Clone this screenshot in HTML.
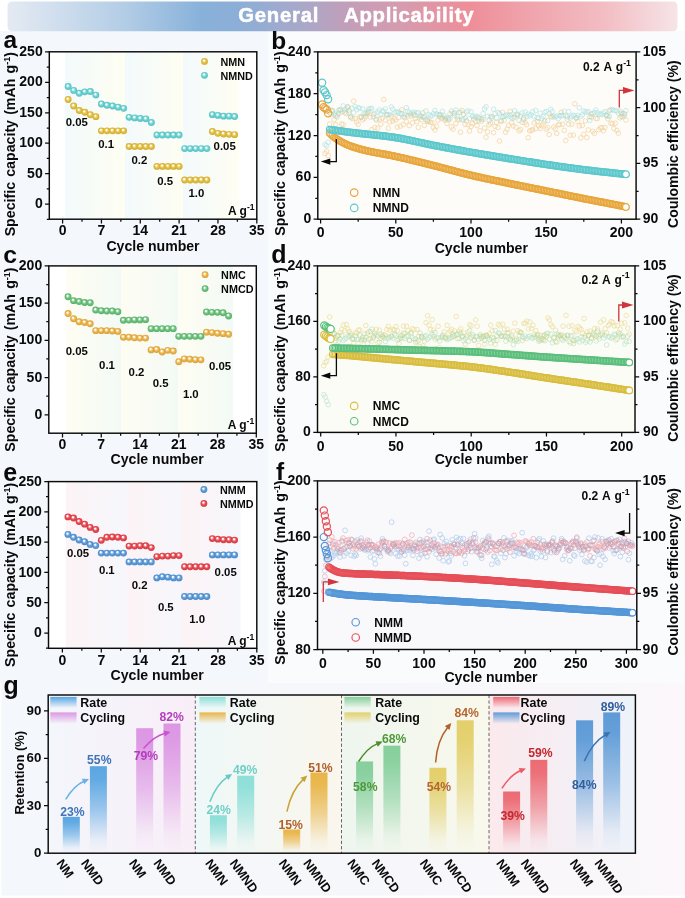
<!DOCTYPE html>
<html><head><meta charset="utf-8"><title>General Applicability</title>
<style>
html,body{margin:0;padding:0;background:#ffffff;}
body{width:685px;height:898px;overflow:hidden;}
svg{display:block;font-family:"Liberation Sans", sans-serif;font-weight:bold;will-change:transform;}
</style></head>
<body>
<svg width="685" height="898" viewBox="0 0 685 898">
<defs>
<linearGradient id="gbg" x1="0" y1="0" x2="1" y2="0"><stop offset="0" stop-color="#f4f7fb"/><stop offset="0.5" stop-color="#f6f7fb"/><stop offset="1" stop-color="#fbf7fa"/></linearGradient>
<linearGradient id="bnr" x1="8" y1="0" x2="677" y2="0" gradientUnits="userSpaceOnUse">
<stop offset="0" stop-color="#e4eaf3"/>
<stop offset="0.17" stop-color="#b4cee6"/>
<stop offset="0.29" stop-color="#88b1da"/>
<stop offset="0.35" stop-color="#8daed6"/>
<stop offset="0.44" stop-color="#a9a8c9"/>
<stop offset="0.51" stop-color="#c39eb9"/>
<stop offset="0.59" stop-color="#d69bae"/>
<stop offset="0.69" stop-color="#ee8e98"/>
<stop offset="0.78" stop-color="#f0a4ac"/>
<stop offset="0.89" stop-color="#f2bdc3"/>
<stop offset="1" stop-color="#f6e4e6"/>
</linearGradient>
<radialGradient id="sA1" cx="0.5" cy="0.5" r="0.55" fx="0.4" fy="0.34">
<stop offset="0" stop-color="#ffffff"/>
<stop offset="0.16" stop-color="#ffffff" stop-opacity="0.9"/>
<stop offset="0.3" stop-color="#f2dc8c"/>
<stop offset="0.55" stop-color="#e2c044"/>
<stop offset="1" stop-color="#cda62c"/>
</radialGradient>
<radialGradient id="sA2" cx="0.5" cy="0.5" r="0.55" fx="0.4" fy="0.34">
<stop offset="0" stop-color="#ffffff"/>
<stop offset="0.16" stop-color="#ffffff" stop-opacity="0.9"/>
<stop offset="0.3" stop-color="#aeeaea"/>
<stop offset="0.55" stop-color="#6dd0d1"/>
<stop offset="1" stop-color="#4fbdc0"/>
</radialGradient>
<linearGradient id="bA" x1="0" y1="0" x2="1" y2="0">
<stop offset="0" stop-color="#f3fafc"/><stop offset="1" stop-color="#fefef2"/></linearGradient>
<radialGradient id="sC1" cx="0.5" cy="0.5" r="0.55" fx="0.4" fy="0.34">
<stop offset="0" stop-color="#ffffff"/>
<stop offset="0.16" stop-color="#ffffff" stop-opacity="0.9"/>
<stop offset="0.3" stop-color="#f6d894"/>
<stop offset="0.55" stop-color="#eab44c"/>
<stop offset="1" stop-color="#d59c34"/>
</radialGradient>
<radialGradient id="sC2" cx="0.5" cy="0.5" r="0.55" fx="0.4" fy="0.34">
<stop offset="0" stop-color="#ffffff"/>
<stop offset="0.16" stop-color="#ffffff" stop-opacity="0.9"/>
<stop offset="0.3" stop-color="#aadeb4"/>
<stop offset="0.55" stop-color="#6dc27d"/>
<stop offset="1" stop-color="#52aa64"/>
</radialGradient>
<linearGradient id="bC" x1="0" y1="0" x2="1" y2="0">
<stop offset="0" stop-color="#fefdf3"/><stop offset="1" stop-color="#f3faf5"/></linearGradient>
<radialGradient id="sE1" cx="0.5" cy="0.5" r="0.55" fx="0.4" fy="0.34">
<stop offset="0" stop-color="#ffffff"/>
<stop offset="0.16" stop-color="#ffffff" stop-opacity="0.9"/>
<stop offset="0.3" stop-color="#a6caee"/>
<stop offset="0.55" stop-color="#5d9cd8"/>
<stop offset="1" stop-color="#4482c2"/>
</radialGradient>
<radialGradient id="sE2" cx="0.5" cy="0.5" r="0.55" fx="0.4" fy="0.34">
<stop offset="0" stop-color="#ffffff"/>
<stop offset="0.16" stop-color="#ffffff" stop-opacity="0.9"/>
<stop offset="0.3" stop-color="#f6a0a6"/>
<stop offset="0.55" stop-color="#e84a52"/>
<stop offset="1" stop-color="#cc343c"/>
</radialGradient>
<linearGradient id="bE" x1="0" y1="0" x2="1" y2="0">
<stop offset="0" stop-color="#fcf3f5"/><stop offset="1" stop-color="#f6f7fc"/></linearGradient>
<linearGradient id="gbg0" x1="0" y1="0" x2="1" y2="0">
<stop offset="0" stop-color="#f3f6fb"/><stop offset="1" stop-color="#f9eef7"/></linearGradient>
<linearGradient id="gbg1" x1="0" y1="0" x2="1" y2="0">
<stop offset="0" stop-color="#eef8f8"/><stop offset="1" stop-color="#faf6ed"/></linearGradient>
<linearGradient id="gbg2" x1="0" y1="0" x2="1" y2="0">
<stop offset="0" stop-color="#eef6ef"/><stop offset="1" stop-color="#f9f8ec"/></linearGradient>
<linearGradient id="gbg3" x1="0" y1="0" x2="1" y2="0">
<stop offset="0" stop-color="#fbe9ed"/><stop offset="1" stop-color="#eef3fa"/></linearGradient>
<linearGradient id="gb0rate" x1="0" y1="0" x2="0" y2="1"><stop offset="0" stop-color="#5aa6e2"/><stop offset="0.15" stop-color="#5aa6e2" stop-opacity="0.95"/><stop offset="0.5" stop-color="#5aa6e2" stop-opacity="0.58"/><stop offset="0.85" stop-color="#5aa6e2" stop-opacity="0.08"/><stop offset="1" stop-color="#5aa6e2" stop-opacity="0"/></linearGradient>
<linearGradient id="gb0cyc" x1="0" y1="0" x2="0" y2="1"><stop offset="0" stop-color="#dc97e3"/><stop offset="0.15" stop-color="#dc97e3" stop-opacity="0.95"/><stop offset="0.5" stop-color="#dc97e3" stop-opacity="0.58"/><stop offset="0.85" stop-color="#dc97e3" stop-opacity="0.08"/><stop offset="1" stop-color="#dc97e3" stop-opacity="0"/></linearGradient>
<linearGradient id="gl0rate" x1="0" y1="0" x2="0" y2="1"><stop offset="0" stop-color="#5aa6e2"/><stop offset="1" stop-color="#5aa6e2" stop-opacity="0.05"/></linearGradient>
<linearGradient id="gl0cyc" x1="0" y1="0" x2="0" y2="1"><stop offset="0" stop-color="#dc97e3"/><stop offset="1" stop-color="#dc97e3" stop-opacity="0.05"/></linearGradient>
<linearGradient id="gb1rate" x1="0" y1="0" x2="0" y2="1"><stop offset="0" stop-color="#8ddfd8"/><stop offset="0.15" stop-color="#8ddfd8" stop-opacity="0.95"/><stop offset="0.5" stop-color="#8ddfd8" stop-opacity="0.58"/><stop offset="0.85" stop-color="#8ddfd8" stop-opacity="0.08"/><stop offset="1" stop-color="#8ddfd8" stop-opacity="0"/></linearGradient>
<linearGradient id="gb1cyc" x1="0" y1="0" x2="0" y2="1"><stop offset="0" stop-color="#e9b548"/><stop offset="0.15" stop-color="#e9b548" stop-opacity="0.95"/><stop offset="0.5" stop-color="#e9b548" stop-opacity="0.58"/><stop offset="0.85" stop-color="#e9b548" stop-opacity="0.08"/><stop offset="1" stop-color="#e9b548" stop-opacity="0"/></linearGradient>
<linearGradient id="gl1rate" x1="0" y1="0" x2="0" y2="1"><stop offset="0" stop-color="#8ddfd8"/><stop offset="1" stop-color="#8ddfd8" stop-opacity="0.05"/></linearGradient>
<linearGradient id="gl1cyc" x1="0" y1="0" x2="0" y2="1"><stop offset="0" stop-color="#e9b548"/><stop offset="1" stop-color="#e9b548" stop-opacity="0.05"/></linearGradient>
<linearGradient id="gb2rate" x1="0" y1="0" x2="0" y2="1"><stop offset="0" stop-color="#86cf9c"/><stop offset="0.15" stop-color="#86cf9c" stop-opacity="0.95"/><stop offset="0.5" stop-color="#86cf9c" stop-opacity="0.58"/><stop offset="0.85" stop-color="#86cf9c" stop-opacity="0.08"/><stop offset="1" stop-color="#86cf9c" stop-opacity="0"/></linearGradient>
<linearGradient id="gb2cyc" x1="0" y1="0" x2="0" y2="1"><stop offset="0" stop-color="#e3cf6a"/><stop offset="0.15" stop-color="#e3cf6a" stop-opacity="0.95"/><stop offset="0.5" stop-color="#e3cf6a" stop-opacity="0.58"/><stop offset="0.85" stop-color="#e3cf6a" stop-opacity="0.08"/><stop offset="1" stop-color="#e3cf6a" stop-opacity="0"/></linearGradient>
<linearGradient id="gl2rate" x1="0" y1="0" x2="0" y2="1"><stop offset="0" stop-color="#86cf9c"/><stop offset="1" stop-color="#86cf9c" stop-opacity="0.05"/></linearGradient>
<linearGradient id="gl2cyc" x1="0" y1="0" x2="0" y2="1"><stop offset="0" stop-color="#e3cf6a"/><stop offset="1" stop-color="#e3cf6a" stop-opacity="0.05"/></linearGradient>
<linearGradient id="gb3rate" x1="0" y1="0" x2="0" y2="1"><stop offset="0" stop-color="#ec6b74"/><stop offset="0.15" stop-color="#ec6b74" stop-opacity="0.95"/><stop offset="0.5" stop-color="#ec6b74" stop-opacity="0.58"/><stop offset="0.85" stop-color="#ec6b74" stop-opacity="0.08"/><stop offset="1" stop-color="#ec6b74" stop-opacity="0"/></linearGradient>
<linearGradient id="gb3cyc" x1="0" y1="0" x2="0" y2="1"><stop offset="0" stop-color="#5e9bd7"/><stop offset="0.15" stop-color="#5e9bd7" stop-opacity="0.95"/><stop offset="0.5" stop-color="#5e9bd7" stop-opacity="0.58"/><stop offset="0.85" stop-color="#5e9bd7" stop-opacity="0.08"/><stop offset="1" stop-color="#5e9bd7" stop-opacity="0"/></linearGradient>
<linearGradient id="gl3rate" x1="0" y1="0" x2="0" y2="1"><stop offset="0" stop-color="#ec6b74"/><stop offset="1" stop-color="#ec6b74" stop-opacity="0.05"/></linearGradient>
<linearGradient id="gl3cyc" x1="0" y1="0" x2="0" y2="1"><stop offset="0" stop-color="#5e9bd7"/><stop offset="1" stop-color="#5e9bd7" stop-opacity="0.05"/></linearGradient>
</defs>
<rect x="0" y="0" width="685" height="898" fill="#ffffff"/>
<rect x="0" y="31" width="268" height="652" fill="#f4f7fb"/>
<rect x="268" y="31" width="417" height="652" fill="#fafbfc"/>
<rect x="0" y="683" width="685" height="212.5" fill="url(#gbg)"/>
<rect x="0" y="683" width="1.5" height="215" fill="#ffffff"/>
<rect x="7.5" y="1.5" width="670" height="29.7" rx="4.5" fill="url(#bnr)"/>
<g stroke="#ffffff" stroke-width="0.5">
<text x="238.3" y="21.9" font-size="20.3" text-anchor="start" fill="#ffffff" letter-spacing="0.75">General</text>
<text x="344" y="21.9" font-size="20.3" text-anchor="start" fill="#ffffff" letter-spacing="0.75">Applicability</text>
</g>
<rect x="49.3" y="51.8" width="207.5" height="167.4" fill="#ffffff"/>
<rect x="65" y="51.8" width="60" height="167.4" fill="url(#bA)"/>
<rect x="125" y="51.8" width="58" height="167.4" fill="url(#bA)"/>
<rect x="183" y="51.8" width="56" height="167.4" fill="url(#bA)"/>
<circle cx="68.15" cy="99.47" r="3.45" fill="url(#sA1)"/>
<circle cx="73.7" cy="105.99" r="3.45" fill="url(#sA1)"/>
<circle cx="79.25" cy="110.57" r="3.45" fill="url(#sA1)"/>
<circle cx="84.79" cy="112.27" r="3.45" fill="url(#sA1)"/>
<circle cx="90.34" cy="114.77" r="3.45" fill="url(#sA1)"/>
<circle cx="95.89" cy="116.66" r="3.45" fill="url(#sA1)"/>
<circle cx="101.44" cy="130.87" r="3.45" fill="url(#sA1)"/>
<circle cx="106.99" cy="130.87" r="3.45" fill="url(#sA1)"/>
<circle cx="112.54" cy="130.87" r="3.45" fill="url(#sA1)"/>
<circle cx="118.09" cy="130.87" r="3.45" fill="url(#sA1)"/>
<circle cx="123.63" cy="130.87" r="3.45" fill="url(#sA1)"/>
<circle cx="129.18" cy="146.53" r="3.45" fill="url(#sA1)"/>
<circle cx="134.73" cy="146.53" r="3.45" fill="url(#sA1)"/>
<circle cx="140.28" cy="146.53" r="3.45" fill="url(#sA1)"/>
<circle cx="145.83" cy="146.53" r="3.45" fill="url(#sA1)"/>
<circle cx="151.38" cy="146.53" r="3.45" fill="url(#sA1)"/>
<circle cx="156.93" cy="166.4" r="3.45" fill="url(#sA1)"/>
<circle cx="162.47" cy="166.4" r="3.45" fill="url(#sA1)"/>
<circle cx="168.02" cy="166.4" r="3.45" fill="url(#sA1)"/>
<circle cx="173.57" cy="166.4" r="3.45" fill="url(#sA1)"/>
<circle cx="179.12" cy="166.4" r="3.45" fill="url(#sA1)"/>
<circle cx="184.67" cy="180" r="3.45" fill="url(#sA1)"/>
<circle cx="190.22" cy="180" r="3.45" fill="url(#sA1)"/>
<circle cx="195.77" cy="180" r="3.45" fill="url(#sA1)"/>
<circle cx="201.31" cy="180" r="3.45" fill="url(#sA1)"/>
<circle cx="206.86" cy="180" r="3.45" fill="url(#sA1)"/>
<circle cx="212.41" cy="131.47" r="3.45" fill="url(#sA1)"/>
<circle cx="217.96" cy="133.36" r="3.45" fill="url(#sA1)"/>
<circle cx="223.51" cy="133.97" r="3.45" fill="url(#sA1)"/>
<circle cx="229.06" cy="134.34" r="3.45" fill="url(#sA1)"/>
<circle cx="234.61" cy="134.64" r="3.45" fill="url(#sA1)"/>
<circle cx="68.15" cy="86.49" r="3.45" fill="url(#sA2)"/>
<circle cx="73.7" cy="90.39" r="3.45" fill="url(#sA2)"/>
<circle cx="79.25" cy="93.25" r="3.45" fill="url(#sA2)"/>
<circle cx="84.79" cy="91.85" r="3.45" fill="url(#sA2)"/>
<circle cx="90.34" cy="91.55" r="3.45" fill="url(#sA2)"/>
<circle cx="95.89" cy="95.08" r="3.45" fill="url(#sA2)"/>
<circle cx="101.44" cy="103.98" r="3.45" fill="url(#sA2)"/>
<circle cx="106.99" cy="105.26" r="3.45" fill="url(#sA2)"/>
<circle cx="112.54" cy="106.05" r="3.45" fill="url(#sA2)"/>
<circle cx="118.09" cy="107.15" r="3.45" fill="url(#sA2)"/>
<circle cx="123.63" cy="108.37" r="3.45" fill="url(#sA2)"/>
<circle cx="129.18" cy="117.33" r="3.45" fill="url(#sA2)"/>
<circle cx="134.73" cy="117.88" r="3.45" fill="url(#sA2)"/>
<circle cx="140.28" cy="118.43" r="3.45" fill="url(#sA2)"/>
<circle cx="145.83" cy="118.86" r="3.45" fill="url(#sA2)"/>
<circle cx="151.38" cy="122.45" r="3.45" fill="url(#sA2)"/>
<circle cx="156.93" cy="135.07" r="3.45" fill="url(#sA2)"/>
<circle cx="162.47" cy="135.07" r="3.45" fill="url(#sA2)"/>
<circle cx="168.02" cy="135.07" r="3.45" fill="url(#sA2)"/>
<circle cx="173.57" cy="135.07" r="3.45" fill="url(#sA2)"/>
<circle cx="179.12" cy="135.07" r="3.45" fill="url(#sA2)"/>
<circle cx="184.67" cy="148.6" r="3.45" fill="url(#sA2)"/>
<circle cx="190.22" cy="148.6" r="3.45" fill="url(#sA2)"/>
<circle cx="195.77" cy="148.6" r="3.45" fill="url(#sA2)"/>
<circle cx="201.31" cy="148.6" r="3.45" fill="url(#sA2)"/>
<circle cx="206.86" cy="148.6" r="3.45" fill="url(#sA2)"/>
<circle cx="212.41" cy="114.65" r="3.45" fill="url(#sA2)"/>
<circle cx="217.96" cy="115.38" r="3.45" fill="url(#sA2)"/>
<circle cx="223.51" cy="116.17" r="3.45" fill="url(#sA2)"/>
<circle cx="229.06" cy="116.17" r="3.45" fill="url(#sA2)"/>
<circle cx="234.61" cy="116.54" r="3.45" fill="url(#sA2)"/>
<circle cx="204.5" cy="61.4" r="3.4" fill="url(#sA1)"/>
<text x="220.5" y="65.7" font-size="10.8" text-anchor="start" fill="#0a0a0a">NMN</text>
<circle cx="204.5" cy="75.3" r="3.4" fill="url(#sA2)"/>
<text x="220.5" y="79.6" font-size="10.8" text-anchor="start" fill="#0a0a0a">NMND</text>
<text x="76.8" y="126.1" font-size="11.4" text-anchor="middle" fill="#0a0a0a">0.05</text>
<text x="106.2" y="147.7" font-size="11.4" text-anchor="middle" fill="#0a0a0a">0.1</text>
<text x="139.4" y="164.1" font-size="11.4" text-anchor="middle" fill="#0a0a0a">0.2</text>
<text x="165.2" y="184.7" font-size="11.4" text-anchor="middle" fill="#0a0a0a">0.5</text>
<text x="196.4" y="196.6" font-size="11.4" text-anchor="middle" fill="#0a0a0a">1.0</text>
<text x="224.7" y="150.4" font-size="11.4" text-anchor="middle" fill="#0a0a0a">0.05</text>
<text x="254.6" y="214.7" font-size="12" text-anchor="end" fill="#0a0a0a">A g<tspan font-size="8.6" dy="-5">-1</tspan></text>
<rect x="49.3" y="51.8" width="207.5" height="167.4" fill="none" stroke="#0a0a0a" stroke-width="1.45"/>
<path d="M49.3 204.2h-4.2 M49.3 173.72h-4.2 M49.3 143.24h-4.2 M49.3 112.76h-4.2 M49.3 82.28h-4.2 M49.3 51.8h-4.2 M49.3 219.44h-2.5 M49.3 188.96h-2.5 M49.3 158.48h-2.5 M49.3 128h-2.5 M49.3 97.52h-2.5 M49.3 67.04h-2.5" stroke="#0a0a0a" stroke-width="1.25" fill="none"/>
<text x="42.7" y="208.26" font-size="14" text-anchor="end" fill="#0a0a0a">0</text>
<text x="42.7" y="177.78" font-size="14" text-anchor="end" fill="#0a0a0a">50</text>
<text x="42.7" y="147.3" font-size="14" text-anchor="end" fill="#0a0a0a">100</text>
<text x="42.7" y="116.82" font-size="14" text-anchor="end" fill="#0a0a0a">150</text>
<text x="42.7" y="86.34" font-size="14" text-anchor="end" fill="#0a0a0a">200</text>
<text x="42.7" y="55.86" font-size="14" text-anchor="end" fill="#0a0a0a">250</text>
<path d="M62.6 219.2v4.2 M101.44 219.2v4.2 M140.28 219.2v4.2 M179.12 219.2v4.2 M217.96 219.2v4.2 M256.8 219.2v4.2 M82.02 219.2v2.5 M120.86 219.2v2.5 M159.7 219.2v2.5 M198.54 219.2v2.5 M237.38 219.2v2.5" stroke="#0a0a0a" stroke-width="1.25" fill="none"/>
<text x="62.6" y="235.3" font-size="14" text-anchor="middle" fill="#0a0a0a">0</text>
<text x="101.44" y="235.3" font-size="14" text-anchor="middle" fill="#0a0a0a">7</text>
<text x="140.28" y="235.3" font-size="14" text-anchor="middle" fill="#0a0a0a">14</text>
<text x="179.12" y="235.3" font-size="14" text-anchor="middle" fill="#0a0a0a">21</text>
<text x="217.96" y="235.3" font-size="14" text-anchor="middle" fill="#0a0a0a">28</text>
<text x="256.8" y="235.3" font-size="14" text-anchor="middle" fill="#0a0a0a">35</text>
<text x="153" y="251" font-size="14.1" text-anchor="middle" fill="#0a0a0a">Cycle number</text>
<text x="0" y="0" font-size="14.2" text-anchor="middle" fill="#0a0a0a" word-spacing="1.2" transform="translate(15.4,144.2) rotate(-90)">Specific capacity (mAh g<tspan font-size="9" dy="-5.2">-1</tspan><tspan dy="5.2">)</tspan></text>
<text x="3.5" y="47.9" font-size="24.5" text-anchor="start" fill="#0a0a0a">a</text>
<rect x="48.8" y="265.9" width="207.5" height="167.3" fill="#ffffff"/>
<rect x="66.5" y="265.9" width="54.5" height="167.3" fill="url(#bC)"/>
<rect x="121" y="265.9" width="57" height="167.3" fill="url(#bC)"/>
<rect x="178" y="265.9" width="55" height="167.3" fill="url(#bC)"/>
<circle cx="68.04" cy="313.55" r="3.45" fill="url(#sC1)"/>
<circle cx="73.57" cy="318.76" r="3.45" fill="url(#sC1)"/>
<circle cx="79.11" cy="321.74" r="3.45" fill="url(#sC1)"/>
<circle cx="84.65" cy="322.48" r="3.45" fill="url(#sC1)"/>
<circle cx="90.19" cy="323.82" r="3.45" fill="url(#sC1)"/>
<circle cx="95.72" cy="330.67" r="3.45" fill="url(#sC1)"/>
<circle cx="101.26" cy="330.67" r="3.45" fill="url(#sC1)"/>
<circle cx="106.8" cy="330.67" r="3.45" fill="url(#sC1)"/>
<circle cx="112.33" cy="330.97" r="3.45" fill="url(#sC1)"/>
<circle cx="117.87" cy="331.42" r="3.45" fill="url(#sC1)"/>
<circle cx="123.41" cy="337.22" r="3.45" fill="url(#sC1)"/>
<circle cx="128.95" cy="337.22" r="3.45" fill="url(#sC1)"/>
<circle cx="134.48" cy="337.74" r="3.45" fill="url(#sC1)"/>
<circle cx="140.02" cy="338.12" r="3.45" fill="url(#sC1)"/>
<circle cx="145.56" cy="338.12" r="3.45" fill="url(#sC1)"/>
<circle cx="151.09" cy="349.88" r="3.45" fill="url(#sC1)"/>
<circle cx="156.63" cy="349.51" r="3.45" fill="url(#sC1)"/>
<circle cx="162.17" cy="351.96" r="3.45" fill="url(#sC1)"/>
<circle cx="167.71" cy="350.33" r="3.45" fill="url(#sC1)"/>
<circle cx="173.24" cy="351.07" r="3.45" fill="url(#sC1)"/>
<circle cx="178.78" cy="361.72" r="3.45" fill="url(#sC1)"/>
<circle cx="184.32" cy="358.89" r="3.45" fill="url(#sC1)"/>
<circle cx="189.85" cy="359.26" r="3.45" fill="url(#sC1)"/>
<circle cx="195.39" cy="359.71" r="3.45" fill="url(#sC1)"/>
<circle cx="200.93" cy="359.86" r="3.45" fill="url(#sC1)"/>
<circle cx="206.47" cy="332.16" r="3.45" fill="url(#sC1)"/>
<circle cx="212" cy="332.61" r="3.45" fill="url(#sC1)"/>
<circle cx="217.54" cy="333.28" r="3.45" fill="url(#sC1)"/>
<circle cx="223.08" cy="333.65" r="3.45" fill="url(#sC1)"/>
<circle cx="228.61" cy="334.25" r="3.45" fill="url(#sC1)"/>
<circle cx="68.04" cy="296.72" r="3.45" fill="url(#sC2)"/>
<circle cx="73.57" cy="300.67" r="3.45" fill="url(#sC2)"/>
<circle cx="79.11" cy="301.56" r="3.45" fill="url(#sC2)"/>
<circle cx="84.65" cy="302.45" r="3.45" fill="url(#sC2)"/>
<circle cx="90.19" cy="302.75" r="3.45" fill="url(#sC2)"/>
<circle cx="95.72" cy="310.05" r="3.45" fill="url(#sC2)"/>
<circle cx="101.26" cy="310.72" r="3.45" fill="url(#sC2)"/>
<circle cx="106.8" cy="311.02" r="3.45" fill="url(#sC2)"/>
<circle cx="112.33" cy="311.02" r="3.45" fill="url(#sC2)"/>
<circle cx="117.87" cy="311.69" r="3.45" fill="url(#sC2)"/>
<circle cx="123.41" cy="320.32" r="3.45" fill="url(#sC2)"/>
<circle cx="128.95" cy="320.1" r="3.45" fill="url(#sC2)"/>
<circle cx="134.48" cy="319.88" r="3.45" fill="url(#sC2)"/>
<circle cx="140.02" cy="319.88" r="3.45" fill="url(#sC2)"/>
<circle cx="145.56" cy="319.65" r="3.45" fill="url(#sC2)"/>
<circle cx="151.09" cy="328.66" r="3.45" fill="url(#sC2)"/>
<circle cx="156.63" cy="328.66" r="3.45" fill="url(#sC2)"/>
<circle cx="162.17" cy="328.66" r="3.45" fill="url(#sC2)"/>
<circle cx="167.71" cy="328.66" r="3.45" fill="url(#sC2)"/>
<circle cx="173.24" cy="328.66" r="3.45" fill="url(#sC2)"/>
<circle cx="178.78" cy="336.33" r="3.45" fill="url(#sC2)"/>
<circle cx="184.32" cy="336.33" r="3.45" fill="url(#sC2)"/>
<circle cx="189.85" cy="336.33" r="3.45" fill="url(#sC2)"/>
<circle cx="195.39" cy="336.33" r="3.45" fill="url(#sC2)"/>
<circle cx="200.93" cy="336.33" r="3.45" fill="url(#sC2)"/>
<circle cx="206.47" cy="311.98" r="3.45" fill="url(#sC2)"/>
<circle cx="212" cy="312.36" r="3.45" fill="url(#sC2)"/>
<circle cx="217.54" cy="312.36" r="3.45" fill="url(#sC2)"/>
<circle cx="223.08" cy="312.8" r="3.45" fill="url(#sC2)"/>
<circle cx="228.61" cy="315.93" r="3.45" fill="url(#sC2)"/>
<circle cx="205.1" cy="274.7" r="3.4" fill="url(#sC1)"/>
<text x="221.1" y="279" font-size="10.8" text-anchor="start" fill="#0a0a0a">NMC</text>
<circle cx="205.1" cy="288.6" r="3.4" fill="url(#sC2)"/>
<text x="221.1" y="292.9" font-size="10.8" text-anchor="start" fill="#0a0a0a">NMCD</text>
<text x="76.8" y="355.4" font-size="11.4" text-anchor="middle" fill="#0a0a0a">0.05</text>
<text x="107" y="368.5" font-size="11.4" text-anchor="middle" fill="#0a0a0a">0.1</text>
<text x="136.5" y="375.9" font-size="11.4" text-anchor="middle" fill="#0a0a0a">0.2</text>
<text x="160.6" y="386.9" font-size="11.4" text-anchor="middle" fill="#0a0a0a">0.5</text>
<text x="190.8" y="397.8" font-size="11.4" text-anchor="middle" fill="#0a0a0a">1.0</text>
<text x="220" y="370.3" font-size="11.4" text-anchor="middle" fill="#0a0a0a">0.05</text>
<text x="254.2" y="428.9" font-size="12" text-anchor="end" fill="#0a0a0a">A g<tspan font-size="8.6" dy="-5">-1</tspan></text>
<rect x="48.8" y="265.9" width="207.5" height="167.3" fill="none" stroke="#0a0a0a" stroke-width="1.45"/>
<path d="M48.8 414.8h-4.2 M48.8 377.57h-4.2 M48.8 340.35h-4.2 M48.8 303.12h-4.2 M48.8 265.9h-4.2 M48.8 396.19h-2.5 M48.8 358.96h-2.5 M48.8 321.74h-2.5 M48.8 284.51h-2.5" stroke="#0a0a0a" stroke-width="1.25" fill="none"/>
<text x="42.2" y="418.86" font-size="14" text-anchor="end" fill="#0a0a0a">0</text>
<text x="42.2" y="381.63" font-size="14" text-anchor="end" fill="#0a0a0a">50</text>
<text x="42.2" y="344.41" font-size="14" text-anchor="end" fill="#0a0a0a">100</text>
<text x="42.2" y="307.19" font-size="14" text-anchor="end" fill="#0a0a0a">150</text>
<text x="42.2" y="269.96" font-size="14" text-anchor="end" fill="#0a0a0a">200</text>
<path d="M62.5 433.2v4.2 M101.26 433.2v4.2 M140.02 433.2v4.2 M178.78 433.2v4.2 M217.54 433.2v4.2 M256.3 433.2v4.2 M81.88 433.2v2.5 M120.64 433.2v2.5 M159.4 433.2v2.5 M198.16 433.2v2.5 M236.92 433.2v2.5" stroke="#0a0a0a" stroke-width="1.25" fill="none"/>
<text x="62.5" y="449.3" font-size="14" text-anchor="middle" fill="#0a0a0a">0</text>
<text x="101.26" y="449.3" font-size="14" text-anchor="middle" fill="#0a0a0a">7</text>
<text x="140.02" y="449.3" font-size="14" text-anchor="middle" fill="#0a0a0a">14</text>
<text x="178.78" y="449.3" font-size="14" text-anchor="middle" fill="#0a0a0a">21</text>
<text x="217.54" y="449.3" font-size="14" text-anchor="middle" fill="#0a0a0a">28</text>
<text x="256.3" y="449.3" font-size="14" text-anchor="middle" fill="#0a0a0a">35</text>
<text x="157.2" y="464" font-size="14.1" text-anchor="middle" fill="#0a0a0a">Cycle number</text>
<text x="0" y="0" font-size="14.2" text-anchor="middle" fill="#0a0a0a" word-spacing="1.2" transform="translate(15.4,359.6) rotate(-90)">Specific capacity (mAh g<tspan font-size="9" dy="-5.2">-1</tspan><tspan dy="5.2">)</tspan></text>
<text x="3.3" y="262.85" font-size="24.8" text-anchor="start" fill="#0a0a0a">c</text>
<rect x="48.5" y="481.6" width="208.3" height="166.7" fill="#ffffff"/>
<rect x="66" y="481.6" width="60.5" height="166.7" fill="url(#bE)"/>
<rect x="126.5" y="481.6" width="54.5" height="166.7" fill="url(#bE)"/>
<rect x="181" y="481.6" width="59.5" height="166.7" fill="url(#bE)"/>
<circle cx="67.95" cy="534.41" r="3.45" fill="url(#sE1)"/>
<circle cx="73.51" cy="537.32" r="3.45" fill="url(#sE1)"/>
<circle cx="79.06" cy="539.98" r="3.45" fill="url(#sE1)"/>
<circle cx="84.62" cy="541.74" r="3.45" fill="url(#sE1)"/>
<circle cx="90.17" cy="544.4" r="3.45" fill="url(#sE1)"/>
<circle cx="95.73" cy="545.61" r="3.45" fill="url(#sE1)"/>
<circle cx="101.28" cy="553.12" r="3.45" fill="url(#sE1)"/>
<circle cx="106.83" cy="553.12" r="3.45" fill="url(#sE1)"/>
<circle cx="112.39" cy="553.12" r="3.45" fill="url(#sE1)"/>
<circle cx="117.94" cy="553.12" r="3.45" fill="url(#sE1)"/>
<circle cx="123.5" cy="553.12" r="3.45" fill="url(#sE1)"/>
<circle cx="129.05" cy="561.9" r="3.45" fill="url(#sE1)"/>
<circle cx="134.61" cy="561.9" r="3.45" fill="url(#sE1)"/>
<circle cx="140.16" cy="561.9" r="3.45" fill="url(#sE1)"/>
<circle cx="145.71" cy="561.9" r="3.45" fill="url(#sE1)"/>
<circle cx="151.27" cy="561.9" r="3.45" fill="url(#sE1)"/>
<circle cx="156.82" cy="577.89" r="3.45" fill="url(#sE1)"/>
<circle cx="162.38" cy="576.74" r="3.45" fill="url(#sE1)"/>
<circle cx="167.93" cy="577.16" r="3.45" fill="url(#sE1)"/>
<circle cx="173.49" cy="577.89" r="3.45" fill="url(#sE1)"/>
<circle cx="179.04" cy="577.89" r="3.45" fill="url(#sE1)"/>
<circle cx="184.59" cy="596.48" r="3.45" fill="url(#sE1)"/>
<circle cx="190.15" cy="596.48" r="3.45" fill="url(#sE1)"/>
<circle cx="195.7" cy="596.48" r="3.45" fill="url(#sE1)"/>
<circle cx="201.26" cy="596.48" r="3.45" fill="url(#sE1)"/>
<circle cx="206.81" cy="596.48" r="3.45" fill="url(#sE1)"/>
<circle cx="212.37" cy="554.88" r="3.45" fill="url(#sE1)"/>
<circle cx="217.92" cy="554.88" r="3.45" fill="url(#sE1)"/>
<circle cx="223.47" cy="554.88" r="3.45" fill="url(#sE1)"/>
<circle cx="229.03" cy="554.88" r="3.45" fill="url(#sE1)"/>
<circle cx="234.58" cy="554.88" r="3.45" fill="url(#sE1)"/>
<circle cx="67.95" cy="516.91" r="3.45" fill="url(#sE2)"/>
<circle cx="73.51" cy="518.06" r="3.45" fill="url(#sE2)"/>
<circle cx="79.06" cy="521.57" r="3.45" fill="url(#sE2)"/>
<circle cx="84.62" cy="524.17" r="3.45" fill="url(#sE2)"/>
<circle cx="90.17" cy="527.38" r="3.45" fill="url(#sE2)"/>
<circle cx="95.73" cy="529.5" r="3.45" fill="url(#sE2)"/>
<circle cx="101.28" cy="540.34" r="3.45" fill="url(#sE2)"/>
<circle cx="106.83" cy="537.32" r="3.45" fill="url(#sE2)"/>
<circle cx="112.39" cy="537.01" r="3.45" fill="url(#sE2)"/>
<circle cx="117.94" cy="537.32" r="3.45" fill="url(#sE2)"/>
<circle cx="123.5" cy="537.92" r="3.45" fill="url(#sE2)"/>
<circle cx="129.05" cy="546.1" r="3.45" fill="url(#sE2)"/>
<circle cx="134.61" cy="546.1" r="3.45" fill="url(#sE2)"/>
<circle cx="140.16" cy="545.79" r="3.45" fill="url(#sE2)"/>
<circle cx="145.71" cy="545.79" r="3.45" fill="url(#sE2)"/>
<circle cx="151.27" cy="547.61" r="3.45" fill="url(#sE2)"/>
<circle cx="156.82" cy="556.69" r="3.45" fill="url(#sE2)"/>
<circle cx="162.38" cy="556.09" r="3.45" fill="url(#sE2)"/>
<circle cx="167.93" cy="556.09" r="3.45" fill="url(#sE2)"/>
<circle cx="173.49" cy="555.6" r="3.45" fill="url(#sE2)"/>
<circle cx="179.04" cy="555.6" r="3.45" fill="url(#sE2)"/>
<circle cx="184.59" cy="566.81" r="3.45" fill="url(#sE2)"/>
<circle cx="190.15" cy="566.81" r="3.45" fill="url(#sE2)"/>
<circle cx="195.7" cy="566.81" r="3.45" fill="url(#sE2)"/>
<circle cx="201.26" cy="566.81" r="3.45" fill="url(#sE2)"/>
<circle cx="206.81" cy="566.81" r="3.45" fill="url(#sE2)"/>
<circle cx="212.37" cy="538.59" r="3.45" fill="url(#sE2)"/>
<circle cx="217.92" cy="539.13" r="3.45" fill="url(#sE2)"/>
<circle cx="223.47" cy="539.74" r="3.45" fill="url(#sE2)"/>
<circle cx="229.03" cy="539.74" r="3.45" fill="url(#sE2)"/>
<circle cx="234.58" cy="540.1" r="3.45" fill="url(#sE2)"/>
<circle cx="203.9" cy="489.5" r="3.4" fill="url(#sE1)"/>
<text x="219.9" y="493.8" font-size="10.8" text-anchor="start" fill="#0a0a0a">NMM</text>
<circle cx="203.9" cy="503.4" r="3.4" fill="url(#sE2)"/>
<text x="219.9" y="507.7" font-size="10.8" text-anchor="start" fill="#0a0a0a">NMMD</text>
<text x="78" y="556.7" font-size="11.4" text-anchor="middle" fill="#0a0a0a">0.05</text>
<text x="106.8" y="574.2" font-size="11.4" text-anchor="middle" fill="#0a0a0a">0.1</text>
<text x="139.6" y="589.1" font-size="11.4" text-anchor="middle" fill="#0a0a0a">0.2</text>
<text x="165.8" y="610.6" font-size="11.4" text-anchor="middle" fill="#0a0a0a">0.5</text>
<text x="197.1" y="622.7" font-size="11.4" text-anchor="middle" fill="#0a0a0a">1.0</text>
<text x="225.7" y="575.8" font-size="11.4" text-anchor="middle" fill="#0a0a0a">0.05</text>
<text x="254.2" y="645.1" font-size="12" text-anchor="end" fill="#0a0a0a">A g<tspan font-size="8.6" dy="-5">-1</tspan></text>
<rect x="48.5" y="481.6" width="208.3" height="166.7" fill="none" stroke="#0a0a0a" stroke-width="1.45"/>
<path d="M48.5 633h-4.2 M48.5 602.72h-4.2 M48.5 572.44h-4.2 M48.5 542.16h-4.2 M48.5 511.88h-4.2 M48.5 481.6h-4.2 M48.5 648.14h-2.5 M48.5 617.86h-2.5 M48.5 587.58h-2.5 M48.5 557.3h-2.5 M48.5 527.02h-2.5 M48.5 496.74h-2.5" stroke="#0a0a0a" stroke-width="1.25" fill="none"/>
<text x="41.9" y="637.06" font-size="14" text-anchor="end" fill="#0a0a0a">0</text>
<text x="41.9" y="606.78" font-size="14" text-anchor="end" fill="#0a0a0a">50</text>
<text x="41.9" y="576.5" font-size="14" text-anchor="end" fill="#0a0a0a">100</text>
<text x="41.9" y="546.22" font-size="14" text-anchor="end" fill="#0a0a0a">150</text>
<text x="41.9" y="515.94" font-size="14" text-anchor="end" fill="#0a0a0a">200</text>
<text x="41.9" y="485.66" font-size="14" text-anchor="end" fill="#0a0a0a">250</text>
<path d="M62.4 648.3v4.2 M101.28 648.3v4.2 M140.16 648.3v4.2 M179.04 648.3v4.2 M217.92 648.3v4.2 M256.8 648.3v4.2 M81.84 648.3v2.5 M120.72 648.3v2.5 M159.6 648.3v2.5 M198.48 648.3v2.5 M237.36 648.3v2.5" stroke="#0a0a0a" stroke-width="1.25" fill="none"/>
<text x="62.4" y="665.3" font-size="14" text-anchor="middle" fill="#0a0a0a">0</text>
<text x="101.28" y="665.3" font-size="14" text-anchor="middle" fill="#0a0a0a">7</text>
<text x="140.16" y="665.3" font-size="14" text-anchor="middle" fill="#0a0a0a">14</text>
<text x="179.04" y="665.3" font-size="14" text-anchor="middle" fill="#0a0a0a">21</text>
<text x="217.92" y="665.3" font-size="14" text-anchor="middle" fill="#0a0a0a">28</text>
<text x="256.8" y="665.3" font-size="14" text-anchor="middle" fill="#0a0a0a">35</text>
<text x="157.2" y="679.6" font-size="14.1" text-anchor="middle" fill="#0a0a0a">Cycle number</text>
<text x="0" y="0" font-size="14.2" text-anchor="middle" fill="#0a0a0a" word-spacing="1.2" transform="translate(15.4,574.8) rotate(-90)">Specific capacity (mAh g<tspan font-size="9" dy="-5.2">-1</tspan><tspan dy="5.2">)</tspan></text>
<text x="3.3" y="481.25" font-size="25" text-anchor="start" fill="#0a0a0a">e</text>
<rect x="317.8" y="51.9" width="318.3" height="167.3" fill="#fdfcf9"/>
<g opacity="0.45"><circle cx="325.11" cy="153.4" r="2.3" fill="none" stroke="#e8a63c" stroke-width="0.8"/><circle cx="326.62" cy="151.16" r="2.3" fill="none" stroke="#e8a63c" stroke-width="0.8"/><circle cx="328.12" cy="155.63" r="2.3" fill="none" stroke="#e8a63c" stroke-width="0.8"/><circle cx="329.62" cy="124.1" r="2.3" fill="none" stroke="#e8a63c" stroke-width="0.8"/><circle cx="331.13" cy="114.27" r="2.3" fill="none" stroke="#e8a63c" stroke-width="0.8"/><circle cx="332.63" cy="110.49" r="2.3" fill="none" stroke="#e8a63c" stroke-width="0.8"/><circle cx="334.14" cy="119.74" r="2.3" fill="none" stroke="#e8a63c" stroke-width="0.8"/><circle cx="335.64" cy="124.74" r="2.3" fill="none" stroke="#e8a63c" stroke-width="0.8"/><circle cx="337.14" cy="116.99" r="2.3" fill="none" stroke="#e8a63c" stroke-width="0.8"/><circle cx="338.65" cy="113.66" r="2.3" fill="none" stroke="#e8a63c" stroke-width="0.8"/><circle cx="340.15" cy="109.85" r="2.3" fill="none" stroke="#e8a63c" stroke-width="0.8"/><circle cx="341.66" cy="124.05" r="2.3" fill="none" stroke="#e8a63c" stroke-width="0.8"/><circle cx="343.16" cy="124.52" r="2.3" fill="none" stroke="#e8a63c" stroke-width="0.8"/><circle cx="344.66" cy="112.26" r="2.3" fill="none" stroke="#e8a63c" stroke-width="0.8"/><circle cx="346.17" cy="113.68" r="2.3" fill="none" stroke="#e8a63c" stroke-width="0.8"/><circle cx="347.67" cy="107.18" r="2.3" fill="none" stroke="#e8a63c" stroke-width="0.8"/><circle cx="349.18" cy="110.56" r="2.3" fill="none" stroke="#e8a63c" stroke-width="0.8"/><circle cx="350.68" cy="117.21" r="2.3" fill="none" stroke="#e8a63c" stroke-width="0.8"/><circle cx="352.18" cy="118.41" r="2.3" fill="none" stroke="#e8a63c" stroke-width="0.8"/><circle cx="353.69" cy="101.11" r="2.3" fill="none" stroke="#e8a63c" stroke-width="0.8"/><circle cx="355.19" cy="118.79" r="2.3" fill="none" stroke="#e8a63c" stroke-width="0.8"/><circle cx="356.7" cy="121.98" r="2.3" fill="none" stroke="#e8a63c" stroke-width="0.8"/><circle cx="358.2" cy="124.29" r="2.3" fill="none" stroke="#e8a63c" stroke-width="0.8"/><circle cx="359.7" cy="116.86" r="2.3" fill="none" stroke="#e8a63c" stroke-width="0.8"/><circle cx="361.21" cy="116.7" r="2.3" fill="none" stroke="#e8a63c" stroke-width="0.8"/><circle cx="362.71" cy="119.85" r="2.3" fill="none" stroke="#e8a63c" stroke-width="0.8"/><circle cx="364.22" cy="118.26" r="2.3" fill="none" stroke="#e8a63c" stroke-width="0.8"/><circle cx="365.72" cy="116.34" r="2.3" fill="none" stroke="#e8a63c" stroke-width="0.8"/><circle cx="367.22" cy="113.91" r="2.3" fill="none" stroke="#e8a63c" stroke-width="0.8"/><circle cx="368.73" cy="111.57" r="2.3" fill="none" stroke="#e8a63c" stroke-width="0.8"/><circle cx="370.23" cy="117.16" r="2.3" fill="none" stroke="#e8a63c" stroke-width="0.8"/><circle cx="371.74" cy="129.56" r="2.3" fill="none" stroke="#e8a63c" stroke-width="0.8"/><circle cx="373.24" cy="114.42" r="2.3" fill="none" stroke="#e8a63c" stroke-width="0.8"/><circle cx="374.74" cy="127.57" r="2.3" fill="none" stroke="#e8a63c" stroke-width="0.8"/><circle cx="376.25" cy="120.05" r="2.3" fill="none" stroke="#e8a63c" stroke-width="0.8"/><circle cx="377.75" cy="128.18" r="2.3" fill="none" stroke="#e8a63c" stroke-width="0.8"/><circle cx="379.26" cy="119.27" r="2.3" fill="none" stroke="#e8a63c" stroke-width="0.8"/><circle cx="380.76" cy="124.19" r="2.3" fill="none" stroke="#e8a63c" stroke-width="0.8"/><circle cx="382.26" cy="118.24" r="2.3" fill="none" stroke="#e8a63c" stroke-width="0.8"/><circle cx="383.77" cy="99.45" r="2.3" fill="none" stroke="#e8a63c" stroke-width="0.8"/><circle cx="385.27" cy="120.13" r="2.3" fill="none" stroke="#e8a63c" stroke-width="0.8"/><circle cx="386.78" cy="114.8" r="2.3" fill="none" stroke="#e8a63c" stroke-width="0.8"/><circle cx="388.28" cy="128.21" r="2.3" fill="none" stroke="#e8a63c" stroke-width="0.8"/><circle cx="389.78" cy="122" r="2.3" fill="none" stroke="#e8a63c" stroke-width="0.8"/><circle cx="391.29" cy="116.3" r="2.3" fill="none" stroke="#e8a63c" stroke-width="0.8"/><circle cx="392.79" cy="121.07" r="2.3" fill="none" stroke="#e8a63c" stroke-width="0.8"/><circle cx="394.3" cy="118.36" r="2.3" fill="none" stroke="#e8a63c" stroke-width="0.8"/><circle cx="395.8" cy="120.13" r="2.3" fill="none" stroke="#e8a63c" stroke-width="0.8"/><circle cx="397.3" cy="127.06" r="2.3" fill="none" stroke="#e8a63c" stroke-width="0.8"/><circle cx="398.81" cy="117.56" r="2.3" fill="none" stroke="#e8a63c" stroke-width="0.8"/><circle cx="400.31" cy="126.13" r="2.3" fill="none" stroke="#e8a63c" stroke-width="0.8"/><circle cx="401.82" cy="109.79" r="2.3" fill="none" stroke="#e8a63c" stroke-width="0.8"/><circle cx="403.32" cy="124.5" r="2.3" fill="none" stroke="#e8a63c" stroke-width="0.8"/><circle cx="404.82" cy="117.32" r="2.3" fill="none" stroke="#e8a63c" stroke-width="0.8"/><circle cx="406.33" cy="121.64" r="2.3" fill="none" stroke="#e8a63c" stroke-width="0.8"/><circle cx="407.83" cy="115.93" r="2.3" fill="none" stroke="#e8a63c" stroke-width="0.8"/><circle cx="409.34" cy="125.59" r="2.3" fill="none" stroke="#e8a63c" stroke-width="0.8"/><circle cx="410.84" cy="115.89" r="2.3" fill="none" stroke="#e8a63c" stroke-width="0.8"/><circle cx="412.34" cy="122.9" r="2.3" fill="none" stroke="#e8a63c" stroke-width="0.8"/><circle cx="413.85" cy="114.51" r="2.3" fill="none" stroke="#e8a63c" stroke-width="0.8"/><circle cx="415.35" cy="118.54" r="2.3" fill="none" stroke="#e8a63c" stroke-width="0.8"/><circle cx="416.86" cy="121.62" r="2.3" fill="none" stroke="#e8a63c" stroke-width="0.8"/><circle cx="418.36" cy="127.39" r="2.3" fill="none" stroke="#e8a63c" stroke-width="0.8"/><circle cx="419.86" cy="118.01" r="2.3" fill="none" stroke="#e8a63c" stroke-width="0.8"/><circle cx="421.37" cy="119.96" r="2.3" fill="none" stroke="#e8a63c" stroke-width="0.8"/><circle cx="422.87" cy="112.87" r="2.3" fill="none" stroke="#e8a63c" stroke-width="0.8"/><circle cx="424.38" cy="125.37" r="2.3" fill="none" stroke="#e8a63c" stroke-width="0.8"/><circle cx="425.88" cy="119.76" r="2.3" fill="none" stroke="#e8a63c" stroke-width="0.8"/><circle cx="427.38" cy="120.15" r="2.3" fill="none" stroke="#e8a63c" stroke-width="0.8"/><circle cx="428.89" cy="121.64" r="2.3" fill="none" stroke="#e8a63c" stroke-width="0.8"/><circle cx="430.39" cy="122.2" r="2.3" fill="none" stroke="#e8a63c" stroke-width="0.8"/><circle cx="431.9" cy="122.47" r="2.3" fill="none" stroke="#e8a63c" stroke-width="0.8"/><circle cx="433.4" cy="127.36" r="2.3" fill="none" stroke="#e8a63c" stroke-width="0.8"/><circle cx="434.9" cy="130.01" r="2.3" fill="none" stroke="#e8a63c" stroke-width="0.8"/><circle cx="436.41" cy="126.32" r="2.3" fill="none" stroke="#e8a63c" stroke-width="0.8"/><circle cx="437.91" cy="120.36" r="2.3" fill="none" stroke="#e8a63c" stroke-width="0.8"/><circle cx="439.42" cy="114.81" r="2.3" fill="none" stroke="#e8a63c" stroke-width="0.8"/><circle cx="440.92" cy="118.18" r="2.3" fill="none" stroke="#e8a63c" stroke-width="0.8"/><circle cx="442.42" cy="117.81" r="2.3" fill="none" stroke="#e8a63c" stroke-width="0.8"/><circle cx="443.93" cy="119.59" r="2.3" fill="none" stroke="#e8a63c" stroke-width="0.8"/><circle cx="445.43" cy="120.17" r="2.3" fill="none" stroke="#e8a63c" stroke-width="0.8"/><circle cx="446.94" cy="123.41" r="2.3" fill="none" stroke="#e8a63c" stroke-width="0.8"/><circle cx="448.44" cy="119.89" r="2.3" fill="none" stroke="#e8a63c" stroke-width="0.8"/><circle cx="449.94" cy="113.83" r="2.3" fill="none" stroke="#e8a63c" stroke-width="0.8"/><circle cx="451.45" cy="126.8" r="2.3" fill="none" stroke="#e8a63c" stroke-width="0.8"/><circle cx="452.95" cy="129.13" r="2.3" fill="none" stroke="#e8a63c" stroke-width="0.8"/><circle cx="454.46" cy="112.93" r="2.3" fill="none" stroke="#e8a63c" stroke-width="0.8"/><circle cx="455.96" cy="123.53" r="2.3" fill="none" stroke="#e8a63c" stroke-width="0.8"/><circle cx="457.46" cy="119.15" r="2.3" fill="none" stroke="#e8a63c" stroke-width="0.8"/><circle cx="458.97" cy="119.82" r="2.3" fill="none" stroke="#e8a63c" stroke-width="0.8"/><circle cx="460.47" cy="132.23" r="2.3" fill="none" stroke="#e8a63c" stroke-width="0.8"/><circle cx="461.98" cy="110.4" r="2.3" fill="none" stroke="#e8a63c" stroke-width="0.8"/><circle cx="463.48" cy="114.51" r="2.3" fill="none" stroke="#e8a63c" stroke-width="0.8"/><circle cx="464.98" cy="124.38" r="2.3" fill="none" stroke="#e8a63c" stroke-width="0.8"/><circle cx="466.49" cy="120.92" r="2.3" fill="none" stroke="#e8a63c" stroke-width="0.8"/><circle cx="467.99" cy="124.82" r="2.3" fill="none" stroke="#e8a63c" stroke-width="0.8"/><circle cx="469.5" cy="131.08" r="2.3" fill="none" stroke="#e8a63c" stroke-width="0.8"/><circle cx="471" cy="126.41" r="2.3" fill="none" stroke="#e8a63c" stroke-width="0.8"/><circle cx="472.5" cy="123.48" r="2.3" fill="none" stroke="#e8a63c" stroke-width="0.8"/><circle cx="474.01" cy="118.99" r="2.3" fill="none" stroke="#e8a63c" stroke-width="0.8"/><circle cx="475.51" cy="121.54" r="2.3" fill="none" stroke="#e8a63c" stroke-width="0.8"/><circle cx="477.02" cy="125.58" r="2.3" fill="none" stroke="#e8a63c" stroke-width="0.8"/><circle cx="478.52" cy="117.68" r="2.3" fill="none" stroke="#e8a63c" stroke-width="0.8"/><circle cx="480.02" cy="130.71" r="2.3" fill="none" stroke="#e8a63c" stroke-width="0.8"/><circle cx="481.53" cy="121.23" r="2.3" fill="none" stroke="#e8a63c" stroke-width="0.8"/><circle cx="483.03" cy="119.31" r="2.3" fill="none" stroke="#e8a63c" stroke-width="0.8"/><circle cx="484.54" cy="127.97" r="2.3" fill="none" stroke="#e8a63c" stroke-width="0.8"/><circle cx="486.04" cy="137.2" r="2.3" fill="none" stroke="#e8a63c" stroke-width="0.8"/><circle cx="487.54" cy="131.82" r="2.3" fill="none" stroke="#e8a63c" stroke-width="0.8"/><circle cx="489.05" cy="124.84" r="2.3" fill="none" stroke="#e8a63c" stroke-width="0.8"/><circle cx="490.55" cy="123.1" r="2.3" fill="none" stroke="#e8a63c" stroke-width="0.8"/><circle cx="492.06" cy="116.87" r="2.3" fill="none" stroke="#e8a63c" stroke-width="0.8"/><circle cx="493.56" cy="132.56" r="2.3" fill="none" stroke="#e8a63c" stroke-width="0.8"/><circle cx="495.06" cy="126.41" r="2.3" fill="none" stroke="#e8a63c" stroke-width="0.8"/><circle cx="496.57" cy="122.47" r="2.3" fill="none" stroke="#e8a63c" stroke-width="0.8"/><circle cx="498.07" cy="127.45" r="2.3" fill="none" stroke="#e8a63c" stroke-width="0.8"/><circle cx="499.58" cy="141.04" r="2.3" fill="none" stroke="#e8a63c" stroke-width="0.8"/><circle cx="501.08" cy="121.58" r="2.3" fill="none" stroke="#e8a63c" stroke-width="0.8"/><circle cx="502.58" cy="112.36" r="2.3" fill="none" stroke="#e8a63c" stroke-width="0.8"/><circle cx="504.09" cy="120.4" r="2.3" fill="none" stroke="#e8a63c" stroke-width="0.8"/><circle cx="505.59" cy="132.21" r="2.3" fill="none" stroke="#e8a63c" stroke-width="0.8"/><circle cx="507.1" cy="129.12" r="2.3" fill="none" stroke="#e8a63c" stroke-width="0.8"/><circle cx="508.6" cy="125.24" r="2.3" fill="none" stroke="#e8a63c" stroke-width="0.8"/><circle cx="510.1" cy="111.34" r="2.3" fill="none" stroke="#e8a63c" stroke-width="0.8"/><circle cx="511.61" cy="122.83" r="2.3" fill="none" stroke="#e8a63c" stroke-width="0.8"/><circle cx="513.11" cy="125.93" r="2.3" fill="none" stroke="#e8a63c" stroke-width="0.8"/><circle cx="514.62" cy="117.07" r="2.3" fill="none" stroke="#e8a63c" stroke-width="0.8"/><circle cx="516.12" cy="127.13" r="2.3" fill="none" stroke="#e8a63c" stroke-width="0.8"/><circle cx="517.62" cy="115.21" r="2.3" fill="none" stroke="#e8a63c" stroke-width="0.8"/><circle cx="519.13" cy="130.83" r="2.3" fill="none" stroke="#e8a63c" stroke-width="0.8"/><circle cx="520.63" cy="129.53" r="2.3" fill="none" stroke="#e8a63c" stroke-width="0.8"/><circle cx="522.14" cy="122.19" r="2.3" fill="none" stroke="#e8a63c" stroke-width="0.8"/><circle cx="523.64" cy="117.86" r="2.3" fill="none" stroke="#e8a63c" stroke-width="0.8"/><circle cx="525.14" cy="122.58" r="2.3" fill="none" stroke="#e8a63c" stroke-width="0.8"/><circle cx="526.65" cy="124.73" r="2.3" fill="none" stroke="#e8a63c" stroke-width="0.8"/><circle cx="528.15" cy="137.74" r="2.3" fill="none" stroke="#e8a63c" stroke-width="0.8"/><circle cx="529.66" cy="130.92" r="2.3" fill="none" stroke="#e8a63c" stroke-width="0.8"/><circle cx="531.16" cy="130.27" r="2.3" fill="none" stroke="#e8a63c" stroke-width="0.8"/><circle cx="532.66" cy="129.78" r="2.3" fill="none" stroke="#e8a63c" stroke-width="0.8"/><circle cx="534.17" cy="122.88" r="2.3" fill="none" stroke="#e8a63c" stroke-width="0.8"/><circle cx="535.67" cy="128.51" r="2.3" fill="none" stroke="#e8a63c" stroke-width="0.8"/><circle cx="537.18" cy="121.6" r="2.3" fill="none" stroke="#e8a63c" stroke-width="0.8"/><circle cx="538.68" cy="125.89" r="2.3" fill="none" stroke="#e8a63c" stroke-width="0.8"/><circle cx="540.18" cy="128.41" r="2.3" fill="none" stroke="#e8a63c" stroke-width="0.8"/><circle cx="541.69" cy="125.61" r="2.3" fill="none" stroke="#e8a63c" stroke-width="0.8"/><circle cx="543.19" cy="123.67" r="2.3" fill="none" stroke="#e8a63c" stroke-width="0.8"/><circle cx="544.7" cy="121" r="2.3" fill="none" stroke="#e8a63c" stroke-width="0.8"/><circle cx="546.2" cy="129.15" r="2.3" fill="none" stroke="#e8a63c" stroke-width="0.8"/><circle cx="547.7" cy="127.61" r="2.3" fill="none" stroke="#e8a63c" stroke-width="0.8"/><circle cx="549.21" cy="134.5" r="2.3" fill="none" stroke="#e8a63c" stroke-width="0.8"/><circle cx="550.71" cy="116.25" r="2.3" fill="none" stroke="#e8a63c" stroke-width="0.8"/><circle cx="552.22" cy="117.14" r="2.3" fill="none" stroke="#e8a63c" stroke-width="0.8"/><circle cx="553.72" cy="127.09" r="2.3" fill="none" stroke="#e8a63c" stroke-width="0.8"/><circle cx="555.22" cy="128.88" r="2.3" fill="none" stroke="#e8a63c" stroke-width="0.8"/><circle cx="556.73" cy="133.47" r="2.3" fill="none" stroke="#e8a63c" stroke-width="0.8"/><circle cx="558.23" cy="124.79" r="2.3" fill="none" stroke="#e8a63c" stroke-width="0.8"/><circle cx="559.74" cy="124.51" r="2.3" fill="none" stroke="#e8a63c" stroke-width="0.8"/><circle cx="561.24" cy="112.34" r="2.3" fill="none" stroke="#e8a63c" stroke-width="0.8"/><circle cx="562.74" cy="124.15" r="2.3" fill="none" stroke="#e8a63c" stroke-width="0.8"/><circle cx="564.25" cy="130.37" r="2.3" fill="none" stroke="#e8a63c" stroke-width="0.8"/><circle cx="565.75" cy="140.53" r="2.3" fill="none" stroke="#e8a63c" stroke-width="0.8"/><circle cx="567.26" cy="116.82" r="2.3" fill="none" stroke="#e8a63c" stroke-width="0.8"/><circle cx="568.76" cy="124.24" r="2.3" fill="none" stroke="#e8a63c" stroke-width="0.8"/><circle cx="570.26" cy="135.2" r="2.3" fill="none" stroke="#e8a63c" stroke-width="0.8"/><circle cx="571.77" cy="124.15" r="2.3" fill="none" stroke="#e8a63c" stroke-width="0.8"/><circle cx="573.27" cy="135.05" r="2.3" fill="none" stroke="#e8a63c" stroke-width="0.8"/><circle cx="574.78" cy="103.76" r="2.3" fill="none" stroke="#e8a63c" stroke-width="0.8"/><circle cx="576.28" cy="118.17" r="2.3" fill="none" stroke="#e8a63c" stroke-width="0.8"/><circle cx="577.78" cy="121.44" r="2.3" fill="none" stroke="#e8a63c" stroke-width="0.8"/><circle cx="579.29" cy="125.95" r="2.3" fill="none" stroke="#e8a63c" stroke-width="0.8"/><circle cx="580.79" cy="137.92" r="2.3" fill="none" stroke="#e8a63c" stroke-width="0.8"/><circle cx="582.3" cy="125.49" r="2.3" fill="none" stroke="#e8a63c" stroke-width="0.8"/><circle cx="583.8" cy="134.16" r="2.3" fill="none" stroke="#e8a63c" stroke-width="0.8"/><circle cx="585.3" cy="120.88" r="2.3" fill="none" stroke="#e8a63c" stroke-width="0.8"/><circle cx="586.81" cy="137.57" r="2.3" fill="none" stroke="#e8a63c" stroke-width="0.8"/><circle cx="588.31" cy="129.93" r="2.3" fill="none" stroke="#e8a63c" stroke-width="0.8"/><circle cx="589.82" cy="116.79" r="2.3" fill="none" stroke="#e8a63c" stroke-width="0.8"/><circle cx="591.32" cy="114.09" r="2.3" fill="none" stroke="#e8a63c" stroke-width="0.8"/><circle cx="592.82" cy="131.33" r="2.3" fill="none" stroke="#e8a63c" stroke-width="0.8"/><circle cx="594.33" cy="133.39" r="2.3" fill="none" stroke="#e8a63c" stroke-width="0.8"/><circle cx="595.83" cy="118.49" r="2.3" fill="none" stroke="#e8a63c" stroke-width="0.8"/><circle cx="597.34" cy="118.55" r="2.3" fill="none" stroke="#e8a63c" stroke-width="0.8"/><circle cx="598.84" cy="129.74" r="2.3" fill="none" stroke="#e8a63c" stroke-width="0.8"/><circle cx="600.34" cy="127.84" r="2.3" fill="none" stroke="#e8a63c" stroke-width="0.8"/><circle cx="601.85" cy="127.74" r="2.3" fill="none" stroke="#e8a63c" stroke-width="0.8"/><circle cx="603.35" cy="130.67" r="2.3" fill="none" stroke="#e8a63c" stroke-width="0.8"/><circle cx="604.86" cy="127.44" r="2.3" fill="none" stroke="#e8a63c" stroke-width="0.8"/><circle cx="606.36" cy="115.49" r="2.3" fill="none" stroke="#e8a63c" stroke-width="0.8"/><circle cx="607.86" cy="118.82" r="2.3" fill="none" stroke="#e8a63c" stroke-width="0.8"/><circle cx="609.37" cy="110.33" r="2.3" fill="none" stroke="#e8a63c" stroke-width="0.8"/><circle cx="610.87" cy="123.36" r="2.3" fill="none" stroke="#e8a63c" stroke-width="0.8"/><circle cx="612.38" cy="123.55" r="2.3" fill="none" stroke="#e8a63c" stroke-width="0.8"/><circle cx="613.88" cy="128.63" r="2.3" fill="none" stroke="#e8a63c" stroke-width="0.8"/><circle cx="615.38" cy="123.25" r="2.3" fill="none" stroke="#e8a63c" stroke-width="0.8"/><circle cx="616.89" cy="130.43" r="2.3" fill="none" stroke="#e8a63c" stroke-width="0.8"/><circle cx="618.39" cy="133.16" r="2.3" fill="none" stroke="#e8a63c" stroke-width="0.8"/><circle cx="619.9" cy="117.86" r="2.3" fill="none" stroke="#e8a63c" stroke-width="0.8"/><circle cx="621.4" cy="113.18" r="2.3" fill="none" stroke="#e8a63c" stroke-width="0.8"/><circle cx="622.9" cy="116.76" r="2.3" fill="none" stroke="#e8a63c" stroke-width="0.8"/><circle cx="624.41" cy="113.6" r="2.3" fill="none" stroke="#e8a63c" stroke-width="0.8"/><circle cx="625.91" cy="120.1" r="2.3" fill="none" stroke="#e8a63c" stroke-width="0.8"/></g>
<g opacity="0.42"><circle cx="325.11" cy="144.47" r="2.3" fill="none" stroke="#5cc8cc" stroke-width="0.8"/><circle cx="326.62" cy="145.59" r="2.3" fill="none" stroke="#5cc8cc" stroke-width="0.8"/><circle cx="328.12" cy="142.24" r="2.3" fill="none" stroke="#5cc8cc" stroke-width="0.8"/><circle cx="329.62" cy="112.7" r="2.3" fill="none" stroke="#5cc8cc" stroke-width="0.8"/><circle cx="331.13" cy="110.19" r="2.3" fill="none" stroke="#5cc8cc" stroke-width="0.8"/><circle cx="332.63" cy="111.62" r="2.3" fill="none" stroke="#5cc8cc" stroke-width="0.8"/><circle cx="334.14" cy="113.93" r="2.3" fill="none" stroke="#5cc8cc" stroke-width="0.8"/><circle cx="335.64" cy="115.74" r="2.3" fill="none" stroke="#5cc8cc" stroke-width="0.8"/><circle cx="337.14" cy="115.09" r="2.3" fill="none" stroke="#5cc8cc" stroke-width="0.8"/><circle cx="338.65" cy="110.47" r="2.3" fill="none" stroke="#5cc8cc" stroke-width="0.8"/><circle cx="340.15" cy="109.98" r="2.3" fill="none" stroke="#5cc8cc" stroke-width="0.8"/><circle cx="341.66" cy="111.94" r="2.3" fill="none" stroke="#5cc8cc" stroke-width="0.8"/><circle cx="343.16" cy="105.99" r="2.3" fill="none" stroke="#5cc8cc" stroke-width="0.8"/><circle cx="344.66" cy="109.9" r="2.3" fill="none" stroke="#5cc8cc" stroke-width="0.8"/><circle cx="346.17" cy="108.63" r="2.3" fill="none" stroke="#5cc8cc" stroke-width="0.8"/><circle cx="347.67" cy="106.65" r="2.3" fill="none" stroke="#5cc8cc" stroke-width="0.8"/><circle cx="349.18" cy="113.02" r="2.3" fill="none" stroke="#5cc8cc" stroke-width="0.8"/><circle cx="350.68" cy="116.61" r="2.3" fill="none" stroke="#5cc8cc" stroke-width="0.8"/><circle cx="352.18" cy="108.18" r="2.3" fill="none" stroke="#5cc8cc" stroke-width="0.8"/><circle cx="353.69" cy="112.75" r="2.3" fill="none" stroke="#5cc8cc" stroke-width="0.8"/><circle cx="355.19" cy="106.58" r="2.3" fill="none" stroke="#5cc8cc" stroke-width="0.8"/><circle cx="356.7" cy="109.69" r="2.3" fill="none" stroke="#5cc8cc" stroke-width="0.8"/><circle cx="358.2" cy="107.67" r="2.3" fill="none" stroke="#5cc8cc" stroke-width="0.8"/><circle cx="359.7" cy="108.5" r="2.3" fill="none" stroke="#5cc8cc" stroke-width="0.8"/><circle cx="361.21" cy="117.45" r="2.3" fill="none" stroke="#5cc8cc" stroke-width="0.8"/><circle cx="362.71" cy="108.78" r="2.3" fill="none" stroke="#5cc8cc" stroke-width="0.8"/><circle cx="364.22" cy="113.2" r="2.3" fill="none" stroke="#5cc8cc" stroke-width="0.8"/><circle cx="365.72" cy="113.53" r="2.3" fill="none" stroke="#5cc8cc" stroke-width="0.8"/><circle cx="367.22" cy="112.6" r="2.3" fill="none" stroke="#5cc8cc" stroke-width="0.8"/><circle cx="368.73" cy="108.91" r="2.3" fill="none" stroke="#5cc8cc" stroke-width="0.8"/><circle cx="370.23" cy="108.62" r="2.3" fill="none" stroke="#5cc8cc" stroke-width="0.8"/><circle cx="371.74" cy="108.29" r="2.3" fill="none" stroke="#5cc8cc" stroke-width="0.8"/><circle cx="373.24" cy="116.7" r="2.3" fill="none" stroke="#5cc8cc" stroke-width="0.8"/><circle cx="374.74" cy="113.44" r="2.3" fill="none" stroke="#5cc8cc" stroke-width="0.8"/><circle cx="376.25" cy="119.08" r="2.3" fill="none" stroke="#5cc8cc" stroke-width="0.8"/><circle cx="377.75" cy="112.05" r="2.3" fill="none" stroke="#5cc8cc" stroke-width="0.8"/><circle cx="379.26" cy="109.93" r="2.3" fill="none" stroke="#5cc8cc" stroke-width="0.8"/><circle cx="380.76" cy="114.25" r="2.3" fill="none" stroke="#5cc8cc" stroke-width="0.8"/><circle cx="382.26" cy="111.17" r="2.3" fill="none" stroke="#5cc8cc" stroke-width="0.8"/><circle cx="383.77" cy="111.28" r="2.3" fill="none" stroke="#5cc8cc" stroke-width="0.8"/><circle cx="385.27" cy="108.93" r="2.3" fill="none" stroke="#5cc8cc" stroke-width="0.8"/><circle cx="386.78" cy="114.71" r="2.3" fill="none" stroke="#5cc8cc" stroke-width="0.8"/><circle cx="388.28" cy="114.8" r="2.3" fill="none" stroke="#5cc8cc" stroke-width="0.8"/><circle cx="389.78" cy="114.66" r="2.3" fill="none" stroke="#5cc8cc" stroke-width="0.8"/><circle cx="391.29" cy="106.87" r="2.3" fill="none" stroke="#5cc8cc" stroke-width="0.8"/><circle cx="392.79" cy="109" r="2.3" fill="none" stroke="#5cc8cc" stroke-width="0.8"/><circle cx="394.3" cy="112.86" r="2.3" fill="none" stroke="#5cc8cc" stroke-width="0.8"/><circle cx="395.8" cy="111.84" r="2.3" fill="none" stroke="#5cc8cc" stroke-width="0.8"/><circle cx="397.3" cy="112.25" r="2.3" fill="none" stroke="#5cc8cc" stroke-width="0.8"/><circle cx="398.81" cy="112.04" r="2.3" fill="none" stroke="#5cc8cc" stroke-width="0.8"/><circle cx="400.31" cy="113.39" r="2.3" fill="none" stroke="#5cc8cc" stroke-width="0.8"/><circle cx="401.82" cy="113.84" r="2.3" fill="none" stroke="#5cc8cc" stroke-width="0.8"/><circle cx="403.32" cy="116.78" r="2.3" fill="none" stroke="#5cc8cc" stroke-width="0.8"/><circle cx="404.82" cy="114.93" r="2.3" fill="none" stroke="#5cc8cc" stroke-width="0.8"/><circle cx="406.33" cy="107.83" r="2.3" fill="none" stroke="#5cc8cc" stroke-width="0.8"/><circle cx="407.83" cy="111.37" r="2.3" fill="none" stroke="#5cc8cc" stroke-width="0.8"/><circle cx="409.34" cy="112.91" r="2.3" fill="none" stroke="#5cc8cc" stroke-width="0.8"/><circle cx="410.84" cy="113.84" r="2.3" fill="none" stroke="#5cc8cc" stroke-width="0.8"/><circle cx="412.34" cy="113.03" r="2.3" fill="none" stroke="#5cc8cc" stroke-width="0.8"/><circle cx="413.85" cy="112.18" r="2.3" fill="none" stroke="#5cc8cc" stroke-width="0.8"/><circle cx="415.35" cy="115.36" r="2.3" fill="none" stroke="#5cc8cc" stroke-width="0.8"/><circle cx="416.86" cy="112.79" r="2.3" fill="none" stroke="#5cc8cc" stroke-width="0.8"/><circle cx="418.36" cy="112.71" r="2.3" fill="none" stroke="#5cc8cc" stroke-width="0.8"/><circle cx="419.86" cy="115.86" r="2.3" fill="none" stroke="#5cc8cc" stroke-width="0.8"/><circle cx="421.37" cy="116.04" r="2.3" fill="none" stroke="#5cc8cc" stroke-width="0.8"/><circle cx="422.87" cy="116.75" r="2.3" fill="none" stroke="#5cc8cc" stroke-width="0.8"/><circle cx="424.38" cy="117.01" r="2.3" fill="none" stroke="#5cc8cc" stroke-width="0.8"/><circle cx="425.88" cy="110.96" r="2.3" fill="none" stroke="#5cc8cc" stroke-width="0.8"/><circle cx="427.38" cy="121.17" r="2.3" fill="none" stroke="#5cc8cc" stroke-width="0.8"/><circle cx="428.89" cy="114.68" r="2.3" fill="none" stroke="#5cc8cc" stroke-width="0.8"/><circle cx="430.39" cy="115.81" r="2.3" fill="none" stroke="#5cc8cc" stroke-width="0.8"/><circle cx="431.9" cy="115.89" r="2.3" fill="none" stroke="#5cc8cc" stroke-width="0.8"/><circle cx="433.4" cy="113.7" r="2.3" fill="none" stroke="#5cc8cc" stroke-width="0.8"/><circle cx="434.9" cy="110.53" r="2.3" fill="none" stroke="#5cc8cc" stroke-width="0.8"/><circle cx="436.41" cy="113.87" r="2.3" fill="none" stroke="#5cc8cc" stroke-width="0.8"/><circle cx="437.91" cy="114.59" r="2.3" fill="none" stroke="#5cc8cc" stroke-width="0.8"/><circle cx="439.42" cy="116.11" r="2.3" fill="none" stroke="#5cc8cc" stroke-width="0.8"/><circle cx="440.92" cy="114.65" r="2.3" fill="none" stroke="#5cc8cc" stroke-width="0.8"/><circle cx="442.42" cy="111.45" r="2.3" fill="none" stroke="#5cc8cc" stroke-width="0.8"/><circle cx="443.93" cy="115.57" r="2.3" fill="none" stroke="#5cc8cc" stroke-width="0.8"/><circle cx="445.43" cy="117.97" r="2.3" fill="none" stroke="#5cc8cc" stroke-width="0.8"/><circle cx="446.94" cy="118.38" r="2.3" fill="none" stroke="#5cc8cc" stroke-width="0.8"/><circle cx="448.44" cy="117.93" r="2.3" fill="none" stroke="#5cc8cc" stroke-width="0.8"/><circle cx="449.94" cy="118.86" r="2.3" fill="none" stroke="#5cc8cc" stroke-width="0.8"/><circle cx="451.45" cy="111.12" r="2.3" fill="none" stroke="#5cc8cc" stroke-width="0.8"/><circle cx="452.95" cy="113.49" r="2.3" fill="none" stroke="#5cc8cc" stroke-width="0.8"/><circle cx="454.46" cy="115.38" r="2.3" fill="none" stroke="#5cc8cc" stroke-width="0.8"/><circle cx="455.96" cy="110.12" r="2.3" fill="none" stroke="#5cc8cc" stroke-width="0.8"/><circle cx="457.46" cy="116.77" r="2.3" fill="none" stroke="#5cc8cc" stroke-width="0.8"/><circle cx="458.97" cy="112.4" r="2.3" fill="none" stroke="#5cc8cc" stroke-width="0.8"/><circle cx="460.47" cy="112.29" r="2.3" fill="none" stroke="#5cc8cc" stroke-width="0.8"/><circle cx="461.98" cy="119.65" r="2.3" fill="none" stroke="#5cc8cc" stroke-width="0.8"/><circle cx="463.48" cy="119.72" r="2.3" fill="none" stroke="#5cc8cc" stroke-width="0.8"/><circle cx="464.98" cy="117.79" r="2.3" fill="none" stroke="#5cc8cc" stroke-width="0.8"/><circle cx="466.49" cy="112.1" r="2.3" fill="none" stroke="#5cc8cc" stroke-width="0.8"/><circle cx="467.99" cy="110.91" r="2.3" fill="none" stroke="#5cc8cc" stroke-width="0.8"/><circle cx="469.5" cy="118.82" r="2.3" fill="none" stroke="#5cc8cc" stroke-width="0.8"/><circle cx="471" cy="111.75" r="2.3" fill="none" stroke="#5cc8cc" stroke-width="0.8"/><circle cx="472.5" cy="116.25" r="2.3" fill="none" stroke="#5cc8cc" stroke-width="0.8"/><circle cx="474.01" cy="116.31" r="2.3" fill="none" stroke="#5cc8cc" stroke-width="0.8"/><circle cx="475.51" cy="116.83" r="2.3" fill="none" stroke="#5cc8cc" stroke-width="0.8"/><circle cx="477.02" cy="116.14" r="2.3" fill="none" stroke="#5cc8cc" stroke-width="0.8"/><circle cx="478.52" cy="120.84" r="2.3" fill="none" stroke="#5cc8cc" stroke-width="0.8"/><circle cx="480.02" cy="118.31" r="2.3" fill="none" stroke="#5cc8cc" stroke-width="0.8"/><circle cx="481.53" cy="119.06" r="2.3" fill="none" stroke="#5cc8cc" stroke-width="0.8"/><circle cx="483.03" cy="113.7" r="2.3" fill="none" stroke="#5cc8cc" stroke-width="0.8"/><circle cx="484.54" cy="108.73" r="2.3" fill="none" stroke="#5cc8cc" stroke-width="0.8"/><circle cx="486.04" cy="106.74" r="2.3" fill="none" stroke="#5cc8cc" stroke-width="0.8"/><circle cx="487.54" cy="116.34" r="2.3" fill="none" stroke="#5cc8cc" stroke-width="0.8"/><circle cx="489.05" cy="120.68" r="2.3" fill="none" stroke="#5cc8cc" stroke-width="0.8"/><circle cx="490.55" cy="116.6" r="2.3" fill="none" stroke="#5cc8cc" stroke-width="0.8"/><circle cx="492.06" cy="118.28" r="2.3" fill="none" stroke="#5cc8cc" stroke-width="0.8"/><circle cx="493.56" cy="109.17" r="2.3" fill="none" stroke="#5cc8cc" stroke-width="0.8"/><circle cx="495.06" cy="113.59" r="2.3" fill="none" stroke="#5cc8cc" stroke-width="0.8"/><circle cx="496.57" cy="117.66" r="2.3" fill="none" stroke="#5cc8cc" stroke-width="0.8"/><circle cx="498.07" cy="112.48" r="2.3" fill="none" stroke="#5cc8cc" stroke-width="0.8"/><circle cx="499.58" cy="113.74" r="2.3" fill="none" stroke="#5cc8cc" stroke-width="0.8"/><circle cx="501.08" cy="120.5" r="2.3" fill="none" stroke="#5cc8cc" stroke-width="0.8"/><circle cx="502.58" cy="117.09" r="2.3" fill="none" stroke="#5cc8cc" stroke-width="0.8"/><circle cx="504.09" cy="116.19" r="2.3" fill="none" stroke="#5cc8cc" stroke-width="0.8"/><circle cx="505.59" cy="115.39" r="2.3" fill="none" stroke="#5cc8cc" stroke-width="0.8"/><circle cx="507.1" cy="115.04" r="2.3" fill="none" stroke="#5cc8cc" stroke-width="0.8"/><circle cx="508.6" cy="116.52" r="2.3" fill="none" stroke="#5cc8cc" stroke-width="0.8"/><circle cx="510.1" cy="114.87" r="2.3" fill="none" stroke="#5cc8cc" stroke-width="0.8"/><circle cx="511.61" cy="117.3" r="2.3" fill="none" stroke="#5cc8cc" stroke-width="0.8"/><circle cx="513.11" cy="118.27" r="2.3" fill="none" stroke="#5cc8cc" stroke-width="0.8"/><circle cx="514.62" cy="110.74" r="2.3" fill="none" stroke="#5cc8cc" stroke-width="0.8"/><circle cx="516.12" cy="114.35" r="2.3" fill="none" stroke="#5cc8cc" stroke-width="0.8"/><circle cx="517.62" cy="114.1" r="2.3" fill="none" stroke="#5cc8cc" stroke-width="0.8"/><circle cx="519.13" cy="120.45" r="2.3" fill="none" stroke="#5cc8cc" stroke-width="0.8"/><circle cx="520.63" cy="115.99" r="2.3" fill="none" stroke="#5cc8cc" stroke-width="0.8"/><circle cx="522.14" cy="112.91" r="2.3" fill="none" stroke="#5cc8cc" stroke-width="0.8"/><circle cx="523.64" cy="119.49" r="2.3" fill="none" stroke="#5cc8cc" stroke-width="0.8"/><circle cx="525.14" cy="112.03" r="2.3" fill="none" stroke="#5cc8cc" stroke-width="0.8"/><circle cx="526.65" cy="116.67" r="2.3" fill="none" stroke="#5cc8cc" stroke-width="0.8"/><circle cx="528.15" cy="114.18" r="2.3" fill="none" stroke="#5cc8cc" stroke-width="0.8"/><circle cx="529.66" cy="115.85" r="2.3" fill="none" stroke="#5cc8cc" stroke-width="0.8"/><circle cx="531.16" cy="114.74" r="2.3" fill="none" stroke="#5cc8cc" stroke-width="0.8"/><circle cx="532.66" cy="111.65" r="2.3" fill="none" stroke="#5cc8cc" stroke-width="0.8"/><circle cx="534.17" cy="116.66" r="2.3" fill="none" stroke="#5cc8cc" stroke-width="0.8"/><circle cx="535.67" cy="110.5" r="2.3" fill="none" stroke="#5cc8cc" stroke-width="0.8"/><circle cx="537.18" cy="117.82" r="2.3" fill="none" stroke="#5cc8cc" stroke-width="0.8"/><circle cx="538.68" cy="118.27" r="2.3" fill="none" stroke="#5cc8cc" stroke-width="0.8"/><circle cx="540.18" cy="113.12" r="2.3" fill="none" stroke="#5cc8cc" stroke-width="0.8"/><circle cx="541.69" cy="118.66" r="2.3" fill="none" stroke="#5cc8cc" stroke-width="0.8"/><circle cx="543.19" cy="116.47" r="2.3" fill="none" stroke="#5cc8cc" stroke-width="0.8"/><circle cx="544.7" cy="112.46" r="2.3" fill="none" stroke="#5cc8cc" stroke-width="0.8"/><circle cx="546.2" cy="111.49" r="2.3" fill="none" stroke="#5cc8cc" stroke-width="0.8"/><circle cx="547.7" cy="120.79" r="2.3" fill="none" stroke="#5cc8cc" stroke-width="0.8"/><circle cx="549.21" cy="113.65" r="2.3" fill="none" stroke="#5cc8cc" stroke-width="0.8"/><circle cx="550.71" cy="109.32" r="2.3" fill="none" stroke="#5cc8cc" stroke-width="0.8"/><circle cx="552.22" cy="111.45" r="2.3" fill="none" stroke="#5cc8cc" stroke-width="0.8"/><circle cx="553.72" cy="115.91" r="2.3" fill="none" stroke="#5cc8cc" stroke-width="0.8"/><circle cx="555.22" cy="117.01" r="2.3" fill="none" stroke="#5cc8cc" stroke-width="0.8"/><circle cx="556.73" cy="116.03" r="2.3" fill="none" stroke="#5cc8cc" stroke-width="0.8"/><circle cx="558.23" cy="118.68" r="2.3" fill="none" stroke="#5cc8cc" stroke-width="0.8"/><circle cx="559.74" cy="115.88" r="2.3" fill="none" stroke="#5cc8cc" stroke-width="0.8"/><circle cx="561.24" cy="115.61" r="2.3" fill="none" stroke="#5cc8cc" stroke-width="0.8"/><circle cx="562.74" cy="115.45" r="2.3" fill="none" stroke="#5cc8cc" stroke-width="0.8"/><circle cx="564.25" cy="111.27" r="2.3" fill="none" stroke="#5cc8cc" stroke-width="0.8"/><circle cx="565.75" cy="115.65" r="2.3" fill="none" stroke="#5cc8cc" stroke-width="0.8"/><circle cx="567.26" cy="119.45" r="2.3" fill="none" stroke="#5cc8cc" stroke-width="0.8"/><circle cx="568.76" cy="111.58" r="2.3" fill="none" stroke="#5cc8cc" stroke-width="0.8"/><circle cx="570.26" cy="118.18" r="2.3" fill="none" stroke="#5cc8cc" stroke-width="0.8"/><circle cx="571.77" cy="116.19" r="2.3" fill="none" stroke="#5cc8cc" stroke-width="0.8"/><circle cx="573.27" cy="115.17" r="2.3" fill="none" stroke="#5cc8cc" stroke-width="0.8"/><circle cx="574.78" cy="115.79" r="2.3" fill="none" stroke="#5cc8cc" stroke-width="0.8"/><circle cx="576.28" cy="117.81" r="2.3" fill="none" stroke="#5cc8cc" stroke-width="0.8"/><circle cx="577.78" cy="115.42" r="2.3" fill="none" stroke="#5cc8cc" stroke-width="0.8"/><circle cx="579.29" cy="107.78" r="2.3" fill="none" stroke="#5cc8cc" stroke-width="0.8"/><circle cx="580.79" cy="116.45" r="2.3" fill="none" stroke="#5cc8cc" stroke-width="0.8"/><circle cx="582.3" cy="114.94" r="2.3" fill="none" stroke="#5cc8cc" stroke-width="0.8"/><circle cx="583.8" cy="110.96" r="2.3" fill="none" stroke="#5cc8cc" stroke-width="0.8"/><circle cx="585.3" cy="112.1" r="2.3" fill="none" stroke="#5cc8cc" stroke-width="0.8"/><circle cx="586.81" cy="112" r="2.3" fill="none" stroke="#5cc8cc" stroke-width="0.8"/><circle cx="588.31" cy="111.65" r="2.3" fill="none" stroke="#5cc8cc" stroke-width="0.8"/><circle cx="589.82" cy="120.44" r="2.3" fill="none" stroke="#5cc8cc" stroke-width="0.8"/><circle cx="591.32" cy="116.95" r="2.3" fill="none" stroke="#5cc8cc" stroke-width="0.8"/><circle cx="592.82" cy="113.8" r="2.3" fill="none" stroke="#5cc8cc" stroke-width="0.8"/><circle cx="594.33" cy="112.59" r="2.3" fill="none" stroke="#5cc8cc" stroke-width="0.8"/><circle cx="595.83" cy="110.06" r="2.3" fill="none" stroke="#5cc8cc" stroke-width="0.8"/><circle cx="597.34" cy="112.59" r="2.3" fill="none" stroke="#5cc8cc" stroke-width="0.8"/><circle cx="598.84" cy="114.75" r="2.3" fill="none" stroke="#5cc8cc" stroke-width="0.8"/><circle cx="600.34" cy="113.83" r="2.3" fill="none" stroke="#5cc8cc" stroke-width="0.8"/><circle cx="601.85" cy="114.56" r="2.3" fill="none" stroke="#5cc8cc" stroke-width="0.8"/><circle cx="603.35" cy="113.08" r="2.3" fill="none" stroke="#5cc8cc" stroke-width="0.8"/><circle cx="604.86" cy="111.69" r="2.3" fill="none" stroke="#5cc8cc" stroke-width="0.8"/><circle cx="606.36" cy="114.8" r="2.3" fill="none" stroke="#5cc8cc" stroke-width="0.8"/><circle cx="607.86" cy="116.23" r="2.3" fill="none" stroke="#5cc8cc" stroke-width="0.8"/><circle cx="609.37" cy="116.3" r="2.3" fill="none" stroke="#5cc8cc" stroke-width="0.8"/><circle cx="610.87" cy="110.15" r="2.3" fill="none" stroke="#5cc8cc" stroke-width="0.8"/><circle cx="612.38" cy="109.52" r="2.3" fill="none" stroke="#5cc8cc" stroke-width="0.8"/><circle cx="613.88" cy="110.36" r="2.3" fill="none" stroke="#5cc8cc" stroke-width="0.8"/><circle cx="615.38" cy="110.73" r="2.3" fill="none" stroke="#5cc8cc" stroke-width="0.8"/><circle cx="616.89" cy="110.74" r="2.3" fill="none" stroke="#5cc8cc" stroke-width="0.8"/><circle cx="618.39" cy="113.3" r="2.3" fill="none" stroke="#5cc8cc" stroke-width="0.8"/><circle cx="619.9" cy="111.16" r="2.3" fill="none" stroke="#5cc8cc" stroke-width="0.8"/><circle cx="621.4" cy="116.45" r="2.3" fill="none" stroke="#5cc8cc" stroke-width="0.8"/><circle cx="622.9" cy="113.74" r="2.3" fill="none" stroke="#5cc8cc" stroke-width="0.8"/><circle cx="624.41" cy="115.34" r="2.3" fill="none" stroke="#5cc8cc" stroke-width="0.8"/><circle cx="625.91" cy="110.71" r="2.3" fill="none" stroke="#5cc8cc" stroke-width="0.8"/></g>
<circle cx="329.62" cy="133.11" r="3.3" fill="none" stroke="#e8a63c" stroke-width="1.05"/><circle cx="331.13" cy="134.48" r="3.3" fill="none" stroke="#e8a63c" stroke-width="1.05"/><circle cx="332.63" cy="135.88" r="3.3" fill="none" stroke="#e8a63c" stroke-width="1.05"/><circle cx="334.14" cy="137.21" r="3.3" fill="none" stroke="#e8a63c" stroke-width="1.05"/><circle cx="335.64" cy="138.34" r="3.3" fill="none" stroke="#e8a63c" stroke-width="1.05"/><circle cx="337.14" cy="139.31" r="3.3" fill="none" stroke="#e8a63c" stroke-width="1.05"/><circle cx="338.65" cy="140.26" r="3.3" fill="none" stroke="#e8a63c" stroke-width="1.05"/><circle cx="340.15" cy="141.16" r="3.3" fill="none" stroke="#e8a63c" stroke-width="1.05"/><circle cx="341.66" cy="142.03" r="3.3" fill="none" stroke="#e8a63c" stroke-width="1.05"/><circle cx="343.16" cy="142.84" r="3.3" fill="none" stroke="#e8a63c" stroke-width="1.05"/><circle cx="344.66" cy="143.61" r="3.3" fill="none" stroke="#e8a63c" stroke-width="1.05"/><circle cx="346.17" cy="144.32" r="3.3" fill="none" stroke="#e8a63c" stroke-width="1.05"/><circle cx="347.67" cy="144.96" r="3.3" fill="none" stroke="#e8a63c" stroke-width="1.05"/><circle cx="349.18" cy="145.56" r="3.3" fill="none" stroke="#e8a63c" stroke-width="1.05"/><circle cx="350.68" cy="146.12" r="3.3" fill="none" stroke="#e8a63c" stroke-width="1.05"/><circle cx="352.18" cy="146.66" r="3.3" fill="none" stroke="#e8a63c" stroke-width="1.05"/><circle cx="353.69" cy="147.17" r="3.3" fill="none" stroke="#e8a63c" stroke-width="1.05"/><circle cx="355.19" cy="147.66" r="3.3" fill="none" stroke="#e8a63c" stroke-width="1.05"/><circle cx="356.7" cy="148.12" r="3.3" fill="none" stroke="#e8a63c" stroke-width="1.05"/><circle cx="358.2" cy="148.57" r="3.3" fill="none" stroke="#e8a63c" stroke-width="1.05"/><circle cx="359.7" cy="148.99" r="3.3" fill="none" stroke="#e8a63c" stroke-width="1.05"/><circle cx="361.21" cy="149.4" r="3.3" fill="none" stroke="#e8a63c" stroke-width="1.05"/><circle cx="362.71" cy="149.79" r="3.3" fill="none" stroke="#e8a63c" stroke-width="1.05"/><circle cx="364.22" cy="150.17" r="3.3" fill="none" stroke="#e8a63c" stroke-width="1.05"/><circle cx="365.72" cy="150.54" r="3.3" fill="none" stroke="#e8a63c" stroke-width="1.05"/><circle cx="367.22" cy="150.89" r="3.3" fill="none" stroke="#e8a63c" stroke-width="1.05"/><circle cx="368.73" cy="151.23" r="3.3" fill="none" stroke="#e8a63c" stroke-width="1.05"/><circle cx="370.23" cy="151.55" r="3.3" fill="none" stroke="#e8a63c" stroke-width="1.05"/><circle cx="371.74" cy="151.86" r="3.3" fill="none" stroke="#e8a63c" stroke-width="1.05"/><circle cx="373.24" cy="152.16" r="3.3" fill="none" stroke="#e8a63c" stroke-width="1.05"/><circle cx="374.74" cy="152.45" r="3.3" fill="none" stroke="#e8a63c" stroke-width="1.05"/><circle cx="376.25" cy="152.74" r="3.3" fill="none" stroke="#e8a63c" stroke-width="1.05"/><circle cx="377.75" cy="153.02" r="3.3" fill="none" stroke="#e8a63c" stroke-width="1.05"/><circle cx="379.26" cy="153.29" r="3.3" fill="none" stroke="#e8a63c" stroke-width="1.05"/><circle cx="380.76" cy="153.57" r="3.3" fill="none" stroke="#e8a63c" stroke-width="1.05"/><circle cx="382.26" cy="153.84" r="3.3" fill="none" stroke="#e8a63c" stroke-width="1.05"/><circle cx="383.77" cy="154.11" r="3.3" fill="none" stroke="#e8a63c" stroke-width="1.05"/><circle cx="385.27" cy="154.38" r="3.3" fill="none" stroke="#e8a63c" stroke-width="1.05"/><circle cx="386.78" cy="154.66" r="3.3" fill="none" stroke="#e8a63c" stroke-width="1.05"/><circle cx="388.28" cy="154.94" r="3.3" fill="none" stroke="#e8a63c" stroke-width="1.05"/><circle cx="389.78" cy="155.22" r="3.3" fill="none" stroke="#e8a63c" stroke-width="1.05"/><circle cx="391.29" cy="155.52" r="3.3" fill="none" stroke="#e8a63c" stroke-width="1.05"/><circle cx="392.79" cy="155.82" r="3.3" fill="none" stroke="#e8a63c" stroke-width="1.05"/><circle cx="394.3" cy="156.14" r="3.3" fill="none" stroke="#e8a63c" stroke-width="1.05"/><circle cx="395.8" cy="156.46" r="3.3" fill="none" stroke="#e8a63c" stroke-width="1.05"/><circle cx="397.3" cy="156.8" r="3.3" fill="none" stroke="#e8a63c" stroke-width="1.05"/><circle cx="398.81" cy="157.14" r="3.3" fill="none" stroke="#e8a63c" stroke-width="1.05"/><circle cx="400.31" cy="157.48" r="3.3" fill="none" stroke="#e8a63c" stroke-width="1.05"/><circle cx="401.82" cy="157.82" r="3.3" fill="none" stroke="#e8a63c" stroke-width="1.05"/><circle cx="403.32" cy="158.17" r="3.3" fill="none" stroke="#e8a63c" stroke-width="1.05"/><circle cx="404.82" cy="158.52" r="3.3" fill="none" stroke="#e8a63c" stroke-width="1.05"/><circle cx="406.33" cy="158.87" r="3.3" fill="none" stroke="#e8a63c" stroke-width="1.05"/><circle cx="407.83" cy="159.23" r="3.3" fill="none" stroke="#e8a63c" stroke-width="1.05"/><circle cx="409.34" cy="159.59" r="3.3" fill="none" stroke="#e8a63c" stroke-width="1.05"/><circle cx="410.84" cy="159.95" r="3.3" fill="none" stroke="#e8a63c" stroke-width="1.05"/><circle cx="412.34" cy="160.31" r="3.3" fill="none" stroke="#e8a63c" stroke-width="1.05"/><circle cx="413.85" cy="160.68" r="3.3" fill="none" stroke="#e8a63c" stroke-width="1.05"/><circle cx="415.35" cy="161.04" r="3.3" fill="none" stroke="#e8a63c" stroke-width="1.05"/><circle cx="416.86" cy="161.41" r="3.3" fill="none" stroke="#e8a63c" stroke-width="1.05"/><circle cx="418.36" cy="161.78" r="3.3" fill="none" stroke="#e8a63c" stroke-width="1.05"/><circle cx="419.86" cy="162.15" r="3.3" fill="none" stroke="#e8a63c" stroke-width="1.05"/><circle cx="421.37" cy="162.52" r="3.3" fill="none" stroke="#e8a63c" stroke-width="1.05"/><circle cx="422.87" cy="162.9" r="3.3" fill="none" stroke="#e8a63c" stroke-width="1.05"/><circle cx="424.38" cy="163.27" r="3.3" fill="none" stroke="#e8a63c" stroke-width="1.05"/><circle cx="425.88" cy="163.64" r="3.3" fill="none" stroke="#e8a63c" stroke-width="1.05"/><circle cx="427.38" cy="164.02" r="3.3" fill="none" stroke="#e8a63c" stroke-width="1.05"/><circle cx="428.89" cy="164.4" r="3.3" fill="none" stroke="#e8a63c" stroke-width="1.05"/><circle cx="430.39" cy="164.77" r="3.3" fill="none" stroke="#e8a63c" stroke-width="1.05"/><circle cx="431.9" cy="165.15" r="3.3" fill="none" stroke="#e8a63c" stroke-width="1.05"/><circle cx="433.4" cy="165.52" r="3.3" fill="none" stroke="#e8a63c" stroke-width="1.05"/><circle cx="434.9" cy="165.9" r="3.3" fill="none" stroke="#e8a63c" stroke-width="1.05"/><circle cx="436.41" cy="166.29" r="3.3" fill="none" stroke="#e8a63c" stroke-width="1.05"/><circle cx="437.91" cy="166.67" r="3.3" fill="none" stroke="#e8a63c" stroke-width="1.05"/><circle cx="439.42" cy="167.07" r="3.3" fill="none" stroke="#e8a63c" stroke-width="1.05"/><circle cx="440.92" cy="167.46" r="3.3" fill="none" stroke="#e8a63c" stroke-width="1.05"/><circle cx="442.42" cy="167.86" r="3.3" fill="none" stroke="#e8a63c" stroke-width="1.05"/><circle cx="443.93" cy="168.26" r="3.3" fill="none" stroke="#e8a63c" stroke-width="1.05"/><circle cx="445.43" cy="168.66" r="3.3" fill="none" stroke="#e8a63c" stroke-width="1.05"/><circle cx="446.94" cy="169.06" r="3.3" fill="none" stroke="#e8a63c" stroke-width="1.05"/><circle cx="448.44" cy="169.46" r="3.3" fill="none" stroke="#e8a63c" stroke-width="1.05"/><circle cx="449.94" cy="169.86" r="3.3" fill="none" stroke="#e8a63c" stroke-width="1.05"/><circle cx="451.45" cy="170.27" r="3.3" fill="none" stroke="#e8a63c" stroke-width="1.05"/><circle cx="452.95" cy="170.67" r="3.3" fill="none" stroke="#e8a63c" stroke-width="1.05"/><circle cx="454.46" cy="171.07" r="3.3" fill="none" stroke="#e8a63c" stroke-width="1.05"/><circle cx="455.96" cy="171.47" r="3.3" fill="none" stroke="#e8a63c" stroke-width="1.05"/><circle cx="457.46" cy="171.87" r="3.3" fill="none" stroke="#e8a63c" stroke-width="1.05"/><circle cx="458.97" cy="172.27" r="3.3" fill="none" stroke="#e8a63c" stroke-width="1.05"/><circle cx="460.47" cy="172.66" r="3.3" fill="none" stroke="#e8a63c" stroke-width="1.05"/><circle cx="461.98" cy="173.05" r="3.3" fill="none" stroke="#e8a63c" stroke-width="1.05"/><circle cx="463.48" cy="173.43" r="3.3" fill="none" stroke="#e8a63c" stroke-width="1.05"/><circle cx="464.98" cy="173.81" r="3.3" fill="none" stroke="#e8a63c" stroke-width="1.05"/><circle cx="466.49" cy="174.19" r="3.3" fill="none" stroke="#e8a63c" stroke-width="1.05"/><circle cx="467.99" cy="174.56" r="3.3" fill="none" stroke="#e8a63c" stroke-width="1.05"/><circle cx="469.5" cy="174.92" r="3.3" fill="none" stroke="#e8a63c" stroke-width="1.05"/><circle cx="471" cy="175.28" r="3.3" fill="none" stroke="#e8a63c" stroke-width="1.05"/><circle cx="472.5" cy="175.64" r="3.3" fill="none" stroke="#e8a63c" stroke-width="1.05"/><circle cx="474.01" cy="175.99" r="3.3" fill="none" stroke="#e8a63c" stroke-width="1.05"/><circle cx="475.51" cy="176.33" r="3.3" fill="none" stroke="#e8a63c" stroke-width="1.05"/><circle cx="477.02" cy="176.67" r="3.3" fill="none" stroke="#e8a63c" stroke-width="1.05"/><circle cx="478.52" cy="177" r="3.3" fill="none" stroke="#e8a63c" stroke-width="1.05"/><circle cx="480.02" cy="177.34" r="3.3" fill="none" stroke="#e8a63c" stroke-width="1.05"/><circle cx="481.53" cy="177.66" r="3.3" fill="none" stroke="#e8a63c" stroke-width="1.05"/><circle cx="483.03" cy="177.99" r="3.3" fill="none" stroke="#e8a63c" stroke-width="1.05"/><circle cx="484.54" cy="178.31" r="3.3" fill="none" stroke="#e8a63c" stroke-width="1.05"/><circle cx="486.04" cy="178.63" r="3.3" fill="none" stroke="#e8a63c" stroke-width="1.05"/><circle cx="487.54" cy="178.95" r="3.3" fill="none" stroke="#e8a63c" stroke-width="1.05"/><circle cx="489.05" cy="179.27" r="3.3" fill="none" stroke="#e8a63c" stroke-width="1.05"/><circle cx="490.55" cy="179.58" r="3.3" fill="none" stroke="#e8a63c" stroke-width="1.05"/><circle cx="492.06" cy="179.89" r="3.3" fill="none" stroke="#e8a63c" stroke-width="1.05"/><circle cx="493.56" cy="180.2" r="3.3" fill="none" stroke="#e8a63c" stroke-width="1.05"/><circle cx="495.06" cy="180.51" r="3.3" fill="none" stroke="#e8a63c" stroke-width="1.05"/><circle cx="496.57" cy="180.82" r="3.3" fill="none" stroke="#e8a63c" stroke-width="1.05"/><circle cx="498.07" cy="181.13" r="3.3" fill="none" stroke="#e8a63c" stroke-width="1.05"/><circle cx="499.58" cy="181.44" r="3.3" fill="none" stroke="#e8a63c" stroke-width="1.05"/><circle cx="501.08" cy="181.75" r="3.3" fill="none" stroke="#e8a63c" stroke-width="1.05"/><circle cx="502.58" cy="182.06" r="3.3" fill="none" stroke="#e8a63c" stroke-width="1.05"/><circle cx="504.09" cy="182.37" r="3.3" fill="none" stroke="#e8a63c" stroke-width="1.05"/><circle cx="505.59" cy="182.68" r="3.3" fill="none" stroke="#e8a63c" stroke-width="1.05"/><circle cx="507.1" cy="182.99" r="3.3" fill="none" stroke="#e8a63c" stroke-width="1.05"/><circle cx="508.6" cy="183.3" r="3.3" fill="none" stroke="#e8a63c" stroke-width="1.05"/><circle cx="510.1" cy="183.61" r="3.3" fill="none" stroke="#e8a63c" stroke-width="1.05"/><circle cx="511.61" cy="183.93" r="3.3" fill="none" stroke="#e8a63c" stroke-width="1.05"/><circle cx="513.11" cy="184.24" r="3.3" fill="none" stroke="#e8a63c" stroke-width="1.05"/><circle cx="514.62" cy="184.55" r="3.3" fill="none" stroke="#e8a63c" stroke-width="1.05"/><circle cx="516.12" cy="184.86" r="3.3" fill="none" stroke="#e8a63c" stroke-width="1.05"/><circle cx="517.62" cy="185.16" r="3.3" fill="none" stroke="#e8a63c" stroke-width="1.05"/><circle cx="519.13" cy="185.47" r="3.3" fill="none" stroke="#e8a63c" stroke-width="1.05"/><circle cx="520.63" cy="185.78" r="3.3" fill="none" stroke="#e8a63c" stroke-width="1.05"/><circle cx="522.14" cy="186.09" r="3.3" fill="none" stroke="#e8a63c" stroke-width="1.05"/><circle cx="523.64" cy="186.39" r="3.3" fill="none" stroke="#e8a63c" stroke-width="1.05"/><circle cx="525.14" cy="186.7" r="3.3" fill="none" stroke="#e8a63c" stroke-width="1.05"/><circle cx="526.65" cy="187" r="3.3" fill="none" stroke="#e8a63c" stroke-width="1.05"/><circle cx="528.15" cy="187.31" r="3.3" fill="none" stroke="#e8a63c" stroke-width="1.05"/><circle cx="529.66" cy="187.61" r="3.3" fill="none" stroke="#e8a63c" stroke-width="1.05"/><circle cx="531.16" cy="187.92" r="3.3" fill="none" stroke="#e8a63c" stroke-width="1.05"/><circle cx="532.66" cy="188.22" r="3.3" fill="none" stroke="#e8a63c" stroke-width="1.05"/><circle cx="534.17" cy="188.53" r="3.3" fill="none" stroke="#e8a63c" stroke-width="1.05"/><circle cx="535.67" cy="188.83" r="3.3" fill="none" stroke="#e8a63c" stroke-width="1.05"/><circle cx="537.18" cy="189.14" r="3.3" fill="none" stroke="#e8a63c" stroke-width="1.05"/><circle cx="538.68" cy="189.44" r="3.3" fill="none" stroke="#e8a63c" stroke-width="1.05"/><circle cx="540.18" cy="189.75" r="3.3" fill="none" stroke="#e8a63c" stroke-width="1.05"/><circle cx="541.69" cy="190.05" r="3.3" fill="none" stroke="#e8a63c" stroke-width="1.05"/><circle cx="543.19" cy="190.36" r="3.3" fill="none" stroke="#e8a63c" stroke-width="1.05"/><circle cx="544.7" cy="190.66" r="3.3" fill="none" stroke="#e8a63c" stroke-width="1.05"/><circle cx="546.2" cy="190.97" r="3.3" fill="none" stroke="#e8a63c" stroke-width="1.05"/><circle cx="547.7" cy="191.28" r="3.3" fill="none" stroke="#e8a63c" stroke-width="1.05"/><circle cx="549.21" cy="191.58" r="3.3" fill="none" stroke="#e8a63c" stroke-width="1.05"/><circle cx="550.71" cy="191.89" r="3.3" fill="none" stroke="#e8a63c" stroke-width="1.05"/><circle cx="552.22" cy="192.2" r="3.3" fill="none" stroke="#e8a63c" stroke-width="1.05"/><circle cx="553.72" cy="192.51" r="3.3" fill="none" stroke="#e8a63c" stroke-width="1.05"/><circle cx="555.22" cy="192.82" r="3.3" fill="none" stroke="#e8a63c" stroke-width="1.05"/><circle cx="556.73" cy="193.12" r="3.3" fill="none" stroke="#e8a63c" stroke-width="1.05"/><circle cx="558.23" cy="193.43" r="3.3" fill="none" stroke="#e8a63c" stroke-width="1.05"/><circle cx="559.74" cy="193.74" r="3.3" fill="none" stroke="#e8a63c" stroke-width="1.05"/><circle cx="561.24" cy="194.05" r="3.3" fill="none" stroke="#e8a63c" stroke-width="1.05"/><circle cx="562.74" cy="194.36" r="3.3" fill="none" stroke="#e8a63c" stroke-width="1.05"/><circle cx="564.25" cy="194.67" r="3.3" fill="none" stroke="#e8a63c" stroke-width="1.05"/><circle cx="565.75" cy="194.98" r="3.3" fill="none" stroke="#e8a63c" stroke-width="1.05"/><circle cx="567.26" cy="195.29" r="3.3" fill="none" stroke="#e8a63c" stroke-width="1.05"/><circle cx="568.76" cy="195.59" r="3.3" fill="none" stroke="#e8a63c" stroke-width="1.05"/><circle cx="570.26" cy="195.9" r="3.3" fill="none" stroke="#e8a63c" stroke-width="1.05"/><circle cx="571.77" cy="196.21" r="3.3" fill="none" stroke="#e8a63c" stroke-width="1.05"/><circle cx="573.27" cy="196.51" r="3.3" fill="none" stroke="#e8a63c" stroke-width="1.05"/><circle cx="574.78" cy="196.82" r="3.3" fill="none" stroke="#e8a63c" stroke-width="1.05"/><circle cx="576.28" cy="197.12" r="3.3" fill="none" stroke="#e8a63c" stroke-width="1.05"/><circle cx="577.78" cy="197.43" r="3.3" fill="none" stroke="#e8a63c" stroke-width="1.05"/><circle cx="579.29" cy="197.73" r="3.3" fill="none" stroke="#e8a63c" stroke-width="1.05"/><circle cx="580.79" cy="198.03" r="3.3" fill="none" stroke="#e8a63c" stroke-width="1.05"/><circle cx="582.3" cy="198.34" r="3.3" fill="none" stroke="#e8a63c" stroke-width="1.05"/><circle cx="583.8" cy="198.64" r="3.3" fill="none" stroke="#e8a63c" stroke-width="1.05"/><circle cx="585.3" cy="198.93" r="3.3" fill="none" stroke="#e8a63c" stroke-width="1.05"/><circle cx="586.81" cy="199.23" r="3.3" fill="none" stroke="#e8a63c" stroke-width="1.05"/><circle cx="588.31" cy="199.53" r="3.3" fill="none" stroke="#e8a63c" stroke-width="1.05"/><circle cx="589.82" cy="199.82" r="3.3" fill="none" stroke="#e8a63c" stroke-width="1.05"/><circle cx="591.32" cy="200.11" r="3.3" fill="none" stroke="#e8a63c" stroke-width="1.05"/><circle cx="592.82" cy="200.41" r="3.3" fill="none" stroke="#e8a63c" stroke-width="1.05"/><circle cx="594.33" cy="200.7" r="3.3" fill="none" stroke="#e8a63c" stroke-width="1.05"/><circle cx="595.83" cy="200.99" r="3.3" fill="none" stroke="#e8a63c" stroke-width="1.05"/><circle cx="597.34" cy="201.28" r="3.3" fill="none" stroke="#e8a63c" stroke-width="1.05"/><circle cx="598.84" cy="201.57" r="3.3" fill="none" stroke="#e8a63c" stroke-width="1.05"/><circle cx="600.34" cy="201.86" r="3.3" fill="none" stroke="#e8a63c" stroke-width="1.05"/><circle cx="601.85" cy="202.14" r="3.3" fill="none" stroke="#e8a63c" stroke-width="1.05"/><circle cx="603.35" cy="202.43" r="3.3" fill="none" stroke="#e8a63c" stroke-width="1.05"/><circle cx="604.86" cy="202.72" r="3.3" fill="none" stroke="#e8a63c" stroke-width="1.05"/><circle cx="606.36" cy="203.01" r="3.3" fill="none" stroke="#e8a63c" stroke-width="1.05"/><circle cx="607.86" cy="203.3" r="3.3" fill="none" stroke="#e8a63c" stroke-width="1.05"/><circle cx="609.37" cy="203.59" r="3.3" fill="none" stroke="#e8a63c" stroke-width="1.05"/><circle cx="610.87" cy="203.88" r="3.3" fill="none" stroke="#e8a63c" stroke-width="1.05"/><circle cx="612.38" cy="204.17" r="3.3" fill="none" stroke="#e8a63c" stroke-width="1.05"/><circle cx="613.88" cy="204.47" r="3.3" fill="none" stroke="#e8a63c" stroke-width="1.05"/><circle cx="615.38" cy="204.76" r="3.3" fill="none" stroke="#e8a63c" stroke-width="1.05"/><circle cx="616.89" cy="205.06" r="3.3" fill="none" stroke="#e8a63c" stroke-width="1.05"/><circle cx="618.39" cy="205.36" r="3.3" fill="none" stroke="#e8a63c" stroke-width="1.05"/><circle cx="619.9" cy="205.65" r="3.3" fill="none" stroke="#e8a63c" stroke-width="1.05"/><circle cx="621.4" cy="205.96" r="3.3" fill="none" stroke="#e8a63c" stroke-width="1.05"/><circle cx="622.9" cy="206.27" r="3.3" fill="none" stroke="#e8a63c" stroke-width="1.05"/><circle cx="624.41" cy="206.62" r="3.3" fill="none" stroke="#e8a63c" stroke-width="1.05"/><circle cx="625.91" cy="206.98" r="3.3" fill="none" stroke="#e8a63c" stroke-width="1.05"/><circle cx="322.1" cy="104.46" r="3.6" fill="none" stroke="#e8a63c" stroke-width="1.2"/><circle cx="323.61" cy="107.25" r="3.6" fill="none" stroke="#e8a63c" stroke-width="1.2"/><circle cx="325.11" cy="108.36" r="3.6" fill="none" stroke="#e8a63c" stroke-width="1.2"/><circle cx="326.62" cy="109.41" r="3.6" fill="none" stroke="#e8a63c" stroke-width="1.2"/><circle cx="328.12" cy="113.31" r="3.6" fill="none" stroke="#e8a63c" stroke-width="1.2"/>
<circle cx="625.91" cy="206.98" r="3.3" fill="#ffffff" stroke="#e8a63c" stroke-width="1.1"/>
<circle cx="329.62" cy="129.62" r="3.3" fill="none" stroke="#5cc8cc" stroke-width="1.05"/><circle cx="331.13" cy="129.79" r="3.3" fill="none" stroke="#5cc8cc" stroke-width="1.05"/><circle cx="332.63" cy="129.96" r="3.3" fill="none" stroke="#5cc8cc" stroke-width="1.05"/><circle cx="334.14" cy="130.13" r="3.3" fill="none" stroke="#5cc8cc" stroke-width="1.05"/><circle cx="335.64" cy="130.32" r="3.3" fill="none" stroke="#5cc8cc" stroke-width="1.05"/><circle cx="337.14" cy="130.53" r="3.3" fill="none" stroke="#5cc8cc" stroke-width="1.05"/><circle cx="338.65" cy="130.74" r="3.3" fill="none" stroke="#5cc8cc" stroke-width="1.05"/><circle cx="340.15" cy="130.95" r="3.3" fill="none" stroke="#5cc8cc" stroke-width="1.05"/><circle cx="341.66" cy="131.17" r="3.3" fill="none" stroke="#5cc8cc" stroke-width="1.05"/><circle cx="343.16" cy="131.39" r="3.3" fill="none" stroke="#5cc8cc" stroke-width="1.05"/><circle cx="344.66" cy="131.6" r="3.3" fill="none" stroke="#5cc8cc" stroke-width="1.05"/><circle cx="346.17" cy="131.82" r="3.3" fill="none" stroke="#5cc8cc" stroke-width="1.05"/><circle cx="347.67" cy="132.03" r="3.3" fill="none" stroke="#5cc8cc" stroke-width="1.05"/><circle cx="349.18" cy="132.22" r="3.3" fill="none" stroke="#5cc8cc" stroke-width="1.05"/><circle cx="350.68" cy="132.41" r="3.3" fill="none" stroke="#5cc8cc" stroke-width="1.05"/><circle cx="352.18" cy="132.59" r="3.3" fill="none" stroke="#5cc8cc" stroke-width="1.05"/><circle cx="353.69" cy="132.77" r="3.3" fill="none" stroke="#5cc8cc" stroke-width="1.05"/><circle cx="355.19" cy="132.94" r="3.3" fill="none" stroke="#5cc8cc" stroke-width="1.05"/><circle cx="356.7" cy="133.11" r="3.3" fill="none" stroke="#5cc8cc" stroke-width="1.05"/><circle cx="358.2" cy="133.27" r="3.3" fill="none" stroke="#5cc8cc" stroke-width="1.05"/><circle cx="359.7" cy="133.43" r="3.3" fill="none" stroke="#5cc8cc" stroke-width="1.05"/><circle cx="361.21" cy="133.59" r="3.3" fill="none" stroke="#5cc8cc" stroke-width="1.05"/><circle cx="362.71" cy="133.75" r="3.3" fill="none" stroke="#5cc8cc" stroke-width="1.05"/><circle cx="364.22" cy="133.91" r="3.3" fill="none" stroke="#5cc8cc" stroke-width="1.05"/><circle cx="365.72" cy="134.06" r="3.3" fill="none" stroke="#5cc8cc" stroke-width="1.05"/><circle cx="367.22" cy="134.21" r="3.3" fill="none" stroke="#5cc8cc" stroke-width="1.05"/><circle cx="368.73" cy="134.37" r="3.3" fill="none" stroke="#5cc8cc" stroke-width="1.05"/><circle cx="370.23" cy="134.52" r="3.3" fill="none" stroke="#5cc8cc" stroke-width="1.05"/><circle cx="371.74" cy="134.68" r="3.3" fill="none" stroke="#5cc8cc" stroke-width="1.05"/><circle cx="373.24" cy="134.83" r="3.3" fill="none" stroke="#5cc8cc" stroke-width="1.05"/><circle cx="374.74" cy="134.99" r="3.3" fill="none" stroke="#5cc8cc" stroke-width="1.05"/><circle cx="376.25" cy="135.15" r="3.3" fill="none" stroke="#5cc8cc" stroke-width="1.05"/><circle cx="377.75" cy="135.32" r="3.3" fill="none" stroke="#5cc8cc" stroke-width="1.05"/><circle cx="379.26" cy="135.48" r="3.3" fill="none" stroke="#5cc8cc" stroke-width="1.05"/><circle cx="380.76" cy="135.65" r="3.3" fill="none" stroke="#5cc8cc" stroke-width="1.05"/><circle cx="382.26" cy="135.82" r="3.3" fill="none" stroke="#5cc8cc" stroke-width="1.05"/><circle cx="383.77" cy="136" r="3.3" fill="none" stroke="#5cc8cc" stroke-width="1.05"/><circle cx="385.27" cy="136.18" r="3.3" fill="none" stroke="#5cc8cc" stroke-width="1.05"/><circle cx="386.78" cy="136.37" r="3.3" fill="none" stroke="#5cc8cc" stroke-width="1.05"/><circle cx="388.28" cy="136.57" r="3.3" fill="none" stroke="#5cc8cc" stroke-width="1.05"/><circle cx="389.78" cy="136.77" r="3.3" fill="none" stroke="#5cc8cc" stroke-width="1.05"/><circle cx="391.29" cy="136.97" r="3.3" fill="none" stroke="#5cc8cc" stroke-width="1.05"/><circle cx="392.79" cy="137.19" r="3.3" fill="none" stroke="#5cc8cc" stroke-width="1.05"/><circle cx="394.3" cy="137.41" r="3.3" fill="none" stroke="#5cc8cc" stroke-width="1.05"/><circle cx="395.8" cy="137.64" r="3.3" fill="none" stroke="#5cc8cc" stroke-width="1.05"/><circle cx="397.3" cy="137.88" r="3.3" fill="none" stroke="#5cc8cc" stroke-width="1.05"/><circle cx="398.81" cy="138.13" r="3.3" fill="none" stroke="#5cc8cc" stroke-width="1.05"/><circle cx="400.31" cy="138.4" r="3.3" fill="none" stroke="#5cc8cc" stroke-width="1.05"/><circle cx="401.82" cy="138.67" r="3.3" fill="none" stroke="#5cc8cc" stroke-width="1.05"/><circle cx="403.32" cy="138.95" r="3.3" fill="none" stroke="#5cc8cc" stroke-width="1.05"/><circle cx="404.82" cy="139.25" r="3.3" fill="none" stroke="#5cc8cc" stroke-width="1.05"/><circle cx="406.33" cy="139.55" r="3.3" fill="none" stroke="#5cc8cc" stroke-width="1.05"/><circle cx="407.83" cy="139.85" r="3.3" fill="none" stroke="#5cc8cc" stroke-width="1.05"/><circle cx="409.34" cy="140.16" r="3.3" fill="none" stroke="#5cc8cc" stroke-width="1.05"/><circle cx="410.84" cy="140.48" r="3.3" fill="none" stroke="#5cc8cc" stroke-width="1.05"/><circle cx="412.34" cy="140.8" r="3.3" fill="none" stroke="#5cc8cc" stroke-width="1.05"/><circle cx="413.85" cy="141.13" r="3.3" fill="none" stroke="#5cc8cc" stroke-width="1.05"/><circle cx="415.35" cy="141.46" r="3.3" fill="none" stroke="#5cc8cc" stroke-width="1.05"/><circle cx="416.86" cy="141.79" r="3.3" fill="none" stroke="#5cc8cc" stroke-width="1.05"/><circle cx="418.36" cy="142.12" r="3.3" fill="none" stroke="#5cc8cc" stroke-width="1.05"/><circle cx="419.86" cy="142.45" r="3.3" fill="none" stroke="#5cc8cc" stroke-width="1.05"/><circle cx="421.37" cy="142.78" r="3.3" fill="none" stroke="#5cc8cc" stroke-width="1.05"/><circle cx="422.87" cy="143.11" r="3.3" fill="none" stroke="#5cc8cc" stroke-width="1.05"/><circle cx="424.38" cy="143.44" r="3.3" fill="none" stroke="#5cc8cc" stroke-width="1.05"/><circle cx="425.88" cy="143.76" r="3.3" fill="none" stroke="#5cc8cc" stroke-width="1.05"/><circle cx="427.38" cy="144.08" r="3.3" fill="none" stroke="#5cc8cc" stroke-width="1.05"/><circle cx="428.89" cy="144.4" r="3.3" fill="none" stroke="#5cc8cc" stroke-width="1.05"/><circle cx="430.39" cy="144.71" r="3.3" fill="none" stroke="#5cc8cc" stroke-width="1.05"/><circle cx="431.9" cy="145.01" r="3.3" fill="none" stroke="#5cc8cc" stroke-width="1.05"/><circle cx="433.4" cy="145.31" r="3.3" fill="none" stroke="#5cc8cc" stroke-width="1.05"/><circle cx="434.9" cy="145.6" r="3.3" fill="none" stroke="#5cc8cc" stroke-width="1.05"/><circle cx="436.41" cy="145.89" r="3.3" fill="none" stroke="#5cc8cc" stroke-width="1.05"/><circle cx="437.91" cy="146.18" r="3.3" fill="none" stroke="#5cc8cc" stroke-width="1.05"/><circle cx="439.42" cy="146.47" r="3.3" fill="none" stroke="#5cc8cc" stroke-width="1.05"/><circle cx="440.92" cy="146.76" r="3.3" fill="none" stroke="#5cc8cc" stroke-width="1.05"/><circle cx="442.42" cy="147.05" r="3.3" fill="none" stroke="#5cc8cc" stroke-width="1.05"/><circle cx="443.93" cy="147.33" r="3.3" fill="none" stroke="#5cc8cc" stroke-width="1.05"/><circle cx="445.43" cy="147.62" r="3.3" fill="none" stroke="#5cc8cc" stroke-width="1.05"/><circle cx="446.94" cy="147.9" r="3.3" fill="none" stroke="#5cc8cc" stroke-width="1.05"/><circle cx="448.44" cy="148.18" r="3.3" fill="none" stroke="#5cc8cc" stroke-width="1.05"/><circle cx="449.94" cy="148.46" r="3.3" fill="none" stroke="#5cc8cc" stroke-width="1.05"/><circle cx="451.45" cy="148.74" r="3.3" fill="none" stroke="#5cc8cc" stroke-width="1.05"/><circle cx="452.95" cy="149.02" r="3.3" fill="none" stroke="#5cc8cc" stroke-width="1.05"/><circle cx="454.46" cy="149.3" r="3.3" fill="none" stroke="#5cc8cc" stroke-width="1.05"/><circle cx="455.96" cy="149.58" r="3.3" fill="none" stroke="#5cc8cc" stroke-width="1.05"/><circle cx="457.46" cy="149.85" r="3.3" fill="none" stroke="#5cc8cc" stroke-width="1.05"/><circle cx="458.97" cy="150.13" r="3.3" fill="none" stroke="#5cc8cc" stroke-width="1.05"/><circle cx="460.47" cy="150.4" r="3.3" fill="none" stroke="#5cc8cc" stroke-width="1.05"/><circle cx="461.98" cy="150.67" r="3.3" fill="none" stroke="#5cc8cc" stroke-width="1.05"/><circle cx="463.48" cy="150.94" r="3.3" fill="none" stroke="#5cc8cc" stroke-width="1.05"/><circle cx="464.98" cy="151.21" r="3.3" fill="none" stroke="#5cc8cc" stroke-width="1.05"/><circle cx="466.49" cy="151.48" r="3.3" fill="none" stroke="#5cc8cc" stroke-width="1.05"/><circle cx="467.99" cy="151.75" r="3.3" fill="none" stroke="#5cc8cc" stroke-width="1.05"/><circle cx="469.5" cy="152.01" r="3.3" fill="none" stroke="#5cc8cc" stroke-width="1.05"/><circle cx="471" cy="152.28" r="3.3" fill="none" stroke="#5cc8cc" stroke-width="1.05"/><circle cx="472.5" cy="152.54" r="3.3" fill="none" stroke="#5cc8cc" stroke-width="1.05"/><circle cx="474.01" cy="152.81" r="3.3" fill="none" stroke="#5cc8cc" stroke-width="1.05"/><circle cx="475.51" cy="153.07" r="3.3" fill="none" stroke="#5cc8cc" stroke-width="1.05"/><circle cx="477.02" cy="153.33" r="3.3" fill="none" stroke="#5cc8cc" stroke-width="1.05"/><circle cx="478.52" cy="153.58" r="3.3" fill="none" stroke="#5cc8cc" stroke-width="1.05"/><circle cx="480.02" cy="153.84" r="3.3" fill="none" stroke="#5cc8cc" stroke-width="1.05"/><circle cx="481.53" cy="154.1" r="3.3" fill="none" stroke="#5cc8cc" stroke-width="1.05"/><circle cx="483.03" cy="154.35" r="3.3" fill="none" stroke="#5cc8cc" stroke-width="1.05"/><circle cx="484.54" cy="154.6" r="3.3" fill="none" stroke="#5cc8cc" stroke-width="1.05"/><circle cx="486.04" cy="154.86" r="3.3" fill="none" stroke="#5cc8cc" stroke-width="1.05"/><circle cx="487.54" cy="155.11" r="3.3" fill="none" stroke="#5cc8cc" stroke-width="1.05"/><circle cx="489.05" cy="155.36" r="3.3" fill="none" stroke="#5cc8cc" stroke-width="1.05"/><circle cx="490.55" cy="155.61" r="3.3" fill="none" stroke="#5cc8cc" stroke-width="1.05"/><circle cx="492.06" cy="155.86" r="3.3" fill="none" stroke="#5cc8cc" stroke-width="1.05"/><circle cx="493.56" cy="156.1" r="3.3" fill="none" stroke="#5cc8cc" stroke-width="1.05"/><circle cx="495.06" cy="156.35" r="3.3" fill="none" stroke="#5cc8cc" stroke-width="1.05"/><circle cx="496.57" cy="156.6" r="3.3" fill="none" stroke="#5cc8cc" stroke-width="1.05"/><circle cx="498.07" cy="156.84" r="3.3" fill="none" stroke="#5cc8cc" stroke-width="1.05"/><circle cx="499.58" cy="157.09" r="3.3" fill="none" stroke="#5cc8cc" stroke-width="1.05"/><circle cx="501.08" cy="157.33" r="3.3" fill="none" stroke="#5cc8cc" stroke-width="1.05"/><circle cx="502.58" cy="157.58" r="3.3" fill="none" stroke="#5cc8cc" stroke-width="1.05"/><circle cx="504.09" cy="157.82" r="3.3" fill="none" stroke="#5cc8cc" stroke-width="1.05"/><circle cx="505.59" cy="158.07" r="3.3" fill="none" stroke="#5cc8cc" stroke-width="1.05"/><circle cx="507.1" cy="158.31" r="3.3" fill="none" stroke="#5cc8cc" stroke-width="1.05"/><circle cx="508.6" cy="158.55" r="3.3" fill="none" stroke="#5cc8cc" stroke-width="1.05"/><circle cx="510.1" cy="158.8" r="3.3" fill="none" stroke="#5cc8cc" stroke-width="1.05"/><circle cx="511.61" cy="159.04" r="3.3" fill="none" stroke="#5cc8cc" stroke-width="1.05"/><circle cx="513.11" cy="159.29" r="3.3" fill="none" stroke="#5cc8cc" stroke-width="1.05"/><circle cx="514.62" cy="159.53" r="3.3" fill="none" stroke="#5cc8cc" stroke-width="1.05"/><circle cx="516.12" cy="159.77" r="3.3" fill="none" stroke="#5cc8cc" stroke-width="1.05"/><circle cx="517.62" cy="160.02" r="3.3" fill="none" stroke="#5cc8cc" stroke-width="1.05"/><circle cx="519.13" cy="160.26" r="3.3" fill="none" stroke="#5cc8cc" stroke-width="1.05"/><circle cx="520.63" cy="160.5" r="3.3" fill="none" stroke="#5cc8cc" stroke-width="1.05"/><circle cx="522.14" cy="160.74" r="3.3" fill="none" stroke="#5cc8cc" stroke-width="1.05"/><circle cx="523.64" cy="160.98" r="3.3" fill="none" stroke="#5cc8cc" stroke-width="1.05"/><circle cx="525.14" cy="161.22" r="3.3" fill="none" stroke="#5cc8cc" stroke-width="1.05"/><circle cx="526.65" cy="161.46" r="3.3" fill="none" stroke="#5cc8cc" stroke-width="1.05"/><circle cx="528.15" cy="161.7" r="3.3" fill="none" stroke="#5cc8cc" stroke-width="1.05"/><circle cx="529.66" cy="161.94" r="3.3" fill="none" stroke="#5cc8cc" stroke-width="1.05"/><circle cx="531.16" cy="162.18" r="3.3" fill="none" stroke="#5cc8cc" stroke-width="1.05"/><circle cx="532.66" cy="162.41" r="3.3" fill="none" stroke="#5cc8cc" stroke-width="1.05"/><circle cx="534.17" cy="162.65" r="3.3" fill="none" stroke="#5cc8cc" stroke-width="1.05"/><circle cx="535.67" cy="162.88" r="3.3" fill="none" stroke="#5cc8cc" stroke-width="1.05"/><circle cx="537.18" cy="163.11" r="3.3" fill="none" stroke="#5cc8cc" stroke-width="1.05"/><circle cx="538.68" cy="163.34" r="3.3" fill="none" stroke="#5cc8cc" stroke-width="1.05"/><circle cx="540.18" cy="163.57" r="3.3" fill="none" stroke="#5cc8cc" stroke-width="1.05"/><circle cx="541.69" cy="163.8" r="3.3" fill="none" stroke="#5cc8cc" stroke-width="1.05"/><circle cx="543.19" cy="164.03" r="3.3" fill="none" stroke="#5cc8cc" stroke-width="1.05"/><circle cx="544.7" cy="164.26" r="3.3" fill="none" stroke="#5cc8cc" stroke-width="1.05"/><circle cx="546.2" cy="164.48" r="3.3" fill="none" stroke="#5cc8cc" stroke-width="1.05"/><circle cx="547.7" cy="164.7" r="3.3" fill="none" stroke="#5cc8cc" stroke-width="1.05"/><circle cx="549.21" cy="164.92" r="3.3" fill="none" stroke="#5cc8cc" stroke-width="1.05"/><circle cx="550.71" cy="165.15" r="3.3" fill="none" stroke="#5cc8cc" stroke-width="1.05"/><circle cx="552.22" cy="165.37" r="3.3" fill="none" stroke="#5cc8cc" stroke-width="1.05"/><circle cx="553.72" cy="165.59" r="3.3" fill="none" stroke="#5cc8cc" stroke-width="1.05"/><circle cx="555.22" cy="165.8" r="3.3" fill="none" stroke="#5cc8cc" stroke-width="1.05"/><circle cx="556.73" cy="166.02" r="3.3" fill="none" stroke="#5cc8cc" stroke-width="1.05"/><circle cx="558.23" cy="166.24" r="3.3" fill="none" stroke="#5cc8cc" stroke-width="1.05"/><circle cx="559.74" cy="166.46" r="3.3" fill="none" stroke="#5cc8cc" stroke-width="1.05"/><circle cx="561.24" cy="166.67" r="3.3" fill="none" stroke="#5cc8cc" stroke-width="1.05"/><circle cx="562.74" cy="166.88" r="3.3" fill="none" stroke="#5cc8cc" stroke-width="1.05"/><circle cx="564.25" cy="167.1" r="3.3" fill="none" stroke="#5cc8cc" stroke-width="1.05"/><circle cx="565.75" cy="167.31" r="3.3" fill="none" stroke="#5cc8cc" stroke-width="1.05"/><circle cx="567.26" cy="167.52" r="3.3" fill="none" stroke="#5cc8cc" stroke-width="1.05"/><circle cx="568.76" cy="167.72" r="3.3" fill="none" stroke="#5cc8cc" stroke-width="1.05"/><circle cx="570.26" cy="167.93" r="3.3" fill="none" stroke="#5cc8cc" stroke-width="1.05"/><circle cx="571.77" cy="168.14" r="3.3" fill="none" stroke="#5cc8cc" stroke-width="1.05"/><circle cx="573.27" cy="168.34" r="3.3" fill="none" stroke="#5cc8cc" stroke-width="1.05"/><circle cx="574.78" cy="168.54" r="3.3" fill="none" stroke="#5cc8cc" stroke-width="1.05"/><circle cx="576.28" cy="168.74" r="3.3" fill="none" stroke="#5cc8cc" stroke-width="1.05"/><circle cx="577.78" cy="168.94" r="3.3" fill="none" stroke="#5cc8cc" stroke-width="1.05"/><circle cx="579.29" cy="169.13" r="3.3" fill="none" stroke="#5cc8cc" stroke-width="1.05"/><circle cx="580.79" cy="169.33" r="3.3" fill="none" stroke="#5cc8cc" stroke-width="1.05"/><circle cx="582.3" cy="169.52" r="3.3" fill="none" stroke="#5cc8cc" stroke-width="1.05"/><circle cx="583.8" cy="169.71" r="3.3" fill="none" stroke="#5cc8cc" stroke-width="1.05"/><circle cx="585.3" cy="169.89" r="3.3" fill="none" stroke="#5cc8cc" stroke-width="1.05"/><circle cx="586.81" cy="170.08" r="3.3" fill="none" stroke="#5cc8cc" stroke-width="1.05"/><circle cx="588.31" cy="170.26" r="3.3" fill="none" stroke="#5cc8cc" stroke-width="1.05"/><circle cx="589.82" cy="170.44" r="3.3" fill="none" stroke="#5cc8cc" stroke-width="1.05"/><circle cx="591.32" cy="170.61" r="3.3" fill="none" stroke="#5cc8cc" stroke-width="1.05"/><circle cx="592.82" cy="170.79" r="3.3" fill="none" stroke="#5cc8cc" stroke-width="1.05"/><circle cx="594.33" cy="170.96" r="3.3" fill="none" stroke="#5cc8cc" stroke-width="1.05"/><circle cx="595.83" cy="171.13" r="3.3" fill="none" stroke="#5cc8cc" stroke-width="1.05"/><circle cx="597.34" cy="171.3" r="3.3" fill="none" stroke="#5cc8cc" stroke-width="1.05"/><circle cx="598.84" cy="171.47" r="3.3" fill="none" stroke="#5cc8cc" stroke-width="1.05"/><circle cx="600.34" cy="171.63" r="3.3" fill="none" stroke="#5cc8cc" stroke-width="1.05"/><circle cx="601.85" cy="171.8" r="3.3" fill="none" stroke="#5cc8cc" stroke-width="1.05"/><circle cx="603.35" cy="171.96" r="3.3" fill="none" stroke="#5cc8cc" stroke-width="1.05"/><circle cx="604.86" cy="172.12" r="3.3" fill="none" stroke="#5cc8cc" stroke-width="1.05"/><circle cx="606.36" cy="172.28" r="3.3" fill="none" stroke="#5cc8cc" stroke-width="1.05"/><circle cx="607.86" cy="172.44" r="3.3" fill="none" stroke="#5cc8cc" stroke-width="1.05"/><circle cx="609.37" cy="172.6" r="3.3" fill="none" stroke="#5cc8cc" stroke-width="1.05"/><circle cx="610.87" cy="172.76" r="3.3" fill="none" stroke="#5cc8cc" stroke-width="1.05"/><circle cx="612.38" cy="172.92" r="3.3" fill="none" stroke="#5cc8cc" stroke-width="1.05"/><circle cx="613.88" cy="173.08" r="3.3" fill="none" stroke="#5cc8cc" stroke-width="1.05"/><circle cx="615.38" cy="173.24" r="3.3" fill="none" stroke="#5cc8cc" stroke-width="1.05"/><circle cx="616.89" cy="173.41" r="3.3" fill="none" stroke="#5cc8cc" stroke-width="1.05"/><circle cx="618.39" cy="173.57" r="3.3" fill="none" stroke="#5cc8cc" stroke-width="1.05"/><circle cx="619.9" cy="173.73" r="3.3" fill="none" stroke="#5cc8cc" stroke-width="1.05"/><circle cx="621.4" cy="173.89" r="3.3" fill="none" stroke="#5cc8cc" stroke-width="1.05"/><circle cx="622.9" cy="174.04" r="3.3" fill="none" stroke="#5cc8cc" stroke-width="1.05"/><circle cx="624.41" cy="174.19" r="3.3" fill="none" stroke="#5cc8cc" stroke-width="1.05"/><circle cx="625.91" cy="174.32" r="3.3" fill="none" stroke="#5cc8cc" stroke-width="1.05"/><circle cx="322.1" cy="82.71" r="3.6" fill="none" stroke="#5cc8cc" stroke-width="1.2"/><circle cx="323.61" cy="90.24" r="3.6" fill="none" stroke="#5cc8cc" stroke-width="1.2"/><circle cx="325.11" cy="92.33" r="3.6" fill="none" stroke="#5cc8cc" stroke-width="1.2"/><circle cx="326.62" cy="95.12" r="3.6" fill="none" stroke="#5cc8cc" stroke-width="1.2"/><circle cx="328.12" cy="99.3" r="3.6" fill="none" stroke="#5cc8cc" stroke-width="1.2"/>
<circle cx="625.91" cy="174.32" r="3.3" fill="#ffffff" stroke="#5cc8cc" stroke-width="1.1"/>
<circle cx="354.2" cy="192.6" r="3.75" fill="none" stroke="#e8a63c" stroke-width="1.15"/>
<text x="372.8" y="197" font-size="12" text-anchor="start" fill="#0a0a0a">NMN</text>
<circle cx="354.2" cy="207.9" r="3.75" fill="none" stroke="#5cc8cc" stroke-width="1.15"/>
<text x="372.8" y="212.3" font-size="12" text-anchor="start" fill="#0a0a0a">NMND</text>
<text x="631" y="70.9" font-size="12" text-anchor="end" fill="#0a0a0a" word-spacing="0.9">0.2 A g<tspan font-size="8.8" dy="-5.2">-1</tspan></text>
<path d="M336.3 139V161.6H328.8" fill="none" stroke="#0a0a0a" stroke-width="1.3"/><path d="M320.8 161.6l9.5 -3.1v6.2z" fill="#0a0a0a"/>
<path d="M619.3 107.6V90.4H626.5" fill="none" stroke="#d1343c" stroke-width="1.3"/><path d="M634.5 90.4l-11.5 -3.4v6.8z" fill="#d1343c"/>
<rect x="317.8" y="51.9" width="318.3" height="167.3" fill="none" stroke="#0a0a0a" stroke-width="1.45"/>
<path d="M317.8 219.2h-4.2 M317.8 177.38h-4.2 M317.8 135.55h-4.2 M317.8 93.72h-4.2 M317.8 51.9h-4.2 M317.8 198.29h-2.5 M317.8 156.46h-2.5 M317.8 114.64h-2.5 M317.8 72.81h-2.5" stroke="#0a0a0a" stroke-width="1.25" fill="none"/>
<text x="311.2" y="223.26" font-size="14" text-anchor="end" fill="#0a0a0a">0</text>
<text x="311.2" y="181.44" font-size="14" text-anchor="end" fill="#0a0a0a">60</text>
<text x="311.2" y="139.61" font-size="14" text-anchor="end" fill="#0a0a0a">120</text>
<text x="311.2" y="97.78" font-size="14" text-anchor="end" fill="#0a0a0a">180</text>
<text x="311.2" y="55.96" font-size="14" text-anchor="end" fill="#0a0a0a">240</text>
<path d="M636.1 219.2h4.2 M636.1 163.43h4.2 M636.1 107.67h4.2 M636.1 51.9h4.2 M636.1 191.32h2.5 M636.1 135.55h2.5 M636.1 79.78h2.5" stroke="#0a0a0a" stroke-width="1.25" fill="none"/>
<text x="642.7" y="223.26" font-size="14" text-anchor="start" fill="#0a0a0a">90</text>
<text x="642.7" y="167.49" font-size="14" text-anchor="start" fill="#0a0a0a">95</text>
<text x="642.7" y="111.73" font-size="14" text-anchor="start" fill="#0a0a0a">100</text>
<text x="642.7" y="55.96" font-size="14" text-anchor="start" fill="#0a0a0a">105</text>
<path d="M320.6 219.2v4.2 M395.8 219.2v4.2 M471 219.2v4.2 M546.2 219.2v4.2 M621.4 219.2v4.2 M358.2 219.2v2.5 M433.4 219.2v2.5 M508.6 219.2v2.5 M583.8 219.2v2.5" stroke="#0a0a0a" stroke-width="1.25" fill="none"/>
<text x="320.6" y="236.8" font-size="14" text-anchor="middle" fill="#0a0a0a">0</text>
<text x="395.8" y="236.8" font-size="14" text-anchor="middle" fill="#0a0a0a">50</text>
<text x="471" y="236.8" font-size="14" text-anchor="middle" fill="#0a0a0a">100</text>
<text x="546.2" y="236.8" font-size="14" text-anchor="middle" fill="#0a0a0a">150</text>
<text x="621.4" y="236.8" font-size="14" text-anchor="middle" fill="#0a0a0a">200</text>
<text x="481.3" y="252.6" font-size="14.1" text-anchor="middle" fill="#0a0a0a">Cycle number</text>
<text x="0" y="0" font-size="14.2" text-anchor="middle" fill="#0a0a0a" word-spacing="1.2" transform="translate(285,143.5) rotate(-90)">Specific capacity (mAh g<tspan font-size="9" dy="-5.2">-1</tspan><tspan dy="5.2">)</tspan></text>
<text x="0" y="0" font-size="14.1" text-anchor="middle" fill="#0a0a0a" transform="translate(677.6,144.1) rotate(-90)">Coulombic efficiency (%)</text>
<text x="271.3" y="49.15" font-size="24.5" text-anchor="start" fill="#0a0a0a">b</text>
<rect x="317.5" y="265.9" width="317.5" height="166.5" fill="#fcfcf7"/>
<g opacity="0.45"><circle cx="323.71" cy="365.8" r="2.3" fill="none" stroke="#d9bd3e" stroke-width="0.8"/><circle cx="325.21" cy="362.47" r="2.3" fill="none" stroke="#d9bd3e" stroke-width="0.8"/><circle cx="326.72" cy="361.36" r="2.3" fill="none" stroke="#d9bd3e" stroke-width="0.8"/><circle cx="328.22" cy="356.92" r="2.3" fill="none" stroke="#d9bd3e" stroke-width="0.8"/><circle cx="329.73" cy="317.01" r="2.3" fill="none" stroke="#d9bd3e" stroke-width="0.8"/><circle cx="331.24" cy="339.57" r="2.3" fill="none" stroke="#d9bd3e" stroke-width="0.8"/><circle cx="332.74" cy="329.7" r="2.3" fill="none" stroke="#d9bd3e" stroke-width="0.8"/><circle cx="334.25" cy="333.74" r="2.3" fill="none" stroke="#d9bd3e" stroke-width="0.8"/><circle cx="335.75" cy="338" r="2.3" fill="none" stroke="#d9bd3e" stroke-width="0.8"/><circle cx="337.25" cy="335.89" r="2.3" fill="none" stroke="#d9bd3e" stroke-width="0.8"/><circle cx="338.76" cy="335.52" r="2.3" fill="none" stroke="#d9bd3e" stroke-width="0.8"/><circle cx="340.26" cy="332.63" r="2.3" fill="none" stroke="#d9bd3e" stroke-width="0.8"/><circle cx="341.77" cy="329.28" r="2.3" fill="none" stroke="#d9bd3e" stroke-width="0.8"/><circle cx="343.27" cy="324.97" r="2.3" fill="none" stroke="#d9bd3e" stroke-width="0.8"/><circle cx="344.78" cy="330.57" r="2.3" fill="none" stroke="#d9bd3e" stroke-width="0.8"/><circle cx="346.28" cy="324.49" r="2.3" fill="none" stroke="#d9bd3e" stroke-width="0.8"/><circle cx="347.79" cy="329.07" r="2.3" fill="none" stroke="#d9bd3e" stroke-width="0.8"/><circle cx="349.3" cy="331.49" r="2.3" fill="none" stroke="#d9bd3e" stroke-width="0.8"/><circle cx="350.8" cy="333.73" r="2.3" fill="none" stroke="#d9bd3e" stroke-width="0.8"/><circle cx="352.31" cy="338.92" r="2.3" fill="none" stroke="#d9bd3e" stroke-width="0.8"/><circle cx="353.81" cy="343.11" r="2.3" fill="none" stroke="#d9bd3e" stroke-width="0.8"/><circle cx="355.31" cy="332.83" r="2.3" fill="none" stroke="#d9bd3e" stroke-width="0.8"/><circle cx="356.82" cy="333.44" r="2.3" fill="none" stroke="#d9bd3e" stroke-width="0.8"/><circle cx="358.32" cy="330.11" r="2.3" fill="none" stroke="#d9bd3e" stroke-width="0.8"/><circle cx="359.83" cy="330.05" r="2.3" fill="none" stroke="#d9bd3e" stroke-width="0.8"/><circle cx="361.33" cy="340.93" r="2.3" fill="none" stroke="#d9bd3e" stroke-width="0.8"/><circle cx="362.84" cy="337.19" r="2.3" fill="none" stroke="#d9bd3e" stroke-width="0.8"/><circle cx="364.35" cy="339.97" r="2.3" fill="none" stroke="#d9bd3e" stroke-width="0.8"/><circle cx="365.85" cy="325.52" r="2.3" fill="none" stroke="#d9bd3e" stroke-width="0.8"/><circle cx="367.36" cy="333.14" r="2.3" fill="none" stroke="#d9bd3e" stroke-width="0.8"/><circle cx="368.86" cy="331.54" r="2.3" fill="none" stroke="#d9bd3e" stroke-width="0.8"/><circle cx="370.37" cy="338.53" r="2.3" fill="none" stroke="#d9bd3e" stroke-width="0.8"/><circle cx="371.87" cy="341.04" r="2.3" fill="none" stroke="#d9bd3e" stroke-width="0.8"/><circle cx="373.38" cy="336.37" r="2.3" fill="none" stroke="#d9bd3e" stroke-width="0.8"/><circle cx="374.88" cy="333.09" r="2.3" fill="none" stroke="#d9bd3e" stroke-width="0.8"/><circle cx="376.38" cy="329.27" r="2.3" fill="none" stroke="#d9bd3e" stroke-width="0.8"/><circle cx="377.89" cy="342.75" r="2.3" fill="none" stroke="#d9bd3e" stroke-width="0.8"/><circle cx="379.39" cy="330.17" r="2.3" fill="none" stroke="#d9bd3e" stroke-width="0.8"/><circle cx="380.9" cy="338.26" r="2.3" fill="none" stroke="#d9bd3e" stroke-width="0.8"/><circle cx="382.4" cy="335.99" r="2.3" fill="none" stroke="#d9bd3e" stroke-width="0.8"/><circle cx="383.91" cy="334.68" r="2.3" fill="none" stroke="#d9bd3e" stroke-width="0.8"/><circle cx="385.42" cy="335.35" r="2.3" fill="none" stroke="#d9bd3e" stroke-width="0.8"/><circle cx="386.92" cy="329.3" r="2.3" fill="none" stroke="#d9bd3e" stroke-width="0.8"/><circle cx="388.43" cy="326.46" r="2.3" fill="none" stroke="#d9bd3e" stroke-width="0.8"/><circle cx="389.93" cy="330.12" r="2.3" fill="none" stroke="#d9bd3e" stroke-width="0.8"/><circle cx="391.44" cy="336.1" r="2.3" fill="none" stroke="#d9bd3e" stroke-width="0.8"/><circle cx="392.94" cy="329.58" r="2.3" fill="none" stroke="#d9bd3e" stroke-width="0.8"/><circle cx="394.44" cy="329.88" r="2.3" fill="none" stroke="#d9bd3e" stroke-width="0.8"/><circle cx="395.95" cy="326.58" r="2.3" fill="none" stroke="#d9bd3e" stroke-width="0.8"/><circle cx="397.46" cy="330.61" r="2.3" fill="none" stroke="#d9bd3e" stroke-width="0.8"/><circle cx="398.96" cy="343.39" r="2.3" fill="none" stroke="#d9bd3e" stroke-width="0.8"/><circle cx="400.47" cy="337.58" r="2.3" fill="none" stroke="#d9bd3e" stroke-width="0.8"/><circle cx="401.97" cy="335.16" r="2.3" fill="none" stroke="#d9bd3e" stroke-width="0.8"/><circle cx="403.48" cy="326.17" r="2.3" fill="none" stroke="#d9bd3e" stroke-width="0.8"/><circle cx="404.98" cy="333.35" r="2.3" fill="none" stroke="#d9bd3e" stroke-width="0.8"/><circle cx="406.49" cy="326.25" r="2.3" fill="none" stroke="#d9bd3e" stroke-width="0.8"/><circle cx="407.99" cy="330.45" r="2.3" fill="none" stroke="#d9bd3e" stroke-width="0.8"/><circle cx="409.5" cy="340.5" r="2.3" fill="none" stroke="#d9bd3e" stroke-width="0.8"/><circle cx="411" cy="332.12" r="2.3" fill="none" stroke="#d9bd3e" stroke-width="0.8"/><circle cx="412.5" cy="328.67" r="2.3" fill="none" stroke="#d9bd3e" stroke-width="0.8"/><circle cx="414.01" cy="329.67" r="2.3" fill="none" stroke="#d9bd3e" stroke-width="0.8"/><circle cx="415.51" cy="342.49" r="2.3" fill="none" stroke="#d9bd3e" stroke-width="0.8"/><circle cx="417.02" cy="329.54" r="2.3" fill="none" stroke="#d9bd3e" stroke-width="0.8"/><circle cx="418.52" cy="336.41" r="2.3" fill="none" stroke="#d9bd3e" stroke-width="0.8"/><circle cx="420.03" cy="346.74" r="2.3" fill="none" stroke="#d9bd3e" stroke-width="0.8"/><circle cx="421.54" cy="336.29" r="2.3" fill="none" stroke="#d9bd3e" stroke-width="0.8"/><circle cx="423.04" cy="345.81" r="2.3" fill="none" stroke="#d9bd3e" stroke-width="0.8"/><circle cx="424.55" cy="341.08" r="2.3" fill="none" stroke="#d9bd3e" stroke-width="0.8"/><circle cx="426.05" cy="322.66" r="2.3" fill="none" stroke="#d9bd3e" stroke-width="0.8"/><circle cx="427.56" cy="315.72" r="2.3" fill="none" stroke="#d9bd3e" stroke-width="0.8"/><circle cx="429.06" cy="325.24" r="2.3" fill="none" stroke="#d9bd3e" stroke-width="0.8"/><circle cx="430.56" cy="329.49" r="2.3" fill="none" stroke="#d9bd3e" stroke-width="0.8"/><circle cx="432.07" cy="319.55" r="2.3" fill="none" stroke="#d9bd3e" stroke-width="0.8"/><circle cx="433.58" cy="330.11" r="2.3" fill="none" stroke="#d9bd3e" stroke-width="0.8"/><circle cx="435.08" cy="339.08" r="2.3" fill="none" stroke="#d9bd3e" stroke-width="0.8"/><circle cx="436.59" cy="349.09" r="2.3" fill="none" stroke="#d9bd3e" stroke-width="0.8"/><circle cx="438.09" cy="326.26" r="2.3" fill="none" stroke="#d9bd3e" stroke-width="0.8"/><circle cx="439.6" cy="347.73" r="2.3" fill="none" stroke="#d9bd3e" stroke-width="0.8"/><circle cx="441.1" cy="351.86" r="2.3" fill="none" stroke="#d9bd3e" stroke-width="0.8"/><circle cx="442.61" cy="336.87" r="2.3" fill="none" stroke="#d9bd3e" stroke-width="0.8"/><circle cx="444.11" cy="331.98" r="2.3" fill="none" stroke="#d9bd3e" stroke-width="0.8"/><circle cx="445.62" cy="338.29" r="2.3" fill="none" stroke="#d9bd3e" stroke-width="0.8"/><circle cx="447.12" cy="325.34" r="2.3" fill="none" stroke="#d9bd3e" stroke-width="0.8"/><circle cx="448.62" cy="333.02" r="2.3" fill="none" stroke="#d9bd3e" stroke-width="0.8"/><circle cx="450.13" cy="330.99" r="2.3" fill="none" stroke="#d9bd3e" stroke-width="0.8"/><circle cx="451.63" cy="329.38" r="2.3" fill="none" stroke="#d9bd3e" stroke-width="0.8"/><circle cx="453.14" cy="336.4" r="2.3" fill="none" stroke="#d9bd3e" stroke-width="0.8"/><circle cx="454.64" cy="330.98" r="2.3" fill="none" stroke="#d9bd3e" stroke-width="0.8"/><circle cx="456.15" cy="316.52" r="2.3" fill="none" stroke="#d9bd3e" stroke-width="0.8"/><circle cx="457.66" cy="338.78" r="2.3" fill="none" stroke="#d9bd3e" stroke-width="0.8"/><circle cx="459.16" cy="331.26" r="2.3" fill="none" stroke="#d9bd3e" stroke-width="0.8"/><circle cx="460.67" cy="328.8" r="2.3" fill="none" stroke="#d9bd3e" stroke-width="0.8"/><circle cx="462.17" cy="336.07" r="2.3" fill="none" stroke="#d9bd3e" stroke-width="0.8"/><circle cx="463.68" cy="332.7" r="2.3" fill="none" stroke="#d9bd3e" stroke-width="0.8"/><circle cx="465.18" cy="344.07" r="2.3" fill="none" stroke="#d9bd3e" stroke-width="0.8"/><circle cx="466.69" cy="335.36" r="2.3" fill="none" stroke="#d9bd3e" stroke-width="0.8"/><circle cx="468.19" cy="332.08" r="2.3" fill="none" stroke="#d9bd3e" stroke-width="0.8"/><circle cx="469.7" cy="324.74" r="2.3" fill="none" stroke="#d9bd3e" stroke-width="0.8"/><circle cx="471.2" cy="325.88" r="2.3" fill="none" stroke="#d9bd3e" stroke-width="0.8"/><circle cx="472.71" cy="336.3" r="2.3" fill="none" stroke="#d9bd3e" stroke-width="0.8"/><circle cx="474.21" cy="339.94" r="2.3" fill="none" stroke="#d9bd3e" stroke-width="0.8"/><circle cx="475.72" cy="319.81" r="2.3" fill="none" stroke="#d9bd3e" stroke-width="0.8"/><circle cx="477.22" cy="326.24" r="2.3" fill="none" stroke="#d9bd3e" stroke-width="0.8"/><circle cx="478.73" cy="345.4" r="2.3" fill="none" stroke="#d9bd3e" stroke-width="0.8"/><circle cx="480.23" cy="334.65" r="2.3" fill="none" stroke="#d9bd3e" stroke-width="0.8"/><circle cx="481.74" cy="338.51" r="2.3" fill="none" stroke="#d9bd3e" stroke-width="0.8"/><circle cx="483.24" cy="336.48" r="2.3" fill="none" stroke="#d9bd3e" stroke-width="0.8"/><circle cx="484.75" cy="344.08" r="2.3" fill="none" stroke="#d9bd3e" stroke-width="0.8"/><circle cx="486.25" cy="335.19" r="2.3" fill="none" stroke="#d9bd3e" stroke-width="0.8"/><circle cx="487.75" cy="335.85" r="2.3" fill="none" stroke="#d9bd3e" stroke-width="0.8"/><circle cx="489.26" cy="333.93" r="2.3" fill="none" stroke="#d9bd3e" stroke-width="0.8"/><circle cx="490.76" cy="325.16" r="2.3" fill="none" stroke="#d9bd3e" stroke-width="0.8"/><circle cx="492.27" cy="330.75" r="2.3" fill="none" stroke="#d9bd3e" stroke-width="0.8"/><circle cx="493.78" cy="340.65" r="2.3" fill="none" stroke="#d9bd3e" stroke-width="0.8"/><circle cx="495.28" cy="344.2" r="2.3" fill="none" stroke="#d9bd3e" stroke-width="0.8"/><circle cx="496.79" cy="335.92" r="2.3" fill="none" stroke="#d9bd3e" stroke-width="0.8"/><circle cx="498.29" cy="324.39" r="2.3" fill="none" stroke="#d9bd3e" stroke-width="0.8"/><circle cx="499.8" cy="325.82" r="2.3" fill="none" stroke="#d9bd3e" stroke-width="0.8"/><circle cx="501.3" cy="336.31" r="2.3" fill="none" stroke="#d9bd3e" stroke-width="0.8"/><circle cx="502.81" cy="324.29" r="2.3" fill="none" stroke="#d9bd3e" stroke-width="0.8"/><circle cx="504.31" cy="329.29" r="2.3" fill="none" stroke="#d9bd3e" stroke-width="0.8"/><circle cx="505.82" cy="336.42" r="2.3" fill="none" stroke="#d9bd3e" stroke-width="0.8"/><circle cx="507.32" cy="329.29" r="2.3" fill="none" stroke="#d9bd3e" stroke-width="0.8"/><circle cx="508.83" cy="332.78" r="2.3" fill="none" stroke="#d9bd3e" stroke-width="0.8"/><circle cx="510.33" cy="339.9" r="2.3" fill="none" stroke="#d9bd3e" stroke-width="0.8"/><circle cx="511.84" cy="335.21" r="2.3" fill="none" stroke="#d9bd3e" stroke-width="0.8"/><circle cx="513.34" cy="331.12" r="2.3" fill="none" stroke="#d9bd3e" stroke-width="0.8"/><circle cx="514.85" cy="323.15" r="2.3" fill="none" stroke="#d9bd3e" stroke-width="0.8"/><circle cx="516.35" cy="339.34" r="2.3" fill="none" stroke="#d9bd3e" stroke-width="0.8"/><circle cx="517.86" cy="330.57" r="2.3" fill="none" stroke="#d9bd3e" stroke-width="0.8"/><circle cx="519.36" cy="332.07" r="2.3" fill="none" stroke="#d9bd3e" stroke-width="0.8"/><circle cx="520.87" cy="332.54" r="2.3" fill="none" stroke="#d9bd3e" stroke-width="0.8"/><circle cx="522.37" cy="340.6" r="2.3" fill="none" stroke="#d9bd3e" stroke-width="0.8"/><circle cx="523.88" cy="323.52" r="2.3" fill="none" stroke="#d9bd3e" stroke-width="0.8"/><circle cx="525.38" cy="323.25" r="2.3" fill="none" stroke="#d9bd3e" stroke-width="0.8"/><circle cx="526.88" cy="321.18" r="2.3" fill="none" stroke="#d9bd3e" stroke-width="0.8"/><circle cx="528.39" cy="328.95" r="2.3" fill="none" stroke="#d9bd3e" stroke-width="0.8"/><circle cx="529.89" cy="321.98" r="2.3" fill="none" stroke="#d9bd3e" stroke-width="0.8"/><circle cx="531.4" cy="328.46" r="2.3" fill="none" stroke="#d9bd3e" stroke-width="0.8"/><circle cx="532.9" cy="325.29" r="2.3" fill="none" stroke="#d9bd3e" stroke-width="0.8"/><circle cx="534.41" cy="334.46" r="2.3" fill="none" stroke="#d9bd3e" stroke-width="0.8"/><circle cx="535.92" cy="330.62" r="2.3" fill="none" stroke="#d9bd3e" stroke-width="0.8"/><circle cx="537.42" cy="334.4" r="2.3" fill="none" stroke="#d9bd3e" stroke-width="0.8"/><circle cx="538.93" cy="339.43" r="2.3" fill="none" stroke="#d9bd3e" stroke-width="0.8"/><circle cx="540.43" cy="335.15" r="2.3" fill="none" stroke="#d9bd3e" stroke-width="0.8"/><circle cx="541.94" cy="339.89" r="2.3" fill="none" stroke="#d9bd3e" stroke-width="0.8"/><circle cx="543.44" cy="339.84" r="2.3" fill="none" stroke="#d9bd3e" stroke-width="0.8"/><circle cx="544.95" cy="334.84" r="2.3" fill="none" stroke="#d9bd3e" stroke-width="0.8"/><circle cx="546.45" cy="336.3" r="2.3" fill="none" stroke="#d9bd3e" stroke-width="0.8"/><circle cx="547.96" cy="317.88" r="2.3" fill="none" stroke="#d9bd3e" stroke-width="0.8"/><circle cx="549.46" cy="319.89" r="2.3" fill="none" stroke="#d9bd3e" stroke-width="0.8"/><circle cx="550.97" cy="324.67" r="2.3" fill="none" stroke="#d9bd3e" stroke-width="0.8"/><circle cx="552.47" cy="326.66" r="2.3" fill="none" stroke="#d9bd3e" stroke-width="0.8"/><circle cx="553.98" cy="338.06" r="2.3" fill="none" stroke="#d9bd3e" stroke-width="0.8"/><circle cx="555.48" cy="330.21" r="2.3" fill="none" stroke="#d9bd3e" stroke-width="0.8"/><circle cx="556.99" cy="342.09" r="2.3" fill="none" stroke="#d9bd3e" stroke-width="0.8"/><circle cx="558.49" cy="336.46" r="2.3" fill="none" stroke="#d9bd3e" stroke-width="0.8"/><circle cx="560" cy="335.45" r="2.3" fill="none" stroke="#d9bd3e" stroke-width="0.8"/><circle cx="561.5" cy="334.65" r="2.3" fill="none" stroke="#d9bd3e" stroke-width="0.8"/><circle cx="563.01" cy="326.17" r="2.3" fill="none" stroke="#d9bd3e" stroke-width="0.8"/><circle cx="564.51" cy="337.56" r="2.3" fill="none" stroke="#d9bd3e" stroke-width="0.8"/><circle cx="566.02" cy="315.43" r="2.3" fill="none" stroke="#d9bd3e" stroke-width="0.8"/><circle cx="567.52" cy="335.64" r="2.3" fill="none" stroke="#d9bd3e" stroke-width="0.8"/><circle cx="569.03" cy="326.22" r="2.3" fill="none" stroke="#d9bd3e" stroke-width="0.8"/><circle cx="570.53" cy="343.03" r="2.3" fill="none" stroke="#d9bd3e" stroke-width="0.8"/><circle cx="572.04" cy="325.81" r="2.3" fill="none" stroke="#d9bd3e" stroke-width="0.8"/><circle cx="573.54" cy="340.6" r="2.3" fill="none" stroke="#d9bd3e" stroke-width="0.8"/><circle cx="575.05" cy="330.73" r="2.3" fill="none" stroke="#d9bd3e" stroke-width="0.8"/><circle cx="576.55" cy="332.14" r="2.3" fill="none" stroke="#d9bd3e" stroke-width="0.8"/><circle cx="578.06" cy="326.39" r="2.3" fill="none" stroke="#d9bd3e" stroke-width="0.8"/><circle cx="579.56" cy="327.86" r="2.3" fill="none" stroke="#d9bd3e" stroke-width="0.8"/><circle cx="581.07" cy="329.39" r="2.3" fill="none" stroke="#d9bd3e" stroke-width="0.8"/><circle cx="582.57" cy="333.12" r="2.3" fill="none" stroke="#d9bd3e" stroke-width="0.8"/><circle cx="584.08" cy="318.54" r="2.3" fill="none" stroke="#d9bd3e" stroke-width="0.8"/><circle cx="585.58" cy="335.27" r="2.3" fill="none" stroke="#d9bd3e" stroke-width="0.8"/><circle cx="587.09" cy="332" r="2.3" fill="none" stroke="#d9bd3e" stroke-width="0.8"/><circle cx="588.59" cy="335.34" r="2.3" fill="none" stroke="#d9bd3e" stroke-width="0.8"/><circle cx="590.1" cy="331.13" r="2.3" fill="none" stroke="#d9bd3e" stroke-width="0.8"/><circle cx="591.6" cy="338.75" r="2.3" fill="none" stroke="#d9bd3e" stroke-width="0.8"/><circle cx="593.11" cy="334.94" r="2.3" fill="none" stroke="#d9bd3e" stroke-width="0.8"/><circle cx="594.61" cy="328.59" r="2.3" fill="none" stroke="#d9bd3e" stroke-width="0.8"/><circle cx="596.12" cy="336.09" r="2.3" fill="none" stroke="#d9bd3e" stroke-width="0.8"/><circle cx="597.62" cy="328.87" r="2.3" fill="none" stroke="#d9bd3e" stroke-width="0.8"/><circle cx="599.12" cy="336.13" r="2.3" fill="none" stroke="#d9bd3e" stroke-width="0.8"/><circle cx="600.63" cy="322.24" r="2.3" fill="none" stroke="#d9bd3e" stroke-width="0.8"/><circle cx="602.13" cy="333.01" r="2.3" fill="none" stroke="#d9bd3e" stroke-width="0.8"/><circle cx="603.64" cy="319.9" r="2.3" fill="none" stroke="#d9bd3e" stroke-width="0.8"/><circle cx="605.14" cy="328.64" r="2.3" fill="none" stroke="#d9bd3e" stroke-width="0.8"/><circle cx="606.65" cy="332.99" r="2.3" fill="none" stroke="#d9bd3e" stroke-width="0.8"/><circle cx="608.15" cy="325.5" r="2.3" fill="none" stroke="#d9bd3e" stroke-width="0.8"/><circle cx="609.66" cy="324.01" r="2.3" fill="none" stroke="#d9bd3e" stroke-width="0.8"/><circle cx="611.17" cy="321.5" r="2.3" fill="none" stroke="#d9bd3e" stroke-width="0.8"/><circle cx="612.67" cy="322.45" r="2.3" fill="none" stroke="#d9bd3e" stroke-width="0.8"/><circle cx="614.18" cy="325.88" r="2.3" fill="none" stroke="#d9bd3e" stroke-width="0.8"/><circle cx="615.68" cy="340.18" r="2.3" fill="none" stroke="#d9bd3e" stroke-width="0.8"/><circle cx="617.19" cy="325.62" r="2.3" fill="none" stroke="#d9bd3e" stroke-width="0.8"/><circle cx="618.69" cy="332.69" r="2.3" fill="none" stroke="#d9bd3e" stroke-width="0.8"/><circle cx="620.2" cy="329.27" r="2.3" fill="none" stroke="#d9bd3e" stroke-width="0.8"/><circle cx="621.7" cy="323.3" r="2.3" fill="none" stroke="#d9bd3e" stroke-width="0.8"/><circle cx="623.21" cy="337.04" r="2.3" fill="none" stroke="#d9bd3e" stroke-width="0.8"/><circle cx="624.71" cy="322.85" r="2.3" fill="none" stroke="#d9bd3e" stroke-width="0.8"/><circle cx="626.22" cy="315.47" r="2.3" fill="none" stroke="#d9bd3e" stroke-width="0.8"/><circle cx="627.72" cy="328.23" r="2.3" fill="none" stroke="#d9bd3e" stroke-width="0.8"/><circle cx="629.23" cy="334.24" r="2.3" fill="none" stroke="#d9bd3e" stroke-width="0.8"/></g>
<g opacity="0.35"><circle cx="323.71" cy="394.66" r="2.3" fill="none" stroke="#5bbf7c" stroke-width="0.8"/><circle cx="325.21" cy="396.88" r="2.3" fill="none" stroke="#5bbf7c" stroke-width="0.8"/><circle cx="326.72" cy="401.32" r="2.3" fill="none" stroke="#5bbf7c" stroke-width="0.8"/><circle cx="328.22" cy="404.65" r="2.3" fill="none" stroke="#5bbf7c" stroke-width="0.8"/><circle cx="329.73" cy="333.15" r="2.3" fill="none" stroke="#5bbf7c" stroke-width="0.8"/><circle cx="331.24" cy="336.48" r="2.3" fill="none" stroke="#5bbf7c" stroke-width="0.8"/><circle cx="332.74" cy="334.05" r="2.3" fill="none" stroke="#5bbf7c" stroke-width="0.8"/><circle cx="334.25" cy="333.49" r="2.3" fill="none" stroke="#5bbf7c" stroke-width="0.8"/><circle cx="335.75" cy="341.22" r="2.3" fill="none" stroke="#5bbf7c" stroke-width="0.8"/><circle cx="337.25" cy="336.09" r="2.3" fill="none" stroke="#5bbf7c" stroke-width="0.8"/><circle cx="338.76" cy="341.25" r="2.3" fill="none" stroke="#5bbf7c" stroke-width="0.8"/><circle cx="340.26" cy="338.96" r="2.3" fill="none" stroke="#5bbf7c" stroke-width="0.8"/><circle cx="341.77" cy="335.3" r="2.3" fill="none" stroke="#5bbf7c" stroke-width="0.8"/><circle cx="343.27" cy="340.34" r="2.3" fill="none" stroke="#5bbf7c" stroke-width="0.8"/><circle cx="344.78" cy="339.01" r="2.3" fill="none" stroke="#5bbf7c" stroke-width="0.8"/><circle cx="346.28" cy="338.28" r="2.3" fill="none" stroke="#5bbf7c" stroke-width="0.8"/><circle cx="347.79" cy="336.13" r="2.3" fill="none" stroke="#5bbf7c" stroke-width="0.8"/><circle cx="349.3" cy="336.03" r="2.3" fill="none" stroke="#5bbf7c" stroke-width="0.8"/><circle cx="350.8" cy="335.77" r="2.3" fill="none" stroke="#5bbf7c" stroke-width="0.8"/><circle cx="352.31" cy="338.42" r="2.3" fill="none" stroke="#5bbf7c" stroke-width="0.8"/><circle cx="353.81" cy="339.11" r="2.3" fill="none" stroke="#5bbf7c" stroke-width="0.8"/><circle cx="355.31" cy="335.86" r="2.3" fill="none" stroke="#5bbf7c" stroke-width="0.8"/><circle cx="356.82" cy="339.44" r="2.3" fill="none" stroke="#5bbf7c" stroke-width="0.8"/><circle cx="358.32" cy="339.28" r="2.3" fill="none" stroke="#5bbf7c" stroke-width="0.8"/><circle cx="359.83" cy="335.06" r="2.3" fill="none" stroke="#5bbf7c" stroke-width="0.8"/><circle cx="361.33" cy="339.24" r="2.3" fill="none" stroke="#5bbf7c" stroke-width="0.8"/><circle cx="362.84" cy="339.54" r="2.3" fill="none" stroke="#5bbf7c" stroke-width="0.8"/><circle cx="364.35" cy="333.87" r="2.3" fill="none" stroke="#5bbf7c" stroke-width="0.8"/><circle cx="365.85" cy="337.15" r="2.3" fill="none" stroke="#5bbf7c" stroke-width="0.8"/><circle cx="367.36" cy="343.26" r="2.3" fill="none" stroke="#5bbf7c" stroke-width="0.8"/><circle cx="368.86" cy="339.13" r="2.3" fill="none" stroke="#5bbf7c" stroke-width="0.8"/><circle cx="370.37" cy="331.58" r="2.3" fill="none" stroke="#5bbf7c" stroke-width="0.8"/><circle cx="371.87" cy="329.11" r="2.3" fill="none" stroke="#5bbf7c" stroke-width="0.8"/><circle cx="373.38" cy="337.86" r="2.3" fill="none" stroke="#5bbf7c" stroke-width="0.8"/><circle cx="374.88" cy="335.07" r="2.3" fill="none" stroke="#5bbf7c" stroke-width="0.8"/><circle cx="376.38" cy="334.97" r="2.3" fill="none" stroke="#5bbf7c" stroke-width="0.8"/><circle cx="377.89" cy="336.15" r="2.3" fill="none" stroke="#5bbf7c" stroke-width="0.8"/><circle cx="379.39" cy="342.11" r="2.3" fill="none" stroke="#5bbf7c" stroke-width="0.8"/><circle cx="380.9" cy="334.24" r="2.3" fill="none" stroke="#5bbf7c" stroke-width="0.8"/><circle cx="382.4" cy="336.26" r="2.3" fill="none" stroke="#5bbf7c" stroke-width="0.8"/><circle cx="383.91" cy="337.7" r="2.3" fill="none" stroke="#5bbf7c" stroke-width="0.8"/><circle cx="385.42" cy="341.55" r="2.3" fill="none" stroke="#5bbf7c" stroke-width="0.8"/><circle cx="386.92" cy="338.8" r="2.3" fill="none" stroke="#5bbf7c" stroke-width="0.8"/><circle cx="388.43" cy="337.36" r="2.3" fill="none" stroke="#5bbf7c" stroke-width="0.8"/><circle cx="389.93" cy="337.74" r="2.3" fill="none" stroke="#5bbf7c" stroke-width="0.8"/><circle cx="391.44" cy="336.41" r="2.3" fill="none" stroke="#5bbf7c" stroke-width="0.8"/><circle cx="392.94" cy="338.12" r="2.3" fill="none" stroke="#5bbf7c" stroke-width="0.8"/><circle cx="394.44" cy="334.26" r="2.3" fill="none" stroke="#5bbf7c" stroke-width="0.8"/><circle cx="395.95" cy="335.3" r="2.3" fill="none" stroke="#5bbf7c" stroke-width="0.8"/><circle cx="397.46" cy="340.26" r="2.3" fill="none" stroke="#5bbf7c" stroke-width="0.8"/><circle cx="398.96" cy="338.73" r="2.3" fill="none" stroke="#5bbf7c" stroke-width="0.8"/><circle cx="400.47" cy="335.87" r="2.3" fill="none" stroke="#5bbf7c" stroke-width="0.8"/><circle cx="401.97" cy="338.59" r="2.3" fill="none" stroke="#5bbf7c" stroke-width="0.8"/><circle cx="403.48" cy="333.15" r="2.3" fill="none" stroke="#5bbf7c" stroke-width="0.8"/><circle cx="404.98" cy="338.55" r="2.3" fill="none" stroke="#5bbf7c" stroke-width="0.8"/><circle cx="406.49" cy="336.37" r="2.3" fill="none" stroke="#5bbf7c" stroke-width="0.8"/><circle cx="407.99" cy="335.36" r="2.3" fill="none" stroke="#5bbf7c" stroke-width="0.8"/><circle cx="409.5" cy="340.21" r="2.3" fill="none" stroke="#5bbf7c" stroke-width="0.8"/><circle cx="411" cy="333.57" r="2.3" fill="none" stroke="#5bbf7c" stroke-width="0.8"/><circle cx="412.5" cy="337.64" r="2.3" fill="none" stroke="#5bbf7c" stroke-width="0.8"/><circle cx="414.01" cy="339.04" r="2.3" fill="none" stroke="#5bbf7c" stroke-width="0.8"/><circle cx="415.51" cy="338.99" r="2.3" fill="none" stroke="#5bbf7c" stroke-width="0.8"/><circle cx="417.02" cy="341.77" r="2.3" fill="none" stroke="#5bbf7c" stroke-width="0.8"/><circle cx="418.52" cy="340.85" r="2.3" fill="none" stroke="#5bbf7c" stroke-width="0.8"/><circle cx="420.03" cy="332.89" r="2.3" fill="none" stroke="#5bbf7c" stroke-width="0.8"/><circle cx="421.54" cy="337.42" r="2.3" fill="none" stroke="#5bbf7c" stroke-width="0.8"/><circle cx="423.04" cy="337.84" r="2.3" fill="none" stroke="#5bbf7c" stroke-width="0.8"/><circle cx="424.55" cy="336.52" r="2.3" fill="none" stroke="#5bbf7c" stroke-width="0.8"/><circle cx="426.05" cy="335.46" r="2.3" fill="none" stroke="#5bbf7c" stroke-width="0.8"/><circle cx="427.56" cy="339.27" r="2.3" fill="none" stroke="#5bbf7c" stroke-width="0.8"/><circle cx="429.06" cy="337.64" r="2.3" fill="none" stroke="#5bbf7c" stroke-width="0.8"/><circle cx="430.56" cy="336.3" r="2.3" fill="none" stroke="#5bbf7c" stroke-width="0.8"/><circle cx="432.07" cy="334.24" r="2.3" fill="none" stroke="#5bbf7c" stroke-width="0.8"/><circle cx="433.58" cy="336.35" r="2.3" fill="none" stroke="#5bbf7c" stroke-width="0.8"/><circle cx="435.08" cy="332.44" r="2.3" fill="none" stroke="#5bbf7c" stroke-width="0.8"/><circle cx="436.59" cy="337.66" r="2.3" fill="none" stroke="#5bbf7c" stroke-width="0.8"/><circle cx="438.09" cy="338" r="2.3" fill="none" stroke="#5bbf7c" stroke-width="0.8"/><circle cx="439.6" cy="340.93" r="2.3" fill="none" stroke="#5bbf7c" stroke-width="0.8"/><circle cx="441.1" cy="337.18" r="2.3" fill="none" stroke="#5bbf7c" stroke-width="0.8"/><circle cx="442.61" cy="335.27" r="2.3" fill="none" stroke="#5bbf7c" stroke-width="0.8"/><circle cx="444.11" cy="337.74" r="2.3" fill="none" stroke="#5bbf7c" stroke-width="0.8"/><circle cx="445.62" cy="337.54" r="2.3" fill="none" stroke="#5bbf7c" stroke-width="0.8"/><circle cx="447.12" cy="339.78" r="2.3" fill="none" stroke="#5bbf7c" stroke-width="0.8"/><circle cx="448.62" cy="338.69" r="2.3" fill="none" stroke="#5bbf7c" stroke-width="0.8"/><circle cx="450.13" cy="338.3" r="2.3" fill="none" stroke="#5bbf7c" stroke-width="0.8"/><circle cx="451.63" cy="337.31" r="2.3" fill="none" stroke="#5bbf7c" stroke-width="0.8"/><circle cx="453.14" cy="334.08" r="2.3" fill="none" stroke="#5bbf7c" stroke-width="0.8"/><circle cx="454.64" cy="335.65" r="2.3" fill="none" stroke="#5bbf7c" stroke-width="0.8"/><circle cx="456.15" cy="334.52" r="2.3" fill="none" stroke="#5bbf7c" stroke-width="0.8"/><circle cx="457.66" cy="333.79" r="2.3" fill="none" stroke="#5bbf7c" stroke-width="0.8"/><circle cx="459.16" cy="338.35" r="2.3" fill="none" stroke="#5bbf7c" stroke-width="0.8"/><circle cx="460.67" cy="333.34" r="2.3" fill="none" stroke="#5bbf7c" stroke-width="0.8"/><circle cx="462.17" cy="336.93" r="2.3" fill="none" stroke="#5bbf7c" stroke-width="0.8"/><circle cx="463.68" cy="340.73" r="2.3" fill="none" stroke="#5bbf7c" stroke-width="0.8"/><circle cx="465.18" cy="338.74" r="2.3" fill="none" stroke="#5bbf7c" stroke-width="0.8"/><circle cx="466.69" cy="337.3" r="2.3" fill="none" stroke="#5bbf7c" stroke-width="0.8"/><circle cx="468.19" cy="341.33" r="2.3" fill="none" stroke="#5bbf7c" stroke-width="0.8"/><circle cx="469.7" cy="330.66" r="2.3" fill="none" stroke="#5bbf7c" stroke-width="0.8"/><circle cx="471.2" cy="337.2" r="2.3" fill="none" stroke="#5bbf7c" stroke-width="0.8"/><circle cx="472.71" cy="334.69" r="2.3" fill="none" stroke="#5bbf7c" stroke-width="0.8"/><circle cx="474.21" cy="340.42" r="2.3" fill="none" stroke="#5bbf7c" stroke-width="0.8"/><circle cx="475.72" cy="336.79" r="2.3" fill="none" stroke="#5bbf7c" stroke-width="0.8"/><circle cx="477.22" cy="336.35" r="2.3" fill="none" stroke="#5bbf7c" stroke-width="0.8"/><circle cx="478.73" cy="339.19" r="2.3" fill="none" stroke="#5bbf7c" stroke-width="0.8"/><circle cx="480.23" cy="336.37" r="2.3" fill="none" stroke="#5bbf7c" stroke-width="0.8"/><circle cx="481.74" cy="337.08" r="2.3" fill="none" stroke="#5bbf7c" stroke-width="0.8"/><circle cx="483.24" cy="336.04" r="2.3" fill="none" stroke="#5bbf7c" stroke-width="0.8"/><circle cx="484.75" cy="340.43" r="2.3" fill="none" stroke="#5bbf7c" stroke-width="0.8"/><circle cx="486.25" cy="335.64" r="2.3" fill="none" stroke="#5bbf7c" stroke-width="0.8"/><circle cx="487.75" cy="337.87" r="2.3" fill="none" stroke="#5bbf7c" stroke-width="0.8"/><circle cx="489.26" cy="339.45" r="2.3" fill="none" stroke="#5bbf7c" stroke-width="0.8"/><circle cx="490.76" cy="343.19" r="2.3" fill="none" stroke="#5bbf7c" stroke-width="0.8"/><circle cx="492.27" cy="337.61" r="2.3" fill="none" stroke="#5bbf7c" stroke-width="0.8"/><circle cx="493.78" cy="338.12" r="2.3" fill="none" stroke="#5bbf7c" stroke-width="0.8"/><circle cx="495.28" cy="330.49" r="2.3" fill="none" stroke="#5bbf7c" stroke-width="0.8"/><circle cx="496.79" cy="340.44" r="2.3" fill="none" stroke="#5bbf7c" stroke-width="0.8"/><circle cx="498.29" cy="332.95" r="2.3" fill="none" stroke="#5bbf7c" stroke-width="0.8"/><circle cx="499.8" cy="333.6" r="2.3" fill="none" stroke="#5bbf7c" stroke-width="0.8"/><circle cx="501.3" cy="335.94" r="2.3" fill="none" stroke="#5bbf7c" stroke-width="0.8"/><circle cx="502.81" cy="336.39" r="2.3" fill="none" stroke="#5bbf7c" stroke-width="0.8"/><circle cx="504.31" cy="335.69" r="2.3" fill="none" stroke="#5bbf7c" stroke-width="0.8"/><circle cx="505.82" cy="341.19" r="2.3" fill="none" stroke="#5bbf7c" stroke-width="0.8"/><circle cx="507.32" cy="333.16" r="2.3" fill="none" stroke="#5bbf7c" stroke-width="0.8"/><circle cx="508.83" cy="337.98" r="2.3" fill="none" stroke="#5bbf7c" stroke-width="0.8"/><circle cx="510.33" cy="339.15" r="2.3" fill="none" stroke="#5bbf7c" stroke-width="0.8"/><circle cx="511.84" cy="337.1" r="2.3" fill="none" stroke="#5bbf7c" stroke-width="0.8"/><circle cx="513.34" cy="344.72" r="2.3" fill="none" stroke="#5bbf7c" stroke-width="0.8"/><circle cx="514.85" cy="340.77" r="2.3" fill="none" stroke="#5bbf7c" stroke-width="0.8"/><circle cx="516.35" cy="340.37" r="2.3" fill="none" stroke="#5bbf7c" stroke-width="0.8"/><circle cx="517.86" cy="341.45" r="2.3" fill="none" stroke="#5bbf7c" stroke-width="0.8"/><circle cx="519.36" cy="335.47" r="2.3" fill="none" stroke="#5bbf7c" stroke-width="0.8"/><circle cx="520.87" cy="332.66" r="2.3" fill="none" stroke="#5bbf7c" stroke-width="0.8"/><circle cx="522.37" cy="337.06" r="2.3" fill="none" stroke="#5bbf7c" stroke-width="0.8"/><circle cx="523.88" cy="338" r="2.3" fill="none" stroke="#5bbf7c" stroke-width="0.8"/><circle cx="525.38" cy="336.2" r="2.3" fill="none" stroke="#5bbf7c" stroke-width="0.8"/><circle cx="526.88" cy="338.5" r="2.3" fill="none" stroke="#5bbf7c" stroke-width="0.8"/><circle cx="528.39" cy="336.74" r="2.3" fill="none" stroke="#5bbf7c" stroke-width="0.8"/><circle cx="529.89" cy="335.97" r="2.3" fill="none" stroke="#5bbf7c" stroke-width="0.8"/><circle cx="531.4" cy="337.74" r="2.3" fill="none" stroke="#5bbf7c" stroke-width="0.8"/><circle cx="532.9" cy="338.25" r="2.3" fill="none" stroke="#5bbf7c" stroke-width="0.8"/><circle cx="534.41" cy="336.92" r="2.3" fill="none" stroke="#5bbf7c" stroke-width="0.8"/><circle cx="535.92" cy="336.94" r="2.3" fill="none" stroke="#5bbf7c" stroke-width="0.8"/><circle cx="537.42" cy="335.23" r="2.3" fill="none" stroke="#5bbf7c" stroke-width="0.8"/><circle cx="538.93" cy="341.3" r="2.3" fill="none" stroke="#5bbf7c" stroke-width="0.8"/><circle cx="540.43" cy="340.22" r="2.3" fill="none" stroke="#5bbf7c" stroke-width="0.8"/><circle cx="541.94" cy="338.46" r="2.3" fill="none" stroke="#5bbf7c" stroke-width="0.8"/><circle cx="543.44" cy="335.77" r="2.3" fill="none" stroke="#5bbf7c" stroke-width="0.8"/><circle cx="544.95" cy="340.71" r="2.3" fill="none" stroke="#5bbf7c" stroke-width="0.8"/><circle cx="546.45" cy="333.77" r="2.3" fill="none" stroke="#5bbf7c" stroke-width="0.8"/><circle cx="547.96" cy="333.14" r="2.3" fill="none" stroke="#5bbf7c" stroke-width="0.8"/><circle cx="549.46" cy="339.17" r="2.3" fill="none" stroke="#5bbf7c" stroke-width="0.8"/><circle cx="550.97" cy="334.02" r="2.3" fill="none" stroke="#5bbf7c" stroke-width="0.8"/><circle cx="552.47" cy="342.93" r="2.3" fill="none" stroke="#5bbf7c" stroke-width="0.8"/><circle cx="553.98" cy="337.41" r="2.3" fill="none" stroke="#5bbf7c" stroke-width="0.8"/><circle cx="555.48" cy="341.61" r="2.3" fill="none" stroke="#5bbf7c" stroke-width="0.8"/><circle cx="556.99" cy="334.15" r="2.3" fill="none" stroke="#5bbf7c" stroke-width="0.8"/><circle cx="558.49" cy="334.79" r="2.3" fill="none" stroke="#5bbf7c" stroke-width="0.8"/><circle cx="560" cy="335.73" r="2.3" fill="none" stroke="#5bbf7c" stroke-width="0.8"/><circle cx="561.5" cy="338.77" r="2.3" fill="none" stroke="#5bbf7c" stroke-width="0.8"/><circle cx="563.01" cy="340.29" r="2.3" fill="none" stroke="#5bbf7c" stroke-width="0.8"/><circle cx="564.51" cy="336" r="2.3" fill="none" stroke="#5bbf7c" stroke-width="0.8"/><circle cx="566.02" cy="338.59" r="2.3" fill="none" stroke="#5bbf7c" stroke-width="0.8"/><circle cx="567.52" cy="335.29" r="2.3" fill="none" stroke="#5bbf7c" stroke-width="0.8"/><circle cx="569.03" cy="341.6" r="2.3" fill="none" stroke="#5bbf7c" stroke-width="0.8"/><circle cx="570.53" cy="335.99" r="2.3" fill="none" stroke="#5bbf7c" stroke-width="0.8"/><circle cx="572.04" cy="335.75" r="2.3" fill="none" stroke="#5bbf7c" stroke-width="0.8"/><circle cx="573.54" cy="343.49" r="2.3" fill="none" stroke="#5bbf7c" stroke-width="0.8"/><circle cx="575.05" cy="340.72" r="2.3" fill="none" stroke="#5bbf7c" stroke-width="0.8"/><circle cx="576.55" cy="339.16" r="2.3" fill="none" stroke="#5bbf7c" stroke-width="0.8"/><circle cx="578.06" cy="338.86" r="2.3" fill="none" stroke="#5bbf7c" stroke-width="0.8"/><circle cx="579.56" cy="341.99" r="2.3" fill="none" stroke="#5bbf7c" stroke-width="0.8"/><circle cx="581.07" cy="337.16" r="2.3" fill="none" stroke="#5bbf7c" stroke-width="0.8"/><circle cx="582.57" cy="340.35" r="2.3" fill="none" stroke="#5bbf7c" stroke-width="0.8"/><circle cx="584.08" cy="337.42" r="2.3" fill="none" stroke="#5bbf7c" stroke-width="0.8"/><circle cx="585.58" cy="342.3" r="2.3" fill="none" stroke="#5bbf7c" stroke-width="0.8"/><circle cx="587.09" cy="340.5" r="2.3" fill="none" stroke="#5bbf7c" stroke-width="0.8"/><circle cx="588.59" cy="335.29" r="2.3" fill="none" stroke="#5bbf7c" stroke-width="0.8"/><circle cx="590.1" cy="341.98" r="2.3" fill="none" stroke="#5bbf7c" stroke-width="0.8"/><circle cx="591.6" cy="337.32" r="2.3" fill="none" stroke="#5bbf7c" stroke-width="0.8"/><circle cx="593.11" cy="333.2" r="2.3" fill="none" stroke="#5bbf7c" stroke-width="0.8"/><circle cx="594.61" cy="334.98" r="2.3" fill="none" stroke="#5bbf7c" stroke-width="0.8"/><circle cx="596.12" cy="340.9" r="2.3" fill="none" stroke="#5bbf7c" stroke-width="0.8"/><circle cx="597.62" cy="331.06" r="2.3" fill="none" stroke="#5bbf7c" stroke-width="0.8"/><circle cx="599.12" cy="338.78" r="2.3" fill="none" stroke="#5bbf7c" stroke-width="0.8"/><circle cx="600.63" cy="334.64" r="2.3" fill="none" stroke="#5bbf7c" stroke-width="0.8"/><circle cx="602.13" cy="334.56" r="2.3" fill="none" stroke="#5bbf7c" stroke-width="0.8"/><circle cx="603.64" cy="338.12" r="2.3" fill="none" stroke="#5bbf7c" stroke-width="0.8"/><circle cx="605.14" cy="335.47" r="2.3" fill="none" stroke="#5bbf7c" stroke-width="0.8"/><circle cx="606.65" cy="344.9" r="2.3" fill="none" stroke="#5bbf7c" stroke-width="0.8"/><circle cx="608.15" cy="336.98" r="2.3" fill="none" stroke="#5bbf7c" stroke-width="0.8"/><circle cx="609.66" cy="336.79" r="2.3" fill="none" stroke="#5bbf7c" stroke-width="0.8"/><circle cx="611.17" cy="338.2" r="2.3" fill="none" stroke="#5bbf7c" stroke-width="0.8"/><circle cx="612.67" cy="336.9" r="2.3" fill="none" stroke="#5bbf7c" stroke-width="0.8"/><circle cx="614.18" cy="334.27" r="2.3" fill="none" stroke="#5bbf7c" stroke-width="0.8"/><circle cx="615.68" cy="334.63" r="2.3" fill="none" stroke="#5bbf7c" stroke-width="0.8"/><circle cx="617.19" cy="338.97" r="2.3" fill="none" stroke="#5bbf7c" stroke-width="0.8"/><circle cx="618.69" cy="335.05" r="2.3" fill="none" stroke="#5bbf7c" stroke-width="0.8"/><circle cx="620.2" cy="333.98" r="2.3" fill="none" stroke="#5bbf7c" stroke-width="0.8"/><circle cx="621.7" cy="336.93" r="2.3" fill="none" stroke="#5bbf7c" stroke-width="0.8"/><circle cx="623.21" cy="336.16" r="2.3" fill="none" stroke="#5bbf7c" stroke-width="0.8"/><circle cx="624.71" cy="344.04" r="2.3" fill="none" stroke="#5bbf7c" stroke-width="0.8"/><circle cx="626.22" cy="341.62" r="2.3" fill="none" stroke="#5bbf7c" stroke-width="0.8"/><circle cx="627.72" cy="336.21" r="2.3" fill="none" stroke="#5bbf7c" stroke-width="0.8"/><circle cx="629.23" cy="341.41" r="2.3" fill="none" stroke="#5bbf7c" stroke-width="0.8"/></g>
<circle cx="332.74" cy="354.37" r="3.3" fill="none" stroke="#d9bd3e" stroke-width="1.05"/><circle cx="334.25" cy="354.48" r="3.3" fill="none" stroke="#d9bd3e" stroke-width="1.05"/><circle cx="335.75" cy="354.59" r="3.3" fill="none" stroke="#d9bd3e" stroke-width="1.05"/><circle cx="337.25" cy="354.7" r="3.3" fill="none" stroke="#d9bd3e" stroke-width="1.05"/><circle cx="338.76" cy="354.81" r="3.3" fill="none" stroke="#d9bd3e" stroke-width="1.05"/><circle cx="340.26" cy="354.92" r="3.3" fill="none" stroke="#d9bd3e" stroke-width="1.05"/><circle cx="341.77" cy="355.03" r="3.3" fill="none" stroke="#d9bd3e" stroke-width="1.05"/><circle cx="343.27" cy="355.14" r="3.3" fill="none" stroke="#d9bd3e" stroke-width="1.05"/><circle cx="344.78" cy="355.25" r="3.3" fill="none" stroke="#d9bd3e" stroke-width="1.05"/><circle cx="346.28" cy="355.37" r="3.3" fill="none" stroke="#d9bd3e" stroke-width="1.05"/><circle cx="347.79" cy="355.49" r="3.3" fill="none" stroke="#d9bd3e" stroke-width="1.05"/><circle cx="349.3" cy="355.61" r="3.3" fill="none" stroke="#d9bd3e" stroke-width="1.05"/><circle cx="350.8" cy="355.74" r="3.3" fill="none" stroke="#d9bd3e" stroke-width="1.05"/><circle cx="352.31" cy="355.87" r="3.3" fill="none" stroke="#d9bd3e" stroke-width="1.05"/><circle cx="353.81" cy="356" r="3.3" fill="none" stroke="#d9bd3e" stroke-width="1.05"/><circle cx="355.31" cy="356.13" r="3.3" fill="none" stroke="#d9bd3e" stroke-width="1.05"/><circle cx="356.82" cy="356.27" r="3.3" fill="none" stroke="#d9bd3e" stroke-width="1.05"/><circle cx="358.32" cy="356.41" r="3.3" fill="none" stroke="#d9bd3e" stroke-width="1.05"/><circle cx="359.83" cy="356.54" r="3.3" fill="none" stroke="#d9bd3e" stroke-width="1.05"/><circle cx="361.33" cy="356.68" r="3.3" fill="none" stroke="#d9bd3e" stroke-width="1.05"/><circle cx="362.84" cy="356.82" r="3.3" fill="none" stroke="#d9bd3e" stroke-width="1.05"/><circle cx="364.35" cy="356.96" r="3.3" fill="none" stroke="#d9bd3e" stroke-width="1.05"/><circle cx="365.85" cy="357.1" r="3.3" fill="none" stroke="#d9bd3e" stroke-width="1.05"/><circle cx="367.36" cy="357.24" r="3.3" fill="none" stroke="#d9bd3e" stroke-width="1.05"/><circle cx="368.86" cy="357.39" r="3.3" fill="none" stroke="#d9bd3e" stroke-width="1.05"/><circle cx="370.37" cy="357.53" r="3.3" fill="none" stroke="#d9bd3e" stroke-width="1.05"/><circle cx="371.87" cy="357.67" r="3.3" fill="none" stroke="#d9bd3e" stroke-width="1.05"/><circle cx="373.38" cy="357.81" r="3.3" fill="none" stroke="#d9bd3e" stroke-width="1.05"/><circle cx="374.88" cy="357.95" r="3.3" fill="none" stroke="#d9bd3e" stroke-width="1.05"/><circle cx="376.38" cy="358.1" r="3.3" fill="none" stroke="#d9bd3e" stroke-width="1.05"/><circle cx="377.89" cy="358.24" r="3.3" fill="none" stroke="#d9bd3e" stroke-width="1.05"/><circle cx="379.39" cy="358.38" r="3.3" fill="none" stroke="#d9bd3e" stroke-width="1.05"/><circle cx="380.9" cy="358.52" r="3.3" fill="none" stroke="#d9bd3e" stroke-width="1.05"/><circle cx="382.4" cy="358.65" r="3.3" fill="none" stroke="#d9bd3e" stroke-width="1.05"/><circle cx="383.91" cy="358.79" r="3.3" fill="none" stroke="#d9bd3e" stroke-width="1.05"/><circle cx="385.42" cy="358.93" r="3.3" fill="none" stroke="#d9bd3e" stroke-width="1.05"/><circle cx="386.92" cy="359.07" r="3.3" fill="none" stroke="#d9bd3e" stroke-width="1.05"/><circle cx="388.43" cy="359.21" r="3.3" fill="none" stroke="#d9bd3e" stroke-width="1.05"/><circle cx="389.93" cy="359.35" r="3.3" fill="none" stroke="#d9bd3e" stroke-width="1.05"/><circle cx="391.44" cy="359.49" r="3.3" fill="none" stroke="#d9bd3e" stroke-width="1.05"/><circle cx="392.94" cy="359.63" r="3.3" fill="none" stroke="#d9bd3e" stroke-width="1.05"/><circle cx="394.44" cy="359.76" r="3.3" fill="none" stroke="#d9bd3e" stroke-width="1.05"/><circle cx="395.95" cy="359.9" r="3.3" fill="none" stroke="#d9bd3e" stroke-width="1.05"/><circle cx="397.46" cy="360.04" r="3.3" fill="none" stroke="#d9bd3e" stroke-width="1.05"/><circle cx="398.96" cy="360.18" r="3.3" fill="none" stroke="#d9bd3e" stroke-width="1.05"/><circle cx="400.47" cy="360.32" r="3.3" fill="none" stroke="#d9bd3e" stroke-width="1.05"/><circle cx="401.97" cy="360.46" r="3.3" fill="none" stroke="#d9bd3e" stroke-width="1.05"/><circle cx="403.48" cy="360.6" r="3.3" fill="none" stroke="#d9bd3e" stroke-width="1.05"/><circle cx="404.98" cy="360.74" r="3.3" fill="none" stroke="#d9bd3e" stroke-width="1.05"/><circle cx="406.49" cy="360.87" r="3.3" fill="none" stroke="#d9bd3e" stroke-width="1.05"/><circle cx="407.99" cy="361.01" r="3.3" fill="none" stroke="#d9bd3e" stroke-width="1.05"/><circle cx="409.5" cy="361.15" r="3.3" fill="none" stroke="#d9bd3e" stroke-width="1.05"/><circle cx="411" cy="361.29" r="3.3" fill="none" stroke="#d9bd3e" stroke-width="1.05"/><circle cx="412.5" cy="361.43" r="3.3" fill="none" stroke="#d9bd3e" stroke-width="1.05"/><circle cx="414.01" cy="361.57" r="3.3" fill="none" stroke="#d9bd3e" stroke-width="1.05"/><circle cx="415.51" cy="361.71" r="3.3" fill="none" stroke="#d9bd3e" stroke-width="1.05"/><circle cx="417.02" cy="361.85" r="3.3" fill="none" stroke="#d9bd3e" stroke-width="1.05"/><circle cx="418.52" cy="361.98" r="3.3" fill="none" stroke="#d9bd3e" stroke-width="1.05"/><circle cx="420.03" cy="362.12" r="3.3" fill="none" stroke="#d9bd3e" stroke-width="1.05"/><circle cx="421.54" cy="362.26" r="3.3" fill="none" stroke="#d9bd3e" stroke-width="1.05"/><circle cx="423.04" cy="362.39" r="3.3" fill="none" stroke="#d9bd3e" stroke-width="1.05"/><circle cx="424.55" cy="362.53" r="3.3" fill="none" stroke="#d9bd3e" stroke-width="1.05"/><circle cx="426.05" cy="362.66" r="3.3" fill="none" stroke="#d9bd3e" stroke-width="1.05"/><circle cx="427.56" cy="362.79" r="3.3" fill="none" stroke="#d9bd3e" stroke-width="1.05"/><circle cx="429.06" cy="362.92" r="3.3" fill="none" stroke="#d9bd3e" stroke-width="1.05"/><circle cx="430.56" cy="363.05" r="3.3" fill="none" stroke="#d9bd3e" stroke-width="1.05"/><circle cx="432.07" cy="363.18" r="3.3" fill="none" stroke="#d9bd3e" stroke-width="1.05"/><circle cx="433.58" cy="363.31" r="3.3" fill="none" stroke="#d9bd3e" stroke-width="1.05"/><circle cx="435.08" cy="363.44" r="3.3" fill="none" stroke="#d9bd3e" stroke-width="1.05"/><circle cx="436.59" cy="363.57" r="3.3" fill="none" stroke="#d9bd3e" stroke-width="1.05"/><circle cx="438.09" cy="363.7" r="3.3" fill="none" stroke="#d9bd3e" stroke-width="1.05"/><circle cx="439.6" cy="363.83" r="3.3" fill="none" stroke="#d9bd3e" stroke-width="1.05"/><circle cx="441.1" cy="363.96" r="3.3" fill="none" stroke="#d9bd3e" stroke-width="1.05"/><circle cx="442.61" cy="364.09" r="3.3" fill="none" stroke="#d9bd3e" stroke-width="1.05"/><circle cx="444.11" cy="364.22" r="3.3" fill="none" stroke="#d9bd3e" stroke-width="1.05"/><circle cx="445.62" cy="364.35" r="3.3" fill="none" stroke="#d9bd3e" stroke-width="1.05"/><circle cx="447.12" cy="364.48" r="3.3" fill="none" stroke="#d9bd3e" stroke-width="1.05"/><circle cx="448.62" cy="364.62" r="3.3" fill="none" stroke="#d9bd3e" stroke-width="1.05"/><circle cx="450.13" cy="364.75" r="3.3" fill="none" stroke="#d9bd3e" stroke-width="1.05"/><circle cx="451.63" cy="364.89" r="3.3" fill="none" stroke="#d9bd3e" stroke-width="1.05"/><circle cx="453.14" cy="365.03" r="3.3" fill="none" stroke="#d9bd3e" stroke-width="1.05"/><circle cx="454.64" cy="365.16" r="3.3" fill="none" stroke="#d9bd3e" stroke-width="1.05"/><circle cx="456.15" cy="365.31" r="3.3" fill="none" stroke="#d9bd3e" stroke-width="1.05"/><circle cx="457.66" cy="365.45" r="3.3" fill="none" stroke="#d9bd3e" stroke-width="1.05"/><circle cx="459.16" cy="365.59" r="3.3" fill="none" stroke="#d9bd3e" stroke-width="1.05"/><circle cx="460.67" cy="365.74" r="3.3" fill="none" stroke="#d9bd3e" stroke-width="1.05"/><circle cx="462.17" cy="365.89" r="3.3" fill="none" stroke="#d9bd3e" stroke-width="1.05"/><circle cx="463.68" cy="366.04" r="3.3" fill="none" stroke="#d9bd3e" stroke-width="1.05"/><circle cx="465.18" cy="366.19" r="3.3" fill="none" stroke="#d9bd3e" stroke-width="1.05"/><circle cx="466.69" cy="366.35" r="3.3" fill="none" stroke="#d9bd3e" stroke-width="1.05"/><circle cx="468.19" cy="366.51" r="3.3" fill="none" stroke="#d9bd3e" stroke-width="1.05"/><circle cx="469.7" cy="366.67" r="3.3" fill="none" stroke="#d9bd3e" stroke-width="1.05"/><circle cx="471.2" cy="366.84" r="3.3" fill="none" stroke="#d9bd3e" stroke-width="1.05"/><circle cx="472.71" cy="367.01" r="3.3" fill="none" stroke="#d9bd3e" stroke-width="1.05"/><circle cx="474.21" cy="367.19" r="3.3" fill="none" stroke="#d9bd3e" stroke-width="1.05"/><circle cx="475.72" cy="367.37" r="3.3" fill="none" stroke="#d9bd3e" stroke-width="1.05"/><circle cx="477.22" cy="367.55" r="3.3" fill="none" stroke="#d9bd3e" stroke-width="1.05"/><circle cx="478.73" cy="367.74" r="3.3" fill="none" stroke="#d9bd3e" stroke-width="1.05"/><circle cx="480.23" cy="367.93" r="3.3" fill="none" stroke="#d9bd3e" stroke-width="1.05"/><circle cx="481.74" cy="368.13" r="3.3" fill="none" stroke="#d9bd3e" stroke-width="1.05"/><circle cx="483.24" cy="368.33" r="3.3" fill="none" stroke="#d9bd3e" stroke-width="1.05"/><circle cx="484.75" cy="368.54" r="3.3" fill="none" stroke="#d9bd3e" stroke-width="1.05"/><circle cx="486.25" cy="368.74" r="3.3" fill="none" stroke="#d9bd3e" stroke-width="1.05"/><circle cx="487.75" cy="368.95" r="3.3" fill="none" stroke="#d9bd3e" stroke-width="1.05"/><circle cx="489.26" cy="369.17" r="3.3" fill="none" stroke="#d9bd3e" stroke-width="1.05"/><circle cx="490.76" cy="369.38" r="3.3" fill="none" stroke="#d9bd3e" stroke-width="1.05"/><circle cx="492.27" cy="369.6" r="3.3" fill="none" stroke="#d9bd3e" stroke-width="1.05"/><circle cx="493.78" cy="369.82" r="3.3" fill="none" stroke="#d9bd3e" stroke-width="1.05"/><circle cx="495.28" cy="370.04" r="3.3" fill="none" stroke="#d9bd3e" stroke-width="1.05"/><circle cx="496.79" cy="370.26" r="3.3" fill="none" stroke="#d9bd3e" stroke-width="1.05"/><circle cx="498.29" cy="370.48" r="3.3" fill="none" stroke="#d9bd3e" stroke-width="1.05"/><circle cx="499.8" cy="370.7" r="3.3" fill="none" stroke="#d9bd3e" stroke-width="1.05"/><circle cx="501.3" cy="370.93" r="3.3" fill="none" stroke="#d9bd3e" stroke-width="1.05"/><circle cx="502.81" cy="371.15" r="3.3" fill="none" stroke="#d9bd3e" stroke-width="1.05"/><circle cx="504.31" cy="371.37" r="3.3" fill="none" stroke="#d9bd3e" stroke-width="1.05"/><circle cx="505.82" cy="371.6" r="3.3" fill="none" stroke="#d9bd3e" stroke-width="1.05"/><circle cx="507.32" cy="371.82" r="3.3" fill="none" stroke="#d9bd3e" stroke-width="1.05"/><circle cx="508.83" cy="372.04" r="3.3" fill="none" stroke="#d9bd3e" stroke-width="1.05"/><circle cx="510.33" cy="372.27" r="3.3" fill="none" stroke="#d9bd3e" stroke-width="1.05"/><circle cx="511.84" cy="372.49" r="3.3" fill="none" stroke="#d9bd3e" stroke-width="1.05"/><circle cx="513.34" cy="372.72" r="3.3" fill="none" stroke="#d9bd3e" stroke-width="1.05"/><circle cx="514.85" cy="372.95" r="3.3" fill="none" stroke="#d9bd3e" stroke-width="1.05"/><circle cx="516.35" cy="373.18" r="3.3" fill="none" stroke="#d9bd3e" stroke-width="1.05"/><circle cx="517.86" cy="373.42" r="3.3" fill="none" stroke="#d9bd3e" stroke-width="1.05"/><circle cx="519.36" cy="373.65" r="3.3" fill="none" stroke="#d9bd3e" stroke-width="1.05"/><circle cx="520.87" cy="373.89" r="3.3" fill="none" stroke="#d9bd3e" stroke-width="1.05"/><circle cx="522.37" cy="374.13" r="3.3" fill="none" stroke="#d9bd3e" stroke-width="1.05"/><circle cx="523.88" cy="374.37" r="3.3" fill="none" stroke="#d9bd3e" stroke-width="1.05"/><circle cx="525.38" cy="374.61" r="3.3" fill="none" stroke="#d9bd3e" stroke-width="1.05"/><circle cx="526.88" cy="374.85" r="3.3" fill="none" stroke="#d9bd3e" stroke-width="1.05"/><circle cx="528.39" cy="375.09" r="3.3" fill="none" stroke="#d9bd3e" stroke-width="1.05"/><circle cx="529.89" cy="375.33" r="3.3" fill="none" stroke="#d9bd3e" stroke-width="1.05"/><circle cx="531.4" cy="375.57" r="3.3" fill="none" stroke="#d9bd3e" stroke-width="1.05"/><circle cx="532.9" cy="375.81" r="3.3" fill="none" stroke="#d9bd3e" stroke-width="1.05"/><circle cx="534.41" cy="376.06" r="3.3" fill="none" stroke="#d9bd3e" stroke-width="1.05"/><circle cx="535.92" cy="376.3" r="3.3" fill="none" stroke="#d9bd3e" stroke-width="1.05"/><circle cx="537.42" cy="376.53" r="3.3" fill="none" stroke="#d9bd3e" stroke-width="1.05"/><circle cx="538.93" cy="376.77" r="3.3" fill="none" stroke="#d9bd3e" stroke-width="1.05"/><circle cx="540.43" cy="377.01" r="3.3" fill="none" stroke="#d9bd3e" stroke-width="1.05"/><circle cx="541.94" cy="377.24" r="3.3" fill="none" stroke="#d9bd3e" stroke-width="1.05"/><circle cx="543.44" cy="377.48" r="3.3" fill="none" stroke="#d9bd3e" stroke-width="1.05"/><circle cx="544.95" cy="377.71" r="3.3" fill="none" stroke="#d9bd3e" stroke-width="1.05"/><circle cx="546.45" cy="377.94" r="3.3" fill="none" stroke="#d9bd3e" stroke-width="1.05"/><circle cx="547.96" cy="378.17" r="3.3" fill="none" stroke="#d9bd3e" stroke-width="1.05"/><circle cx="549.46" cy="378.4" r="3.3" fill="none" stroke="#d9bd3e" stroke-width="1.05"/><circle cx="550.97" cy="378.62" r="3.3" fill="none" stroke="#d9bd3e" stroke-width="1.05"/><circle cx="552.47" cy="378.85" r="3.3" fill="none" stroke="#d9bd3e" stroke-width="1.05"/><circle cx="553.98" cy="379.07" r="3.3" fill="none" stroke="#d9bd3e" stroke-width="1.05"/><circle cx="555.48" cy="379.29" r="3.3" fill="none" stroke="#d9bd3e" stroke-width="1.05"/><circle cx="556.99" cy="379.51" r="3.3" fill="none" stroke="#d9bd3e" stroke-width="1.05"/><circle cx="558.49" cy="379.73" r="3.3" fill="none" stroke="#d9bd3e" stroke-width="1.05"/><circle cx="560" cy="379.95" r="3.3" fill="none" stroke="#d9bd3e" stroke-width="1.05"/><circle cx="561.5" cy="380.17" r="3.3" fill="none" stroke="#d9bd3e" stroke-width="1.05"/><circle cx="563.01" cy="380.39" r="3.3" fill="none" stroke="#d9bd3e" stroke-width="1.05"/><circle cx="564.51" cy="380.61" r="3.3" fill="none" stroke="#d9bd3e" stroke-width="1.05"/><circle cx="566.02" cy="380.83" r="3.3" fill="none" stroke="#d9bd3e" stroke-width="1.05"/><circle cx="567.52" cy="381.05" r="3.3" fill="none" stroke="#d9bd3e" stroke-width="1.05"/><circle cx="569.03" cy="381.27" r="3.3" fill="none" stroke="#d9bd3e" stroke-width="1.05"/><circle cx="570.53" cy="381.49" r="3.3" fill="none" stroke="#d9bd3e" stroke-width="1.05"/><circle cx="572.04" cy="381.71" r="3.3" fill="none" stroke="#d9bd3e" stroke-width="1.05"/><circle cx="573.54" cy="381.93" r="3.3" fill="none" stroke="#d9bd3e" stroke-width="1.05"/><circle cx="575.05" cy="382.15" r="3.3" fill="none" stroke="#d9bd3e" stroke-width="1.05"/><circle cx="576.55" cy="382.37" r="3.3" fill="none" stroke="#d9bd3e" stroke-width="1.05"/><circle cx="578.06" cy="382.59" r="3.3" fill="none" stroke="#d9bd3e" stroke-width="1.05"/><circle cx="579.56" cy="382.82" r="3.3" fill="none" stroke="#d9bd3e" stroke-width="1.05"/><circle cx="581.07" cy="383.04" r="3.3" fill="none" stroke="#d9bd3e" stroke-width="1.05"/><circle cx="582.57" cy="383.26" r="3.3" fill="none" stroke="#d9bd3e" stroke-width="1.05"/><circle cx="584.08" cy="383.49" r="3.3" fill="none" stroke="#d9bd3e" stroke-width="1.05"/><circle cx="585.58" cy="383.72" r="3.3" fill="none" stroke="#d9bd3e" stroke-width="1.05"/><circle cx="587.09" cy="383.95" r="3.3" fill="none" stroke="#d9bd3e" stroke-width="1.05"/><circle cx="588.59" cy="384.17" r="3.3" fill="none" stroke="#d9bd3e" stroke-width="1.05"/><circle cx="590.1" cy="384.4" r="3.3" fill="none" stroke="#d9bd3e" stroke-width="1.05"/><circle cx="591.6" cy="384.63" r="3.3" fill="none" stroke="#d9bd3e" stroke-width="1.05"/><circle cx="593.11" cy="384.86" r="3.3" fill="none" stroke="#d9bd3e" stroke-width="1.05"/><circle cx="594.61" cy="385.09" r="3.3" fill="none" stroke="#d9bd3e" stroke-width="1.05"/><circle cx="596.12" cy="385.32" r="3.3" fill="none" stroke="#d9bd3e" stroke-width="1.05"/><circle cx="597.62" cy="385.55" r="3.3" fill="none" stroke="#d9bd3e" stroke-width="1.05"/><circle cx="599.12" cy="385.78" r="3.3" fill="none" stroke="#d9bd3e" stroke-width="1.05"/><circle cx="600.63" cy="386.02" r="3.3" fill="none" stroke="#d9bd3e" stroke-width="1.05"/><circle cx="602.13" cy="386.25" r="3.3" fill="none" stroke="#d9bd3e" stroke-width="1.05"/><circle cx="603.64" cy="386.48" r="3.3" fill="none" stroke="#d9bd3e" stroke-width="1.05"/><circle cx="605.14" cy="386.71" r="3.3" fill="none" stroke="#d9bd3e" stroke-width="1.05"/><circle cx="606.65" cy="386.94" r="3.3" fill="none" stroke="#d9bd3e" stroke-width="1.05"/><circle cx="608.15" cy="387.18" r="3.3" fill="none" stroke="#d9bd3e" stroke-width="1.05"/><circle cx="609.66" cy="387.41" r="3.3" fill="none" stroke="#d9bd3e" stroke-width="1.05"/><circle cx="611.17" cy="387.64" r="3.3" fill="none" stroke="#d9bd3e" stroke-width="1.05"/><circle cx="612.67" cy="387.87" r="3.3" fill="none" stroke="#d9bd3e" stroke-width="1.05"/><circle cx="614.18" cy="388.11" r="3.3" fill="none" stroke="#d9bd3e" stroke-width="1.05"/><circle cx="615.68" cy="388.34" r="3.3" fill="none" stroke="#d9bd3e" stroke-width="1.05"/><circle cx="617.19" cy="388.57" r="3.3" fill="none" stroke="#d9bd3e" stroke-width="1.05"/><circle cx="618.69" cy="388.8" r="3.3" fill="none" stroke="#d9bd3e" stroke-width="1.05"/><circle cx="620.2" cy="389.04" r="3.3" fill="none" stroke="#d9bd3e" stroke-width="1.05"/><circle cx="621.7" cy="389.27" r="3.3" fill="none" stroke="#d9bd3e" stroke-width="1.05"/><circle cx="623.21" cy="389.5" r="3.3" fill="none" stroke="#d9bd3e" stroke-width="1.05"/><circle cx="624.71" cy="389.73" r="3.3" fill="none" stroke="#d9bd3e" stroke-width="1.05"/><circle cx="626.22" cy="389.97" r="3.3" fill="none" stroke="#d9bd3e" stroke-width="1.05"/><circle cx="627.72" cy="390.2" r="3.3" fill="none" stroke="#d9bd3e" stroke-width="1.05"/><circle cx="629.23" cy="390.43" r="3.3" fill="none" stroke="#d9bd3e" stroke-width="1.05"/><circle cx="324.31" cy="334.79" r="3.6" fill="none" stroke="#d9bd3e" stroke-width="1.2"/><circle cx="325.97" cy="335.97" r="3.6" fill="none" stroke="#d9bd3e" stroke-width="1.2"/><circle cx="327.47" cy="337.22" r="3.6" fill="none" stroke="#d9bd3e" stroke-width="1.2"/><circle cx="329.13" cy="338.19" r="3.6" fill="none" stroke="#d9bd3e" stroke-width="1.2"/><circle cx="330.63" cy="338.88" r="3.6" fill="#ffffff" stroke="#d9bd3e" stroke-width="1.2"/>
<circle cx="629.23" cy="390.43" r="3.3" fill="#ffffff" stroke="#d9bd3e" stroke-width="1.1"/>
<circle cx="332.74" cy="348.04" r="3.3" fill="none" stroke="#5bbf7c" stroke-width="1.05"/><circle cx="334.25" cy="348.07" r="3.3" fill="none" stroke="#5bbf7c" stroke-width="1.05"/><circle cx="335.75" cy="348.11" r="3.3" fill="none" stroke="#5bbf7c" stroke-width="1.05"/><circle cx="337.25" cy="348.14" r="3.3" fill="none" stroke="#5bbf7c" stroke-width="1.05"/><circle cx="338.76" cy="348.17" r="3.3" fill="none" stroke="#5bbf7c" stroke-width="1.05"/><circle cx="340.26" cy="348.21" r="3.3" fill="none" stroke="#5bbf7c" stroke-width="1.05"/><circle cx="341.77" cy="348.24" r="3.3" fill="none" stroke="#5bbf7c" stroke-width="1.05"/><circle cx="343.27" cy="348.27" r="3.3" fill="none" stroke="#5bbf7c" stroke-width="1.05"/><circle cx="344.78" cy="348.31" r="3.3" fill="none" stroke="#5bbf7c" stroke-width="1.05"/><circle cx="346.28" cy="348.34" r="3.3" fill="none" stroke="#5bbf7c" stroke-width="1.05"/><circle cx="347.79" cy="348.38" r="3.3" fill="none" stroke="#5bbf7c" stroke-width="1.05"/><circle cx="349.3" cy="348.41" r="3.3" fill="none" stroke="#5bbf7c" stroke-width="1.05"/><circle cx="350.8" cy="348.44" r="3.3" fill="none" stroke="#5bbf7c" stroke-width="1.05"/><circle cx="352.31" cy="348.48" r="3.3" fill="none" stroke="#5bbf7c" stroke-width="1.05"/><circle cx="353.81" cy="348.51" r="3.3" fill="none" stroke="#5bbf7c" stroke-width="1.05"/><circle cx="355.31" cy="348.55" r="3.3" fill="none" stroke="#5bbf7c" stroke-width="1.05"/><circle cx="356.82" cy="348.58" r="3.3" fill="none" stroke="#5bbf7c" stroke-width="1.05"/><circle cx="358.32" cy="348.62" r="3.3" fill="none" stroke="#5bbf7c" stroke-width="1.05"/><circle cx="359.83" cy="348.65" r="3.3" fill="none" stroke="#5bbf7c" stroke-width="1.05"/><circle cx="361.33" cy="348.69" r="3.3" fill="none" stroke="#5bbf7c" stroke-width="1.05"/><circle cx="362.84" cy="348.73" r="3.3" fill="none" stroke="#5bbf7c" stroke-width="1.05"/><circle cx="364.35" cy="348.76" r="3.3" fill="none" stroke="#5bbf7c" stroke-width="1.05"/><circle cx="365.85" cy="348.8" r="3.3" fill="none" stroke="#5bbf7c" stroke-width="1.05"/><circle cx="367.36" cy="348.84" r="3.3" fill="none" stroke="#5bbf7c" stroke-width="1.05"/><circle cx="368.86" cy="348.88" r="3.3" fill="none" stroke="#5bbf7c" stroke-width="1.05"/><circle cx="370.37" cy="348.92" r="3.3" fill="none" stroke="#5bbf7c" stroke-width="1.05"/><circle cx="371.87" cy="348.96" r="3.3" fill="none" stroke="#5bbf7c" stroke-width="1.05"/><circle cx="373.38" cy="349" r="3.3" fill="none" stroke="#5bbf7c" stroke-width="1.05"/><circle cx="374.88" cy="349.04" r="3.3" fill="none" stroke="#5bbf7c" stroke-width="1.05"/><circle cx="376.38" cy="349.08" r="3.3" fill="none" stroke="#5bbf7c" stroke-width="1.05"/><circle cx="377.89" cy="349.12" r="3.3" fill="none" stroke="#5bbf7c" stroke-width="1.05"/><circle cx="379.39" cy="349.16" r="3.3" fill="none" stroke="#5bbf7c" stroke-width="1.05"/><circle cx="380.9" cy="349.2" r="3.3" fill="none" stroke="#5bbf7c" stroke-width="1.05"/><circle cx="382.4" cy="349.24" r="3.3" fill="none" stroke="#5bbf7c" stroke-width="1.05"/><circle cx="383.91" cy="349.29" r="3.3" fill="none" stroke="#5bbf7c" stroke-width="1.05"/><circle cx="385.42" cy="349.33" r="3.3" fill="none" stroke="#5bbf7c" stroke-width="1.05"/><circle cx="386.92" cy="349.37" r="3.3" fill="none" stroke="#5bbf7c" stroke-width="1.05"/><circle cx="388.43" cy="349.41" r="3.3" fill="none" stroke="#5bbf7c" stroke-width="1.05"/><circle cx="389.93" cy="349.45" r="3.3" fill="none" stroke="#5bbf7c" stroke-width="1.05"/><circle cx="391.44" cy="349.5" r="3.3" fill="none" stroke="#5bbf7c" stroke-width="1.05"/><circle cx="392.94" cy="349.54" r="3.3" fill="none" stroke="#5bbf7c" stroke-width="1.05"/><circle cx="394.44" cy="349.58" r="3.3" fill="none" stroke="#5bbf7c" stroke-width="1.05"/><circle cx="395.95" cy="349.62" r="3.3" fill="none" stroke="#5bbf7c" stroke-width="1.05"/><circle cx="397.46" cy="349.67" r="3.3" fill="none" stroke="#5bbf7c" stroke-width="1.05"/><circle cx="398.96" cy="349.71" r="3.3" fill="none" stroke="#5bbf7c" stroke-width="1.05"/><circle cx="400.47" cy="349.75" r="3.3" fill="none" stroke="#5bbf7c" stroke-width="1.05"/><circle cx="401.97" cy="349.8" r="3.3" fill="none" stroke="#5bbf7c" stroke-width="1.05"/><circle cx="403.48" cy="349.84" r="3.3" fill="none" stroke="#5bbf7c" stroke-width="1.05"/><circle cx="404.98" cy="349.88" r="3.3" fill="none" stroke="#5bbf7c" stroke-width="1.05"/><circle cx="406.49" cy="349.92" r="3.3" fill="none" stroke="#5bbf7c" stroke-width="1.05"/><circle cx="407.99" cy="349.97" r="3.3" fill="none" stroke="#5bbf7c" stroke-width="1.05"/><circle cx="409.5" cy="350.01" r="3.3" fill="none" stroke="#5bbf7c" stroke-width="1.05"/><circle cx="411" cy="350.05" r="3.3" fill="none" stroke="#5bbf7c" stroke-width="1.05"/><circle cx="412.5" cy="350.09" r="3.3" fill="none" stroke="#5bbf7c" stroke-width="1.05"/><circle cx="414.01" cy="350.14" r="3.3" fill="none" stroke="#5bbf7c" stroke-width="1.05"/><circle cx="415.51" cy="350.18" r="3.3" fill="none" stroke="#5bbf7c" stroke-width="1.05"/><circle cx="417.02" cy="350.21" r="3.3" fill="none" stroke="#5bbf7c" stroke-width="1.05"/><circle cx="418.52" cy="350.25" r="3.3" fill="none" stroke="#5bbf7c" stroke-width="1.05"/><circle cx="420.03" cy="350.29" r="3.3" fill="none" stroke="#5bbf7c" stroke-width="1.05"/><circle cx="421.54" cy="350.33" r="3.3" fill="none" stroke="#5bbf7c" stroke-width="1.05"/><circle cx="423.04" cy="350.37" r="3.3" fill="none" stroke="#5bbf7c" stroke-width="1.05"/><circle cx="424.55" cy="350.4" r="3.3" fill="none" stroke="#5bbf7c" stroke-width="1.05"/><circle cx="426.05" cy="350.44" r="3.3" fill="none" stroke="#5bbf7c" stroke-width="1.05"/><circle cx="427.56" cy="350.47" r="3.3" fill="none" stroke="#5bbf7c" stroke-width="1.05"/><circle cx="429.06" cy="350.51" r="3.3" fill="none" stroke="#5bbf7c" stroke-width="1.05"/><circle cx="430.56" cy="350.55" r="3.3" fill="none" stroke="#5bbf7c" stroke-width="1.05"/><circle cx="432.07" cy="350.58" r="3.3" fill="none" stroke="#5bbf7c" stroke-width="1.05"/><circle cx="433.58" cy="350.62" r="3.3" fill="none" stroke="#5bbf7c" stroke-width="1.05"/><circle cx="435.08" cy="350.65" r="3.3" fill="none" stroke="#5bbf7c" stroke-width="1.05"/><circle cx="436.59" cy="350.69" r="3.3" fill="none" stroke="#5bbf7c" stroke-width="1.05"/><circle cx="438.09" cy="350.73" r="3.3" fill="none" stroke="#5bbf7c" stroke-width="1.05"/><circle cx="439.6" cy="350.76" r="3.3" fill="none" stroke="#5bbf7c" stroke-width="1.05"/><circle cx="441.1" cy="350.8" r="3.3" fill="none" stroke="#5bbf7c" stroke-width="1.05"/><circle cx="442.61" cy="350.84" r="3.3" fill="none" stroke="#5bbf7c" stroke-width="1.05"/><circle cx="444.11" cy="350.88" r="3.3" fill="none" stroke="#5bbf7c" stroke-width="1.05"/><circle cx="445.62" cy="350.92" r="3.3" fill="none" stroke="#5bbf7c" stroke-width="1.05"/><circle cx="447.12" cy="350.96" r="3.3" fill="none" stroke="#5bbf7c" stroke-width="1.05"/><circle cx="448.62" cy="351" r="3.3" fill="none" stroke="#5bbf7c" stroke-width="1.05"/><circle cx="450.13" cy="351.04" r="3.3" fill="none" stroke="#5bbf7c" stroke-width="1.05"/><circle cx="451.63" cy="351.09" r="3.3" fill="none" stroke="#5bbf7c" stroke-width="1.05"/><circle cx="453.14" cy="351.13" r="3.3" fill="none" stroke="#5bbf7c" stroke-width="1.05"/><circle cx="454.64" cy="351.18" r="3.3" fill="none" stroke="#5bbf7c" stroke-width="1.05"/><circle cx="456.15" cy="351.22" r="3.3" fill="none" stroke="#5bbf7c" stroke-width="1.05"/><circle cx="457.66" cy="351.27" r="3.3" fill="none" stroke="#5bbf7c" stroke-width="1.05"/><circle cx="459.16" cy="351.32" r="3.3" fill="none" stroke="#5bbf7c" stroke-width="1.05"/><circle cx="460.67" cy="351.37" r="3.3" fill="none" stroke="#5bbf7c" stroke-width="1.05"/><circle cx="462.17" cy="351.43" r="3.3" fill="none" stroke="#5bbf7c" stroke-width="1.05"/><circle cx="463.68" cy="351.48" r="3.3" fill="none" stroke="#5bbf7c" stroke-width="1.05"/><circle cx="465.18" cy="351.54" r="3.3" fill="none" stroke="#5bbf7c" stroke-width="1.05"/><circle cx="466.69" cy="351.6" r="3.3" fill="none" stroke="#5bbf7c" stroke-width="1.05"/><circle cx="468.19" cy="351.66" r="3.3" fill="none" stroke="#5bbf7c" stroke-width="1.05"/><circle cx="469.7" cy="351.72" r="3.3" fill="none" stroke="#5bbf7c" stroke-width="1.05"/><circle cx="471.2" cy="351.79" r="3.3" fill="none" stroke="#5bbf7c" stroke-width="1.05"/><circle cx="472.71" cy="351.86" r="3.3" fill="none" stroke="#5bbf7c" stroke-width="1.05"/><circle cx="474.21" cy="351.93" r="3.3" fill="none" stroke="#5bbf7c" stroke-width="1.05"/><circle cx="475.72" cy="352.01" r="3.3" fill="none" stroke="#5bbf7c" stroke-width="1.05"/><circle cx="477.22" cy="352.09" r="3.3" fill="none" stroke="#5bbf7c" stroke-width="1.05"/><circle cx="478.73" cy="352.18" r="3.3" fill="none" stroke="#5bbf7c" stroke-width="1.05"/><circle cx="480.23" cy="352.27" r="3.3" fill="none" stroke="#5bbf7c" stroke-width="1.05"/><circle cx="481.74" cy="352.37" r="3.3" fill="none" stroke="#5bbf7c" stroke-width="1.05"/><circle cx="483.24" cy="352.47" r="3.3" fill="none" stroke="#5bbf7c" stroke-width="1.05"/><circle cx="484.75" cy="352.57" r="3.3" fill="none" stroke="#5bbf7c" stroke-width="1.05"/><circle cx="486.25" cy="352.67" r="3.3" fill="none" stroke="#5bbf7c" stroke-width="1.05"/><circle cx="487.75" cy="352.78" r="3.3" fill="none" stroke="#5bbf7c" stroke-width="1.05"/><circle cx="489.26" cy="352.89" r="3.3" fill="none" stroke="#5bbf7c" stroke-width="1.05"/><circle cx="490.76" cy="353" r="3.3" fill="none" stroke="#5bbf7c" stroke-width="1.05"/><circle cx="492.27" cy="353.11" r="3.3" fill="none" stroke="#5bbf7c" stroke-width="1.05"/><circle cx="493.78" cy="353.22" r="3.3" fill="none" stroke="#5bbf7c" stroke-width="1.05"/><circle cx="495.28" cy="353.34" r="3.3" fill="none" stroke="#5bbf7c" stroke-width="1.05"/><circle cx="496.79" cy="353.45" r="3.3" fill="none" stroke="#5bbf7c" stroke-width="1.05"/><circle cx="498.29" cy="353.57" r="3.3" fill="none" stroke="#5bbf7c" stroke-width="1.05"/><circle cx="499.8" cy="353.68" r="3.3" fill="none" stroke="#5bbf7c" stroke-width="1.05"/><circle cx="501.3" cy="353.8" r="3.3" fill="none" stroke="#5bbf7c" stroke-width="1.05"/><circle cx="502.81" cy="353.91" r="3.3" fill="none" stroke="#5bbf7c" stroke-width="1.05"/><circle cx="504.31" cy="354.02" r="3.3" fill="none" stroke="#5bbf7c" stroke-width="1.05"/><circle cx="505.82" cy="354.14" r="3.3" fill="none" stroke="#5bbf7c" stroke-width="1.05"/><circle cx="507.32" cy="354.25" r="3.3" fill="none" stroke="#5bbf7c" stroke-width="1.05"/><circle cx="508.83" cy="354.35" r="3.3" fill="none" stroke="#5bbf7c" stroke-width="1.05"/><circle cx="510.33" cy="354.46" r="3.3" fill="none" stroke="#5bbf7c" stroke-width="1.05"/><circle cx="511.84" cy="354.57" r="3.3" fill="none" stroke="#5bbf7c" stroke-width="1.05"/><circle cx="513.34" cy="354.68" r="3.3" fill="none" stroke="#5bbf7c" stroke-width="1.05"/><circle cx="514.85" cy="354.79" r="3.3" fill="none" stroke="#5bbf7c" stroke-width="1.05"/><circle cx="516.35" cy="354.9" r="3.3" fill="none" stroke="#5bbf7c" stroke-width="1.05"/><circle cx="517.86" cy="355.01" r="3.3" fill="none" stroke="#5bbf7c" stroke-width="1.05"/><circle cx="519.36" cy="355.12" r="3.3" fill="none" stroke="#5bbf7c" stroke-width="1.05"/><circle cx="520.87" cy="355.24" r="3.3" fill="none" stroke="#5bbf7c" stroke-width="1.05"/><circle cx="522.37" cy="355.35" r="3.3" fill="none" stroke="#5bbf7c" stroke-width="1.05"/><circle cx="523.88" cy="355.46" r="3.3" fill="none" stroke="#5bbf7c" stroke-width="1.05"/><circle cx="525.38" cy="355.58" r="3.3" fill="none" stroke="#5bbf7c" stroke-width="1.05"/><circle cx="526.88" cy="355.69" r="3.3" fill="none" stroke="#5bbf7c" stroke-width="1.05"/><circle cx="528.39" cy="355.81" r="3.3" fill="none" stroke="#5bbf7c" stroke-width="1.05"/><circle cx="529.89" cy="355.92" r="3.3" fill="none" stroke="#5bbf7c" stroke-width="1.05"/><circle cx="531.4" cy="356.03" r="3.3" fill="none" stroke="#5bbf7c" stroke-width="1.05"/><circle cx="532.9" cy="356.15" r="3.3" fill="none" stroke="#5bbf7c" stroke-width="1.05"/><circle cx="534.41" cy="356.26" r="3.3" fill="none" stroke="#5bbf7c" stroke-width="1.05"/><circle cx="535.92" cy="356.37" r="3.3" fill="none" stroke="#5bbf7c" stroke-width="1.05"/><circle cx="537.42" cy="356.48" r="3.3" fill="none" stroke="#5bbf7c" stroke-width="1.05"/><circle cx="538.93" cy="356.59" r="3.3" fill="none" stroke="#5bbf7c" stroke-width="1.05"/><circle cx="540.43" cy="356.7" r="3.3" fill="none" stroke="#5bbf7c" stroke-width="1.05"/><circle cx="541.94" cy="356.81" r="3.3" fill="none" stroke="#5bbf7c" stroke-width="1.05"/><circle cx="543.44" cy="356.92" r="3.3" fill="none" stroke="#5bbf7c" stroke-width="1.05"/><circle cx="544.95" cy="357.02" r="3.3" fill="none" stroke="#5bbf7c" stroke-width="1.05"/><circle cx="546.45" cy="357.13" r="3.3" fill="none" stroke="#5bbf7c" stroke-width="1.05"/><circle cx="547.96" cy="357.23" r="3.3" fill="none" stroke="#5bbf7c" stroke-width="1.05"/><circle cx="549.46" cy="357.33" r="3.3" fill="none" stroke="#5bbf7c" stroke-width="1.05"/><circle cx="550.97" cy="357.44" r="3.3" fill="none" stroke="#5bbf7c" stroke-width="1.05"/><circle cx="552.47" cy="357.54" r="3.3" fill="none" stroke="#5bbf7c" stroke-width="1.05"/><circle cx="553.98" cy="357.64" r="3.3" fill="none" stroke="#5bbf7c" stroke-width="1.05"/><circle cx="555.48" cy="357.73" r="3.3" fill="none" stroke="#5bbf7c" stroke-width="1.05"/><circle cx="556.99" cy="357.83" r="3.3" fill="none" stroke="#5bbf7c" stroke-width="1.05"/><circle cx="558.49" cy="357.93" r="3.3" fill="none" stroke="#5bbf7c" stroke-width="1.05"/><circle cx="560" cy="358.03" r="3.3" fill="none" stroke="#5bbf7c" stroke-width="1.05"/><circle cx="561.5" cy="358.12" r="3.3" fill="none" stroke="#5bbf7c" stroke-width="1.05"/><circle cx="563.01" cy="358.22" r="3.3" fill="none" stroke="#5bbf7c" stroke-width="1.05"/><circle cx="564.51" cy="358.32" r="3.3" fill="none" stroke="#5bbf7c" stroke-width="1.05"/><circle cx="566.02" cy="358.41" r="3.3" fill="none" stroke="#5bbf7c" stroke-width="1.05"/><circle cx="567.52" cy="358.51" r="3.3" fill="none" stroke="#5bbf7c" stroke-width="1.05"/><circle cx="569.03" cy="358.6" r="3.3" fill="none" stroke="#5bbf7c" stroke-width="1.05"/><circle cx="570.53" cy="358.7" r="3.3" fill="none" stroke="#5bbf7c" stroke-width="1.05"/><circle cx="572.04" cy="358.79" r="3.3" fill="none" stroke="#5bbf7c" stroke-width="1.05"/><circle cx="573.54" cy="358.89" r="3.3" fill="none" stroke="#5bbf7c" stroke-width="1.05"/><circle cx="575.05" cy="358.98" r="3.3" fill="none" stroke="#5bbf7c" stroke-width="1.05"/><circle cx="576.55" cy="359.08" r="3.3" fill="none" stroke="#5bbf7c" stroke-width="1.05"/><circle cx="578.06" cy="359.17" r="3.3" fill="none" stroke="#5bbf7c" stroke-width="1.05"/><circle cx="579.56" cy="359.27" r="3.3" fill="none" stroke="#5bbf7c" stroke-width="1.05"/><circle cx="581.07" cy="359.36" r="3.3" fill="none" stroke="#5bbf7c" stroke-width="1.05"/><circle cx="582.57" cy="359.46" r="3.3" fill="none" stroke="#5bbf7c" stroke-width="1.05"/><circle cx="584.08" cy="359.56" r="3.3" fill="none" stroke="#5bbf7c" stroke-width="1.05"/><circle cx="585.58" cy="359.65" r="3.3" fill="none" stroke="#5bbf7c" stroke-width="1.05"/><circle cx="587.09" cy="359.75" r="3.3" fill="none" stroke="#5bbf7c" stroke-width="1.05"/><circle cx="588.59" cy="359.85" r="3.3" fill="none" stroke="#5bbf7c" stroke-width="1.05"/><circle cx="590.1" cy="359.94" r="3.3" fill="none" stroke="#5bbf7c" stroke-width="1.05"/><circle cx="591.6" cy="360.04" r="3.3" fill="none" stroke="#5bbf7c" stroke-width="1.05"/><circle cx="593.11" cy="360.14" r="3.3" fill="none" stroke="#5bbf7c" stroke-width="1.05"/><circle cx="594.61" cy="360.24" r="3.3" fill="none" stroke="#5bbf7c" stroke-width="1.05"/><circle cx="596.12" cy="360.33" r="3.3" fill="none" stroke="#5bbf7c" stroke-width="1.05"/><circle cx="597.62" cy="360.43" r="3.3" fill="none" stroke="#5bbf7c" stroke-width="1.05"/><circle cx="599.12" cy="360.53" r="3.3" fill="none" stroke="#5bbf7c" stroke-width="1.05"/><circle cx="600.63" cy="360.62" r="3.3" fill="none" stroke="#5bbf7c" stroke-width="1.05"/><circle cx="602.13" cy="360.72" r="3.3" fill="none" stroke="#5bbf7c" stroke-width="1.05"/><circle cx="603.64" cy="360.82" r="3.3" fill="none" stroke="#5bbf7c" stroke-width="1.05"/><circle cx="605.14" cy="360.92" r="3.3" fill="none" stroke="#5bbf7c" stroke-width="1.05"/><circle cx="606.65" cy="361.01" r="3.3" fill="none" stroke="#5bbf7c" stroke-width="1.05"/><circle cx="608.15" cy="361.11" r="3.3" fill="none" stroke="#5bbf7c" stroke-width="1.05"/><circle cx="609.66" cy="361.21" r="3.3" fill="none" stroke="#5bbf7c" stroke-width="1.05"/><circle cx="611.17" cy="361.3" r="3.3" fill="none" stroke="#5bbf7c" stroke-width="1.05"/><circle cx="612.67" cy="361.4" r="3.3" fill="none" stroke="#5bbf7c" stroke-width="1.05"/><circle cx="614.18" cy="361.5" r="3.3" fill="none" stroke="#5bbf7c" stroke-width="1.05"/><circle cx="615.68" cy="361.6" r="3.3" fill="none" stroke="#5bbf7c" stroke-width="1.05"/><circle cx="617.19" cy="361.69" r="3.3" fill="none" stroke="#5bbf7c" stroke-width="1.05"/><circle cx="618.69" cy="361.79" r="3.3" fill="none" stroke="#5bbf7c" stroke-width="1.05"/><circle cx="620.2" cy="361.89" r="3.3" fill="none" stroke="#5bbf7c" stroke-width="1.05"/><circle cx="621.7" cy="361.98" r="3.3" fill="none" stroke="#5bbf7c" stroke-width="1.05"/><circle cx="623.21" cy="362.08" r="3.3" fill="none" stroke="#5bbf7c" stroke-width="1.05"/><circle cx="624.71" cy="362.18" r="3.3" fill="none" stroke="#5bbf7c" stroke-width="1.05"/><circle cx="626.22" cy="362.28" r="3.3" fill="none" stroke="#5bbf7c" stroke-width="1.05"/><circle cx="627.72" cy="362.37" r="3.3" fill="none" stroke="#5bbf7c" stroke-width="1.05"/><circle cx="629.23" cy="362.47" r="3.3" fill="none" stroke="#5bbf7c" stroke-width="1.05"/><circle cx="324.31" cy="325.56" r="3.6" fill="none" stroke="#5bbf7c" stroke-width="1.2"/><circle cx="325.97" cy="326.6" r="3.6" fill="none" stroke="#5bbf7c" stroke-width="1.2"/><circle cx="327.47" cy="327.64" r="3.6" fill="none" stroke="#5bbf7c" stroke-width="1.2"/><circle cx="329.13" cy="328.34" r="3.6" fill="none" stroke="#5bbf7c" stroke-width="1.2"/><circle cx="330.63" cy="328.89" r="3.6" fill="#ffffff" stroke="#5bbf7c" stroke-width="1.2"/>
<circle cx="629.23" cy="362.47" r="3.3" fill="#ffffff" stroke="#5bbf7c" stroke-width="1.1"/>
<circle cx="354.2" cy="405.9" r="3.75" fill="none" stroke="#d9bd3e" stroke-width="1.15"/>
<text x="372.8" y="410.3" font-size="12" text-anchor="start" fill="#0a0a0a">NMC</text>
<circle cx="354.2" cy="421.2" r="3.75" fill="none" stroke="#5bbf7c" stroke-width="1.15"/>
<text x="372.8" y="425.6" font-size="12" text-anchor="start" fill="#0a0a0a">NMCD</text>
<text x="629.6" y="283.6" font-size="12" text-anchor="end" fill="#0a0a0a" word-spacing="0.9">0.2 A g<tspan font-size="8.8" dy="-5.2">-1</tspan></text>
<path d="M336.4 353.3V375.7H328.8" fill="none" stroke="#0a0a0a" stroke-width="1.3"/><path d="M320.8 375.7l9.5 -3.1v6.2z" fill="#0a0a0a"/>
<path d="M618.8 321.4V305H625.5" fill="none" stroke="#d1343c" stroke-width="1.3"/><path d="M633.5 305l-11.5 -3.4v6.8z" fill="#d1343c"/>
<rect x="317.5" y="265.9" width="317.5" height="166.5" fill="none" stroke="#0a0a0a" stroke-width="1.45"/>
<path d="M317.5 432.4h-4.2 M317.5 376.9h-4.2 M317.5 321.4h-4.2 M317.5 265.9h-4.2 M317.5 404.65h-2.5 M317.5 349.15h-2.5 M317.5 293.65h-2.5" stroke="#0a0a0a" stroke-width="1.25" fill="none"/>
<text x="310.9" y="436.46" font-size="14" text-anchor="end" fill="#0a0a0a">0</text>
<text x="310.9" y="380.96" font-size="14" text-anchor="end" fill="#0a0a0a">80</text>
<text x="310.9" y="325.46" font-size="14" text-anchor="end" fill="#0a0a0a">160</text>
<text x="310.9" y="269.96" font-size="14" text-anchor="end" fill="#0a0a0a">240</text>
<path d="M635 432.4h4.2 M635 376.9h4.2 M635 321.4h4.2 M635 265.9h4.2 M635 404.65h2.5 M635 349.15h2.5 M635 293.65h2.5" stroke="#0a0a0a" stroke-width="1.25" fill="none"/>
<text x="642.9" y="436.46" font-size="14" text-anchor="start" fill="#0a0a0a">90</text>
<text x="642.9" y="380.96" font-size="14" text-anchor="start" fill="#0a0a0a">95</text>
<text x="642.9" y="325.46" font-size="14" text-anchor="start" fill="#0a0a0a">100</text>
<text x="642.9" y="269.96" font-size="14" text-anchor="start" fill="#0a0a0a">105</text>
<path d="M320.7 432.4v4.2 M395.95 432.4v4.2 M471.2 432.4v4.2 M546.45 432.4v4.2 M621.7 432.4v4.2 M358.32 432.4v2.5 M433.58 432.4v2.5 M508.83 432.4v2.5 M584.08 432.4v2.5" stroke="#0a0a0a" stroke-width="1.25" fill="none"/>
<text x="320.7" y="450.6" font-size="14" text-anchor="middle" fill="#0a0a0a">0</text>
<text x="395.95" y="450.6" font-size="14" text-anchor="middle" fill="#0a0a0a">50</text>
<text x="471.2" y="450.6" font-size="14" text-anchor="middle" fill="#0a0a0a">100</text>
<text x="546.45" y="450.6" font-size="14" text-anchor="middle" fill="#0a0a0a">150</text>
<text x="621.7" y="450.6" font-size="14" text-anchor="middle" fill="#0a0a0a">200</text>
<text x="481.3" y="464.1" font-size="14.1" text-anchor="middle" fill="#0a0a0a">Cycle number</text>
<text x="0" y="0" font-size="14.2" text-anchor="middle" fill="#0a0a0a" word-spacing="1.2" transform="translate(285,359.5) rotate(-90)">Specific capacity (mAh g<tspan font-size="9" dy="-5.2">-1</tspan><tspan dy="5.2">)</tspan></text>
<text x="0" y="0" font-size="14.1" text-anchor="middle" fill="#0a0a0a" transform="translate(677.6,358) rotate(-90)">Coulombic efficiency (%)</text>
<text x="271.2" y="263.15" font-size="25" text-anchor="start" fill="#0a0a0a">d</text>
<rect x="317.5" y="480.9" width="319.3" height="168.6" fill="#f9f8fb"/>
<g opacity="0.42"><circle cx="323.81" cy="582.06" r="2.4" fill="none" stroke="#5b9ad6" stroke-width="0.8"/><circle cx="324.82" cy="570.82" r="2.4" fill="none" stroke="#5b9ad6" stroke-width="0.8"/><circle cx="325.84" cy="559.58" r="2.4" fill="none" stroke="#5b9ad6" stroke-width="0.8"/><circle cx="326.85" cy="556.21" r="2.4" fill="none" stroke="#5b9ad6" stroke-width="0.8"/><circle cx="327.86" cy="552.84" r="2.4" fill="none" stroke="#5b9ad6" stroke-width="0.8"/><circle cx="328.87" cy="549.61" r="2.4" fill="none" stroke="#5b9ad6" stroke-width="0.8"/><circle cx="329.88" cy="551.12" r="2.4" fill="none" stroke="#5b9ad6" stroke-width="0.8"/><circle cx="330.9" cy="558.22" r="2.4" fill="none" stroke="#5b9ad6" stroke-width="0.8"/><circle cx="331.91" cy="557.37" r="2.4" fill="none" stroke="#5b9ad6" stroke-width="0.8"/><circle cx="332.92" cy="544.09" r="2.4" fill="none" stroke="#5b9ad6" stroke-width="0.8"/><circle cx="333.93" cy="555.57" r="2.4" fill="none" stroke="#5b9ad6" stroke-width="0.8"/><circle cx="334.94" cy="552.89" r="2.4" fill="none" stroke="#5b9ad6" stroke-width="0.8"/><circle cx="335.96" cy="553.25" r="2.4" fill="none" stroke="#5b9ad6" stroke-width="0.8"/><circle cx="336.97" cy="551.62" r="2.4" fill="none" stroke="#5b9ad6" stroke-width="0.8"/><circle cx="337.98" cy="548.92" r="2.4" fill="none" stroke="#5b9ad6" stroke-width="0.8"/><circle cx="338.99" cy="552.2" r="2.4" fill="none" stroke="#5b9ad6" stroke-width="0.8"/><circle cx="340" cy="556.96" r="2.4" fill="none" stroke="#5b9ad6" stroke-width="0.8"/><circle cx="341.02" cy="549.69" r="2.4" fill="none" stroke="#5b9ad6" stroke-width="0.8"/><circle cx="342.03" cy="541.68" r="2.4" fill="none" stroke="#5b9ad6" stroke-width="0.8"/><circle cx="343.04" cy="549" r="2.4" fill="none" stroke="#5b9ad6" stroke-width="0.8"/><circle cx="344.05" cy="555.86" r="2.4" fill="none" stroke="#5b9ad6" stroke-width="0.8"/><circle cx="345.06" cy="530.37" r="2.4" fill="none" stroke="#5b9ad6" stroke-width="0.8"/><circle cx="346.08" cy="553" r="2.4" fill="none" stroke="#5b9ad6" stroke-width="0.8"/><circle cx="347.09" cy="546.74" r="2.4" fill="none" stroke="#5b9ad6" stroke-width="0.8"/><circle cx="348.1" cy="550.93" r="2.4" fill="none" stroke="#5b9ad6" stroke-width="0.8"/><circle cx="349.11" cy="543.22" r="2.4" fill="none" stroke="#5b9ad6" stroke-width="0.8"/><circle cx="350.12" cy="545.72" r="2.4" fill="none" stroke="#5b9ad6" stroke-width="0.8"/><circle cx="351.14" cy="555.34" r="2.4" fill="none" stroke="#5b9ad6" stroke-width="0.8"/><circle cx="352.15" cy="540" r="2.4" fill="none" stroke="#5b9ad6" stroke-width="0.8"/><circle cx="353.16" cy="544.18" r="2.4" fill="none" stroke="#5b9ad6" stroke-width="0.8"/><circle cx="354.17" cy="556.28" r="2.4" fill="none" stroke="#5b9ad6" stroke-width="0.8"/><circle cx="355.18" cy="554.17" r="2.4" fill="none" stroke="#5b9ad6" stroke-width="0.8"/><circle cx="356.2" cy="555.32" r="2.4" fill="none" stroke="#5b9ad6" stroke-width="0.8"/><circle cx="357.21" cy="540.01" r="2.4" fill="none" stroke="#5b9ad6" stroke-width="0.8"/><circle cx="358.22" cy="546.53" r="2.4" fill="none" stroke="#5b9ad6" stroke-width="0.8"/><circle cx="359.23" cy="546.68" r="2.4" fill="none" stroke="#5b9ad6" stroke-width="0.8"/><circle cx="360.24" cy="541.29" r="2.4" fill="none" stroke="#5b9ad6" stroke-width="0.8"/><circle cx="361.26" cy="538.18" r="2.4" fill="none" stroke="#5b9ad6" stroke-width="0.8"/><circle cx="362.27" cy="547.78" r="2.4" fill="none" stroke="#5b9ad6" stroke-width="0.8"/><circle cx="363.28" cy="546.12" r="2.4" fill="none" stroke="#5b9ad6" stroke-width="0.8"/><circle cx="364.29" cy="549.74" r="2.4" fill="none" stroke="#5b9ad6" stroke-width="0.8"/><circle cx="365.3" cy="549.67" r="2.4" fill="none" stroke="#5b9ad6" stroke-width="0.8"/><circle cx="366.32" cy="549.07" r="2.4" fill="none" stroke="#5b9ad6" stroke-width="0.8"/><circle cx="367.33" cy="550.79" r="2.4" fill="none" stroke="#5b9ad6" stroke-width="0.8"/><circle cx="368.34" cy="545.05" r="2.4" fill="none" stroke="#5b9ad6" stroke-width="0.8"/><circle cx="369.35" cy="541.14" r="2.4" fill="none" stroke="#5b9ad6" stroke-width="0.8"/><circle cx="370.36" cy="556.98" r="2.4" fill="none" stroke="#5b9ad6" stroke-width="0.8"/><circle cx="371.38" cy="544.45" r="2.4" fill="none" stroke="#5b9ad6" stroke-width="0.8"/><circle cx="372.39" cy="551.3" r="2.4" fill="none" stroke="#5b9ad6" stroke-width="0.8"/><circle cx="373.4" cy="550.44" r="2.4" fill="none" stroke="#5b9ad6" stroke-width="0.8"/><circle cx="374.41" cy="558.94" r="2.4" fill="none" stroke="#5b9ad6" stroke-width="0.8"/><circle cx="375.42" cy="563.82" r="2.4" fill="none" stroke="#5b9ad6" stroke-width="0.8"/><circle cx="376.44" cy="549.38" r="2.4" fill="none" stroke="#5b9ad6" stroke-width="0.8"/><circle cx="377.45" cy="552.36" r="2.4" fill="none" stroke="#5b9ad6" stroke-width="0.8"/><circle cx="378.46" cy="552.36" r="2.4" fill="none" stroke="#5b9ad6" stroke-width="0.8"/><circle cx="379.47" cy="549.98" r="2.4" fill="none" stroke="#5b9ad6" stroke-width="0.8"/><circle cx="380.48" cy="556.15" r="2.4" fill="none" stroke="#5b9ad6" stroke-width="0.8"/><circle cx="381.5" cy="546.12" r="2.4" fill="none" stroke="#5b9ad6" stroke-width="0.8"/><circle cx="382.51" cy="538.93" r="2.4" fill="none" stroke="#5b9ad6" stroke-width="0.8"/><circle cx="383.52" cy="541.08" r="2.4" fill="none" stroke="#5b9ad6" stroke-width="0.8"/><circle cx="384.53" cy="546.07" r="2.4" fill="none" stroke="#5b9ad6" stroke-width="0.8"/><circle cx="385.54" cy="548.81" r="2.4" fill="none" stroke="#5b9ad6" stroke-width="0.8"/><circle cx="386.56" cy="548.51" r="2.4" fill="none" stroke="#5b9ad6" stroke-width="0.8"/><circle cx="387.57" cy="550.12" r="2.4" fill="none" stroke="#5b9ad6" stroke-width="0.8"/><circle cx="388.58" cy="550.75" r="2.4" fill="none" stroke="#5b9ad6" stroke-width="0.8"/><circle cx="389.59" cy="552.09" r="2.4" fill="none" stroke="#5b9ad6" stroke-width="0.8"/><circle cx="390.6" cy="553.48" r="2.4" fill="none" stroke="#5b9ad6" stroke-width="0.8"/><circle cx="391.62" cy="522.15" r="2.4" fill="none" stroke="#5b9ad6" stroke-width="0.8"/><circle cx="392.63" cy="543.44" r="2.4" fill="none" stroke="#5b9ad6" stroke-width="0.8"/><circle cx="393.64" cy="544.6" r="2.4" fill="none" stroke="#5b9ad6" stroke-width="0.8"/><circle cx="394.65" cy="546.75" r="2.4" fill="none" stroke="#5b9ad6" stroke-width="0.8"/><circle cx="395.66" cy="553.56" r="2.4" fill="none" stroke="#5b9ad6" stroke-width="0.8"/><circle cx="396.68" cy="548.53" r="2.4" fill="none" stroke="#5b9ad6" stroke-width="0.8"/><circle cx="397.69" cy="556.1" r="2.4" fill="none" stroke="#5b9ad6" stroke-width="0.8"/><circle cx="398.7" cy="549.84" r="2.4" fill="none" stroke="#5b9ad6" stroke-width="0.8"/><circle cx="399.71" cy="556.08" r="2.4" fill="none" stroke="#5b9ad6" stroke-width="0.8"/><circle cx="400.72" cy="552.38" r="2.4" fill="none" stroke="#5b9ad6" stroke-width="0.8"/><circle cx="401.74" cy="549.66" r="2.4" fill="none" stroke="#5b9ad6" stroke-width="0.8"/><circle cx="402.75" cy="543.72" r="2.4" fill="none" stroke="#5b9ad6" stroke-width="0.8"/><circle cx="403.76" cy="550.86" r="2.4" fill="none" stroke="#5b9ad6" stroke-width="0.8"/><circle cx="404.77" cy="555.27" r="2.4" fill="none" stroke="#5b9ad6" stroke-width="0.8"/><circle cx="405.78" cy="563.72" r="2.4" fill="none" stroke="#5b9ad6" stroke-width="0.8"/><circle cx="406.8" cy="550.33" r="2.4" fill="none" stroke="#5b9ad6" stroke-width="0.8"/><circle cx="407.81" cy="542.73" r="2.4" fill="none" stroke="#5b9ad6" stroke-width="0.8"/><circle cx="408.82" cy="548.04" r="2.4" fill="none" stroke="#5b9ad6" stroke-width="0.8"/><circle cx="409.83" cy="550.48" r="2.4" fill="none" stroke="#5b9ad6" stroke-width="0.8"/><circle cx="410.84" cy="549.24" r="2.4" fill="none" stroke="#5b9ad6" stroke-width="0.8"/><circle cx="411.86" cy="548.16" r="2.4" fill="none" stroke="#5b9ad6" stroke-width="0.8"/><circle cx="412.87" cy="555.4" r="2.4" fill="none" stroke="#5b9ad6" stroke-width="0.8"/><circle cx="413.88" cy="550.2" r="2.4" fill="none" stroke="#5b9ad6" stroke-width="0.8"/><circle cx="414.89" cy="544.15" r="2.4" fill="none" stroke="#5b9ad6" stroke-width="0.8"/><circle cx="415.9" cy="546.23" r="2.4" fill="none" stroke="#5b9ad6" stroke-width="0.8"/><circle cx="416.92" cy="548.79" r="2.4" fill="none" stroke="#5b9ad6" stroke-width="0.8"/><circle cx="417.93" cy="543.62" r="2.4" fill="none" stroke="#5b9ad6" stroke-width="0.8"/><circle cx="418.94" cy="558.14" r="2.4" fill="none" stroke="#5b9ad6" stroke-width="0.8"/><circle cx="419.95" cy="539.68" r="2.4" fill="none" stroke="#5b9ad6" stroke-width="0.8"/><circle cx="420.96" cy="554.84" r="2.4" fill="none" stroke="#5b9ad6" stroke-width="0.8"/><circle cx="421.98" cy="553.38" r="2.4" fill="none" stroke="#5b9ad6" stroke-width="0.8"/><circle cx="422.99" cy="541.12" r="2.4" fill="none" stroke="#5b9ad6" stroke-width="0.8"/><circle cx="424" cy="546.57" r="2.4" fill="none" stroke="#5b9ad6" stroke-width="0.8"/><circle cx="425.01" cy="549.29" r="2.4" fill="none" stroke="#5b9ad6" stroke-width="0.8"/><circle cx="426.02" cy="542.21" r="2.4" fill="none" stroke="#5b9ad6" stroke-width="0.8"/><circle cx="427.04" cy="556.78" r="2.4" fill="none" stroke="#5b9ad6" stroke-width="0.8"/><circle cx="428.05" cy="542.38" r="2.4" fill="none" stroke="#5b9ad6" stroke-width="0.8"/><circle cx="429.06" cy="531.16" r="2.4" fill="none" stroke="#5b9ad6" stroke-width="0.8"/><circle cx="430.07" cy="548.54" r="2.4" fill="none" stroke="#5b9ad6" stroke-width="0.8"/><circle cx="431.08" cy="547.71" r="2.4" fill="none" stroke="#5b9ad6" stroke-width="0.8"/><circle cx="432.1" cy="549.26" r="2.4" fill="none" stroke="#5b9ad6" stroke-width="0.8"/><circle cx="433.11" cy="540.01" r="2.4" fill="none" stroke="#5b9ad6" stroke-width="0.8"/><circle cx="434.12" cy="539.15" r="2.4" fill="none" stroke="#5b9ad6" stroke-width="0.8"/><circle cx="435.13" cy="546.72" r="2.4" fill="none" stroke="#5b9ad6" stroke-width="0.8"/><circle cx="436.14" cy="554.23" r="2.4" fill="none" stroke="#5b9ad6" stroke-width="0.8"/><circle cx="437.16" cy="546.2" r="2.4" fill="none" stroke="#5b9ad6" stroke-width="0.8"/><circle cx="438.17" cy="548" r="2.4" fill="none" stroke="#5b9ad6" stroke-width="0.8"/><circle cx="439.18" cy="558.01" r="2.4" fill="none" stroke="#5b9ad6" stroke-width="0.8"/><circle cx="440.19" cy="534.6" r="2.4" fill="none" stroke="#5b9ad6" stroke-width="0.8"/><circle cx="441.2" cy="551.38" r="2.4" fill="none" stroke="#5b9ad6" stroke-width="0.8"/><circle cx="442.22" cy="538" r="2.4" fill="none" stroke="#5b9ad6" stroke-width="0.8"/><circle cx="443.23" cy="560.82" r="2.4" fill="none" stroke="#5b9ad6" stroke-width="0.8"/><circle cx="444.24" cy="543.61" r="2.4" fill="none" stroke="#5b9ad6" stroke-width="0.8"/><circle cx="445.25" cy="554.85" r="2.4" fill="none" stroke="#5b9ad6" stroke-width="0.8"/><circle cx="446.26" cy="541.44" r="2.4" fill="none" stroke="#5b9ad6" stroke-width="0.8"/><circle cx="447.28" cy="545.18" r="2.4" fill="none" stroke="#5b9ad6" stroke-width="0.8"/><circle cx="448.29" cy="561.79" r="2.4" fill="none" stroke="#5b9ad6" stroke-width="0.8"/><circle cx="449.3" cy="560.9" r="2.4" fill="none" stroke="#5b9ad6" stroke-width="0.8"/><circle cx="450.31" cy="553.51" r="2.4" fill="none" stroke="#5b9ad6" stroke-width="0.8"/><circle cx="451.32" cy="555.84" r="2.4" fill="none" stroke="#5b9ad6" stroke-width="0.8"/><circle cx="452.34" cy="539.68" r="2.4" fill="none" stroke="#5b9ad6" stroke-width="0.8"/><circle cx="453.35" cy="543.13" r="2.4" fill="none" stroke="#5b9ad6" stroke-width="0.8"/><circle cx="454.36" cy="544.57" r="2.4" fill="none" stroke="#5b9ad6" stroke-width="0.8"/><circle cx="455.37" cy="547.45" r="2.4" fill="none" stroke="#5b9ad6" stroke-width="0.8"/><circle cx="456.38" cy="537.43" r="2.4" fill="none" stroke="#5b9ad6" stroke-width="0.8"/><circle cx="457.4" cy="545.3" r="2.4" fill="none" stroke="#5b9ad6" stroke-width="0.8"/><circle cx="458.41" cy="539.61" r="2.4" fill="none" stroke="#5b9ad6" stroke-width="0.8"/><circle cx="459.42" cy="551.71" r="2.4" fill="none" stroke="#5b9ad6" stroke-width="0.8"/><circle cx="460.43" cy="538.6" r="2.4" fill="none" stroke="#5b9ad6" stroke-width="0.8"/><circle cx="461.44" cy="542.37" r="2.4" fill="none" stroke="#5b9ad6" stroke-width="0.8"/><circle cx="462.46" cy="543.33" r="2.4" fill="none" stroke="#5b9ad6" stroke-width="0.8"/><circle cx="463.47" cy="538.6" r="2.4" fill="none" stroke="#5b9ad6" stroke-width="0.8"/><circle cx="464.48" cy="555.82" r="2.4" fill="none" stroke="#5b9ad6" stroke-width="0.8"/><circle cx="465.49" cy="563.35" r="2.4" fill="none" stroke="#5b9ad6" stroke-width="0.8"/><circle cx="466.5" cy="545.77" r="2.4" fill="none" stroke="#5b9ad6" stroke-width="0.8"/><circle cx="467.52" cy="543.96" r="2.4" fill="none" stroke="#5b9ad6" stroke-width="0.8"/><circle cx="468.53" cy="549.51" r="2.4" fill="none" stroke="#5b9ad6" stroke-width="0.8"/><circle cx="469.54" cy="545.82" r="2.4" fill="none" stroke="#5b9ad6" stroke-width="0.8"/><circle cx="470.55" cy="539.18" r="2.4" fill="none" stroke="#5b9ad6" stroke-width="0.8"/><circle cx="471.56" cy="551.61" r="2.4" fill="none" stroke="#5b9ad6" stroke-width="0.8"/><circle cx="472.58" cy="542.1" r="2.4" fill="none" stroke="#5b9ad6" stroke-width="0.8"/><circle cx="473.59" cy="543.42" r="2.4" fill="none" stroke="#5b9ad6" stroke-width="0.8"/><circle cx="474.6" cy="533.74" r="2.4" fill="none" stroke="#5b9ad6" stroke-width="0.8"/><circle cx="475.61" cy="537.91" r="2.4" fill="none" stroke="#5b9ad6" stroke-width="0.8"/><circle cx="476.62" cy="548.66" r="2.4" fill="none" stroke="#5b9ad6" stroke-width="0.8"/><circle cx="477.64" cy="547.96" r="2.4" fill="none" stroke="#5b9ad6" stroke-width="0.8"/><circle cx="478.65" cy="548.72" r="2.4" fill="none" stroke="#5b9ad6" stroke-width="0.8"/><circle cx="479.66" cy="554.57" r="2.4" fill="none" stroke="#5b9ad6" stroke-width="0.8"/><circle cx="480.67" cy="555.52" r="2.4" fill="none" stroke="#5b9ad6" stroke-width="0.8"/><circle cx="481.68" cy="558.17" r="2.4" fill="none" stroke="#5b9ad6" stroke-width="0.8"/><circle cx="482.7" cy="540.53" r="2.4" fill="none" stroke="#5b9ad6" stroke-width="0.8"/><circle cx="483.71" cy="544.37" r="2.4" fill="none" stroke="#5b9ad6" stroke-width="0.8"/><circle cx="484.72" cy="543.58" r="2.4" fill="none" stroke="#5b9ad6" stroke-width="0.8"/><circle cx="485.73" cy="549.88" r="2.4" fill="none" stroke="#5b9ad6" stroke-width="0.8"/><circle cx="486.74" cy="548.3" r="2.4" fill="none" stroke="#5b9ad6" stroke-width="0.8"/><circle cx="487.76" cy="537.91" r="2.4" fill="none" stroke="#5b9ad6" stroke-width="0.8"/><circle cx="488.77" cy="536.28" r="2.4" fill="none" stroke="#5b9ad6" stroke-width="0.8"/><circle cx="489.78" cy="543.76" r="2.4" fill="none" stroke="#5b9ad6" stroke-width="0.8"/><circle cx="490.79" cy="542.92" r="2.4" fill="none" stroke="#5b9ad6" stroke-width="0.8"/><circle cx="491.8" cy="564.31" r="2.4" fill="none" stroke="#5b9ad6" stroke-width="0.8"/><circle cx="492.82" cy="543.75" r="2.4" fill="none" stroke="#5b9ad6" stroke-width="0.8"/><circle cx="493.83" cy="556.3" r="2.4" fill="none" stroke="#5b9ad6" stroke-width="0.8"/><circle cx="494.84" cy="556.71" r="2.4" fill="none" stroke="#5b9ad6" stroke-width="0.8"/><circle cx="495.85" cy="546.2" r="2.4" fill="none" stroke="#5b9ad6" stroke-width="0.8"/><circle cx="496.86" cy="560.88" r="2.4" fill="none" stroke="#5b9ad6" stroke-width="0.8"/><circle cx="497.88" cy="562.75" r="2.4" fill="none" stroke="#5b9ad6" stroke-width="0.8"/><circle cx="498.89" cy="543.65" r="2.4" fill="none" stroke="#5b9ad6" stroke-width="0.8"/><circle cx="499.9" cy="541.68" r="2.4" fill="none" stroke="#5b9ad6" stroke-width="0.8"/><circle cx="500.91" cy="553.32" r="2.4" fill="none" stroke="#5b9ad6" stroke-width="0.8"/><circle cx="501.92" cy="546.72" r="2.4" fill="none" stroke="#5b9ad6" stroke-width="0.8"/><circle cx="502.94" cy="542.06" r="2.4" fill="none" stroke="#5b9ad6" stroke-width="0.8"/><circle cx="503.95" cy="537.89" r="2.4" fill="none" stroke="#5b9ad6" stroke-width="0.8"/><circle cx="504.96" cy="557.51" r="2.4" fill="none" stroke="#5b9ad6" stroke-width="0.8"/><circle cx="505.97" cy="553.76" r="2.4" fill="none" stroke="#5b9ad6" stroke-width="0.8"/><circle cx="506.98" cy="548.7" r="2.4" fill="none" stroke="#5b9ad6" stroke-width="0.8"/><circle cx="508" cy="540.38" r="2.4" fill="none" stroke="#5b9ad6" stroke-width="0.8"/><circle cx="509.01" cy="546.18" r="2.4" fill="none" stroke="#5b9ad6" stroke-width="0.8"/><circle cx="510.02" cy="544.97" r="2.4" fill="none" stroke="#5b9ad6" stroke-width="0.8"/><circle cx="511.03" cy="541.66" r="2.4" fill="none" stroke="#5b9ad6" stroke-width="0.8"/><circle cx="512.04" cy="540.78" r="2.4" fill="none" stroke="#5b9ad6" stroke-width="0.8"/><circle cx="513.06" cy="543.12" r="2.4" fill="none" stroke="#5b9ad6" stroke-width="0.8"/><circle cx="514.07" cy="555.76" r="2.4" fill="none" stroke="#5b9ad6" stroke-width="0.8"/><circle cx="515.08" cy="547.81" r="2.4" fill="none" stroke="#5b9ad6" stroke-width="0.8"/><circle cx="516.09" cy="551.11" r="2.4" fill="none" stroke="#5b9ad6" stroke-width="0.8"/><circle cx="517.1" cy="552.14" r="2.4" fill="none" stroke="#5b9ad6" stroke-width="0.8"/><circle cx="518.12" cy="548.78" r="2.4" fill="none" stroke="#5b9ad6" stroke-width="0.8"/><circle cx="519.13" cy="553.55" r="2.4" fill="none" stroke="#5b9ad6" stroke-width="0.8"/><circle cx="520.14" cy="549.16" r="2.4" fill="none" stroke="#5b9ad6" stroke-width="0.8"/><circle cx="521.15" cy="548.71" r="2.4" fill="none" stroke="#5b9ad6" stroke-width="0.8"/><circle cx="522.16" cy="532.73" r="2.4" fill="none" stroke="#5b9ad6" stroke-width="0.8"/><circle cx="523.18" cy="553.3" r="2.4" fill="none" stroke="#5b9ad6" stroke-width="0.8"/><circle cx="524.19" cy="549.9" r="2.4" fill="none" stroke="#5b9ad6" stroke-width="0.8"/><circle cx="525.2" cy="554.03" r="2.4" fill="none" stroke="#5b9ad6" stroke-width="0.8"/><circle cx="526.21" cy="547.99" r="2.4" fill="none" stroke="#5b9ad6" stroke-width="0.8"/><circle cx="527.22" cy="546.38" r="2.4" fill="none" stroke="#5b9ad6" stroke-width="0.8"/><circle cx="528.24" cy="555.08" r="2.4" fill="none" stroke="#5b9ad6" stroke-width="0.8"/><circle cx="529.25" cy="543.21" r="2.4" fill="none" stroke="#5b9ad6" stroke-width="0.8"/><circle cx="530.26" cy="556.17" r="2.4" fill="none" stroke="#5b9ad6" stroke-width="0.8"/><circle cx="531.27" cy="553.88" r="2.4" fill="none" stroke="#5b9ad6" stroke-width="0.8"/><circle cx="532.28" cy="556.11" r="2.4" fill="none" stroke="#5b9ad6" stroke-width="0.8"/><circle cx="533.3" cy="550.49" r="2.4" fill="none" stroke="#5b9ad6" stroke-width="0.8"/><circle cx="534.31" cy="549.63" r="2.4" fill="none" stroke="#5b9ad6" stroke-width="0.8"/><circle cx="535.32" cy="545.93" r="2.4" fill="none" stroke="#5b9ad6" stroke-width="0.8"/><circle cx="536.33" cy="557.65" r="2.4" fill="none" stroke="#5b9ad6" stroke-width="0.8"/><circle cx="537.34" cy="547.01" r="2.4" fill="none" stroke="#5b9ad6" stroke-width="0.8"/><circle cx="538.36" cy="540.28" r="2.4" fill="none" stroke="#5b9ad6" stroke-width="0.8"/><circle cx="539.37" cy="538.67" r="2.4" fill="none" stroke="#5b9ad6" stroke-width="0.8"/><circle cx="540.38" cy="551.41" r="2.4" fill="none" stroke="#5b9ad6" stroke-width="0.8"/><circle cx="541.39" cy="556.45" r="2.4" fill="none" stroke="#5b9ad6" stroke-width="0.8"/><circle cx="542.4" cy="551.1" r="2.4" fill="none" stroke="#5b9ad6" stroke-width="0.8"/><circle cx="543.42" cy="540.94" r="2.4" fill="none" stroke="#5b9ad6" stroke-width="0.8"/><circle cx="544.43" cy="544.9" r="2.4" fill="none" stroke="#5b9ad6" stroke-width="0.8"/><circle cx="545.44" cy="557.46" r="2.4" fill="none" stroke="#5b9ad6" stroke-width="0.8"/><circle cx="546.45" cy="544.25" r="2.4" fill="none" stroke="#5b9ad6" stroke-width="0.8"/><circle cx="547.46" cy="550.86" r="2.4" fill="none" stroke="#5b9ad6" stroke-width="0.8"/><circle cx="548.48" cy="545.38" r="2.4" fill="none" stroke="#5b9ad6" stroke-width="0.8"/><circle cx="549.49" cy="545.27" r="2.4" fill="none" stroke="#5b9ad6" stroke-width="0.8"/><circle cx="550.5" cy="552.62" r="2.4" fill="none" stroke="#5b9ad6" stroke-width="0.8"/><circle cx="551.51" cy="547.2" r="2.4" fill="none" stroke="#5b9ad6" stroke-width="0.8"/><circle cx="552.52" cy="540.98" r="2.4" fill="none" stroke="#5b9ad6" stroke-width="0.8"/><circle cx="553.54" cy="538.2" r="2.4" fill="none" stroke="#5b9ad6" stroke-width="0.8"/><circle cx="554.55" cy="552.07" r="2.4" fill="none" stroke="#5b9ad6" stroke-width="0.8"/><circle cx="555.56" cy="546.37" r="2.4" fill="none" stroke="#5b9ad6" stroke-width="0.8"/><circle cx="556.57" cy="545.92" r="2.4" fill="none" stroke="#5b9ad6" stroke-width="0.8"/><circle cx="557.58" cy="550.83" r="2.4" fill="none" stroke="#5b9ad6" stroke-width="0.8"/><circle cx="558.6" cy="548.35" r="2.4" fill="none" stroke="#5b9ad6" stroke-width="0.8"/><circle cx="559.61" cy="547.86" r="2.4" fill="none" stroke="#5b9ad6" stroke-width="0.8"/><circle cx="560.62" cy="544.96" r="2.4" fill="none" stroke="#5b9ad6" stroke-width="0.8"/><circle cx="561.63" cy="538.8" r="2.4" fill="none" stroke="#5b9ad6" stroke-width="0.8"/><circle cx="562.64" cy="559.28" r="2.4" fill="none" stroke="#5b9ad6" stroke-width="0.8"/><circle cx="563.66" cy="541.44" r="2.4" fill="none" stroke="#5b9ad6" stroke-width="0.8"/><circle cx="564.67" cy="555.79" r="2.4" fill="none" stroke="#5b9ad6" stroke-width="0.8"/><circle cx="565.68" cy="542.92" r="2.4" fill="none" stroke="#5b9ad6" stroke-width="0.8"/><circle cx="566.69" cy="546.96" r="2.4" fill="none" stroke="#5b9ad6" stroke-width="0.8"/><circle cx="567.7" cy="547.39" r="2.4" fill="none" stroke="#5b9ad6" stroke-width="0.8"/><circle cx="568.72" cy="550.11" r="2.4" fill="none" stroke="#5b9ad6" stroke-width="0.8"/><circle cx="569.73" cy="560.77" r="2.4" fill="none" stroke="#5b9ad6" stroke-width="0.8"/><circle cx="570.74" cy="548.21" r="2.4" fill="none" stroke="#5b9ad6" stroke-width="0.8"/><circle cx="571.75" cy="548.6" r="2.4" fill="none" stroke="#5b9ad6" stroke-width="0.8"/><circle cx="572.76" cy="541.91" r="2.4" fill="none" stroke="#5b9ad6" stroke-width="0.8"/><circle cx="573.78" cy="555.03" r="2.4" fill="none" stroke="#5b9ad6" stroke-width="0.8"/><circle cx="574.79" cy="556" r="2.4" fill="none" stroke="#5b9ad6" stroke-width="0.8"/><circle cx="575.8" cy="541.3" r="2.4" fill="none" stroke="#5b9ad6" stroke-width="0.8"/><circle cx="576.81" cy="538.23" r="2.4" fill="none" stroke="#5b9ad6" stroke-width="0.8"/><circle cx="577.82" cy="544.76" r="2.4" fill="none" stroke="#5b9ad6" stroke-width="0.8"/><circle cx="578.84" cy="546.29" r="2.4" fill="none" stroke="#5b9ad6" stroke-width="0.8"/><circle cx="579.85" cy="550.19" r="2.4" fill="none" stroke="#5b9ad6" stroke-width="0.8"/><circle cx="580.86" cy="544.06" r="2.4" fill="none" stroke="#5b9ad6" stroke-width="0.8"/><circle cx="581.87" cy="554.58" r="2.4" fill="none" stroke="#5b9ad6" stroke-width="0.8"/><circle cx="582.88" cy="546.56" r="2.4" fill="none" stroke="#5b9ad6" stroke-width="0.8"/><circle cx="583.9" cy="550.26" r="2.4" fill="none" stroke="#5b9ad6" stroke-width="0.8"/><circle cx="584.91" cy="561.03" r="2.4" fill="none" stroke="#5b9ad6" stroke-width="0.8"/><circle cx="585.92" cy="546.46" r="2.4" fill="none" stroke="#5b9ad6" stroke-width="0.8"/><circle cx="586.93" cy="561.99" r="2.4" fill="none" stroke="#5b9ad6" stroke-width="0.8"/><circle cx="587.94" cy="548.51" r="2.4" fill="none" stroke="#5b9ad6" stroke-width="0.8"/><circle cx="588.96" cy="538.15" r="2.4" fill="none" stroke="#5b9ad6" stroke-width="0.8"/><circle cx="589.97" cy="545.15" r="2.4" fill="none" stroke="#5b9ad6" stroke-width="0.8"/><circle cx="590.98" cy="561.24" r="2.4" fill="none" stroke="#5b9ad6" stroke-width="0.8"/><circle cx="591.99" cy="561.38" r="2.4" fill="none" stroke="#5b9ad6" stroke-width="0.8"/><circle cx="593" cy="541.27" r="2.4" fill="none" stroke="#5b9ad6" stroke-width="0.8"/><circle cx="594.02" cy="557.61" r="2.4" fill="none" stroke="#5b9ad6" stroke-width="0.8"/><circle cx="595.03" cy="537.02" r="2.4" fill="none" stroke="#5b9ad6" stroke-width="0.8"/><circle cx="596.04" cy="549.55" r="2.4" fill="none" stroke="#5b9ad6" stroke-width="0.8"/><circle cx="597.05" cy="550.58" r="2.4" fill="none" stroke="#5b9ad6" stroke-width="0.8"/><circle cx="598.06" cy="537.93" r="2.4" fill="none" stroke="#5b9ad6" stroke-width="0.8"/><circle cx="599.08" cy="554.33" r="2.4" fill="none" stroke="#5b9ad6" stroke-width="0.8"/><circle cx="600.09" cy="565.15" r="2.4" fill="none" stroke="#5b9ad6" stroke-width="0.8"/><circle cx="601.1" cy="553.27" r="2.4" fill="none" stroke="#5b9ad6" stroke-width="0.8"/><circle cx="602.11" cy="538.9" r="2.4" fill="none" stroke="#5b9ad6" stroke-width="0.8"/><circle cx="603.12" cy="556.59" r="2.4" fill="none" stroke="#5b9ad6" stroke-width="0.8"/><circle cx="604.14" cy="547.38" r="2.4" fill="none" stroke="#5b9ad6" stroke-width="0.8"/><circle cx="605.15" cy="559.38" r="2.4" fill="none" stroke="#5b9ad6" stroke-width="0.8"/><circle cx="606.16" cy="541.45" r="2.4" fill="none" stroke="#5b9ad6" stroke-width="0.8"/><circle cx="607.17" cy="542.16" r="2.4" fill="none" stroke="#5b9ad6" stroke-width="0.8"/><circle cx="608.18" cy="540.06" r="2.4" fill="none" stroke="#5b9ad6" stroke-width="0.8"/><circle cx="609.2" cy="548.01" r="2.4" fill="none" stroke="#5b9ad6" stroke-width="0.8"/><circle cx="610.21" cy="543.29" r="2.4" fill="none" stroke="#5b9ad6" stroke-width="0.8"/><circle cx="611.22" cy="538.73" r="2.4" fill="none" stroke="#5b9ad6" stroke-width="0.8"/><circle cx="612.23" cy="544.28" r="2.4" fill="none" stroke="#5b9ad6" stroke-width="0.8"/><circle cx="613.24" cy="550.74" r="2.4" fill="none" stroke="#5b9ad6" stroke-width="0.8"/><circle cx="614.26" cy="553.65" r="2.4" fill="none" stroke="#5b9ad6" stroke-width="0.8"/><circle cx="615.27" cy="550.49" r="2.4" fill="none" stroke="#5b9ad6" stroke-width="0.8"/><circle cx="616.28" cy="540.28" r="2.4" fill="none" stroke="#5b9ad6" stroke-width="0.8"/><circle cx="617.29" cy="549.54" r="2.4" fill="none" stroke="#5b9ad6" stroke-width="0.8"/><circle cx="618.3" cy="543.72" r="2.4" fill="none" stroke="#5b9ad6" stroke-width="0.8"/><circle cx="619.32" cy="539.49" r="2.4" fill="none" stroke="#5b9ad6" stroke-width="0.8"/><circle cx="620.33" cy="556.57" r="2.4" fill="none" stroke="#5b9ad6" stroke-width="0.8"/><circle cx="621.34" cy="546.57" r="2.4" fill="none" stroke="#5b9ad6" stroke-width="0.8"/><circle cx="622.35" cy="552.21" r="2.4" fill="none" stroke="#5b9ad6" stroke-width="0.8"/><circle cx="623.36" cy="547.07" r="2.4" fill="none" stroke="#5b9ad6" stroke-width="0.8"/><circle cx="624.38" cy="541.41" r="2.4" fill="none" stroke="#5b9ad6" stroke-width="0.8"/><circle cx="625.39" cy="541.91" r="2.4" fill="none" stroke="#5b9ad6" stroke-width="0.8"/><circle cx="626.4" cy="543.58" r="2.4" fill="none" stroke="#5b9ad6" stroke-width="0.8"/><circle cx="627.41" cy="543.34" r="2.4" fill="none" stroke="#5b9ad6" stroke-width="0.8"/><circle cx="628.42" cy="559.64" r="2.4" fill="none" stroke="#5b9ad6" stroke-width="0.8"/><circle cx="629.44" cy="553.22" r="2.4" fill="none" stroke="#5b9ad6" stroke-width="0.8"/><circle cx="630.45" cy="544.56" r="2.4" fill="none" stroke="#5b9ad6" stroke-width="0.8"/><circle cx="631.46" cy="542.69" r="2.4" fill="none" stroke="#5b9ad6" stroke-width="0.8"/><circle cx="632.47" cy="544.45" r="2.4" fill="none" stroke="#5b9ad6" stroke-width="0.8"/></g>
<g opacity="0.42"><circle cx="323.81" cy="591.05" r="2.4" fill="none" stroke="#e5535b" stroke-width="0.8"/><circle cx="324.82" cy="576.44" r="2.4" fill="none" stroke="#e5535b" stroke-width="0.8"/><circle cx="325.84" cy="565.2" r="2.4" fill="none" stroke="#e5535b" stroke-width="0.8"/><circle cx="326.85" cy="557.33" r="2.4" fill="none" stroke="#e5535b" stroke-width="0.8"/><circle cx="327.86" cy="552.84" r="2.4" fill="none" stroke="#e5535b" stroke-width="0.8"/><circle cx="328.87" cy="543.9" r="2.4" fill="none" stroke="#e5535b" stroke-width="0.8"/><circle cx="329.88" cy="540.18" r="2.4" fill="none" stroke="#e5535b" stroke-width="0.8"/><circle cx="330.9" cy="546.65" r="2.4" fill="none" stroke="#e5535b" stroke-width="0.8"/><circle cx="331.91" cy="536.81" r="2.4" fill="none" stroke="#e5535b" stroke-width="0.8"/><circle cx="332.92" cy="541.54" r="2.4" fill="none" stroke="#e5535b" stroke-width="0.8"/><circle cx="333.93" cy="547.78" r="2.4" fill="none" stroke="#e5535b" stroke-width="0.8"/><circle cx="334.94" cy="541.77" r="2.4" fill="none" stroke="#e5535b" stroke-width="0.8"/><circle cx="335.96" cy="544.94" r="2.4" fill="none" stroke="#e5535b" stroke-width="0.8"/><circle cx="336.97" cy="547.84" r="2.4" fill="none" stroke="#e5535b" stroke-width="0.8"/><circle cx="337.98" cy="546.21" r="2.4" fill="none" stroke="#e5535b" stroke-width="0.8"/><circle cx="338.99" cy="542.67" r="2.4" fill="none" stroke="#e5535b" stroke-width="0.8"/><circle cx="340" cy="552.81" r="2.4" fill="none" stroke="#e5535b" stroke-width="0.8"/><circle cx="341.02" cy="550.76" r="2.4" fill="none" stroke="#e5535b" stroke-width="0.8"/><circle cx="342.03" cy="540.57" r="2.4" fill="none" stroke="#e5535b" stroke-width="0.8"/><circle cx="343.04" cy="538.09" r="2.4" fill="none" stroke="#e5535b" stroke-width="0.8"/><circle cx="344.05" cy="548.91" r="2.4" fill="none" stroke="#e5535b" stroke-width="0.8"/><circle cx="345.06" cy="547.24" r="2.4" fill="none" stroke="#e5535b" stroke-width="0.8"/><circle cx="346.08" cy="540.73" r="2.4" fill="none" stroke="#e5535b" stroke-width="0.8"/><circle cx="347.09" cy="543.19" r="2.4" fill="none" stroke="#e5535b" stroke-width="0.8"/><circle cx="348.1" cy="539.79" r="2.4" fill="none" stroke="#e5535b" stroke-width="0.8"/><circle cx="349.11" cy="542.5" r="2.4" fill="none" stroke="#e5535b" stroke-width="0.8"/><circle cx="350.12" cy="546.35" r="2.4" fill="none" stroke="#e5535b" stroke-width="0.8"/><circle cx="351.14" cy="539.36" r="2.4" fill="none" stroke="#e5535b" stroke-width="0.8"/><circle cx="352.15" cy="545.47" r="2.4" fill="none" stroke="#e5535b" stroke-width="0.8"/><circle cx="353.16" cy="548.77" r="2.4" fill="none" stroke="#e5535b" stroke-width="0.8"/><circle cx="354.17" cy="546.58" r="2.4" fill="none" stroke="#e5535b" stroke-width="0.8"/><circle cx="355.18" cy="541.29" r="2.4" fill="none" stroke="#e5535b" stroke-width="0.8"/><circle cx="356.2" cy="548.9" r="2.4" fill="none" stroke="#e5535b" stroke-width="0.8"/><circle cx="357.21" cy="544.76" r="2.4" fill="none" stroke="#e5535b" stroke-width="0.8"/><circle cx="358.22" cy="542.45" r="2.4" fill="none" stroke="#e5535b" stroke-width="0.8"/><circle cx="359.23" cy="545.67" r="2.4" fill="none" stroke="#e5535b" stroke-width="0.8"/><circle cx="360.24" cy="548.8" r="2.4" fill="none" stroke="#e5535b" stroke-width="0.8"/><circle cx="361.26" cy="541.03" r="2.4" fill="none" stroke="#e5535b" stroke-width="0.8"/><circle cx="362.27" cy="547.99" r="2.4" fill="none" stroke="#e5535b" stroke-width="0.8"/><circle cx="363.28" cy="544.66" r="2.4" fill="none" stroke="#e5535b" stroke-width="0.8"/><circle cx="364.29" cy="546.99" r="2.4" fill="none" stroke="#e5535b" stroke-width="0.8"/><circle cx="365.3" cy="544.71" r="2.4" fill="none" stroke="#e5535b" stroke-width="0.8"/><circle cx="366.32" cy="542.39" r="2.4" fill="none" stroke="#e5535b" stroke-width="0.8"/><circle cx="367.33" cy="540.17" r="2.4" fill="none" stroke="#e5535b" stroke-width="0.8"/><circle cx="368.34" cy="549.15" r="2.4" fill="none" stroke="#e5535b" stroke-width="0.8"/><circle cx="369.35" cy="544.77" r="2.4" fill="none" stroke="#e5535b" stroke-width="0.8"/><circle cx="370.36" cy="547.58" r="2.4" fill="none" stroke="#e5535b" stroke-width="0.8"/><circle cx="371.38" cy="544.91" r="2.4" fill="none" stroke="#e5535b" stroke-width="0.8"/><circle cx="372.39" cy="545.15" r="2.4" fill="none" stroke="#e5535b" stroke-width="0.8"/><circle cx="373.4" cy="545.17" r="2.4" fill="none" stroke="#e5535b" stroke-width="0.8"/><circle cx="374.41" cy="547.95" r="2.4" fill="none" stroke="#e5535b" stroke-width="0.8"/><circle cx="375.42" cy="547.12" r="2.4" fill="none" stroke="#e5535b" stroke-width="0.8"/><circle cx="376.44" cy="546.92" r="2.4" fill="none" stroke="#e5535b" stroke-width="0.8"/><circle cx="377.45" cy="548.14" r="2.4" fill="none" stroke="#e5535b" stroke-width="0.8"/><circle cx="378.46" cy="544.07" r="2.4" fill="none" stroke="#e5535b" stroke-width="0.8"/><circle cx="379.47" cy="553.14" r="2.4" fill="none" stroke="#e5535b" stroke-width="0.8"/><circle cx="380.48" cy="548.79" r="2.4" fill="none" stroke="#e5535b" stroke-width="0.8"/><circle cx="381.5" cy="542.15" r="2.4" fill="none" stroke="#e5535b" stroke-width="0.8"/><circle cx="382.51" cy="543.26" r="2.4" fill="none" stroke="#e5535b" stroke-width="0.8"/><circle cx="383.52" cy="541.58" r="2.4" fill="none" stroke="#e5535b" stroke-width="0.8"/><circle cx="384.53" cy="546.3" r="2.4" fill="none" stroke="#e5535b" stroke-width="0.8"/><circle cx="385.54" cy="541.93" r="2.4" fill="none" stroke="#e5535b" stroke-width="0.8"/><circle cx="386.56" cy="542.48" r="2.4" fill="none" stroke="#e5535b" stroke-width="0.8"/><circle cx="387.57" cy="551.63" r="2.4" fill="none" stroke="#e5535b" stroke-width="0.8"/><circle cx="388.58" cy="549.92" r="2.4" fill="none" stroke="#e5535b" stroke-width="0.8"/><circle cx="389.59" cy="542.97" r="2.4" fill="none" stroke="#e5535b" stroke-width="0.8"/><circle cx="390.6" cy="548.68" r="2.4" fill="none" stroke="#e5535b" stroke-width="0.8"/><circle cx="391.62" cy="546.59" r="2.4" fill="none" stroke="#e5535b" stroke-width="0.8"/><circle cx="392.63" cy="544.58" r="2.4" fill="none" stroke="#e5535b" stroke-width="0.8"/><circle cx="393.64" cy="544.98" r="2.4" fill="none" stroke="#e5535b" stroke-width="0.8"/><circle cx="394.65" cy="543.39" r="2.4" fill="none" stroke="#e5535b" stroke-width="0.8"/><circle cx="395.66" cy="542.74" r="2.4" fill="none" stroke="#e5535b" stroke-width="0.8"/><circle cx="396.68" cy="546.1" r="2.4" fill="none" stroke="#e5535b" stroke-width="0.8"/><circle cx="397.69" cy="543.43" r="2.4" fill="none" stroke="#e5535b" stroke-width="0.8"/><circle cx="398.7" cy="546.38" r="2.4" fill="none" stroke="#e5535b" stroke-width="0.8"/><circle cx="399.71" cy="542.57" r="2.4" fill="none" stroke="#e5535b" stroke-width="0.8"/><circle cx="400.72" cy="545.12" r="2.4" fill="none" stroke="#e5535b" stroke-width="0.8"/><circle cx="401.74" cy="551.62" r="2.4" fill="none" stroke="#e5535b" stroke-width="0.8"/><circle cx="402.75" cy="544.34" r="2.4" fill="none" stroke="#e5535b" stroke-width="0.8"/><circle cx="403.76" cy="549.72" r="2.4" fill="none" stroke="#e5535b" stroke-width="0.8"/><circle cx="404.77" cy="539.46" r="2.4" fill="none" stroke="#e5535b" stroke-width="0.8"/><circle cx="405.78" cy="543.85" r="2.4" fill="none" stroke="#e5535b" stroke-width="0.8"/><circle cx="406.8" cy="545.18" r="2.4" fill="none" stroke="#e5535b" stroke-width="0.8"/><circle cx="407.81" cy="547.17" r="2.4" fill="none" stroke="#e5535b" stroke-width="0.8"/><circle cx="408.82" cy="545.35" r="2.4" fill="none" stroke="#e5535b" stroke-width="0.8"/><circle cx="409.83" cy="541.86" r="2.4" fill="none" stroke="#e5535b" stroke-width="0.8"/><circle cx="410.84" cy="542.96" r="2.4" fill="none" stroke="#e5535b" stroke-width="0.8"/><circle cx="411.86" cy="535.15" r="2.4" fill="none" stroke="#e5535b" stroke-width="0.8"/><circle cx="412.87" cy="548.61" r="2.4" fill="none" stroke="#e5535b" stroke-width="0.8"/><circle cx="413.88" cy="548.81" r="2.4" fill="none" stroke="#e5535b" stroke-width="0.8"/><circle cx="414.89" cy="545.59" r="2.4" fill="none" stroke="#e5535b" stroke-width="0.8"/><circle cx="415.9" cy="542.28" r="2.4" fill="none" stroke="#e5535b" stroke-width="0.8"/><circle cx="416.92" cy="551.25" r="2.4" fill="none" stroke="#e5535b" stroke-width="0.8"/><circle cx="417.93" cy="547.45" r="2.4" fill="none" stroke="#e5535b" stroke-width="0.8"/><circle cx="418.94" cy="547.66" r="2.4" fill="none" stroke="#e5535b" stroke-width="0.8"/><circle cx="419.95" cy="542.84" r="2.4" fill="none" stroke="#e5535b" stroke-width="0.8"/><circle cx="420.96" cy="547.84" r="2.4" fill="none" stroke="#e5535b" stroke-width="0.8"/><circle cx="421.98" cy="542.58" r="2.4" fill="none" stroke="#e5535b" stroke-width="0.8"/><circle cx="422.99" cy="547.09" r="2.4" fill="none" stroke="#e5535b" stroke-width="0.8"/><circle cx="424" cy="543.82" r="2.4" fill="none" stroke="#e5535b" stroke-width="0.8"/><circle cx="425.01" cy="552.96" r="2.4" fill="none" stroke="#e5535b" stroke-width="0.8"/><circle cx="426.02" cy="549.04" r="2.4" fill="none" stroke="#e5535b" stroke-width="0.8"/><circle cx="427.04" cy="538.65" r="2.4" fill="none" stroke="#e5535b" stroke-width="0.8"/><circle cx="428.05" cy="548.93" r="2.4" fill="none" stroke="#e5535b" stroke-width="0.8"/><circle cx="429.06" cy="551.73" r="2.4" fill="none" stroke="#e5535b" stroke-width="0.8"/><circle cx="430.07" cy="540.18" r="2.4" fill="none" stroke="#e5535b" stroke-width="0.8"/><circle cx="431.08" cy="545.2" r="2.4" fill="none" stroke="#e5535b" stroke-width="0.8"/><circle cx="432.1" cy="545.2" r="2.4" fill="none" stroke="#e5535b" stroke-width="0.8"/><circle cx="433.11" cy="546.19" r="2.4" fill="none" stroke="#e5535b" stroke-width="0.8"/><circle cx="434.12" cy="542.92" r="2.4" fill="none" stroke="#e5535b" stroke-width="0.8"/><circle cx="435.13" cy="547.78" r="2.4" fill="none" stroke="#e5535b" stroke-width="0.8"/><circle cx="436.14" cy="545.05" r="2.4" fill="none" stroke="#e5535b" stroke-width="0.8"/><circle cx="437.16" cy="544.26" r="2.4" fill="none" stroke="#e5535b" stroke-width="0.8"/><circle cx="438.17" cy="544.68" r="2.4" fill="none" stroke="#e5535b" stroke-width="0.8"/><circle cx="439.18" cy="550.96" r="2.4" fill="none" stroke="#e5535b" stroke-width="0.8"/><circle cx="440.19" cy="551.34" r="2.4" fill="none" stroke="#e5535b" stroke-width="0.8"/><circle cx="441.2" cy="553.75" r="2.4" fill="none" stroke="#e5535b" stroke-width="0.8"/><circle cx="442.22" cy="553.56" r="2.4" fill="none" stroke="#e5535b" stroke-width="0.8"/><circle cx="443.23" cy="546.77" r="2.4" fill="none" stroke="#e5535b" stroke-width="0.8"/><circle cx="444.24" cy="549.8" r="2.4" fill="none" stroke="#e5535b" stroke-width="0.8"/><circle cx="445.25" cy="546.44" r="2.4" fill="none" stroke="#e5535b" stroke-width="0.8"/><circle cx="446.26" cy="553.09" r="2.4" fill="none" stroke="#e5535b" stroke-width="0.8"/><circle cx="447.28" cy="549.85" r="2.4" fill="none" stroke="#e5535b" stroke-width="0.8"/><circle cx="448.29" cy="551.3" r="2.4" fill="none" stroke="#e5535b" stroke-width="0.8"/><circle cx="449.3" cy="546.28" r="2.4" fill="none" stroke="#e5535b" stroke-width="0.8"/><circle cx="450.31" cy="550.14" r="2.4" fill="none" stroke="#e5535b" stroke-width="0.8"/><circle cx="451.32" cy="546.06" r="2.4" fill="none" stroke="#e5535b" stroke-width="0.8"/><circle cx="452.34" cy="547.05" r="2.4" fill="none" stroke="#e5535b" stroke-width="0.8"/><circle cx="453.35" cy="551.78" r="2.4" fill="none" stroke="#e5535b" stroke-width="0.8"/><circle cx="454.36" cy="544.35" r="2.4" fill="none" stroke="#e5535b" stroke-width="0.8"/><circle cx="455.37" cy="553.24" r="2.4" fill="none" stroke="#e5535b" stroke-width="0.8"/><circle cx="456.38" cy="553.55" r="2.4" fill="none" stroke="#e5535b" stroke-width="0.8"/><circle cx="457.4" cy="544.66" r="2.4" fill="none" stroke="#e5535b" stroke-width="0.8"/><circle cx="458.41" cy="552.87" r="2.4" fill="none" stroke="#e5535b" stroke-width="0.8"/><circle cx="459.42" cy="551.15" r="2.4" fill="none" stroke="#e5535b" stroke-width="0.8"/><circle cx="460.43" cy="545.28" r="2.4" fill="none" stroke="#e5535b" stroke-width="0.8"/><circle cx="461.44" cy="553.32" r="2.4" fill="none" stroke="#e5535b" stroke-width="0.8"/><circle cx="462.46" cy="547.81" r="2.4" fill="none" stroke="#e5535b" stroke-width="0.8"/><circle cx="463.47" cy="551.13" r="2.4" fill="none" stroke="#e5535b" stroke-width="0.8"/><circle cx="464.48" cy="550.37" r="2.4" fill="none" stroke="#e5535b" stroke-width="0.8"/><circle cx="465.49" cy="549.32" r="2.4" fill="none" stroke="#e5535b" stroke-width="0.8"/><circle cx="466.5" cy="543.78" r="2.4" fill="none" stroke="#e5535b" stroke-width="0.8"/><circle cx="467.52" cy="551.48" r="2.4" fill="none" stroke="#e5535b" stroke-width="0.8"/><circle cx="468.53" cy="542.92" r="2.4" fill="none" stroke="#e5535b" stroke-width="0.8"/><circle cx="469.54" cy="541.78" r="2.4" fill="none" stroke="#e5535b" stroke-width="0.8"/><circle cx="470.55" cy="547.91" r="2.4" fill="none" stroke="#e5535b" stroke-width="0.8"/><circle cx="471.56" cy="548.04" r="2.4" fill="none" stroke="#e5535b" stroke-width="0.8"/><circle cx="472.58" cy="544.23" r="2.4" fill="none" stroke="#e5535b" stroke-width="0.8"/><circle cx="473.59" cy="538.07" r="2.4" fill="none" stroke="#e5535b" stroke-width="0.8"/><circle cx="474.6" cy="547.32" r="2.4" fill="none" stroke="#e5535b" stroke-width="0.8"/><circle cx="475.61" cy="542.34" r="2.4" fill="none" stroke="#e5535b" stroke-width="0.8"/><circle cx="476.62" cy="551.93" r="2.4" fill="none" stroke="#e5535b" stroke-width="0.8"/><circle cx="477.64" cy="551.18" r="2.4" fill="none" stroke="#e5535b" stroke-width="0.8"/><circle cx="478.65" cy="547.45" r="2.4" fill="none" stroke="#e5535b" stroke-width="0.8"/><circle cx="479.66" cy="546.73" r="2.4" fill="none" stroke="#e5535b" stroke-width="0.8"/><circle cx="480.67" cy="545.74" r="2.4" fill="none" stroke="#e5535b" stroke-width="0.8"/><circle cx="481.68" cy="555.08" r="2.4" fill="none" stroke="#e5535b" stroke-width="0.8"/><circle cx="482.7" cy="548" r="2.4" fill="none" stroke="#e5535b" stroke-width="0.8"/><circle cx="483.71" cy="549.26" r="2.4" fill="none" stroke="#e5535b" stroke-width="0.8"/><circle cx="484.72" cy="542.09" r="2.4" fill="none" stroke="#e5535b" stroke-width="0.8"/><circle cx="485.73" cy="542.16" r="2.4" fill="none" stroke="#e5535b" stroke-width="0.8"/><circle cx="486.74" cy="542" r="2.4" fill="none" stroke="#e5535b" stroke-width="0.8"/><circle cx="487.76" cy="552.03" r="2.4" fill="none" stroke="#e5535b" stroke-width="0.8"/><circle cx="488.77" cy="539.2" r="2.4" fill="none" stroke="#e5535b" stroke-width="0.8"/><circle cx="489.78" cy="550.66" r="2.4" fill="none" stroke="#e5535b" stroke-width="0.8"/><circle cx="490.79" cy="546.32" r="2.4" fill="none" stroke="#e5535b" stroke-width="0.8"/><circle cx="491.8" cy="547" r="2.4" fill="none" stroke="#e5535b" stroke-width="0.8"/><circle cx="492.82" cy="542.84" r="2.4" fill="none" stroke="#e5535b" stroke-width="0.8"/><circle cx="493.83" cy="544.59" r="2.4" fill="none" stroke="#e5535b" stroke-width="0.8"/><circle cx="494.84" cy="549.42" r="2.4" fill="none" stroke="#e5535b" stroke-width="0.8"/><circle cx="495.85" cy="550.48" r="2.4" fill="none" stroke="#e5535b" stroke-width="0.8"/><circle cx="496.86" cy="550.46" r="2.4" fill="none" stroke="#e5535b" stroke-width="0.8"/><circle cx="497.88" cy="543.06" r="2.4" fill="none" stroke="#e5535b" stroke-width="0.8"/><circle cx="498.89" cy="543.56" r="2.4" fill="none" stroke="#e5535b" stroke-width="0.8"/><circle cx="499.9" cy="541.7" r="2.4" fill="none" stroke="#e5535b" stroke-width="0.8"/><circle cx="500.91" cy="548.64" r="2.4" fill="none" stroke="#e5535b" stroke-width="0.8"/><circle cx="501.92" cy="544" r="2.4" fill="none" stroke="#e5535b" stroke-width="0.8"/><circle cx="502.94" cy="550" r="2.4" fill="none" stroke="#e5535b" stroke-width="0.8"/><circle cx="503.95" cy="545.7" r="2.4" fill="none" stroke="#e5535b" stroke-width="0.8"/><circle cx="504.96" cy="546.86" r="2.4" fill="none" stroke="#e5535b" stroke-width="0.8"/><circle cx="505.97" cy="541.03" r="2.4" fill="none" stroke="#e5535b" stroke-width="0.8"/><circle cx="506.98" cy="541.98" r="2.4" fill="none" stroke="#e5535b" stroke-width="0.8"/><circle cx="508" cy="545.9" r="2.4" fill="none" stroke="#e5535b" stroke-width="0.8"/><circle cx="509.01" cy="548.41" r="2.4" fill="none" stroke="#e5535b" stroke-width="0.8"/><circle cx="510.02" cy="552.07" r="2.4" fill="none" stroke="#e5535b" stroke-width="0.8"/><circle cx="511.03" cy="543.46" r="2.4" fill="none" stroke="#e5535b" stroke-width="0.8"/><circle cx="512.04" cy="543.5" r="2.4" fill="none" stroke="#e5535b" stroke-width="0.8"/><circle cx="513.06" cy="547.04" r="2.4" fill="none" stroke="#e5535b" stroke-width="0.8"/><circle cx="514.07" cy="535.37" r="2.4" fill="none" stroke="#e5535b" stroke-width="0.8"/><circle cx="515.08" cy="546.33" r="2.4" fill="none" stroke="#e5535b" stroke-width="0.8"/><circle cx="516.09" cy="548.01" r="2.4" fill="none" stroke="#e5535b" stroke-width="0.8"/><circle cx="517.1" cy="542.29" r="2.4" fill="none" stroke="#e5535b" stroke-width="0.8"/><circle cx="518.12" cy="543.79" r="2.4" fill="none" stroke="#e5535b" stroke-width="0.8"/><circle cx="519.13" cy="542.41" r="2.4" fill="none" stroke="#e5535b" stroke-width="0.8"/><circle cx="520.14" cy="544.69" r="2.4" fill="none" stroke="#e5535b" stroke-width="0.8"/><circle cx="521.15" cy="542.94" r="2.4" fill="none" stroke="#e5535b" stroke-width="0.8"/><circle cx="522.16" cy="549.51" r="2.4" fill="none" stroke="#e5535b" stroke-width="0.8"/><circle cx="523.18" cy="550.47" r="2.4" fill="none" stroke="#e5535b" stroke-width="0.8"/><circle cx="524.19" cy="553.74" r="2.4" fill="none" stroke="#e5535b" stroke-width="0.8"/><circle cx="525.2" cy="540.96" r="2.4" fill="none" stroke="#e5535b" stroke-width="0.8"/><circle cx="526.21" cy="541.31" r="2.4" fill="none" stroke="#e5535b" stroke-width="0.8"/><circle cx="527.22" cy="542.69" r="2.4" fill="none" stroke="#e5535b" stroke-width="0.8"/><circle cx="528.24" cy="543.84" r="2.4" fill="none" stroke="#e5535b" stroke-width="0.8"/><circle cx="529.25" cy="545.56" r="2.4" fill="none" stroke="#e5535b" stroke-width="0.8"/><circle cx="530.26" cy="544.82" r="2.4" fill="none" stroke="#e5535b" stroke-width="0.8"/><circle cx="531.27" cy="541.9" r="2.4" fill="none" stroke="#e5535b" stroke-width="0.8"/><circle cx="532.28" cy="545.23" r="2.4" fill="none" stroke="#e5535b" stroke-width="0.8"/><circle cx="533.3" cy="538.79" r="2.4" fill="none" stroke="#e5535b" stroke-width="0.8"/><circle cx="534.31" cy="545.82" r="2.4" fill="none" stroke="#e5535b" stroke-width="0.8"/><circle cx="535.32" cy="545.57" r="2.4" fill="none" stroke="#e5535b" stroke-width="0.8"/><circle cx="536.33" cy="547.12" r="2.4" fill="none" stroke="#e5535b" stroke-width="0.8"/><circle cx="537.34" cy="542.45" r="2.4" fill="none" stroke="#e5535b" stroke-width="0.8"/><circle cx="538.36" cy="547.14" r="2.4" fill="none" stroke="#e5535b" stroke-width="0.8"/><circle cx="539.37" cy="547.16" r="2.4" fill="none" stroke="#e5535b" stroke-width="0.8"/><circle cx="540.38" cy="544.93" r="2.4" fill="none" stroke="#e5535b" stroke-width="0.8"/><circle cx="541.39" cy="548.98" r="2.4" fill="none" stroke="#e5535b" stroke-width="0.8"/><circle cx="542.4" cy="548.64" r="2.4" fill="none" stroke="#e5535b" stroke-width="0.8"/><circle cx="543.42" cy="547.44" r="2.4" fill="none" stroke="#e5535b" stroke-width="0.8"/><circle cx="544.43" cy="544.34" r="2.4" fill="none" stroke="#e5535b" stroke-width="0.8"/><circle cx="545.44" cy="546.11" r="2.4" fill="none" stroke="#e5535b" stroke-width="0.8"/><circle cx="546.45" cy="545.94" r="2.4" fill="none" stroke="#e5535b" stroke-width="0.8"/><circle cx="547.46" cy="551.91" r="2.4" fill="none" stroke="#e5535b" stroke-width="0.8"/><circle cx="548.48" cy="544.71" r="2.4" fill="none" stroke="#e5535b" stroke-width="0.8"/><circle cx="549.49" cy="545.74" r="2.4" fill="none" stroke="#e5535b" stroke-width="0.8"/><circle cx="550.5" cy="544.67" r="2.4" fill="none" stroke="#e5535b" stroke-width="0.8"/><circle cx="551.51" cy="542.5" r="2.4" fill="none" stroke="#e5535b" stroke-width="0.8"/><circle cx="552.52" cy="542.14" r="2.4" fill="none" stroke="#e5535b" stroke-width="0.8"/><circle cx="553.54" cy="549.34" r="2.4" fill="none" stroke="#e5535b" stroke-width="0.8"/><circle cx="554.55" cy="550.35" r="2.4" fill="none" stroke="#e5535b" stroke-width="0.8"/><circle cx="555.56" cy="544.86" r="2.4" fill="none" stroke="#e5535b" stroke-width="0.8"/><circle cx="556.57" cy="552.45" r="2.4" fill="none" stroke="#e5535b" stroke-width="0.8"/><circle cx="557.58" cy="546.14" r="2.4" fill="none" stroke="#e5535b" stroke-width="0.8"/><circle cx="558.6" cy="548.96" r="2.4" fill="none" stroke="#e5535b" stroke-width="0.8"/><circle cx="559.61" cy="544.93" r="2.4" fill="none" stroke="#e5535b" stroke-width="0.8"/><circle cx="560.62" cy="543.14" r="2.4" fill="none" stroke="#e5535b" stroke-width="0.8"/><circle cx="561.63" cy="540.8" r="2.4" fill="none" stroke="#e5535b" stroke-width="0.8"/><circle cx="562.64" cy="542.56" r="2.4" fill="none" stroke="#e5535b" stroke-width="0.8"/><circle cx="563.66" cy="543.16" r="2.4" fill="none" stroke="#e5535b" stroke-width="0.8"/><circle cx="564.67" cy="542.34" r="2.4" fill="none" stroke="#e5535b" stroke-width="0.8"/><circle cx="565.68" cy="543.19" r="2.4" fill="none" stroke="#e5535b" stroke-width="0.8"/><circle cx="566.69" cy="549.34" r="2.4" fill="none" stroke="#e5535b" stroke-width="0.8"/><circle cx="567.7" cy="550.82" r="2.4" fill="none" stroke="#e5535b" stroke-width="0.8"/><circle cx="568.72" cy="549.99" r="2.4" fill="none" stroke="#e5535b" stroke-width="0.8"/><circle cx="569.73" cy="548.31" r="2.4" fill="none" stroke="#e5535b" stroke-width="0.8"/><circle cx="570.74" cy="543.65" r="2.4" fill="none" stroke="#e5535b" stroke-width="0.8"/><circle cx="571.75" cy="542.81" r="2.4" fill="none" stroke="#e5535b" stroke-width="0.8"/><circle cx="572.76" cy="541.41" r="2.4" fill="none" stroke="#e5535b" stroke-width="0.8"/><circle cx="573.78" cy="544.78" r="2.4" fill="none" stroke="#e5535b" stroke-width="0.8"/><circle cx="574.79" cy="548.24" r="2.4" fill="none" stroke="#e5535b" stroke-width="0.8"/><circle cx="575.8" cy="542.46" r="2.4" fill="none" stroke="#e5535b" stroke-width="0.8"/><circle cx="576.81" cy="537.1" r="2.4" fill="none" stroke="#e5535b" stroke-width="0.8"/><circle cx="577.82" cy="543.2" r="2.4" fill="none" stroke="#e5535b" stroke-width="0.8"/><circle cx="578.84" cy="544.32" r="2.4" fill="none" stroke="#e5535b" stroke-width="0.8"/><circle cx="579.85" cy="547.34" r="2.4" fill="none" stroke="#e5535b" stroke-width="0.8"/><circle cx="580.86" cy="542.99" r="2.4" fill="none" stroke="#e5535b" stroke-width="0.8"/><circle cx="581.87" cy="549.16" r="2.4" fill="none" stroke="#e5535b" stroke-width="0.8"/><circle cx="582.88" cy="546.87" r="2.4" fill="none" stroke="#e5535b" stroke-width="0.8"/><circle cx="583.9" cy="549.6" r="2.4" fill="none" stroke="#e5535b" stroke-width="0.8"/><circle cx="584.91" cy="543.89" r="2.4" fill="none" stroke="#e5535b" stroke-width="0.8"/><circle cx="585.92" cy="546.06" r="2.4" fill="none" stroke="#e5535b" stroke-width="0.8"/><circle cx="586.93" cy="541.99" r="2.4" fill="none" stroke="#e5535b" stroke-width="0.8"/><circle cx="587.94" cy="549.85" r="2.4" fill="none" stroke="#e5535b" stroke-width="0.8"/><circle cx="588.96" cy="548.76" r="2.4" fill="none" stroke="#e5535b" stroke-width="0.8"/><circle cx="589.97" cy="555.84" r="2.4" fill="none" stroke="#e5535b" stroke-width="0.8"/><circle cx="590.98" cy="545.23" r="2.4" fill="none" stroke="#e5535b" stroke-width="0.8"/><circle cx="591.99" cy="545.62" r="2.4" fill="none" stroke="#e5535b" stroke-width="0.8"/><circle cx="593" cy="545.37" r="2.4" fill="none" stroke="#e5535b" stroke-width="0.8"/><circle cx="594.02" cy="540.39" r="2.4" fill="none" stroke="#e5535b" stroke-width="0.8"/><circle cx="595.03" cy="549.24" r="2.4" fill="none" stroke="#e5535b" stroke-width="0.8"/><circle cx="596.04" cy="547.86" r="2.4" fill="none" stroke="#e5535b" stroke-width="0.8"/><circle cx="597.05" cy="550.77" r="2.4" fill="none" stroke="#e5535b" stroke-width="0.8"/><circle cx="598.06" cy="546.87" r="2.4" fill="none" stroke="#e5535b" stroke-width="0.8"/><circle cx="599.08" cy="543.82" r="2.4" fill="none" stroke="#e5535b" stroke-width="0.8"/><circle cx="600.09" cy="544.07" r="2.4" fill="none" stroke="#e5535b" stroke-width="0.8"/><circle cx="601.1" cy="546.21" r="2.4" fill="none" stroke="#e5535b" stroke-width="0.8"/><circle cx="602.11" cy="541.66" r="2.4" fill="none" stroke="#e5535b" stroke-width="0.8"/><circle cx="603.12" cy="548.93" r="2.4" fill="none" stroke="#e5535b" stroke-width="0.8"/><circle cx="604.14" cy="546.61" r="2.4" fill="none" stroke="#e5535b" stroke-width="0.8"/><circle cx="605.15" cy="548.15" r="2.4" fill="none" stroke="#e5535b" stroke-width="0.8"/><circle cx="606.16" cy="541.6" r="2.4" fill="none" stroke="#e5535b" stroke-width="0.8"/><circle cx="607.17" cy="543.79" r="2.4" fill="none" stroke="#e5535b" stroke-width="0.8"/><circle cx="608.18" cy="543.99" r="2.4" fill="none" stroke="#e5535b" stroke-width="0.8"/><circle cx="609.2" cy="540.31" r="2.4" fill="none" stroke="#e5535b" stroke-width="0.8"/><circle cx="610.21" cy="546.14" r="2.4" fill="none" stroke="#e5535b" stroke-width="0.8"/><circle cx="611.22" cy="544.2" r="2.4" fill="none" stroke="#e5535b" stroke-width="0.8"/><circle cx="612.23" cy="542.35" r="2.4" fill="none" stroke="#e5535b" stroke-width="0.8"/><circle cx="613.24" cy="546.68" r="2.4" fill="none" stroke="#e5535b" stroke-width="0.8"/><circle cx="614.26" cy="541.88" r="2.4" fill="none" stroke="#e5535b" stroke-width="0.8"/><circle cx="615.27" cy="541.89" r="2.4" fill="none" stroke="#e5535b" stroke-width="0.8"/><circle cx="616.28" cy="550.25" r="2.4" fill="none" stroke="#e5535b" stroke-width="0.8"/><circle cx="617.29" cy="540.69" r="2.4" fill="none" stroke="#e5535b" stroke-width="0.8"/><circle cx="618.3" cy="544.88" r="2.4" fill="none" stroke="#e5535b" stroke-width="0.8"/><circle cx="619.32" cy="542.21" r="2.4" fill="none" stroke="#e5535b" stroke-width="0.8"/><circle cx="620.33" cy="546.55" r="2.4" fill="none" stroke="#e5535b" stroke-width="0.8"/><circle cx="621.34" cy="546.5" r="2.4" fill="none" stroke="#e5535b" stroke-width="0.8"/><circle cx="622.35" cy="543.68" r="2.4" fill="none" stroke="#e5535b" stroke-width="0.8"/><circle cx="623.36" cy="548.23" r="2.4" fill="none" stroke="#e5535b" stroke-width="0.8"/><circle cx="624.38" cy="538.39" r="2.4" fill="none" stroke="#e5535b" stroke-width="0.8"/><circle cx="625.39" cy="546.76" r="2.4" fill="none" stroke="#e5535b" stroke-width="0.8"/><circle cx="626.4" cy="543.31" r="2.4" fill="none" stroke="#e5535b" stroke-width="0.8"/><circle cx="627.41" cy="551.37" r="2.4" fill="none" stroke="#e5535b" stroke-width="0.8"/><circle cx="628.42" cy="541.26" r="2.4" fill="none" stroke="#e5535b" stroke-width="0.8"/><circle cx="629.44" cy="545.46" r="2.4" fill="none" stroke="#e5535b" stroke-width="0.8"/><circle cx="630.45" cy="545.53" r="2.4" fill="none" stroke="#e5535b" stroke-width="0.8"/><circle cx="631.46" cy="545.86" r="2.4" fill="none" stroke="#e5535b" stroke-width="0.8"/><circle cx="632.47" cy="546.39" r="2.4" fill="none" stroke="#e5535b" stroke-width="0.8"/></g>
<circle cx="328.87" cy="592.18" r="3.2" fill="none" stroke="#5597d8" stroke-width="1.05"/><circle cx="329.88" cy="592.37" r="3.2" fill="none" stroke="#5597d8" stroke-width="1.05"/><circle cx="330.9" cy="592.57" r="3.2" fill="none" stroke="#5597d8" stroke-width="1.05"/><circle cx="331.91" cy="592.77" r="3.2" fill="none" stroke="#5597d8" stroke-width="1.05"/><circle cx="332.92" cy="592.96" r="3.2" fill="none" stroke="#5597d8" stroke-width="1.05"/><circle cx="333.93" cy="593.14" r="3.2" fill="none" stroke="#5597d8" stroke-width="1.05"/><circle cx="334.94" cy="593.3" r="3.2" fill="none" stroke="#5597d8" stroke-width="1.05"/><circle cx="335.96" cy="593.45" r="3.2" fill="none" stroke="#5597d8" stroke-width="1.05"/><circle cx="336.97" cy="593.6" r="3.2" fill="none" stroke="#5597d8" stroke-width="1.05"/><circle cx="337.98" cy="593.75" r="3.2" fill="none" stroke="#5597d8" stroke-width="1.05"/><circle cx="338.99" cy="593.89" r="3.2" fill="none" stroke="#5597d8" stroke-width="1.05"/><circle cx="340" cy="594.04" r="3.2" fill="none" stroke="#5597d8" stroke-width="1.05"/><circle cx="341.02" cy="594.18" r="3.2" fill="none" stroke="#5597d8" stroke-width="1.05"/><circle cx="342.03" cy="594.32" r="3.2" fill="none" stroke="#5597d8" stroke-width="1.05"/><circle cx="343.04" cy="594.45" r="3.2" fill="none" stroke="#5597d8" stroke-width="1.05"/><circle cx="344.05" cy="594.57" r="3.2" fill="none" stroke="#5597d8" stroke-width="1.05"/><circle cx="345.06" cy="594.69" r="3.2" fill="none" stroke="#5597d8" stroke-width="1.05"/><circle cx="346.08" cy="594.8" r="3.2" fill="none" stroke="#5597d8" stroke-width="1.05"/><circle cx="347.09" cy="594.9" r="3.2" fill="none" stroke="#5597d8" stroke-width="1.05"/><circle cx="348.1" cy="594.99" r="3.2" fill="none" stroke="#5597d8" stroke-width="1.05"/><circle cx="349.11" cy="595.07" r="3.2" fill="none" stroke="#5597d8" stroke-width="1.05"/><circle cx="350.12" cy="595.15" r="3.2" fill="none" stroke="#5597d8" stroke-width="1.05"/><circle cx="351.14" cy="595.22" r="3.2" fill="none" stroke="#5597d8" stroke-width="1.05"/><circle cx="352.15" cy="595.3" r="3.2" fill="none" stroke="#5597d8" stroke-width="1.05"/><circle cx="353.16" cy="595.37" r="3.2" fill="none" stroke="#5597d8" stroke-width="1.05"/><circle cx="354.17" cy="595.45" r="3.2" fill="none" stroke="#5597d8" stroke-width="1.05"/><circle cx="355.18" cy="595.52" r="3.2" fill="none" stroke="#5597d8" stroke-width="1.05"/><circle cx="356.2" cy="595.59" r="3.2" fill="none" stroke="#5597d8" stroke-width="1.05"/><circle cx="357.21" cy="595.66" r="3.2" fill="none" stroke="#5597d8" stroke-width="1.05"/><circle cx="358.22" cy="595.73" r="3.2" fill="none" stroke="#5597d8" stroke-width="1.05"/><circle cx="359.23" cy="595.79" r="3.2" fill="none" stroke="#5597d8" stroke-width="1.05"/><circle cx="360.24" cy="595.86" r="3.2" fill="none" stroke="#5597d8" stroke-width="1.05"/><circle cx="361.26" cy="595.92" r="3.2" fill="none" stroke="#5597d8" stroke-width="1.05"/><circle cx="362.27" cy="595.99" r="3.2" fill="none" stroke="#5597d8" stroke-width="1.05"/><circle cx="363.28" cy="596.05" r="3.2" fill="none" stroke="#5597d8" stroke-width="1.05"/><circle cx="364.29" cy="596.11" r="3.2" fill="none" stroke="#5597d8" stroke-width="1.05"/><circle cx="365.3" cy="596.17" r="3.2" fill="none" stroke="#5597d8" stroke-width="1.05"/><circle cx="366.32" cy="596.24" r="3.2" fill="none" stroke="#5597d8" stroke-width="1.05"/><circle cx="367.33" cy="596.3" r="3.2" fill="none" stroke="#5597d8" stroke-width="1.05"/><circle cx="368.34" cy="596.36" r="3.2" fill="none" stroke="#5597d8" stroke-width="1.05"/><circle cx="369.35" cy="596.41" r="3.2" fill="none" stroke="#5597d8" stroke-width="1.05"/><circle cx="370.36" cy="596.47" r="3.2" fill="none" stroke="#5597d8" stroke-width="1.05"/><circle cx="371.38" cy="596.53" r="3.2" fill="none" stroke="#5597d8" stroke-width="1.05"/><circle cx="372.39" cy="596.59" r="3.2" fill="none" stroke="#5597d8" stroke-width="1.05"/><circle cx="373.4" cy="596.65" r="3.2" fill="none" stroke="#5597d8" stroke-width="1.05"/><circle cx="374.41" cy="596.71" r="3.2" fill="none" stroke="#5597d8" stroke-width="1.05"/><circle cx="375.42" cy="596.76" r="3.2" fill="none" stroke="#5597d8" stroke-width="1.05"/><circle cx="376.44" cy="596.82" r="3.2" fill="none" stroke="#5597d8" stroke-width="1.05"/><circle cx="377.45" cy="596.88" r="3.2" fill="none" stroke="#5597d8" stroke-width="1.05"/><circle cx="378.46" cy="596.94" r="3.2" fill="none" stroke="#5597d8" stroke-width="1.05"/><circle cx="379.47" cy="597" r="3.2" fill="none" stroke="#5597d8" stroke-width="1.05"/><circle cx="380.48" cy="597.06" r="3.2" fill="none" stroke="#5597d8" stroke-width="1.05"/><circle cx="381.5" cy="597.11" r="3.2" fill="none" stroke="#5597d8" stroke-width="1.05"/><circle cx="382.51" cy="597.17" r="3.2" fill="none" stroke="#5597d8" stroke-width="1.05"/><circle cx="383.52" cy="597.23" r="3.2" fill="none" stroke="#5597d8" stroke-width="1.05"/><circle cx="384.53" cy="597.29" r="3.2" fill="none" stroke="#5597d8" stroke-width="1.05"/><circle cx="385.54" cy="597.35" r="3.2" fill="none" stroke="#5597d8" stroke-width="1.05"/><circle cx="386.56" cy="597.41" r="3.2" fill="none" stroke="#5597d8" stroke-width="1.05"/><circle cx="387.57" cy="597.47" r="3.2" fill="none" stroke="#5597d8" stroke-width="1.05"/><circle cx="388.58" cy="597.53" r="3.2" fill="none" stroke="#5597d8" stroke-width="1.05"/><circle cx="389.59" cy="597.59" r="3.2" fill="none" stroke="#5597d8" stroke-width="1.05"/><circle cx="390.6" cy="597.64" r="3.2" fill="none" stroke="#5597d8" stroke-width="1.05"/><circle cx="391.62" cy="597.7" r="3.2" fill="none" stroke="#5597d8" stroke-width="1.05"/><circle cx="392.63" cy="597.76" r="3.2" fill="none" stroke="#5597d8" stroke-width="1.05"/><circle cx="393.64" cy="597.81" r="3.2" fill="none" stroke="#5597d8" stroke-width="1.05"/><circle cx="394.65" cy="597.87" r="3.2" fill="none" stroke="#5597d8" stroke-width="1.05"/><circle cx="395.66" cy="597.92" r="3.2" fill="none" stroke="#5597d8" stroke-width="1.05"/><circle cx="396.68" cy="597.98" r="3.2" fill="none" stroke="#5597d8" stroke-width="1.05"/><circle cx="397.69" cy="598.04" r="3.2" fill="none" stroke="#5597d8" stroke-width="1.05"/><circle cx="398.7" cy="598.09" r="3.2" fill="none" stroke="#5597d8" stroke-width="1.05"/><circle cx="399.71" cy="598.15" r="3.2" fill="none" stroke="#5597d8" stroke-width="1.05"/><circle cx="400.72" cy="598.2" r="3.2" fill="none" stroke="#5597d8" stroke-width="1.05"/><circle cx="401.74" cy="598.26" r="3.2" fill="none" stroke="#5597d8" stroke-width="1.05"/><circle cx="402.75" cy="598.31" r="3.2" fill="none" stroke="#5597d8" stroke-width="1.05"/><circle cx="403.76" cy="598.37" r="3.2" fill="none" stroke="#5597d8" stroke-width="1.05"/><circle cx="404.77" cy="598.42" r="3.2" fill="none" stroke="#5597d8" stroke-width="1.05"/><circle cx="405.78" cy="598.47" r="3.2" fill="none" stroke="#5597d8" stroke-width="1.05"/><circle cx="406.8" cy="598.53" r="3.2" fill="none" stroke="#5597d8" stroke-width="1.05"/><circle cx="407.81" cy="598.58" r="3.2" fill="none" stroke="#5597d8" stroke-width="1.05"/><circle cx="408.82" cy="598.64" r="3.2" fill="none" stroke="#5597d8" stroke-width="1.05"/><circle cx="409.83" cy="598.69" r="3.2" fill="none" stroke="#5597d8" stroke-width="1.05"/><circle cx="410.84" cy="598.75" r="3.2" fill="none" stroke="#5597d8" stroke-width="1.05"/><circle cx="411.86" cy="598.81" r="3.2" fill="none" stroke="#5597d8" stroke-width="1.05"/><circle cx="412.87" cy="598.86" r="3.2" fill="none" stroke="#5597d8" stroke-width="1.05"/><circle cx="413.88" cy="598.92" r="3.2" fill="none" stroke="#5597d8" stroke-width="1.05"/><circle cx="414.89" cy="598.97" r="3.2" fill="none" stroke="#5597d8" stroke-width="1.05"/><circle cx="415.9" cy="599.03" r="3.2" fill="none" stroke="#5597d8" stroke-width="1.05"/><circle cx="416.92" cy="599.09" r="3.2" fill="none" stroke="#5597d8" stroke-width="1.05"/><circle cx="417.93" cy="599.14" r="3.2" fill="none" stroke="#5597d8" stroke-width="1.05"/><circle cx="418.94" cy="599.2" r="3.2" fill="none" stroke="#5597d8" stroke-width="1.05"/><circle cx="419.95" cy="599.26" r="3.2" fill="none" stroke="#5597d8" stroke-width="1.05"/><circle cx="420.96" cy="599.32" r="3.2" fill="none" stroke="#5597d8" stroke-width="1.05"/><circle cx="421.98" cy="599.37" r="3.2" fill="none" stroke="#5597d8" stroke-width="1.05"/><circle cx="422.99" cy="599.43" r="3.2" fill="none" stroke="#5597d8" stroke-width="1.05"/><circle cx="424" cy="599.49" r="3.2" fill="none" stroke="#5597d8" stroke-width="1.05"/><circle cx="425.01" cy="599.55" r="3.2" fill="none" stroke="#5597d8" stroke-width="1.05"/><circle cx="426.02" cy="599.6" r="3.2" fill="none" stroke="#5597d8" stroke-width="1.05"/><circle cx="427.04" cy="599.66" r="3.2" fill="none" stroke="#5597d8" stroke-width="1.05"/><circle cx="428.05" cy="599.72" r="3.2" fill="none" stroke="#5597d8" stroke-width="1.05"/><circle cx="429.06" cy="599.78" r="3.2" fill="none" stroke="#5597d8" stroke-width="1.05"/><circle cx="430.07" cy="599.84" r="3.2" fill="none" stroke="#5597d8" stroke-width="1.05"/><circle cx="431.08" cy="599.89" r="3.2" fill="none" stroke="#5597d8" stroke-width="1.05"/><circle cx="432.1" cy="599.95" r="3.2" fill="none" stroke="#5597d8" stroke-width="1.05"/><circle cx="433.11" cy="600.01" r="3.2" fill="none" stroke="#5597d8" stroke-width="1.05"/><circle cx="434.12" cy="600.07" r="3.2" fill="none" stroke="#5597d8" stroke-width="1.05"/><circle cx="435.13" cy="600.12" r="3.2" fill="none" stroke="#5597d8" stroke-width="1.05"/><circle cx="436.14" cy="600.18" r="3.2" fill="none" stroke="#5597d8" stroke-width="1.05"/><circle cx="437.16" cy="600.24" r="3.2" fill="none" stroke="#5597d8" stroke-width="1.05"/><circle cx="438.17" cy="600.3" r="3.2" fill="none" stroke="#5597d8" stroke-width="1.05"/><circle cx="439.18" cy="600.36" r="3.2" fill="none" stroke="#5597d8" stroke-width="1.05"/><circle cx="440.19" cy="600.41" r="3.2" fill="none" stroke="#5597d8" stroke-width="1.05"/><circle cx="441.2" cy="600.47" r="3.2" fill="none" stroke="#5597d8" stroke-width="1.05"/><circle cx="442.22" cy="600.53" r="3.2" fill="none" stroke="#5597d8" stroke-width="1.05"/><circle cx="443.23" cy="600.59" r="3.2" fill="none" stroke="#5597d8" stroke-width="1.05"/><circle cx="444.24" cy="600.65" r="3.2" fill="none" stroke="#5597d8" stroke-width="1.05"/><circle cx="445.25" cy="600.7" r="3.2" fill="none" stroke="#5597d8" stroke-width="1.05"/><circle cx="446.26" cy="600.76" r="3.2" fill="none" stroke="#5597d8" stroke-width="1.05"/><circle cx="447.28" cy="600.82" r="3.2" fill="none" stroke="#5597d8" stroke-width="1.05"/><circle cx="448.29" cy="600.88" r="3.2" fill="none" stroke="#5597d8" stroke-width="1.05"/><circle cx="449.3" cy="600.94" r="3.2" fill="none" stroke="#5597d8" stroke-width="1.05"/><circle cx="450.31" cy="601" r="3.2" fill="none" stroke="#5597d8" stroke-width="1.05"/><circle cx="451.32" cy="601.05" r="3.2" fill="none" stroke="#5597d8" stroke-width="1.05"/><circle cx="452.34" cy="601.11" r="3.2" fill="none" stroke="#5597d8" stroke-width="1.05"/><circle cx="453.35" cy="601.17" r="3.2" fill="none" stroke="#5597d8" stroke-width="1.05"/><circle cx="454.36" cy="601.23" r="3.2" fill="none" stroke="#5597d8" stroke-width="1.05"/><circle cx="455.37" cy="601.29" r="3.2" fill="none" stroke="#5597d8" stroke-width="1.05"/><circle cx="456.38" cy="601.35" r="3.2" fill="none" stroke="#5597d8" stroke-width="1.05"/><circle cx="457.4" cy="601.41" r="3.2" fill="none" stroke="#5597d8" stroke-width="1.05"/><circle cx="458.41" cy="601.47" r="3.2" fill="none" stroke="#5597d8" stroke-width="1.05"/><circle cx="459.42" cy="601.53" r="3.2" fill="none" stroke="#5597d8" stroke-width="1.05"/><circle cx="460.43" cy="601.59" r="3.2" fill="none" stroke="#5597d8" stroke-width="1.05"/><circle cx="461.44" cy="601.65" r="3.2" fill="none" stroke="#5597d8" stroke-width="1.05"/><circle cx="462.46" cy="601.7" r="3.2" fill="none" stroke="#5597d8" stroke-width="1.05"/><circle cx="463.47" cy="601.76" r="3.2" fill="none" stroke="#5597d8" stroke-width="1.05"/><circle cx="464.48" cy="601.82" r="3.2" fill="none" stroke="#5597d8" stroke-width="1.05"/><circle cx="465.49" cy="601.88" r="3.2" fill="none" stroke="#5597d8" stroke-width="1.05"/><circle cx="466.5" cy="601.95" r="3.2" fill="none" stroke="#5597d8" stroke-width="1.05"/><circle cx="467.52" cy="602.01" r="3.2" fill="none" stroke="#5597d8" stroke-width="1.05"/><circle cx="468.53" cy="602.07" r="3.2" fill="none" stroke="#5597d8" stroke-width="1.05"/><circle cx="469.54" cy="602.13" r="3.2" fill="none" stroke="#5597d8" stroke-width="1.05"/><circle cx="470.55" cy="602.19" r="3.2" fill="none" stroke="#5597d8" stroke-width="1.05"/><circle cx="471.56" cy="602.25" r="3.2" fill="none" stroke="#5597d8" stroke-width="1.05"/><circle cx="472.58" cy="602.31" r="3.2" fill="none" stroke="#5597d8" stroke-width="1.05"/><circle cx="473.59" cy="602.37" r="3.2" fill="none" stroke="#5597d8" stroke-width="1.05"/><circle cx="474.6" cy="602.43" r="3.2" fill="none" stroke="#5597d8" stroke-width="1.05"/><circle cx="475.61" cy="602.49" r="3.2" fill="none" stroke="#5597d8" stroke-width="1.05"/><circle cx="476.62" cy="602.56" r="3.2" fill="none" stroke="#5597d8" stroke-width="1.05"/><circle cx="477.64" cy="602.62" r="3.2" fill="none" stroke="#5597d8" stroke-width="1.05"/><circle cx="478.65" cy="602.68" r="3.2" fill="none" stroke="#5597d8" stroke-width="1.05"/><circle cx="479.66" cy="602.74" r="3.2" fill="none" stroke="#5597d8" stroke-width="1.05"/><circle cx="480.67" cy="602.8" r="3.2" fill="none" stroke="#5597d8" stroke-width="1.05"/><circle cx="481.68" cy="602.87" r="3.2" fill="none" stroke="#5597d8" stroke-width="1.05"/><circle cx="482.7" cy="602.93" r="3.2" fill="none" stroke="#5597d8" stroke-width="1.05"/><circle cx="483.71" cy="602.99" r="3.2" fill="none" stroke="#5597d8" stroke-width="1.05"/><circle cx="484.72" cy="603.05" r="3.2" fill="none" stroke="#5597d8" stroke-width="1.05"/><circle cx="485.73" cy="603.12" r="3.2" fill="none" stroke="#5597d8" stroke-width="1.05"/><circle cx="486.74" cy="603.18" r="3.2" fill="none" stroke="#5597d8" stroke-width="1.05"/><circle cx="487.76" cy="603.24" r="3.2" fill="none" stroke="#5597d8" stroke-width="1.05"/><circle cx="488.77" cy="603.31" r="3.2" fill="none" stroke="#5597d8" stroke-width="1.05"/><circle cx="489.78" cy="603.37" r="3.2" fill="none" stroke="#5597d8" stroke-width="1.05"/><circle cx="490.79" cy="603.43" r="3.2" fill="none" stroke="#5597d8" stroke-width="1.05"/><circle cx="491.8" cy="603.5" r="3.2" fill="none" stroke="#5597d8" stroke-width="1.05"/><circle cx="492.82" cy="603.56" r="3.2" fill="none" stroke="#5597d8" stroke-width="1.05"/><circle cx="493.83" cy="603.63" r="3.2" fill="none" stroke="#5597d8" stroke-width="1.05"/><circle cx="494.84" cy="603.69" r="3.2" fill="none" stroke="#5597d8" stroke-width="1.05"/><circle cx="495.85" cy="603.75" r="3.2" fill="none" stroke="#5597d8" stroke-width="1.05"/><circle cx="496.86" cy="603.82" r="3.2" fill="none" stroke="#5597d8" stroke-width="1.05"/><circle cx="497.88" cy="603.88" r="3.2" fill="none" stroke="#5597d8" stroke-width="1.05"/><circle cx="498.89" cy="603.95" r="3.2" fill="none" stroke="#5597d8" stroke-width="1.05"/><circle cx="499.9" cy="604.01" r="3.2" fill="none" stroke="#5597d8" stroke-width="1.05"/><circle cx="500.91" cy="604.08" r="3.2" fill="none" stroke="#5597d8" stroke-width="1.05"/><circle cx="501.92" cy="604.14" r="3.2" fill="none" stroke="#5597d8" stroke-width="1.05"/><circle cx="502.94" cy="604.21" r="3.2" fill="none" stroke="#5597d8" stroke-width="1.05"/><circle cx="503.95" cy="604.27" r="3.2" fill="none" stroke="#5597d8" stroke-width="1.05"/><circle cx="504.96" cy="604.34" r="3.2" fill="none" stroke="#5597d8" stroke-width="1.05"/><circle cx="505.97" cy="604.4" r="3.2" fill="none" stroke="#5597d8" stroke-width="1.05"/><circle cx="506.98" cy="604.47" r="3.2" fill="none" stroke="#5597d8" stroke-width="1.05"/><circle cx="508" cy="604.53" r="3.2" fill="none" stroke="#5597d8" stroke-width="1.05"/><circle cx="509.01" cy="604.6" r="3.2" fill="none" stroke="#5597d8" stroke-width="1.05"/><circle cx="510.02" cy="604.66" r="3.2" fill="none" stroke="#5597d8" stroke-width="1.05"/><circle cx="511.03" cy="604.73" r="3.2" fill="none" stroke="#5597d8" stroke-width="1.05"/><circle cx="512.04" cy="604.8" r="3.2" fill="none" stroke="#5597d8" stroke-width="1.05"/><circle cx="513.06" cy="604.86" r="3.2" fill="none" stroke="#5597d8" stroke-width="1.05"/><circle cx="514.07" cy="604.93" r="3.2" fill="none" stroke="#5597d8" stroke-width="1.05"/><circle cx="515.08" cy="604.99" r="3.2" fill="none" stroke="#5597d8" stroke-width="1.05"/><circle cx="516.09" cy="605.06" r="3.2" fill="none" stroke="#5597d8" stroke-width="1.05"/><circle cx="517.1" cy="605.13" r="3.2" fill="none" stroke="#5597d8" stroke-width="1.05"/><circle cx="518.12" cy="605.19" r="3.2" fill="none" stroke="#5597d8" stroke-width="1.05"/><circle cx="519.13" cy="605.26" r="3.2" fill="none" stroke="#5597d8" stroke-width="1.05"/><circle cx="520.14" cy="605.33" r="3.2" fill="none" stroke="#5597d8" stroke-width="1.05"/><circle cx="521.15" cy="605.4" r="3.2" fill="none" stroke="#5597d8" stroke-width="1.05"/><circle cx="522.16" cy="605.46" r="3.2" fill="none" stroke="#5597d8" stroke-width="1.05"/><circle cx="523.18" cy="605.53" r="3.2" fill="none" stroke="#5597d8" stroke-width="1.05"/><circle cx="524.19" cy="605.6" r="3.2" fill="none" stroke="#5597d8" stroke-width="1.05"/><circle cx="525.2" cy="605.66" r="3.2" fill="none" stroke="#5597d8" stroke-width="1.05"/><circle cx="526.21" cy="605.73" r="3.2" fill="none" stroke="#5597d8" stroke-width="1.05"/><circle cx="527.22" cy="605.8" r="3.2" fill="none" stroke="#5597d8" stroke-width="1.05"/><circle cx="528.24" cy="605.87" r="3.2" fill="none" stroke="#5597d8" stroke-width="1.05"/><circle cx="529.25" cy="605.94" r="3.2" fill="none" stroke="#5597d8" stroke-width="1.05"/><circle cx="530.26" cy="606.01" r="3.2" fill="none" stroke="#5597d8" stroke-width="1.05"/><circle cx="531.27" cy="606.07" r="3.2" fill="none" stroke="#5597d8" stroke-width="1.05"/><circle cx="532.28" cy="606.14" r="3.2" fill="none" stroke="#5597d8" stroke-width="1.05"/><circle cx="533.3" cy="606.21" r="3.2" fill="none" stroke="#5597d8" stroke-width="1.05"/><circle cx="534.31" cy="606.28" r="3.2" fill="none" stroke="#5597d8" stroke-width="1.05"/><circle cx="535.32" cy="606.35" r="3.2" fill="none" stroke="#5597d8" stroke-width="1.05"/><circle cx="536.33" cy="606.43" r="3.2" fill="none" stroke="#5597d8" stroke-width="1.05"/><circle cx="537.34" cy="606.5" r="3.2" fill="none" stroke="#5597d8" stroke-width="1.05"/><circle cx="538.36" cy="606.57" r="3.2" fill="none" stroke="#5597d8" stroke-width="1.05"/><circle cx="539.37" cy="606.64" r="3.2" fill="none" stroke="#5597d8" stroke-width="1.05"/><circle cx="540.38" cy="606.71" r="3.2" fill="none" stroke="#5597d8" stroke-width="1.05"/><circle cx="541.39" cy="606.78" r="3.2" fill="none" stroke="#5597d8" stroke-width="1.05"/><circle cx="542.4" cy="606.85" r="3.2" fill="none" stroke="#5597d8" stroke-width="1.05"/><circle cx="543.42" cy="606.92" r="3.2" fill="none" stroke="#5597d8" stroke-width="1.05"/><circle cx="544.43" cy="607" r="3.2" fill="none" stroke="#5597d8" stroke-width="1.05"/><circle cx="545.44" cy="607.07" r="3.2" fill="none" stroke="#5597d8" stroke-width="1.05"/><circle cx="546.45" cy="607.14" r="3.2" fill="none" stroke="#5597d8" stroke-width="1.05"/><circle cx="547.46" cy="607.21" r="3.2" fill="none" stroke="#5597d8" stroke-width="1.05"/><circle cx="548.48" cy="607.28" r="3.2" fill="none" stroke="#5597d8" stroke-width="1.05"/><circle cx="549.49" cy="607.36" r="3.2" fill="none" stroke="#5597d8" stroke-width="1.05"/><circle cx="550.5" cy="607.43" r="3.2" fill="none" stroke="#5597d8" stroke-width="1.05"/><circle cx="551.51" cy="607.5" r="3.2" fill="none" stroke="#5597d8" stroke-width="1.05"/><circle cx="552.52" cy="607.57" r="3.2" fill="none" stroke="#5597d8" stroke-width="1.05"/><circle cx="553.54" cy="607.64" r="3.2" fill="none" stroke="#5597d8" stroke-width="1.05"/><circle cx="554.55" cy="607.71" r="3.2" fill="none" stroke="#5597d8" stroke-width="1.05"/><circle cx="555.56" cy="607.79" r="3.2" fill="none" stroke="#5597d8" stroke-width="1.05"/><circle cx="556.57" cy="607.86" r="3.2" fill="none" stroke="#5597d8" stroke-width="1.05"/><circle cx="557.58" cy="607.93" r="3.2" fill="none" stroke="#5597d8" stroke-width="1.05"/><circle cx="558.6" cy="608" r="3.2" fill="none" stroke="#5597d8" stroke-width="1.05"/><circle cx="559.61" cy="608.07" r="3.2" fill="none" stroke="#5597d8" stroke-width="1.05"/><circle cx="560.62" cy="608.14" r="3.2" fill="none" stroke="#5597d8" stroke-width="1.05"/><circle cx="561.63" cy="608.21" r="3.2" fill="none" stroke="#5597d8" stroke-width="1.05"/><circle cx="562.64" cy="608.28" r="3.2" fill="none" stroke="#5597d8" stroke-width="1.05"/><circle cx="563.66" cy="608.35" r="3.2" fill="none" stroke="#5597d8" stroke-width="1.05"/><circle cx="564.67" cy="608.43" r="3.2" fill="none" stroke="#5597d8" stroke-width="1.05"/><circle cx="565.68" cy="608.49" r="3.2" fill="none" stroke="#5597d8" stroke-width="1.05"/><circle cx="566.69" cy="608.56" r="3.2" fill="none" stroke="#5597d8" stroke-width="1.05"/><circle cx="567.7" cy="608.63" r="3.2" fill="none" stroke="#5597d8" stroke-width="1.05"/><circle cx="568.72" cy="608.7" r="3.2" fill="none" stroke="#5597d8" stroke-width="1.05"/><circle cx="569.73" cy="608.77" r="3.2" fill="none" stroke="#5597d8" stroke-width="1.05"/><circle cx="570.74" cy="608.84" r="3.2" fill="none" stroke="#5597d8" stroke-width="1.05"/><circle cx="571.75" cy="608.91" r="3.2" fill="none" stroke="#5597d8" stroke-width="1.05"/><circle cx="572.76" cy="608.98" r="3.2" fill="none" stroke="#5597d8" stroke-width="1.05"/><circle cx="573.78" cy="609.04" r="3.2" fill="none" stroke="#5597d8" stroke-width="1.05"/><circle cx="574.79" cy="609.11" r="3.2" fill="none" stroke="#5597d8" stroke-width="1.05"/><circle cx="575.8" cy="609.18" r="3.2" fill="none" stroke="#5597d8" stroke-width="1.05"/><circle cx="576.81" cy="609.24" r="3.2" fill="none" stroke="#5597d8" stroke-width="1.05"/><circle cx="577.82" cy="609.31" r="3.2" fill="none" stroke="#5597d8" stroke-width="1.05"/><circle cx="578.84" cy="609.37" r="3.2" fill="none" stroke="#5597d8" stroke-width="1.05"/><circle cx="579.85" cy="609.44" r="3.2" fill="none" stroke="#5597d8" stroke-width="1.05"/><circle cx="580.86" cy="609.5" r="3.2" fill="none" stroke="#5597d8" stroke-width="1.05"/><circle cx="581.87" cy="609.57" r="3.2" fill="none" stroke="#5597d8" stroke-width="1.05"/><circle cx="582.88" cy="609.63" r="3.2" fill="none" stroke="#5597d8" stroke-width="1.05"/><circle cx="583.9" cy="609.7" r="3.2" fill="none" stroke="#5597d8" stroke-width="1.05"/><circle cx="584.91" cy="609.76" r="3.2" fill="none" stroke="#5597d8" stroke-width="1.05"/><circle cx="585.92" cy="609.83" r="3.2" fill="none" stroke="#5597d8" stroke-width="1.05"/><circle cx="586.93" cy="609.89" r="3.2" fill="none" stroke="#5597d8" stroke-width="1.05"/><circle cx="587.94" cy="609.96" r="3.2" fill="none" stroke="#5597d8" stroke-width="1.05"/><circle cx="588.96" cy="610.02" r="3.2" fill="none" stroke="#5597d8" stroke-width="1.05"/><circle cx="589.97" cy="610.08" r="3.2" fill="none" stroke="#5597d8" stroke-width="1.05"/><circle cx="590.98" cy="610.15" r="3.2" fill="none" stroke="#5597d8" stroke-width="1.05"/><circle cx="591.99" cy="610.21" r="3.2" fill="none" stroke="#5597d8" stroke-width="1.05"/><circle cx="593" cy="610.27" r="3.2" fill="none" stroke="#5597d8" stroke-width="1.05"/><circle cx="594.02" cy="610.33" r="3.2" fill="none" stroke="#5597d8" stroke-width="1.05"/><circle cx="595.03" cy="610.4" r="3.2" fill="none" stroke="#5597d8" stroke-width="1.05"/><circle cx="596.04" cy="610.46" r="3.2" fill="none" stroke="#5597d8" stroke-width="1.05"/><circle cx="597.05" cy="610.52" r="3.2" fill="none" stroke="#5597d8" stroke-width="1.05"/><circle cx="598.06" cy="610.59" r="3.2" fill="none" stroke="#5597d8" stroke-width="1.05"/><circle cx="599.08" cy="610.65" r="3.2" fill="none" stroke="#5597d8" stroke-width="1.05"/><circle cx="600.09" cy="610.71" r="3.2" fill="none" stroke="#5597d8" stroke-width="1.05"/><circle cx="601.1" cy="610.77" r="3.2" fill="none" stroke="#5597d8" stroke-width="1.05"/><circle cx="602.11" cy="610.83" r="3.2" fill="none" stroke="#5597d8" stroke-width="1.05"/><circle cx="603.12" cy="610.9" r="3.2" fill="none" stroke="#5597d8" stroke-width="1.05"/><circle cx="604.14" cy="610.96" r="3.2" fill="none" stroke="#5597d8" stroke-width="1.05"/><circle cx="605.15" cy="611.02" r="3.2" fill="none" stroke="#5597d8" stroke-width="1.05"/><circle cx="606.16" cy="611.08" r="3.2" fill="none" stroke="#5597d8" stroke-width="1.05"/><circle cx="607.17" cy="611.14" r="3.2" fill="none" stroke="#5597d8" stroke-width="1.05"/><circle cx="608.18" cy="611.2" r="3.2" fill="none" stroke="#5597d8" stroke-width="1.05"/><circle cx="609.2" cy="611.27" r="3.2" fill="none" stroke="#5597d8" stroke-width="1.05"/><circle cx="610.21" cy="611.33" r="3.2" fill="none" stroke="#5597d8" stroke-width="1.05"/><circle cx="611.22" cy="611.39" r="3.2" fill="none" stroke="#5597d8" stroke-width="1.05"/><circle cx="612.23" cy="611.45" r="3.2" fill="none" stroke="#5597d8" stroke-width="1.05"/><circle cx="613.24" cy="611.51" r="3.2" fill="none" stroke="#5597d8" stroke-width="1.05"/><circle cx="614.26" cy="611.57" r="3.2" fill="none" stroke="#5597d8" stroke-width="1.05"/><circle cx="615.27" cy="611.64" r="3.2" fill="none" stroke="#5597d8" stroke-width="1.05"/><circle cx="616.28" cy="611.7" r="3.2" fill="none" stroke="#5597d8" stroke-width="1.05"/><circle cx="617.29" cy="611.76" r="3.2" fill="none" stroke="#5597d8" stroke-width="1.05"/><circle cx="618.3" cy="611.82" r="3.2" fill="none" stroke="#5597d8" stroke-width="1.05"/><circle cx="619.32" cy="611.88" r="3.2" fill="none" stroke="#5597d8" stroke-width="1.05"/><circle cx="620.33" cy="611.94" r="3.2" fill="none" stroke="#5597d8" stroke-width="1.05"/><circle cx="621.34" cy="612.01" r="3.2" fill="none" stroke="#5597d8" stroke-width="1.05"/><circle cx="622.35" cy="612.07" r="3.2" fill="none" stroke="#5597d8" stroke-width="1.05"/><circle cx="623.36" cy="612.13" r="3.2" fill="none" stroke="#5597d8" stroke-width="1.05"/><circle cx="624.38" cy="612.19" r="3.2" fill="none" stroke="#5597d8" stroke-width="1.05"/><circle cx="625.39" cy="612.25" r="3.2" fill="none" stroke="#5597d8" stroke-width="1.05"/><circle cx="626.4" cy="612.31" r="3.2" fill="none" stroke="#5597d8" stroke-width="1.05"/><circle cx="627.41" cy="612.38" r="3.2" fill="none" stroke="#5597d8" stroke-width="1.05"/><circle cx="628.42" cy="612.44" r="3.2" fill="none" stroke="#5597d8" stroke-width="1.05"/><circle cx="629.44" cy="612.5" r="3.2" fill="none" stroke="#5597d8" stroke-width="1.05"/><circle cx="630.45" cy="612.56" r="3.2" fill="none" stroke="#5597d8" stroke-width="1.05"/><circle cx="631.46" cy="612.63" r="3.2" fill="none" stroke="#5597d8" stroke-width="1.05"/><circle cx="632.47" cy="612.69" r="3.2" fill="none" stroke="#5597d8" stroke-width="1.05"/><circle cx="323.81" cy="537.1" r="3.6" fill="none" stroke="#5597d8" stroke-width="1.2"/><circle cx="324.82" cy="545.95" r="3.6" fill="none" stroke="#5597d8" stroke-width="1.2"/><circle cx="325.84" cy="550.31" r="3.6" fill="none" stroke="#5597d8" stroke-width="1.2"/><circle cx="326.85" cy="553.96" r="3.6" fill="none" stroke="#5597d8" stroke-width="1.2"/><circle cx="327.86" cy="558.32" r="3.6" fill="none" stroke="#5597d8" stroke-width="1.2"/>
<circle cx="632.47" cy="612.69" r="3.2" fill="#ffffff" stroke="#5597d8" stroke-width="1.1"/>
<circle cx="328.87" cy="566.89" r="3.2" fill="none" stroke="#e64f58" stroke-width="1.05"/><circle cx="329.88" cy="567.66" r="3.2" fill="none" stroke="#e64f58" stroke-width="1.05"/><circle cx="330.9" cy="568.46" r="3.2" fill="none" stroke="#e64f58" stroke-width="1.05"/><circle cx="331.91" cy="569.21" r="3.2" fill="none" stroke="#e64f58" stroke-width="1.05"/><circle cx="332.92" cy="569.84" r="3.2" fill="none" stroke="#e64f58" stroke-width="1.05"/><circle cx="333.93" cy="570.35" r="3.2" fill="none" stroke="#e64f58" stroke-width="1.05"/><circle cx="334.94" cy="570.83" r="3.2" fill="none" stroke="#e64f58" stroke-width="1.05"/><circle cx="335.96" cy="571.26" r="3.2" fill="none" stroke="#e64f58" stroke-width="1.05"/><circle cx="336.97" cy="571.63" r="3.2" fill="none" stroke="#e64f58" stroke-width="1.05"/><circle cx="337.98" cy="571.96" r="3.2" fill="none" stroke="#e64f58" stroke-width="1.05"/><circle cx="338.99" cy="572.23" r="3.2" fill="none" stroke="#e64f58" stroke-width="1.05"/><circle cx="340" cy="572.44" r="3.2" fill="none" stroke="#e64f58" stroke-width="1.05"/><circle cx="341.02" cy="572.63" r="3.2" fill="none" stroke="#e64f58" stroke-width="1.05"/><circle cx="342.03" cy="572.79" r="3.2" fill="none" stroke="#e64f58" stroke-width="1.05"/><circle cx="343.04" cy="572.93" r="3.2" fill="none" stroke="#e64f58" stroke-width="1.05"/><circle cx="344.05" cy="573.04" r="3.2" fill="none" stroke="#e64f58" stroke-width="1.05"/><circle cx="345.06" cy="573.14" r="3.2" fill="none" stroke="#e64f58" stroke-width="1.05"/><circle cx="346.08" cy="573.22" r="3.2" fill="none" stroke="#e64f58" stroke-width="1.05"/><circle cx="347.09" cy="573.29" r="3.2" fill="none" stroke="#e64f58" stroke-width="1.05"/><circle cx="348.1" cy="573.35" r="3.2" fill="none" stroke="#e64f58" stroke-width="1.05"/><circle cx="349.11" cy="573.41" r="3.2" fill="none" stroke="#e64f58" stroke-width="1.05"/><circle cx="350.12" cy="573.46" r="3.2" fill="none" stroke="#e64f58" stroke-width="1.05"/><circle cx="351.14" cy="573.51" r="3.2" fill="none" stroke="#e64f58" stroke-width="1.05"/><circle cx="352.15" cy="573.56" r="3.2" fill="none" stroke="#e64f58" stroke-width="1.05"/><circle cx="353.16" cy="573.61" r="3.2" fill="none" stroke="#e64f58" stroke-width="1.05"/><circle cx="354.17" cy="573.66" r="3.2" fill="none" stroke="#e64f58" stroke-width="1.05"/><circle cx="355.18" cy="573.71" r="3.2" fill="none" stroke="#e64f58" stroke-width="1.05"/><circle cx="356.2" cy="573.75" r="3.2" fill="none" stroke="#e64f58" stroke-width="1.05"/><circle cx="357.21" cy="573.79" r="3.2" fill="none" stroke="#e64f58" stroke-width="1.05"/><circle cx="358.22" cy="573.84" r="3.2" fill="none" stroke="#e64f58" stroke-width="1.05"/><circle cx="359.23" cy="573.88" r="3.2" fill="none" stroke="#e64f58" stroke-width="1.05"/><circle cx="360.24" cy="573.92" r="3.2" fill="none" stroke="#e64f58" stroke-width="1.05"/><circle cx="361.26" cy="573.96" r="3.2" fill="none" stroke="#e64f58" stroke-width="1.05"/><circle cx="362.27" cy="573.99" r="3.2" fill="none" stroke="#e64f58" stroke-width="1.05"/><circle cx="363.28" cy="574.03" r="3.2" fill="none" stroke="#e64f58" stroke-width="1.05"/><circle cx="364.29" cy="574.07" r="3.2" fill="none" stroke="#e64f58" stroke-width="1.05"/><circle cx="365.3" cy="574.1" r="3.2" fill="none" stroke="#e64f58" stroke-width="1.05"/><circle cx="366.32" cy="574.14" r="3.2" fill="none" stroke="#e64f58" stroke-width="1.05"/><circle cx="367.33" cy="574.18" r="3.2" fill="none" stroke="#e64f58" stroke-width="1.05"/><circle cx="368.34" cy="574.21" r="3.2" fill="none" stroke="#e64f58" stroke-width="1.05"/><circle cx="369.35" cy="574.24" r="3.2" fill="none" stroke="#e64f58" stroke-width="1.05"/><circle cx="370.36" cy="574.28" r="3.2" fill="none" stroke="#e64f58" stroke-width="1.05"/><circle cx="371.38" cy="574.31" r="3.2" fill="none" stroke="#e64f58" stroke-width="1.05"/><circle cx="372.39" cy="574.35" r="3.2" fill="none" stroke="#e64f58" stroke-width="1.05"/><circle cx="373.4" cy="574.38" r="3.2" fill="none" stroke="#e64f58" stroke-width="1.05"/><circle cx="374.41" cy="574.42" r="3.2" fill="none" stroke="#e64f58" stroke-width="1.05"/><circle cx="375.42" cy="574.45" r="3.2" fill="none" stroke="#e64f58" stroke-width="1.05"/><circle cx="376.44" cy="574.49" r="3.2" fill="none" stroke="#e64f58" stroke-width="1.05"/><circle cx="377.45" cy="574.52" r="3.2" fill="none" stroke="#e64f58" stroke-width="1.05"/><circle cx="378.46" cy="574.56" r="3.2" fill="none" stroke="#e64f58" stroke-width="1.05"/><circle cx="379.47" cy="574.6" r="3.2" fill="none" stroke="#e64f58" stroke-width="1.05"/><circle cx="380.48" cy="574.63" r="3.2" fill="none" stroke="#e64f58" stroke-width="1.05"/><circle cx="381.5" cy="574.67" r="3.2" fill="none" stroke="#e64f58" stroke-width="1.05"/><circle cx="382.51" cy="574.71" r="3.2" fill="none" stroke="#e64f58" stroke-width="1.05"/><circle cx="383.52" cy="574.75" r="3.2" fill="none" stroke="#e64f58" stroke-width="1.05"/><circle cx="384.53" cy="574.8" r="3.2" fill="none" stroke="#e64f58" stroke-width="1.05"/><circle cx="385.54" cy="574.84" r="3.2" fill="none" stroke="#e64f58" stroke-width="1.05"/><circle cx="386.56" cy="574.88" r="3.2" fill="none" stroke="#e64f58" stroke-width="1.05"/><circle cx="387.57" cy="574.92" r="3.2" fill="none" stroke="#e64f58" stroke-width="1.05"/><circle cx="388.58" cy="574.96" r="3.2" fill="none" stroke="#e64f58" stroke-width="1.05"/><circle cx="389.59" cy="575" r="3.2" fill="none" stroke="#e64f58" stroke-width="1.05"/><circle cx="390.6" cy="575.04" r="3.2" fill="none" stroke="#e64f58" stroke-width="1.05"/><circle cx="391.62" cy="575.08" r="3.2" fill="none" stroke="#e64f58" stroke-width="1.05"/><circle cx="392.63" cy="575.12" r="3.2" fill="none" stroke="#e64f58" stroke-width="1.05"/><circle cx="393.64" cy="575.16" r="3.2" fill="none" stroke="#e64f58" stroke-width="1.05"/><circle cx="394.65" cy="575.2" r="3.2" fill="none" stroke="#e64f58" stroke-width="1.05"/><circle cx="395.66" cy="575.23" r="3.2" fill="none" stroke="#e64f58" stroke-width="1.05"/><circle cx="396.68" cy="575.27" r="3.2" fill="none" stroke="#e64f58" stroke-width="1.05"/><circle cx="397.69" cy="575.31" r="3.2" fill="none" stroke="#e64f58" stroke-width="1.05"/><circle cx="398.7" cy="575.35" r="3.2" fill="none" stroke="#e64f58" stroke-width="1.05"/><circle cx="399.71" cy="575.39" r="3.2" fill="none" stroke="#e64f58" stroke-width="1.05"/><circle cx="400.72" cy="575.43" r="3.2" fill="none" stroke="#e64f58" stroke-width="1.05"/><circle cx="401.74" cy="575.47" r="3.2" fill="none" stroke="#e64f58" stroke-width="1.05"/><circle cx="402.75" cy="575.51" r="3.2" fill="none" stroke="#e64f58" stroke-width="1.05"/><circle cx="403.76" cy="575.55" r="3.2" fill="none" stroke="#e64f58" stroke-width="1.05"/><circle cx="404.77" cy="575.59" r="3.2" fill="none" stroke="#e64f58" stroke-width="1.05"/><circle cx="405.78" cy="575.63" r="3.2" fill="none" stroke="#e64f58" stroke-width="1.05"/><circle cx="406.8" cy="575.68" r="3.2" fill="none" stroke="#e64f58" stroke-width="1.05"/><circle cx="407.81" cy="575.72" r="3.2" fill="none" stroke="#e64f58" stroke-width="1.05"/><circle cx="408.82" cy="575.76" r="3.2" fill="none" stroke="#e64f58" stroke-width="1.05"/><circle cx="409.83" cy="575.8" r="3.2" fill="none" stroke="#e64f58" stroke-width="1.05"/><circle cx="410.84" cy="575.84" r="3.2" fill="none" stroke="#e64f58" stroke-width="1.05"/><circle cx="411.86" cy="575.89" r="3.2" fill="none" stroke="#e64f58" stroke-width="1.05"/><circle cx="412.87" cy="575.93" r="3.2" fill="none" stroke="#e64f58" stroke-width="1.05"/><circle cx="413.88" cy="575.97" r="3.2" fill="none" stroke="#e64f58" stroke-width="1.05"/><circle cx="414.89" cy="576.02" r="3.2" fill="none" stroke="#e64f58" stroke-width="1.05"/><circle cx="415.9" cy="576.06" r="3.2" fill="none" stroke="#e64f58" stroke-width="1.05"/><circle cx="416.92" cy="576.11" r="3.2" fill="none" stroke="#e64f58" stroke-width="1.05"/><circle cx="417.93" cy="576.15" r="3.2" fill="none" stroke="#e64f58" stroke-width="1.05"/><circle cx="418.94" cy="576.2" r="3.2" fill="none" stroke="#e64f58" stroke-width="1.05"/><circle cx="419.95" cy="576.25" r="3.2" fill="none" stroke="#e64f58" stroke-width="1.05"/><circle cx="420.96" cy="576.29" r="3.2" fill="none" stroke="#e64f58" stroke-width="1.05"/><circle cx="421.98" cy="576.34" r="3.2" fill="none" stroke="#e64f58" stroke-width="1.05"/><circle cx="422.99" cy="576.39" r="3.2" fill="none" stroke="#e64f58" stroke-width="1.05"/><circle cx="424" cy="576.44" r="3.2" fill="none" stroke="#e64f58" stroke-width="1.05"/><circle cx="425.01" cy="576.49" r="3.2" fill="none" stroke="#e64f58" stroke-width="1.05"/><circle cx="426.02" cy="576.54" r="3.2" fill="none" stroke="#e64f58" stroke-width="1.05"/><circle cx="427.04" cy="576.59" r="3.2" fill="none" stroke="#e64f58" stroke-width="1.05"/><circle cx="428.05" cy="576.64" r="3.2" fill="none" stroke="#e64f58" stroke-width="1.05"/><circle cx="429.06" cy="576.69" r="3.2" fill="none" stroke="#e64f58" stroke-width="1.05"/><circle cx="430.07" cy="576.74" r="3.2" fill="none" stroke="#e64f58" stroke-width="1.05"/><circle cx="431.08" cy="576.79" r="3.2" fill="none" stroke="#e64f58" stroke-width="1.05"/><circle cx="432.1" cy="576.84" r="3.2" fill="none" stroke="#e64f58" stroke-width="1.05"/><circle cx="433.11" cy="576.89" r="3.2" fill="none" stroke="#e64f58" stroke-width="1.05"/><circle cx="434.12" cy="576.95" r="3.2" fill="none" stroke="#e64f58" stroke-width="1.05"/><circle cx="435.13" cy="577" r="3.2" fill="none" stroke="#e64f58" stroke-width="1.05"/><circle cx="436.14" cy="577.05" r="3.2" fill="none" stroke="#e64f58" stroke-width="1.05"/><circle cx="437.16" cy="577.1" r="3.2" fill="none" stroke="#e64f58" stroke-width="1.05"/><circle cx="438.17" cy="577.15" r="3.2" fill="none" stroke="#e64f58" stroke-width="1.05"/><circle cx="439.18" cy="577.21" r="3.2" fill="none" stroke="#e64f58" stroke-width="1.05"/><circle cx="440.19" cy="577.26" r="3.2" fill="none" stroke="#e64f58" stroke-width="1.05"/><circle cx="441.2" cy="577.31" r="3.2" fill="none" stroke="#e64f58" stroke-width="1.05"/><circle cx="442.22" cy="577.36" r="3.2" fill="none" stroke="#e64f58" stroke-width="1.05"/><circle cx="443.23" cy="577.42" r="3.2" fill="none" stroke="#e64f58" stroke-width="1.05"/><circle cx="444.24" cy="577.47" r="3.2" fill="none" stroke="#e64f58" stroke-width="1.05"/><circle cx="445.25" cy="577.53" r="3.2" fill="none" stroke="#e64f58" stroke-width="1.05"/><circle cx="446.26" cy="577.58" r="3.2" fill="none" stroke="#e64f58" stroke-width="1.05"/><circle cx="447.28" cy="577.63" r="3.2" fill="none" stroke="#e64f58" stroke-width="1.05"/><circle cx="448.29" cy="577.69" r="3.2" fill="none" stroke="#e64f58" stroke-width="1.05"/><circle cx="449.3" cy="577.74" r="3.2" fill="none" stroke="#e64f58" stroke-width="1.05"/><circle cx="450.31" cy="577.8" r="3.2" fill="none" stroke="#e64f58" stroke-width="1.05"/><circle cx="451.32" cy="577.86" r="3.2" fill="none" stroke="#e64f58" stroke-width="1.05"/><circle cx="452.34" cy="577.91" r="3.2" fill="none" stroke="#e64f58" stroke-width="1.05"/><circle cx="453.35" cy="577.97" r="3.2" fill="none" stroke="#e64f58" stroke-width="1.05"/><circle cx="454.36" cy="578.03" r="3.2" fill="none" stroke="#e64f58" stroke-width="1.05"/><circle cx="455.37" cy="578.08" r="3.2" fill="none" stroke="#e64f58" stroke-width="1.05"/><circle cx="456.38" cy="578.14" r="3.2" fill="none" stroke="#e64f58" stroke-width="1.05"/><circle cx="457.4" cy="578.2" r="3.2" fill="none" stroke="#e64f58" stroke-width="1.05"/><circle cx="458.41" cy="578.26" r="3.2" fill="none" stroke="#e64f58" stroke-width="1.05"/><circle cx="459.42" cy="578.32" r="3.2" fill="none" stroke="#e64f58" stroke-width="1.05"/><circle cx="460.43" cy="578.37" r="3.2" fill="none" stroke="#e64f58" stroke-width="1.05"/><circle cx="461.44" cy="578.43" r="3.2" fill="none" stroke="#e64f58" stroke-width="1.05"/><circle cx="462.46" cy="578.49" r="3.2" fill="none" stroke="#e64f58" stroke-width="1.05"/><circle cx="463.47" cy="578.55" r="3.2" fill="none" stroke="#e64f58" stroke-width="1.05"/><circle cx="464.48" cy="578.62" r="3.2" fill="none" stroke="#e64f58" stroke-width="1.05"/><circle cx="465.49" cy="578.68" r="3.2" fill="none" stroke="#e64f58" stroke-width="1.05"/><circle cx="466.5" cy="578.74" r="3.2" fill="none" stroke="#e64f58" stroke-width="1.05"/><circle cx="467.52" cy="578.8" r="3.2" fill="none" stroke="#e64f58" stroke-width="1.05"/><circle cx="468.53" cy="578.86" r="3.2" fill="none" stroke="#e64f58" stroke-width="1.05"/><circle cx="469.54" cy="578.93" r="3.2" fill="none" stroke="#e64f58" stroke-width="1.05"/><circle cx="470.55" cy="578.99" r="3.2" fill="none" stroke="#e64f58" stroke-width="1.05"/><circle cx="471.56" cy="579.05" r="3.2" fill="none" stroke="#e64f58" stroke-width="1.05"/><circle cx="472.58" cy="579.12" r="3.2" fill="none" stroke="#e64f58" stroke-width="1.05"/><circle cx="473.59" cy="579.18" r="3.2" fill="none" stroke="#e64f58" stroke-width="1.05"/><circle cx="474.6" cy="579.25" r="3.2" fill="none" stroke="#e64f58" stroke-width="1.05"/><circle cx="475.61" cy="579.32" r="3.2" fill="none" stroke="#e64f58" stroke-width="1.05"/><circle cx="476.62" cy="579.38" r="3.2" fill="none" stroke="#e64f58" stroke-width="1.05"/><circle cx="477.64" cy="579.45" r="3.2" fill="none" stroke="#e64f58" stroke-width="1.05"/><circle cx="478.65" cy="579.52" r="3.2" fill="none" stroke="#e64f58" stroke-width="1.05"/><circle cx="479.66" cy="579.59" r="3.2" fill="none" stroke="#e64f58" stroke-width="1.05"/><circle cx="480.67" cy="579.66" r="3.2" fill="none" stroke="#e64f58" stroke-width="1.05"/><circle cx="481.68" cy="579.73" r="3.2" fill="none" stroke="#e64f58" stroke-width="1.05"/><circle cx="482.7" cy="579.8" r="3.2" fill="none" stroke="#e64f58" stroke-width="1.05"/><circle cx="483.71" cy="579.87" r="3.2" fill="none" stroke="#e64f58" stroke-width="1.05"/><circle cx="484.72" cy="579.94" r="3.2" fill="none" stroke="#e64f58" stroke-width="1.05"/><circle cx="485.73" cy="580.02" r="3.2" fill="none" stroke="#e64f58" stroke-width="1.05"/><circle cx="486.74" cy="580.09" r="3.2" fill="none" stroke="#e64f58" stroke-width="1.05"/><circle cx="487.76" cy="580.16" r="3.2" fill="none" stroke="#e64f58" stroke-width="1.05"/><circle cx="488.77" cy="580.24" r="3.2" fill="none" stroke="#e64f58" stroke-width="1.05"/><circle cx="489.78" cy="580.31" r="3.2" fill="none" stroke="#e64f58" stroke-width="1.05"/><circle cx="490.79" cy="580.39" r="3.2" fill="none" stroke="#e64f58" stroke-width="1.05"/><circle cx="491.8" cy="580.46" r="3.2" fill="none" stroke="#e64f58" stroke-width="1.05"/><circle cx="492.82" cy="580.54" r="3.2" fill="none" stroke="#e64f58" stroke-width="1.05"/><circle cx="493.83" cy="580.61" r="3.2" fill="none" stroke="#e64f58" stroke-width="1.05"/><circle cx="494.84" cy="580.69" r="3.2" fill="none" stroke="#e64f58" stroke-width="1.05"/><circle cx="495.85" cy="580.77" r="3.2" fill="none" stroke="#e64f58" stroke-width="1.05"/><circle cx="496.86" cy="580.84" r="3.2" fill="none" stroke="#e64f58" stroke-width="1.05"/><circle cx="497.88" cy="580.92" r="3.2" fill="none" stroke="#e64f58" stroke-width="1.05"/><circle cx="498.89" cy="581" r="3.2" fill="none" stroke="#e64f58" stroke-width="1.05"/><circle cx="499.9" cy="581.08" r="3.2" fill="none" stroke="#e64f58" stroke-width="1.05"/><circle cx="500.91" cy="581.15" r="3.2" fill="none" stroke="#e64f58" stroke-width="1.05"/><circle cx="501.92" cy="581.23" r="3.2" fill="none" stroke="#e64f58" stroke-width="1.05"/><circle cx="502.94" cy="581.31" r="3.2" fill="none" stroke="#e64f58" stroke-width="1.05"/><circle cx="503.95" cy="581.39" r="3.2" fill="none" stroke="#e64f58" stroke-width="1.05"/><circle cx="504.96" cy="581.47" r="3.2" fill="none" stroke="#e64f58" stroke-width="1.05"/><circle cx="505.97" cy="581.55" r="3.2" fill="none" stroke="#e64f58" stroke-width="1.05"/><circle cx="506.98" cy="581.63" r="3.2" fill="none" stroke="#e64f58" stroke-width="1.05"/><circle cx="508" cy="581.71" r="3.2" fill="none" stroke="#e64f58" stroke-width="1.05"/><circle cx="509.01" cy="581.78" r="3.2" fill="none" stroke="#e64f58" stroke-width="1.05"/><circle cx="510.02" cy="581.86" r="3.2" fill="none" stroke="#e64f58" stroke-width="1.05"/><circle cx="511.03" cy="581.94" r="3.2" fill="none" stroke="#e64f58" stroke-width="1.05"/><circle cx="512.04" cy="582.02" r="3.2" fill="none" stroke="#e64f58" stroke-width="1.05"/><circle cx="513.06" cy="582.1" r="3.2" fill="none" stroke="#e64f58" stroke-width="1.05"/><circle cx="514.07" cy="582.18" r="3.2" fill="none" stroke="#e64f58" stroke-width="1.05"/><circle cx="515.08" cy="582.26" r="3.2" fill="none" stroke="#e64f58" stroke-width="1.05"/><circle cx="516.09" cy="582.34" r="3.2" fill="none" stroke="#e64f58" stroke-width="1.05"/><circle cx="517.1" cy="582.42" r="3.2" fill="none" stroke="#e64f58" stroke-width="1.05"/><circle cx="518.12" cy="582.5" r="3.2" fill="none" stroke="#e64f58" stroke-width="1.05"/><circle cx="519.13" cy="582.58" r="3.2" fill="none" stroke="#e64f58" stroke-width="1.05"/><circle cx="520.14" cy="582.65" r="3.2" fill="none" stroke="#e64f58" stroke-width="1.05"/><circle cx="521.15" cy="582.73" r="3.2" fill="none" stroke="#e64f58" stroke-width="1.05"/><circle cx="522.16" cy="582.81" r="3.2" fill="none" stroke="#e64f58" stroke-width="1.05"/><circle cx="523.18" cy="582.89" r="3.2" fill="none" stroke="#e64f58" stroke-width="1.05"/><circle cx="524.19" cy="582.97" r="3.2" fill="none" stroke="#e64f58" stroke-width="1.05"/><circle cx="525.2" cy="583.04" r="3.2" fill="none" stroke="#e64f58" stroke-width="1.05"/><circle cx="526.21" cy="583.12" r="3.2" fill="none" stroke="#e64f58" stroke-width="1.05"/><circle cx="527.22" cy="583.2" r="3.2" fill="none" stroke="#e64f58" stroke-width="1.05"/><circle cx="528.24" cy="583.28" r="3.2" fill="none" stroke="#e64f58" stroke-width="1.05"/><circle cx="529.25" cy="583.35" r="3.2" fill="none" stroke="#e64f58" stroke-width="1.05"/><circle cx="530.26" cy="583.43" r="3.2" fill="none" stroke="#e64f58" stroke-width="1.05"/><circle cx="531.27" cy="583.51" r="3.2" fill="none" stroke="#e64f58" stroke-width="1.05"/><circle cx="532.28" cy="583.59" r="3.2" fill="none" stroke="#e64f58" stroke-width="1.05"/><circle cx="533.3" cy="583.67" r="3.2" fill="none" stroke="#e64f58" stroke-width="1.05"/><circle cx="534.31" cy="583.75" r="3.2" fill="none" stroke="#e64f58" stroke-width="1.05"/><circle cx="535.32" cy="583.82" r="3.2" fill="none" stroke="#e64f58" stroke-width="1.05"/><circle cx="536.33" cy="583.9" r="3.2" fill="none" stroke="#e64f58" stroke-width="1.05"/><circle cx="537.34" cy="583.98" r="3.2" fill="none" stroke="#e64f58" stroke-width="1.05"/><circle cx="538.36" cy="584.06" r="3.2" fill="none" stroke="#e64f58" stroke-width="1.05"/><circle cx="539.37" cy="584.14" r="3.2" fill="none" stroke="#e64f58" stroke-width="1.05"/><circle cx="540.38" cy="584.22" r="3.2" fill="none" stroke="#e64f58" stroke-width="1.05"/><circle cx="541.39" cy="584.3" r="3.2" fill="none" stroke="#e64f58" stroke-width="1.05"/><circle cx="542.4" cy="584.38" r="3.2" fill="none" stroke="#e64f58" stroke-width="1.05"/><circle cx="543.42" cy="584.46" r="3.2" fill="none" stroke="#e64f58" stroke-width="1.05"/><circle cx="544.43" cy="584.54" r="3.2" fill="none" stroke="#e64f58" stroke-width="1.05"/><circle cx="545.44" cy="584.62" r="3.2" fill="none" stroke="#e64f58" stroke-width="1.05"/><circle cx="546.45" cy="584.7" r="3.2" fill="none" stroke="#e64f58" stroke-width="1.05"/><circle cx="547.46" cy="584.77" r="3.2" fill="none" stroke="#e64f58" stroke-width="1.05"/><circle cx="548.48" cy="584.85" r="3.2" fill="none" stroke="#e64f58" stroke-width="1.05"/><circle cx="549.49" cy="584.93" r="3.2" fill="none" stroke="#e64f58" stroke-width="1.05"/><circle cx="550.5" cy="585.01" r="3.2" fill="none" stroke="#e64f58" stroke-width="1.05"/><circle cx="551.51" cy="585.09" r="3.2" fill="none" stroke="#e64f58" stroke-width="1.05"/><circle cx="552.52" cy="585.17" r="3.2" fill="none" stroke="#e64f58" stroke-width="1.05"/><circle cx="553.54" cy="585.25" r="3.2" fill="none" stroke="#e64f58" stroke-width="1.05"/><circle cx="554.55" cy="585.33" r="3.2" fill="none" stroke="#e64f58" stroke-width="1.05"/><circle cx="555.56" cy="585.41" r="3.2" fill="none" stroke="#e64f58" stroke-width="1.05"/><circle cx="556.57" cy="585.49" r="3.2" fill="none" stroke="#e64f58" stroke-width="1.05"/><circle cx="557.58" cy="585.57" r="3.2" fill="none" stroke="#e64f58" stroke-width="1.05"/><circle cx="558.6" cy="585.65" r="3.2" fill="none" stroke="#e64f58" stroke-width="1.05"/><circle cx="559.61" cy="585.73" r="3.2" fill="none" stroke="#e64f58" stroke-width="1.05"/><circle cx="560.62" cy="585.81" r="3.2" fill="none" stroke="#e64f58" stroke-width="1.05"/><circle cx="561.63" cy="585.89" r="3.2" fill="none" stroke="#e64f58" stroke-width="1.05"/><circle cx="562.64" cy="585.96" r="3.2" fill="none" stroke="#e64f58" stroke-width="1.05"/><circle cx="563.66" cy="586.04" r="3.2" fill="none" stroke="#e64f58" stroke-width="1.05"/><circle cx="564.67" cy="586.12" r="3.2" fill="none" stroke="#e64f58" stroke-width="1.05"/><circle cx="565.68" cy="586.2" r="3.2" fill="none" stroke="#e64f58" stroke-width="1.05"/><circle cx="566.69" cy="586.28" r="3.2" fill="none" stroke="#e64f58" stroke-width="1.05"/><circle cx="567.7" cy="586.36" r="3.2" fill="none" stroke="#e64f58" stroke-width="1.05"/><circle cx="568.72" cy="586.43" r="3.2" fill="none" stroke="#e64f58" stroke-width="1.05"/><circle cx="569.73" cy="586.51" r="3.2" fill="none" stroke="#e64f58" stroke-width="1.05"/><circle cx="570.74" cy="586.59" r="3.2" fill="none" stroke="#e64f58" stroke-width="1.05"/><circle cx="571.75" cy="586.67" r="3.2" fill="none" stroke="#e64f58" stroke-width="1.05"/><circle cx="572.76" cy="586.75" r="3.2" fill="none" stroke="#e64f58" stroke-width="1.05"/><circle cx="573.78" cy="586.82" r="3.2" fill="none" stroke="#e64f58" stroke-width="1.05"/><circle cx="574.79" cy="586.9" r="3.2" fill="none" stroke="#e64f58" stroke-width="1.05"/><circle cx="575.8" cy="586.98" r="3.2" fill="none" stroke="#e64f58" stroke-width="1.05"/><circle cx="576.81" cy="587.05" r="3.2" fill="none" stroke="#e64f58" stroke-width="1.05"/><circle cx="577.82" cy="587.13" r="3.2" fill="none" stroke="#e64f58" stroke-width="1.05"/><circle cx="578.84" cy="587.21" r="3.2" fill="none" stroke="#e64f58" stroke-width="1.05"/><circle cx="579.85" cy="587.28" r="3.2" fill="none" stroke="#e64f58" stroke-width="1.05"/><circle cx="580.86" cy="587.36" r="3.2" fill="none" stroke="#e64f58" stroke-width="1.05"/><circle cx="581.87" cy="587.44" r="3.2" fill="none" stroke="#e64f58" stroke-width="1.05"/><circle cx="582.88" cy="587.51" r="3.2" fill="none" stroke="#e64f58" stroke-width="1.05"/><circle cx="583.9" cy="587.59" r="3.2" fill="none" stroke="#e64f58" stroke-width="1.05"/><circle cx="584.91" cy="587.67" r="3.2" fill="none" stroke="#e64f58" stroke-width="1.05"/><circle cx="585.92" cy="587.74" r="3.2" fill="none" stroke="#e64f58" stroke-width="1.05"/><circle cx="586.93" cy="587.82" r="3.2" fill="none" stroke="#e64f58" stroke-width="1.05"/><circle cx="587.94" cy="587.89" r="3.2" fill="none" stroke="#e64f58" stroke-width="1.05"/><circle cx="588.96" cy="587.97" r="3.2" fill="none" stroke="#e64f58" stroke-width="1.05"/><circle cx="589.97" cy="588.04" r="3.2" fill="none" stroke="#e64f58" stroke-width="1.05"/><circle cx="590.98" cy="588.12" r="3.2" fill="none" stroke="#e64f58" stroke-width="1.05"/><circle cx="591.99" cy="588.19" r="3.2" fill="none" stroke="#e64f58" stroke-width="1.05"/><circle cx="593" cy="588.27" r="3.2" fill="none" stroke="#e64f58" stroke-width="1.05"/><circle cx="594.02" cy="588.35" r="3.2" fill="none" stroke="#e64f58" stroke-width="1.05"/><circle cx="595.03" cy="588.42" r="3.2" fill="none" stroke="#e64f58" stroke-width="1.05"/><circle cx="596.04" cy="588.5" r="3.2" fill="none" stroke="#e64f58" stroke-width="1.05"/><circle cx="597.05" cy="588.57" r="3.2" fill="none" stroke="#e64f58" stroke-width="1.05"/><circle cx="598.06" cy="588.65" r="3.2" fill="none" stroke="#e64f58" stroke-width="1.05"/><circle cx="599.08" cy="588.72" r="3.2" fill="none" stroke="#e64f58" stroke-width="1.05"/><circle cx="600.09" cy="588.8" r="3.2" fill="none" stroke="#e64f58" stroke-width="1.05"/><circle cx="601.1" cy="588.87" r="3.2" fill="none" stroke="#e64f58" stroke-width="1.05"/><circle cx="602.11" cy="588.95" r="3.2" fill="none" stroke="#e64f58" stroke-width="1.05"/><circle cx="603.12" cy="589.02" r="3.2" fill="none" stroke="#e64f58" stroke-width="1.05"/><circle cx="604.14" cy="589.1" r="3.2" fill="none" stroke="#e64f58" stroke-width="1.05"/><circle cx="605.15" cy="589.17" r="3.2" fill="none" stroke="#e64f58" stroke-width="1.05"/><circle cx="606.16" cy="589.25" r="3.2" fill="none" stroke="#e64f58" stroke-width="1.05"/><circle cx="607.17" cy="589.32" r="3.2" fill="none" stroke="#e64f58" stroke-width="1.05"/><circle cx="608.18" cy="589.4" r="3.2" fill="none" stroke="#e64f58" stroke-width="1.05"/><circle cx="609.2" cy="589.47" r="3.2" fill="none" stroke="#e64f58" stroke-width="1.05"/><circle cx="610.21" cy="589.55" r="3.2" fill="none" stroke="#e64f58" stroke-width="1.05"/><circle cx="611.22" cy="589.62" r="3.2" fill="none" stroke="#e64f58" stroke-width="1.05"/><circle cx="612.23" cy="589.69" r="3.2" fill="none" stroke="#e64f58" stroke-width="1.05"/><circle cx="613.24" cy="589.77" r="3.2" fill="none" stroke="#e64f58" stroke-width="1.05"/><circle cx="614.26" cy="589.84" r="3.2" fill="none" stroke="#e64f58" stroke-width="1.05"/><circle cx="615.27" cy="589.92" r="3.2" fill="none" stroke="#e64f58" stroke-width="1.05"/><circle cx="616.28" cy="589.99" r="3.2" fill="none" stroke="#e64f58" stroke-width="1.05"/><circle cx="617.29" cy="590.07" r="3.2" fill="none" stroke="#e64f58" stroke-width="1.05"/><circle cx="618.3" cy="590.14" r="3.2" fill="none" stroke="#e64f58" stroke-width="1.05"/><circle cx="619.32" cy="590.22" r="3.2" fill="none" stroke="#e64f58" stroke-width="1.05"/><circle cx="620.33" cy="590.29" r="3.2" fill="none" stroke="#e64f58" stroke-width="1.05"/><circle cx="621.34" cy="590.37" r="3.2" fill="none" stroke="#e64f58" stroke-width="1.05"/><circle cx="622.35" cy="590.44" r="3.2" fill="none" stroke="#e64f58" stroke-width="1.05"/><circle cx="623.36" cy="590.52" r="3.2" fill="none" stroke="#e64f58" stroke-width="1.05"/><circle cx="624.38" cy="590.59" r="3.2" fill="none" stroke="#e64f58" stroke-width="1.05"/><circle cx="625.39" cy="590.67" r="3.2" fill="none" stroke="#e64f58" stroke-width="1.05"/><circle cx="626.4" cy="590.74" r="3.2" fill="none" stroke="#e64f58" stroke-width="1.05"/><circle cx="627.41" cy="590.82" r="3.2" fill="none" stroke="#e64f58" stroke-width="1.05"/><circle cx="628.42" cy="590.89" r="3.2" fill="none" stroke="#e64f58" stroke-width="1.05"/><circle cx="629.44" cy="590.97" r="3.2" fill="none" stroke="#e64f58" stroke-width="1.05"/><circle cx="630.45" cy="591.04" r="3.2" fill="none" stroke="#e64f58" stroke-width="1.05"/><circle cx="631.46" cy="591.12" r="3.2" fill="none" stroke="#e64f58" stroke-width="1.05"/><circle cx="632.47" cy="591.19" r="3.2" fill="none" stroke="#e64f58" stroke-width="1.05"/><circle cx="323.81" cy="510.4" r="3.6" fill="none" stroke="#e64f58" stroke-width="1.2"/><circle cx="324.82" cy="515.6" r="3.6" fill="none" stroke="#e64f58" stroke-width="1.2"/><circle cx="325.84" cy="521.22" r="3.6" fill="none" stroke="#e64f58" stroke-width="1.2"/><circle cx="326.85" cy="526.56" r="3.6" fill="none" stroke="#e64f58" stroke-width="1.2"/><circle cx="327.86" cy="532.18" r="3.6" fill="none" stroke="#e64f58" stroke-width="1.2"/>
<circle cx="632.47" cy="591.19" r="3.2" fill="#ffffff" stroke="#e64f58" stroke-width="1.1"/>
<circle cx="355.7" cy="622.2" r="3.75" fill="none" stroke="#5597d8" stroke-width="1.15"/>
<text x="374.3" y="626.6" font-size="12" text-anchor="start" fill="#0a0a0a">NMM</text>
<circle cx="355.7" cy="637.5" r="3.75" fill="none" stroke="#e64f58" stroke-width="1.15"/>
<text x="374.3" y="641.9" font-size="12" text-anchor="start" fill="#0a0a0a">NMMD</text>
<text x="629.6" y="500.1" font-size="12" text-anchor="end" fill="#0a0a0a" word-spacing="0.9">0.2 A g<tspan font-size="8.8" dy="-5.2">-1</tspan></text>
<path d="M629.6 512.9V533.1H623.1" fill="none" stroke="#0a0a0a" stroke-width="1.3"/><path d="M615.1 533.1l9.5 -3.1v6.2z" fill="#0a0a0a"/>
<path d="M323.3 602V581.9H331.4" fill="none" stroke="#d1343c" stroke-width="1.3"/><path d="M339.4 581.9l-11.5 -3.4v6.8z" fill="#d1343c"/>
<rect x="317.5" y="480.9" width="319.3" height="168.6" fill="none" stroke="#0a0a0a" stroke-width="1.45"/>
<path d="M317.5 649.5h-4.2 M317.5 593.3h-4.2 M317.5 537.1h-4.2 M317.5 480.9h-4.2 M317.5 621.4h-2.5 M317.5 565.2h-2.5 M317.5 509h-2.5" stroke="#0a0a0a" stroke-width="1.25" fill="none"/>
<text x="310.9" y="653.56" font-size="14" text-anchor="end" fill="#0a0a0a">80</text>
<text x="310.9" y="597.36" font-size="14" text-anchor="end" fill="#0a0a0a">120</text>
<text x="310.9" y="541.16" font-size="14" text-anchor="end" fill="#0a0a0a">160</text>
<text x="310.9" y="484.96" font-size="14" text-anchor="end" fill="#0a0a0a">200</text>
<path d="M636.8 649.5h4.2 M636.8 593.3h4.2 M636.8 537.1h4.2 M636.8 480.9h4.2 M636.8 621.4h2.5 M636.8 565.2h2.5 M636.8 509h2.5" stroke="#0a0a0a" stroke-width="1.25" fill="none"/>
<text x="642.6" y="653.56" font-size="14" text-anchor="start" fill="#0a0a0a">90</text>
<text x="642.6" y="597.36" font-size="14" text-anchor="start" fill="#0a0a0a">95</text>
<text x="642.6" y="541.16" font-size="14" text-anchor="start" fill="#0a0a0a">100</text>
<text x="642.6" y="484.96" font-size="14" text-anchor="start" fill="#0a0a0a">105</text>
<path d="M322.8 649.5v4.2 M373.4 649.5v4.2 M424 649.5v4.2 M474.6 649.5v4.2 M525.2 649.5v4.2 M575.8 649.5v4.2 M626.4 649.5v4.2 M348.1 649.5v2.5 M398.7 649.5v2.5 M449.3 649.5v2.5 M499.9 649.5v2.5 M550.5 649.5v2.5 M601.1 649.5v2.5" stroke="#0a0a0a" stroke-width="1.25" fill="none"/>
<text x="322.8" y="667.7" font-size="14" text-anchor="middle" fill="#0a0a0a">0</text>
<text x="373.4" y="667.7" font-size="14" text-anchor="middle" fill="#0a0a0a">50</text>
<text x="424" y="667.7" font-size="14" text-anchor="middle" fill="#0a0a0a">100</text>
<text x="474.6" y="667.7" font-size="14" text-anchor="middle" fill="#0a0a0a">150</text>
<text x="525.2" y="667.7" font-size="14" text-anchor="middle" fill="#0a0a0a">200</text>
<text x="575.8" y="667.7" font-size="14" text-anchor="middle" fill="#0a0a0a">250</text>
<text x="626.4" y="667.7" font-size="14" text-anchor="middle" fill="#0a0a0a">300</text>
<text x="491" y="681.6" font-size="14.1" text-anchor="middle" fill="#0a0a0a">Cycle number</text>
<text x="0" y="0" font-size="14.2" text-anchor="middle" fill="#0a0a0a" word-spacing="1.2" transform="translate(285,572.5) rotate(-90)">Specific capacity (mAh g<tspan font-size="9" dy="-5.2">-1</tspan><tspan dy="5.2">)</tspan></text>
<text x="0" y="0" font-size="14.1" text-anchor="middle" fill="#0a0a0a" transform="translate(677.6,571.8) rotate(-90)">Coulombic efficiency (%)</text>
<text x="276" y="480.2" font-size="24.5" text-anchor="start" fill="#0a0a0a">f</text>
<rect x="48.2" y="695" width="147.1" height="158.2" fill="url(#gbg0)"/>
<rect x="195.3" y="695" width="146.2" height="158.2" fill="url(#gbg1)"/>
<rect x="341.5" y="695" width="147.5" height="158.2" fill="url(#gbg2)"/>
<rect x="489" y="695" width="146.4" height="158.2" fill="url(#gbg3)"/>
<rect x="62.8" y="816.81" width="17.0" height="36.39" fill="url(#gb0rate)"/>
<rect x="89.9" y="766.19" width="17.0" height="87.01" fill="url(#gb0rate)"/>
<rect x="136.2" y="728.22" width="17.0" height="124.98" fill="url(#gb0cyc)"/>
<rect x="163.5" y="723.48" width="17.0" height="129.72" fill="url(#gb0cyc)"/>
<rect x="50.3" y="696.9" width="26.3" height="10.8" fill="url(#gl0rate)"/>
<rect x="50.3" y="712.4" width="26.3" height="10.8" fill="url(#gl0cyc)"/>
<text x="80.3" y="706.6" font-size="12.4" text-anchor="start" fill="#0a0a0a">Rate</text>
<text x="80.3" y="722.2" font-size="12.4" text-anchor="start" fill="#0a0a0a">Cycling</text>
<text x="72.4" y="815.5" font-size="12.2" text-anchor="middle" fill="#3f74b8">23%</text>
<text x="99.3" y="764" font-size="12.2" text-anchor="middle" fill="#3f74b8">55%</text>
<text x="146" y="759.7" font-size="12.2" text-anchor="middle" fill="#b23cbc">79%</text>
<text x="171.7" y="720.8" font-size="12.2" text-anchor="middle" fill="#b23cbc">82%</text>
<path d="M65.7 799.4Q74.09 785.47 83.95 781.19" fill="none" stroke="#6ab0e6" stroke-width="1.5"/>
<path d="M89 779L84.23 784.34L81.84 778.84z" fill="#6ab0e6"/>
<path d="M143.5 748.5Q154.36 735.93 165.16 733.3" fill="none" stroke="#c853d0" stroke-width="1.5"/>
<path d="M170.5 732L164.89 736.45L163.47 730.62z" fill="#c853d0"/>
<text x="0" y="0" font-size="12.6" text-anchor="start" fill="#0a0a0a" transform="translate(56,863.2) rotate(54)">NM</text>
<text x="0" y="0" font-size="12.6" text-anchor="start" fill="#0a0a0a" transform="translate(80.5,863.2) rotate(54)">NMD</text>
<text x="0" y="0" font-size="12.6" text-anchor="start" fill="#0a0a0a" transform="translate(128.5,863.2) rotate(54)">NM</text>
<text x="0" y="0" font-size="12.6" text-anchor="start" fill="#0a0a0a" transform="translate(153,863.2) rotate(54)">NMD</text>
<rect x="209.9" y="815.23" width="17.0" height="37.97" fill="url(#gb1rate)"/>
<rect x="237.2" y="775.68" width="17.0" height="77.52" fill="url(#gb1rate)"/>
<rect x="283.2" y="829.47" width="17.0" height="23.73" fill="url(#gb1cyc)"/>
<rect x="310.5" y="772.52" width="17.0" height="80.68" fill="url(#gb1cyc)"/>
<rect x="199.4" y="696.9" width="26.3" height="10.8" fill="url(#gl1rate)"/>
<rect x="199.4" y="712.4" width="26.3" height="10.8" fill="url(#gl1cyc)"/>
<text x="229.8" y="706.6" font-size="12.4" text-anchor="start" fill="#0a0a0a">Rate</text>
<text x="229.8" y="722.2" font-size="12.4" text-anchor="start" fill="#0a0a0a">Cycling</text>
<text x="218.6" y="814.1" font-size="12.2" text-anchor="middle" fill="#6fd0c7">24%</text>
<text x="245.2" y="773.9" font-size="12.2" text-anchor="middle" fill="#6fd0c7">49%</text>
<text x="290.6" y="828.5" font-size="12.2" text-anchor="middle" fill="#b0602a">15%</text>
<text x="320.4" y="771.9" font-size="12.2" text-anchor="middle" fill="#b0602a">51%</text>
<path d="M209.9 801.7Q216.6 784.23 227.61 776.94" fill="none" stroke="#66ccc3" stroke-width="1.5"/>
<path d="M232.2 773.9L228.44 779.99L225.12 774.99z" fill="#66ccc3"/>
<path d="M286.9 811.6Q291.34 790.34 303.26 779.33" fill="none" stroke="#c8a232" stroke-width="1.5"/>
<path d="M307.3 775.6L304.56 782.21L300.49 777.81z" fill="#c8a232"/>
<text x="0" y="0" font-size="12.6" text-anchor="start" fill="#0a0a0a" transform="translate(204.7,863.2) rotate(54)">NMN</text>
<text x="0" y="0" font-size="12.6" text-anchor="start" fill="#0a0a0a" transform="translate(229.3,863.2) rotate(54)">NMND</text>
<text x="0" y="0" font-size="12.6" text-anchor="start" fill="#0a0a0a" transform="translate(278.3,863.2) rotate(54)">NMN</text>
<text x="0" y="0" font-size="12.6" text-anchor="start" fill="#0a0a0a" transform="translate(302.8,863.2) rotate(54)">NMND</text>
<rect x="356.1" y="761.44" width="17.0" height="91.76" fill="url(#gb2rate)"/>
<rect x="383.4" y="745.62" width="17.0" height="107.58" fill="url(#gb2rate)"/>
<rect x="429.4" y="767.77" width="17.0" height="85.43" fill="url(#gb2cyc)"/>
<rect x="456.7" y="720.31" width="17.0" height="132.89" fill="url(#gb2cyc)"/>
<rect x="344.4" y="696.9" width="26.3" height="10.8" fill="url(#gl2rate)"/>
<rect x="344.4" y="712.4" width="26.3" height="10.8" fill="url(#gl2cyc)"/>
<text x="375.2" y="706.6" font-size="12.4" text-anchor="start" fill="#0a0a0a">Rate</text>
<text x="375.2" y="722.2" font-size="12.4" text-anchor="start" fill="#0a0a0a">Cycling</text>
<text x="365.3" y="790.5" font-size="12.2" text-anchor="middle" fill="#4e9a3a">58%</text>
<text x="394.1" y="742.6" font-size="12.2" text-anchor="middle" fill="#4e9a3a">68%</text>
<text x="438.9" y="790.5" font-size="12.2" text-anchor="middle" fill="#b4662e">54%</text>
<text x="466.7" y="717.2" font-size="12.2" text-anchor="middle" fill="#b4662e">84%</text>
<path d="M358.6 761.5Q367.47 747.69 377.59 743.64" fill="none" stroke="#4d8f2e" stroke-width="1.5"/>
<path d="M382.7 741.6L377.78 746.8L375.55 741.23z" fill="#4d8f2e"/>
<path d="M435.6 762.5Q437.13 740.24 447.81 727.25" fill="none" stroke="#b0602a" stroke-width="1.5"/>
<path d="M451.3 723L449.49 729.93L444.85 726.12z" fill="#b0602a"/>
<text x="0" y="0" font-size="12.6" text-anchor="start" fill="#0a0a0a" transform="translate(346.7,863.2) rotate(54)">NMC</text>
<text x="0" y="0" font-size="12.6" text-anchor="start" fill="#0a0a0a" transform="translate(371.2,863.2) rotate(54)">NMCD</text>
<text x="0" y="0" font-size="12.6" text-anchor="start" fill="#0a0a0a" transform="translate(419.2,863.2) rotate(54)">NMC</text>
<text x="0" y="0" font-size="12.6" text-anchor="start" fill="#0a0a0a" transform="translate(443.7,863.2) rotate(54)">NMCD</text>
<rect x="503.1" y="791.5" width="17.0" height="61.7" fill="url(#gb3rate)"/>
<rect x="530.3" y="759.86" width="17.0" height="93.34" fill="url(#gb3rate)"/>
<rect x="576.1" y="720.31" width="17.0" height="132.89" fill="url(#gb3cyc)"/>
<rect x="603.2" y="712.4" width="17.0" height="140.8" fill="url(#gb3cyc)"/>
<rect x="493.2" y="696.9" width="26.3" height="10.8" fill="url(#gl3rate)"/>
<rect x="493.2" y="712.4" width="26.3" height="10.8" fill="url(#gl3cyc)"/>
<text x="520.6" y="706.6" font-size="12.4" text-anchor="start" fill="#0a0a0a">Rate</text>
<text x="520.6" y="722.2" font-size="12.4" text-anchor="start" fill="#0a0a0a">Cycling</text>
<text x="512.7" y="819.5" font-size="12.2" text-anchor="middle" fill="#c4262d">39%</text>
<text x="540.5" y="757.3" font-size="12.2" text-anchor="middle" fill="#c4262d">59%</text>
<text x="584.3" y="788.9" font-size="12.2" text-anchor="middle" fill="#2f5e9c">84%</text>
<text x="612.9" y="710.6" font-size="12.2" text-anchor="middle" fill="#2f5e9c">89%</text>
<path d="M501.9 788.3Q510.72 774.51 520.8 770.45" fill="none" stroke="#ec5a64" stroke-width="1.5"/>
<path d="M525.9 768.4L520.99 773.61L518.75 768.04z" fill="#ec5a64"/>
<path d="M584.3 761.1Q592.73 742.31 605.75 734.68" fill="none" stroke="#3a72b5" stroke-width="1.5"/>
<path d="M610.5 731.9L606.41 737.77L603.38 732.6z" fill="#3a72b5"/>
<text x="0" y="0" font-size="12.6" text-anchor="start" fill="#0a0a0a" transform="translate(495.8,863.2) rotate(54)">NMM</text>
<text x="0" y="0" font-size="12.6" text-anchor="start" fill="#0a0a0a" transform="translate(520.3,863.2) rotate(54)">NMMD</text>
<text x="0" y="0" font-size="12.6" text-anchor="start" fill="#0a0a0a" transform="translate(569.3,863.2) rotate(54)">NMM</text>
<text x="0" y="0" font-size="12.6" text-anchor="start" fill="#0a0a0a" transform="translate(593.9,863.2) rotate(54)">NMMD</text>
<line x1="195.3" y1="695" x2="195.3" y2="853.2" stroke="#555" stroke-width="0.9" stroke-dasharray="3.2 2.2"/>
<line x1="341.5" y1="695" x2="341.5" y2="853.2" stroke="#555" stroke-width="0.9" stroke-dasharray="3.2 2.2"/>
<line x1="489" y1="695" x2="489" y2="853.2" stroke="#555" stroke-width="0.9" stroke-dasharray="3.2 2.2"/>
<rect x="48.2" y="695" width="587.2" height="158.2" fill="none" stroke="#0a0a0a" stroke-width="1.45"/>
<path d="M48.2 853.2h-4.2 M48.2 805.74h-4.2 M48.2 758.28h-4.2 M48.2 710.82h-4.2 M48.2 829.47h-2.5 M48.2 782.01h-2.5 M48.2 734.55h-2.5" stroke="#0a0a0a" stroke-width="1.25" fill="none"/>
<text x="41.3" y="857.06" font-size="13.3" text-anchor="end" fill="#0a0a0a">0</text>
<text x="41.3" y="809.6" font-size="13.3" text-anchor="end" fill="#0a0a0a">30</text>
<text x="41.3" y="762.14" font-size="13.3" text-anchor="end" fill="#0a0a0a">60</text>
<text x="41.3" y="714.68" font-size="13.3" text-anchor="end" fill="#0a0a0a">90</text>
<text x="0" y="0" font-size="13.0" text-anchor="middle" fill="#0a0a0a" transform="translate(23.5,772.7) rotate(-90)">Retention (%)</text>
<text x="3.4" y="693.6" font-size="24.9" text-anchor="start" fill="#0a0a0a">g</text>
</svg>
</body></html>
